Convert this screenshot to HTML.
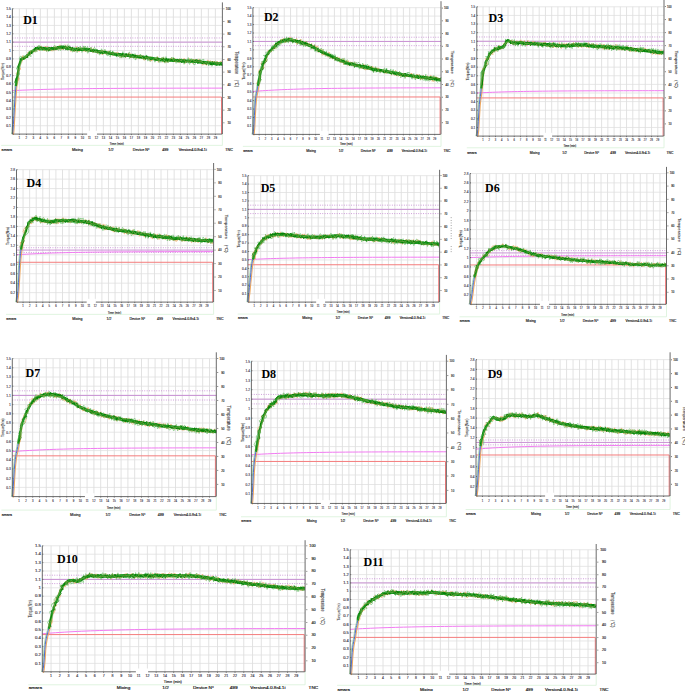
<!DOCTYPE html>
<html><head><meta charset="utf-8"><title>Torque curves</title>
<style>html,body{margin:0;padding:0;background:#fff;width:685px;height:691px;overflow:hidden;font-family:"Liberation Sans",sans-serif}svg{display:block}</style>
</head><body><svg width="685" height="691" viewBox="0 0 685 691" font-family='"Liberation Sans", sans-serif' ><g><path d="M12.4 125.74H222.4M12.4 117.38H222.4M12.4 109.02H222.4M12.4 100.66H222.4M12.4 92.3H222.4M12.4 83.94H222.4M12.4 75.58H222.4M12.4 67.22H222.4M12.4 58.86H222.4M12.4 50.5H222.4M12.4 42.14H222.4M12.4 33.78H222.4M12.4 25.42H222.4M12.4 17.06H222.4M12.4 8.7H222.4" stroke="#e4e4e4" stroke-width="0.9" fill="none"/><path d="M19.4 8.7V134.1M26.4 8.7V134.1M33.4 8.7V134.1M40.4 8.7V134.1M47.4 8.7V134.1M54.4 8.7V134.1M61.4 8.7V134.1M68.4 8.7V134.1M75.4 8.7V134.1M82.4 8.7V134.1M89.4 8.7V134.1M96.4 8.7V134.1M103.4 8.7V134.1M110.4 8.7V134.1M117.4 8.7V134.1M124.4 8.7V134.1M131.4 8.7V134.1M138.4 8.7V134.1M145.4 8.7V134.1M152.4 8.7V134.1M159.4 8.7V134.1M166.4 8.7V134.1M173.4 8.7V134.1M180.4 8.7V134.1M187.4 8.7V134.1M194.4 8.7V134.1M201.4 8.7V134.1M208.4 8.7V134.1M215.4 8.7V134.1" stroke="#dfdfdf" stroke-width="0.9" fill="none"/><path d="M12.4 42.14H222.4" stroke="#c990d4" stroke-width="1"/><path d="M12.4 37.96H222.4M12.4 46.32H222.4" stroke="#c58ad2" stroke-width="0.9" stroke-dasharray="0.9 1.5"/><polyline points="12.4,90.63 15.9,90.45 19.4,90.29 22.9,90.14 26.4,90 29.9,89.86 33.4,89.74 36.9,89.63 40.4,89.52 43.9,89.42 47.4,89.33 50.9,89.24 54.4,89.16 57.9,89.09 61.4,89.02 64.9,88.96 68.4,88.9 71.9,88.84 75.4,88.79 78.9,88.74 82.4,88.69 85.9,88.65 89.4,88.61 92.9,88.58 96.4,88.54 99.9,88.51 103.4,88.48 106.9,88.45 110.4,88.43 113.9,88.41 117.4,88.38 120.9,88.36 124.4,88.34 127.9,88.33 131.4,88.31 134.9,88.29 138.4,88.28 141.9,88.27 145.4,88.25 148.9,88.24 152.4,88.23 155.9,88.22 159.4,88.21 162.9,88.2 166.4,88.19 169.9,88.19 173.4,88.18 176.9,88.17 180.4,88.17 183.9,88.16 187.4,88.16 190.9,88.15 194.4,88.15 197.9,88.14 201.4,88.14 204.9,88.14 208.4,88.13 211.9,88.13 215.4,88.13 218.9,88.12 222.4,88.12" stroke="#f27af2" stroke-width="1" fill="none"/><path d="M12.4 97.07H221.5V134.1" stroke="#f47c7c" stroke-width="1" fill="none"/><polyline points="12.4,134.1 12.9,131.52 13.4,124.49 13.9,115.76 14.4,107.39 14.9,99.75 15.4,92.85 15.9,86.09 16.4,81.86 16.9,79.18 17.4,76.67" stroke="#eea860" stroke-width="1.1" fill="none" transform="translate(0.9,0.9)"/><polyline points="12.4,134.1 12.9,131.52 13.4,124.49 13.9,115.76 14.4,107.39 14.9,99.75 15.4,92.85 15.9,86.09 16.4,81.86 16.9,79.18 17.4,76.67" stroke="#8cc88c" stroke-width="0.8" fill="none" transform="translate(-0.9,0)"/><polyline points="12.4,134.1 12.9,131.52 13.4,124.49 13.9,115.76 14.4,107.39 14.9,99.75 15.4,92.85 15.9,86.09 16.4,81.86 16.9,79.18 17.4,76.67" stroke="#3a5fcd" stroke-width="0.9" fill="none"/><polyline points="16.3,82.9 19.2,78.9 16.1,73.4 20.8,69.1 18.5,64.5 19.9,61.4 22.5,60.5 21.6,58.5 22.7,58.9 22.6,55.7 24.9,59.3 25.2,57.7 25.2,56.1 27.7,57.3 26.7,54.5 28.1,54.5 27.7,52.5 29.5,53 29.6,51.5 30.6,51.1 33.2,52.6 32.2,49.9 33.8,50 36.2,51.7 36.6,51.5 36.6,50 37.1,48.8 37.6,47.1 38.4,46.3 39.7,51 40.3,48.3 41.2,45.9 41.8,49 42.4,50 43.3,49.1 43.9,51 45.4,46 45.8,49 46.7,48.6 47.4,46.3 48.3,49.7 49.1,51 49.9,49.4 50.6,47.4 51.6,50.8 52.3,48.8 53.1,48.7 54,50.1 54.4,46.5 55.8,50.3 56.5,49.3 57.5,49.7 57.4,46.1 59.1,49.3 59.1,45.6 59.9,44.8 61.2,49.3 61.8,49.3 62.4,49.4 63.5,47.2 64.5,46.2 65.7,44.8 65.7,48.6 66.4,49.3 67.1,50.1 68.5,47 69.3,46.8 69.7,49.4 70.3,50.5 71,51.6 72.6,47 73.1,49 73.6,51.6 74.7,48.9 75.5,49.9 76.3,46.5 77.1,50.4 77.9,51.8 78.7,51.3 79.5,51.6 80.3,50.3 81.1,47.8 81.9,50.9 82.7,47.6 83.3,51.3 84.5,46.8 84.8,51.4 86.1,47.6 86.8,49 87.6,48.7 88.1,51 89.3,48.2 89.9,49.5 91.1,47.4 91.7,49 92.3,50 93.4,48.3 93.7,51.5 94.8,50.2 95.2,52.3 96.1,52 97.1,50.9 97.5,53.5 98.5,52.3 99.2,53.4 100.4,50.8 101,52.1 102.1,50.2 102.2,55 103.7,50.8 104.5,51 105.5,50.1 106.1,51.3 106.4,54.3 107.3,54.1 108.6,50.9 109.2,52.5 109.9,52.9 110.5,54.4 111.5,53.3 112.2,54.2 112.7,55.8 113.6,55.3 114.8,53.4 115.5,54 116.4,53.6 117.3,52.2 118,52.8 118.7,53.3 119.5,53.6 120.3,53.6 121,55.2 121.7,57.6 122.5,56.5 123.3,56.6 124.1,56.5 125,55.6 125.6,57.6 126.5,56.4 127.4,55.4 128.6,53 129.1,55.5 130.1,54.1 130.9,53.7 131.4,56 132,57.7 133.2,54.9 133.7,57.8 134.6,56.5 135.7,54.4 135.9,59.2 137.1,56 138,55.5 138.4,58.8 139.7,54.7 140.1,58.3 141.2,55.2 141.9,56.5 142.8,55.6 143.2,59.3 144.3,56.7 144.7,60.3 145.8,58.3 146.5,58.8 147.4,57.9 148.4,56.8 149.1,57.4 149.5,60.7 150.9,56.5 151,61.2 152,60 153.2,57.8 153.7,59.6 154.8,58.2 155.6,58.4 156.2,59.2 157.5,56.5 157.9,59.4 158.3,62.3 159.6,58.4 160.1,61.1 161.1,59.4 162,58.1 162.5,62.2 163.6,57 164.3,58.8 164.9,62.9 165.9,58.6 166.5,62.1 167.4,60.7 168.2,61.9 169,60.9 169.9,59.4 170.6,61.8 171.6,57.5 172.3,60 173.1,59.6 173.9,60.3 174.8,58.2 175.5,58.8 176.2,60.9 177.1,59.9 177.8,62.3 178.6,61.2 179.3,62.8 180.2,62.1 181,61.3 181.9,59.5 182.6,62.5 183.5,59.4 184.4,58.4 184.9,63.7 185.8,61.2 186.6,62.6 187.4,61.2 188.2,61.7 189.1,58.3 189.9,59.2 190.6,62.1 191.4,61.5 192.3,59.1 193,63.8 193.9,59.1 194.6,61.3 195.7,59.2 196.1,62.6 197.3,60.2 198.2,59.5 199.1,59.1 199.8,60 200.5,60.3 201,62.4 201.9,62 202.4,65 203.2,65.1 204.1,64.2 205,63.6 205.7,64.7 206.4,65.3 207.7,60 208.5,60.6 209.1,62.1 210.1,60.7 210.6,63.7 211.6,61.8 212.4,62 213.2,62.2 214.1,61.1 214.5,65 215.4,64.5 216.2,64.3 217.2,61 217.9,63.3 218.6,64.9 219.5,61.8 220.3,63.2 221.1,61 221.9,61.4" stroke="#eaa862" stroke-width="0.7" fill="none"/><polyline points="14.9,82.7 15.9,78.2 19.7,73.8 16.3,68.1 20,64.8 21.6,62 19.4,58.5 20.4,56.2 22.2,57.1 23.8,59.4 24.5,58.4 23.6,55.6 25.5,56.5 27.4,56.9 27.1,55 28.8,55.4 31.1,56.5 30.6,54.4 30.2,52.2 30.1,50.5 31.6,50.7 33.1,50.9 35.5,52.1 35.7,51 34.9,47.9 37,51.7 37,48.4 38.1,49.8 38.3,45.5 39.2,45.4 40.2,46 40.9,50.9 41.7,49.5 42.3,50.8 43.3,49.5 44.4,47.9 45,48.8 45.8,49.5 46.5,51.5 47.4,48.5 48.3,51.7 49.1,49.7 49.9,51.2 50.6,48.8 51.5,50.1 52.2,47.6 53.1,48.8 53.7,46.6 54.3,45.7 54.8,45.2 56.6,49.6 57,47.7 58.6,50.5 59.3,49.9 59.3,46.6 60.7,50.6 61.1,47.8 61.8,49.1 62.7,46.6 63.8,45.2 64.7,45.2 65.5,45.4 65.7,48.5 67.2,45.3 68.1,44.8 67.9,50.6 69.5,45.6 69.9,48.2 70.7,48.7 71.3,49.7 72.2,49.1 72.6,52.2 73.7,51 74.6,49.8 75.5,50.2 76.3,49.4 77.1,52.6 77.9,47.4 78.7,50.7 79.5,49.7 80.3,46.1 81.1,47.9 81.9,52.4 82.6,51.4 83.6,45.9 84.4,48 85.4,46 85.6,51.9 87,47 87.9,46.7 87.8,53.3 89.1,49.7 90,48.9 91.1,47.1 91.6,49.6 92.4,49.6 93,50.8 94.4,47.3 95.1,48.4 95.8,49 96.3,50.7 97.3,49.9 97.7,52.2 98.9,50 99,54.5 99.8,55 101.5,48.8 102.2,50 102.6,52.6 103.1,54.2 104.8,49.3 105.4,50.3 105.9,52.4 106.4,54 107,55.7 107.8,55.6 108.7,55.3 110.4,50.2 110.1,56.8 111.3,54.4 112.8,50.9 113.3,52.2 113.7,54.9 114.8,53.3 115.5,53.9 116,56.5 116.8,56.8 117.8,54.9 118.5,56.7 119.5,54 120,58.1 121,55.5 121.6,58.1 122.9,51.6 123.2,57.6 124.2,55.4 124.9,56.6 126.1,53 126.6,55.6 127.7,53.9 128.6,52.7 129.6,52.1 129.4,58.6 130.5,57 131.7,53.9 132.5,54.3 133.1,55.9 133.6,58.5 135,53.6 135.1,59.7 135.9,59.6 137.3,54.8 137.7,57.7 138.8,55.8 139.3,58.3 140.6,54.1 141.1,56.8 141.8,57.8 142.6,58.1 143.3,58.7 143.9,60.1 145.3,55.7 146.2,55.1 146.8,56.9 147.4,58.3 147.8,61.1 148.8,59.5 149.6,59.8 150.2,61.6 151.7,56.8 152.5,56.8 153.1,58.1 154.1,57.3 154.5,60 154.9,62.2 156.7,56.8 157,59.4 157.7,60.7 158.7,59.5 159.2,62.5 160.1,61.4 160.9,62.4 162,57 162.8,57.7 163.6,56.8 164.1,62.3 164.9,63.2 166,56.6 166.5,62.1 167.4,61.7 168.1,63 169.1,58.5 169.8,61.7 170.7,58.4 171.6,57.3 172.2,62 173.2,57.1 173.8,61.8 174.7,58.9 175.5,60.4 176.1,63.3 177.1,58.7 177.9,60.4 178.7,59.6 179.6,58.5 180.3,60.5 181.2,58.5 181.7,62.9 182.6,61.6 183.5,59.3 184.1,64.3 185.1,59.8 185.8,62.2 186.6,62.7 187.5,59.4 188.3,57.6 189,63.9 189.8,64.3 190.7,58.8 191.5,58.7 192.3,60.7 193,61.8 193.7,64.6 194.5,64.5 195.1,64.7 196.5,59.6 196.9,62.2 197.9,61.2 199,59.9 200,58.9 200.6,59.7 201.2,61.2 202.2,59.4 202.9,59.9 203.8,59.2 204.2,63.4 205.1,62.5 206,60.8 206.6,62.9 207.5,62.2 208.1,64 208.7,66 210,62 210.5,64.2 211.7,61.3 211.9,66.4 213,64.3 214.1,61.1 214.8,61.9 215.6,61.2 216.4,61.4 217.1,62.3 217.7,66 218.7,63.5 219.5,62.2 220.3,63.3 221.1,62.2 221.8,65.5" stroke="#70c070" stroke-width="0.7" fill="none"/><polygon points="15.9,84.5 16.9,77.6 17.9,71.7 18.9,65.9 19.9,61.1 20.9,58.3 21.9,57.3 22.9,57 23.9,56.7 24.9,56.1 25.9,55.2 26.9,54.3 27.9,53.5 28.9,52.6 29.9,51.8 30.9,51 31.9,50.2 32.9,49.4 33.9,48.5 34.9,47.8 35.9,47.3 36.9,47.1 37.9,46.9 38.9,46.7 39.9,46.6 40.9,46.6 41.9,46.7 42.9,46.8 43.9,47 44.9,47.1 45.9,47.3 46.9,47.4 47.9,47.4 48.9,47.3 49.9,47.3 50.9,47.3 51.9,47.2 52.9,47.1 53.9,47.1 54.9,47 55.9,46.8 56.9,46.5 57.9,46.2 58.9,46 59.9,45.8 60.9,45.6 61.9,45.6 62.9,45.7 63.9,45.9 64.9,46.1 65.9,46.3 66.9,46.5 67.9,46.7 68.9,46.9 69.9,47 70.9,47.2 71.9,47.4 72.9,47.6 73.9,47.7 74.9,47.8 75.9,47.8 76.9,47.8 77.9,47.8 78.9,47.8 79.9,47.8 80.9,47.8 81.9,47.8 82.9,47.8 83.9,47.8 84.9,47.9 85.9,48 86.9,48.2 87.9,48.3 88.9,48.5 89.9,48.6 90.9,48.7 91.9,48.9 92.9,49.1 93.9,49.2 94.9,49.4 95.9,49.5 96.9,49.7 97.9,49.9 98.9,50 99.9,50.2 100.9,50.3 101.9,50.5 102.9,50.6 103.9,50.8 104.9,51 105.9,51.1 106.9,51.3 107.9,51.5 108.9,51.6 109.9,51.8 110.9,52 111.9,52.1 112.9,52.3 113.9,52.5 114.9,52.6 115.9,52.8 116.9,52.9 117.9,53 118.9,53.1 119.9,53.2 120.9,53.2 121.9,53.3 122.9,53.3 123.9,53.4 124.9,53.5 125.9,53.6 126.9,53.8 127.9,53.9 128.9,54 129.9,54.2 130.9,54.3 131.9,54.4 132.9,54.6 133.9,54.7 134.9,54.8 135.9,54.9 136.9,55 137.9,55.2 138.9,55.3 139.9,55.4 140.9,55.5 141.9,55.6 142.9,55.7 143.9,55.8 144.9,55.9 145.9,56 146.9,56.2 147.9,56.3 148.9,56.5 149.9,56.6 150.9,56.8 151.9,56.9 152.9,57.1 153.9,57.2 154.9,57.4 155.9,57.6 156.9,57.7 157.9,57.9 158.9,58 159.9,58.1 160.9,58.2 161.9,58.2 162.9,58.3 163.9,58.4 164.9,58.4 165.9,58.5 166.9,58.5 167.9,58.6 168.9,58.6 169.9,58.7 170.9,58.7 171.9,58.7 172.9,58.8 173.9,58.8 174.9,58.9 175.9,58.9 176.9,59 177.9,59 178.9,59.1 179.9,59.1 180.9,59.2 181.9,59.2 182.9,59.3 183.9,59.3 184.9,59.4 185.9,59.4 186.9,59.5 187.9,59.5 188.9,59.5 189.9,59.5 190.9,59.6 191.9,59.6 192.9,59.6 193.9,59.6 194.9,59.7 195.9,59.8 196.9,59.9 197.9,60.1 198.9,60.3 199.9,60.4 200.9,60.6 201.9,60.7 202.9,60.8 203.9,60.9 204.9,61 205.9,61.1 206.9,61.2 207.9,61.3 208.9,61.4 209.9,61.5 210.9,61.6 211.9,61.7 212.9,61.9 213.9,62 214.9,62 215.9,62.1 216.9,62.2 217.9,62.2 218.9,62.2 219.9,62.3 220.9,62.3 221.9,62.3 222.4,65.4 221.4,65.4 220.4,65.4 219.4,65.4 218.4,65.3 217.4,65.3 216.4,65.2 215.4,65.2 214.4,65.1 213.4,65 212.4,64.9 211.4,64.8 210.4,64.7 209.4,64.5 208.4,64.4 207.4,64.3 206.4,64.2 205.4,64.1 204.4,64.1 203.4,64 202.4,63.9 201.4,63.8 200.4,63.6 199.4,63.5 198.4,63.3 197.4,63.1 196.4,62.9 195.4,62.8 194.4,62.8 193.4,62.7 192.4,62.7 191.4,62.7 190.4,62.7 189.4,62.6 188.4,62.6 187.4,62.6 186.4,62.5 185.4,62.5 184.4,62.5 183.4,62.4 182.4,62.4 181.4,62.3 180.4,62.2 179.4,62.2 178.4,62.2 177.4,62.1 176.4,62.1 175.4,62 174.4,62 173.4,61.9 172.4,61.9 171.4,61.8 170.4,61.8 169.4,61.7 168.4,61.7 167.4,61.6 166.4,61.6 165.4,61.5 164.4,61.5 163.4,61.4 162.4,61.4 161.4,61.3 160.4,61.2 159.4,61.2 158.4,61.1 157.4,60.9 156.4,60.8 155.4,60.6 154.4,60.4 153.4,60.2 152.4,60.1 151.4,59.9 150.4,59.8 149.4,59.6 148.4,59.5 147.4,59.3 146.4,59.2 145.4,59.1 144.4,59 143.4,58.8 142.4,58.7 141.4,58.6 140.4,58.5 139.4,58.4 138.4,58.3 137.4,58.2 136.4,58.1 135.4,58 134.4,57.9 133.4,57.7 132.4,57.6 131.4,57.5 130.4,57.4 129.4,57.2 128.4,57.1 127.4,56.9 126.4,56.8 125.4,56.7 124.4,56.6 123.4,56.5 122.4,56.4 121.4,56.3 120.4,56.3 119.4,56.2 118.4,56.2 117.4,56.1 116.4,56 115.4,55.8 114.4,55.7 113.4,55.5 112.4,55.3 111.4,55.1 110.4,55 109.4,54.8 108.4,54.6 107.4,54.5 106.4,54.3 105.4,54.1 104.4,54 103.4,53.8 102.4,53.6 101.4,53.5 100.4,53.3 99.4,53.2 98.4,53 97.4,52.9 96.4,52.7 95.4,52.6 94.4,52.4 93.4,52.2 92.4,52.1 91.4,51.9 90.4,51.8 89.4,51.6 88.4,51.5 87.4,51.4 86.4,51.2 85.4,51.1 84.4,51 83.4,50.9 82.4,50.9 81.4,50.9 80.4,50.9 79.4,50.9 78.4,50.9 77.4,50.9 76.4,50.9 75.4,50.9 74.4,50.8 73.4,50.7 72.4,50.6 71.4,50.4 70.4,50.2 69.4,50 68.4,49.9 67.4,49.7 66.4,49.5 65.4,49.3 64.4,49.1 63.4,48.9 62.4,48.8 61.4,48.7 60.4,48.8 59.4,49 58.4,49.2 57.4,49.5 56.4,49.8 55.4,50 54.4,50.1 53.4,50.2 52.4,50.3 51.4,50.3 50.4,50.4 49.4,50.4 48.4,50.5 47.4,50.5 46.4,50.4 45.4,50.3 44.4,50.2 43.4,50 42.4,49.9 41.4,49.8 40.4,49.7 39.4,49.8 38.4,49.9 37.4,50.1 36.4,50.3 35.4,50.6 34.4,51.2 33.4,52 32.4,52.9 31.4,53.7 30.4,54.5 29.4,55.3 28.4,56.2 27.4,57 26.4,57.9 25.4,58.8 24.4,59.5 23.4,59.9 22.4,60.2 21.4,60.7 20.4,62.6 19.4,66.5 18.4,71.4 17.4,78.2 16.4,83.4" fill="#1e961e"/><polyline points="15.9,86.1 16.9,79.2 17.9,73.2 18.9,67.4 19.9,62.7 20.9,59.8 21.9,58.9 22.9,58.5 23.9,58.2 24.9,57.6 25.9,56.8 26.9,55.9 27.9,55 28.9,54.2 29.9,53.4 30.9,52.6 31.9,51.8 32.9,50.9 33.9,50.1 34.9,49.3 35.9,48.9 36.9,48.6 37.9,48.4 38.9,48.3 39.9,48.2 40.9,48.2 41.9,48.2 42.9,48.4 43.9,48.5 44.9,48.7 45.9,48.8 46.9,48.9 47.9,48.9 48.9,48.9 49.9,48.9 50.9,48.8 51.9,48.8 52.9,48.7 53.9,48.6 54.9,48.5 55.9,48.3 56.9,48.1 57.9,47.8 58.9,47.5 59.9,47.3 60.9,47.2 61.9,47.2 62.9,47.3 63.9,47.4 64.9,47.6 65.9,47.8 66.9,48 67.9,48.2 68.9,48.4 69.9,48.6 70.9,48.8 71.9,49 72.9,49.1 73.9,49.3 74.9,49.3 75.9,49.3 76.9,49.3 77.9,49.3 78.9,49.3 79.9,49.3 80.9,49.3 81.9,49.3 82.9,49.3 83.9,49.4 84.9,49.5 85.9,49.6 86.9,49.7 87.9,49.9 88.9,50 89.9,50.1 90.9,50.3 91.9,50.4 92.9,50.6 93.9,50.8 94.9,50.9 95.9,51.1 96.9,51.2 97.9,51.4 98.9,51.6 99.9,51.7 100.9,51.9 101.9,52 102.9,52.2 103.9,52.3 104.9,52.5 105.9,52.7 106.9,52.8 107.9,53 108.9,53.2 109.9,53.3 110.9,53.5 111.9,53.7 112.9,53.9 113.9,54 114.9,54.2 115.9,54.3 116.9,54.5 117.9,54.6 118.9,54.6 119.9,54.7 120.9,54.8 121.9,54.8 122.9,54.9 123.9,55 124.9,55.1 125.9,55.2 126.9,55.3 127.9,55.4 128.9,55.6 129.9,55.7 130.9,55.9 131.9,56 132.9,56.1 133.9,56.2 134.9,56.4 135.9,56.5 136.9,56.6 137.9,56.7 138.9,56.8 139.9,56.9 140.9,57 141.9,57.1 142.9,57.2 143.9,57.3 144.9,57.5 145.9,57.6 146.9,57.7 147.9,57.9 148.9,58 149.9,58.1 150.9,58.3 151.9,58.5 152.9,58.6 153.9,58.8 154.9,58.9 155.9,59.1 156.9,59.3 157.9,59.4 158.9,59.6 159.9,59.7 160.9,59.7 161.9,59.8 162.9,59.9 163.9,59.9 164.9,60 165.9,60 166.9,60.1 167.9,60.1 168.9,60.2 169.9,60.2 170.9,60.2 171.9,60.3 172.9,60.3 173.9,60.4 174.9,60.4 175.9,60.5 176.9,60.5 177.9,60.6 178.9,60.6 179.9,60.7 180.9,60.7 181.9,60.8 182.9,60.8 183.9,60.9 184.9,60.9 185.9,61 186.9,61 187.9,61 188.9,61.1 189.9,61.1 190.9,61.1 191.9,61.1 192.9,61.2 193.9,61.2 194.9,61.2 195.9,61.3 196.9,61.5 197.9,61.6 198.9,61.8 199.9,62 200.9,62.1 201.9,62.3 202.9,62.4 203.9,62.5 204.9,62.6 205.9,62.6 206.9,62.7 207.9,62.8 208.9,62.9 209.9,63 210.9,63.2 211.9,63.3 212.9,63.4 213.9,63.5 214.9,63.6 215.9,63.7 216.9,63.7 217.9,63.8 218.9,63.8 219.9,63.8 220.9,63.9 221.9,63.9" stroke="#1e961e" stroke-width="2.2" fill="none" stroke-linejoin="round"/><polyline points="14.8,82.7 16,78.7 18.7,75.3 18.6,70.2 17.6,66.4 19.5,63.2 20.4,60.9 20.1,58.6 22.3,59.8 22,57.1 23.1,58 24,58.3 24.5,57.6 25.6,57.5 26.7,57.4 28,57.4 26.9,54.7 28.5,55.3 29.4,54.9 29,53 29,51.5 32.2,54 31.1,51.3 31.9,50.8 34.1,52 34,50.5 34.4,49.5 35.7,50.2 35.3,47 36.8,49.6 37.1,48 37.6,46.7 38.7,49 39.5,50.1 40,46.9 40.7,48.7 41.5,47.3 42,49.3 42.7,49.3 43.7,47.3 44,50 44.9,49.4 45.6,49.6 46.2,50.2 47.1,48.6 47.8,50 48.5,50.5 49.1,47.2 49.9,50.4 50.5,48.4 51.2,48.7 51.9,47.2 52.7,49.6 53.3,47.8 54.2,50.2 54.6,47.6 55.5,48.7 56,47.9 57,48.6 57.2,46.7 57.9,46.4 59.2,48.5 59.9,48.4 60.4,47.5 61.1,49 61.8,45.9 62.3,48.7 63.3,45.9 63.5,49.4 64.4,48.1 65.2,48.1 65.5,49.8 66.4,49.2 67.1,49.4 68.4,46.4 68.8,47.8 69.8,46.8 70.4,47.3 71.1,47.6 71.3,50.4 72.5,47.4 73.1,48.3 73.7,49.2 74.2,50.8 75,51.3 75.8,50.2 76.4,48.1 77.1,49.5 77.8,50.2 78.5,47.4 79.2,50.1 79.9,48.8 80.6,49.7 81.3,50.1 82,50.1 82.7,49.4 83.4,49.6 84.3,48.1 84.9,49.5 85.7,48 86.3,49.6 86.9,49.9 87.5,51 88.4,49.5 89.3,48 89.7,50.2 90.6,49 91,51.3 91.9,50 92.6,50 93,52.4 94,50.3 94.8,50.2 95.5,50.4 96.1,51 97,49.5 97.4,51.5 97.9,53.2 98.8,51.8 99.4,52.7 100,53.7 100.7,53.3 101.5,53 102.1,53.4 102.8,53.6 103.9,51.3 104.5,52.4 105.3,51.9 106,51.7 106.5,53.1 107.4,52.1 107.9,53.5 108.6,53.5 109.6,51.6 110.1,53.1 110.8,53 111.3,54.5 112.5,52 113.1,52.4 113.5,54 114.3,53.7 114.8,54.9 115.8,53.6 116.5,53.1 116.8,56.3 117.8,53.5 118.6,53.1 119.2,53.7 119.9,54 120.6,53.6 121.2,54.9 121.8,56.7 122.8,53.3 123.4,54.6 124,55.7 124.6,56.7 125.2,57.3 126.3,53.7 126.8,55.5 127.3,57 128.5,53.6 128.9,56 129.8,54.3 130.2,56.9 130.8,57.8 131.7,56.1 132.7,54 133.4,54.3 133.9,55.9 134.4,57.8 135.4,55.3 135.9,57.2 136.7,56.2 137.5,55.6 138,57.6 138.8,56 139.5,56.3 140,58.1 140.9,57 141.4,58.3 142.2,57.2 143.1,55.8 143.7,57.1 144.2,59 145,57.8 145.5,59.5 146.7,55.5 147.2,57.1 147.7,59 148.4,58.7 149.2,58.3 149.8,58.9 150.4,59.9 151.2,59.1 152,58.7 152.7,58.8 153.3,59.4 154.3,58.1 154.7,59.7 155.5,59.5 156,60.4 157,59.2 157.9,57.4 158.3,59.7 158.9,61.1 159.7,60.2 160.4,60.3 161.2,59.3 161.9,59.2 162.5,60.8 163.3,58.1 163.9,61.5 164.6,61.6 165.2,62 166.1,58.4 166.8,58.4 167.4,61.8 168.2,59.7 168.9,59.2 169.6,59.7 170.2,60.9 171,58.8 171.7,60.2 172.3,61 173,61.3 173.9,58.3 174.4,61.7 175.2,60.2 175.9,60.2 176.5,60.8 177.3,59.6 177.9,62.2 178.7,59.4 179.3,60.8 180.1,59.3 180.7,61.2 181.4,62.5 182.1,62.4 182.9,59.3 183.5,61.4 184.2,62.6 185,59.6 185.7,60.6 186.3,61.9 187,62 187.8,60.8 188.4,61.7 189.1,61.8 189.9,60.5 190.5,61.8 191.2,61.4 191.9,62 192.6,61.2 193.4,60.5 194.1,60.9 194.6,63 195.6,59.9 196.3,59.9 197.2,59.4 197.3,63.1 197.9,63.8 199.1,60.7 199.8,61 200.5,60.8 201,62.6 201.8,62.2 202.3,63.7 203.3,61.1 203.7,64.1 204.6,62.4 205.1,63.9 205.8,63.9 206.5,64.5 207.4,62.8 208,63.3 208.7,63.2 209.6,61.7 210.1,63.1 210.6,65 211.3,65 212.5,61.3 212.9,64.1 213.7,62.7 214.5,62 215.2,62.1 215.7,64.9 216.3,65.7 217.1,63.8 217.9,63.3 218.5,63.8 219.2,65.2 219.9,64.9 220.7,62 221.4,62.6 222,65.5" stroke="#007c00" stroke-width="0.8" fill="none"/><polyline points="18,83.1 18.5,69.6 22.5,61.1 22.3,56.6 25.4,57.9 26.9,55.1 30.3,54.8 30.7,50.8 35,51.4 36.1,49 38.6,50.3 40.5,48 42.7,48 44.6,50.1 47,51.3 49.2,48.2 51.6,51.1 53.8,50.7 55.5,46.8 58.2,48.3 60.4,48.2 62.3,49.4 64.5,48.3 67.2,46.3 69.1,48.4 71.3,48.8 73.4,49.2 75.7,51.6 77.9,48.6 80.1,48 82.3,49.4 84.4,50.1 86.4,51.8 88.8,50.4 91.2,49.2 92.9,52.7 95.5,51 97.5,52.2 99.9,51.6 102.3,50.7 104.1,53.3 106.2,54.1 108.9,51.6 110.9,53.3 113.2,53.2 115.5,52.6 117.6,53.2 119.5,57 121.7,56.7 124.1,54.4 126.1,56.4 128.8,53.3 130.4,57.8 132.8,56.3 134.9,57.9 137.4,55.5 139.5,56.3 141.7,56.4 143.6,59.6 146.1,57.3 148.3,57.9 150.1,60.4 152.3,60.5 154.9,58.4 157.2,58.4 159.1,61.1 161.6,57.8 163.7,59.4 165.8,61.8 167.9,62.2 170.3,58.9 172.5,58.3 174.6,61.8 176.8,61.1 179.1,59.4 181.2,60.8 183.6,58.8 185.6,61.9 187.8,61.2 190,62.1 192.3,59.1 194.4,61.9 196.7,60.8 198.9,61.8 201.2,61.4 203.2,63.1 205.4,62.9 207.6,63.4 210.1,60.9 212.2,62 214.4,61.5 216.5,63.1 218.7,63.7 220.9,62" stroke="#d9a35a" stroke-width="0.5" stroke-opacity="0.8" fill="none"/><polyline points="17.2,83 19.2,70.9 20.3,61.5 22,58 23.5,56.6 26,56.2 28,54.5 29.2,51.8 31.2,50.3 35.3,51.2 36.4,49.3 38.1,47.4 40.2,47.9 42,50 44,50 46.1,50.1 48.2,48.5 50.2,48.8 52.3,49.4 54.1,47 56.3,48.5 58,46.9 60.5,48.6 62.4,45.6 64.1,48.1 66,49.2 68.4,47.3 70,50.1 72,50.4 74.4,47.5 76.2,50.1 78.2,47.5 80.2,49.3 82.3,49.1 84.3,48.3 86.3,49 88.1,51 90.3,49.5 92.5,49.2 94.1,51.5 96.3,51 98.1,52.5 100.4,50.8 102.4,51.4 104.1,53.5 106.2,52.8 108.2,53.1 110.4,52.4 112.6,52 114,55.7 116.4,52.9 118.1,55.9 120.3,54.2 122.1,56.5 124.3,54.6 126,56.8 128.2,55.7 130.4,54.8 132.1,56.9 134.2,56.9 136.2,57.2 138.3,56.6 140.4,55.9 142.2,57.7 144.4,55.9 146.2,58.3 148.2,58.4 150.3,57.8 152.1,59.6 154.4,57.7 156.3,58.8 158.1,60.6 160.3,59.2 162.2,60.6 164.2,60.3 166.2,61.7 168.2,61.9 170.2,61 172.2,61.5 174.3,59.1 176.2,61.3 178.2,61.9 180.3,60.3 182.2,61 184.3,60.8 186.2,62.7 188.3,60.4 190.3,60.7 192.3,59.3 194.3,60.9 196.2,61.9 198,63.3 200,63.6 202.3,61.7 204.1,64.3 206.4,61.5 208.1,64 210.4,61.8 212.3,63 214.4,62 216.2,65 218.2,65 220.3,62.5 222.2,64" stroke="#5cb85c" stroke-width="0.5" stroke-opacity="0.8" fill="none"/><path d="M12.4 8.7V134.1" stroke="#5a5a5a" stroke-width="0.9"/><path d="M222.4 2.4V134.1" stroke="#5a5a5a" stroke-width="0.9"/><path d="M12.4 134.1H222.4" stroke="#5a5a5a" stroke-width="0.9"/><path d="M12.4 125.74h1M12.4 117.38h1M12.4 109.02h1M12.4 100.66h1M12.4 92.3h1M12.4 83.94h1M12.4 75.58h1M12.4 67.22h1M12.4 58.86h1M12.4 50.5h1M12.4 42.14h1M12.4 33.78h1M12.4 25.42h1M12.4 17.06h1M12.4 8.7h1M19.4 134.1v1M26.4 134.1v1M33.4 134.1v1M40.4 134.1v1M47.4 134.1v1M54.4 134.1v1M61.4 134.1v1M68.4 134.1v1M75.4 134.1v1M82.4 134.1v1M89.4 134.1v1M96.4 134.1v1M103.4 134.1v1M110.4 134.1v1M117.4 134.1v1M124.4 134.1v1M131.4 134.1v1M138.4 134.1v1M145.4 134.1v1M152.4 134.1v1M159.4 134.1v1M166.4 134.1v1M173.4 134.1v1M180.4 134.1v1M187.4 134.1v1M194.4 134.1v1M201.4 134.1v1M208.4 134.1v1M215.4 134.1v1M223.36 122.8h1M223.36 110.13h1M223.36 97.47h1M223.36 84.8h1M223.36 72.13h1M223.36 59.47h1M223.36 46.8h1M223.36 34.13h1M223.36 21.47h1M223.36 8.8h1" stroke="#555" stroke-width="0.8" fill="none"/><rect x="87.16" y="130.8" width="9.8" height="4.6" fill="#fff"/><text transform="translate(10.9 126.94) scale(1.017 1)" font-size="3.34" text-anchor="end" fill="#4a4452" stroke="#4a4452" stroke-width="0.15">0.1</text><text transform="translate(10.9 118.58) scale(1.017 1)" font-size="3.34" text-anchor="end" fill="#4a4452" stroke="#4a4452" stroke-width="0.15">0.2</text><text transform="translate(10.9 110.22) scale(1.017 1)" font-size="3.34" text-anchor="end" fill="#4a4452" stroke="#4a4452" stroke-width="0.15">0.3</text><text transform="translate(10.9 101.86) scale(1.017 1)" font-size="3.34" text-anchor="end" fill="#4a4452" stroke="#4a4452" stroke-width="0.15">0.4</text><text transform="translate(10.9 93.5) scale(1.017 1)" font-size="3.34" text-anchor="end" fill="#4a4452" stroke="#4a4452" stroke-width="0.15">0.5</text><text transform="translate(10.9 85.14) scale(1.017 1)" font-size="3.34" text-anchor="end" fill="#4a4452" stroke="#4a4452" stroke-width="0.15">0.6</text><text transform="translate(10.9 76.78) scale(1.017 1)" font-size="3.34" text-anchor="end" fill="#4a4452" stroke="#4a4452" stroke-width="0.15">0.7</text><text transform="translate(10.9 68.42) scale(1.017 1)" font-size="3.34" text-anchor="end" fill="#4a4452" stroke="#4a4452" stroke-width="0.15">0.8</text><text transform="translate(10.9 60.06) scale(1.017 1)" font-size="3.34" text-anchor="end" fill="#4a4452" stroke="#4a4452" stroke-width="0.15">0.9</text><text transform="translate(10.9 51.7) scale(1.017 1)" font-size="3.34" text-anchor="end" fill="#4a4452" stroke="#4a4452" stroke-width="0.15">1</text><text transform="translate(10.9 43.34) scale(1.017 1)" font-size="3.34" text-anchor="end" fill="#4a4452" stroke="#4a4452" stroke-width="0.15">1.1</text><text transform="translate(10.9 34.98) scale(1.017 1)" font-size="3.34" text-anchor="end" fill="#4a4452" stroke="#4a4452" stroke-width="0.15">1.2</text><text transform="translate(10.9 26.62) scale(1.017 1)" font-size="3.34" text-anchor="end" fill="#4a4452" stroke="#4a4452" stroke-width="0.15">1.3</text><text transform="translate(10.9 18.26) scale(1.017 1)" font-size="3.34" text-anchor="end" fill="#4a4452" stroke="#4a4452" stroke-width="0.15">1.4</text><text transform="translate(10.9 9.9) scale(1.017 1)" font-size="3.34" text-anchor="end" fill="#4a4452" stroke="#4a4452" stroke-width="0.15">1.5</text><text transform="translate(19.4 139.03) scale(0.910 1)" font-size="3.13" text-anchor="middle" fill="#4a4452" stroke="#4a4452" stroke-width="0.15">1</text><text transform="translate(26.4 139.03) scale(0.910 1)" font-size="3.13" text-anchor="middle" fill="#4a4452" stroke="#4a4452" stroke-width="0.15">2</text><text transform="translate(33.4 139.03) scale(0.910 1)" font-size="3.13" text-anchor="middle" fill="#4a4452" stroke="#4a4452" stroke-width="0.15">3</text><text transform="translate(40.4 139.03) scale(0.910 1)" font-size="3.13" text-anchor="middle" fill="#4a4452" stroke="#4a4452" stroke-width="0.15">4</text><text transform="translate(47.4 139.03) scale(0.910 1)" font-size="3.13" text-anchor="middle" fill="#4a4452" stroke="#4a4452" stroke-width="0.15">5</text><text transform="translate(54.4 139.03) scale(0.910 1)" font-size="3.13" text-anchor="middle" fill="#4a4452" stroke="#4a4452" stroke-width="0.15">6</text><text transform="translate(61.4 139.03) scale(0.910 1)" font-size="3.13" text-anchor="middle" fill="#4a4452" stroke="#4a4452" stroke-width="0.15">7</text><text transform="translate(68.4 139.03) scale(0.910 1)" font-size="3.13" text-anchor="middle" fill="#4a4452" stroke="#4a4452" stroke-width="0.15">8</text><text transform="translate(75.4 139.03) scale(0.910 1)" font-size="3.13" text-anchor="middle" fill="#4a4452" stroke="#4a4452" stroke-width="0.15">9</text><text transform="translate(82.4 139.03) scale(0.910 1)" font-size="3.13" text-anchor="middle" fill="#4a4452" stroke="#4a4452" stroke-width="0.15">10</text><text transform="translate(89.4 139.03) scale(0.910 1)" font-size="3.13" text-anchor="middle" fill="#4a4452" stroke="#4a4452" stroke-width="0.15">11</text><text transform="translate(96.4 139.03) scale(0.910 1)" font-size="3.13" text-anchor="middle" fill="#4a4452" stroke="#4a4452" stroke-width="0.15">12</text><text transform="translate(103.4 139.03) scale(0.910 1)" font-size="3.13" text-anchor="middle" fill="#4a4452" stroke="#4a4452" stroke-width="0.15">13</text><text transform="translate(110.4 139.03) scale(0.910 1)" font-size="3.13" text-anchor="middle" fill="#4a4452" stroke="#4a4452" stroke-width="0.15">14</text><text transform="translate(117.4 139.03) scale(0.910 1)" font-size="3.13" text-anchor="middle" fill="#4a4452" stroke="#4a4452" stroke-width="0.15">15</text><text transform="translate(124.4 139.03) scale(0.910 1)" font-size="3.13" text-anchor="middle" fill="#4a4452" stroke="#4a4452" stroke-width="0.15">16</text><text transform="translate(131.4 139.03) scale(0.910 1)" font-size="3.13" text-anchor="middle" fill="#4a4452" stroke="#4a4452" stroke-width="0.15">17</text><text transform="translate(138.4 139.03) scale(0.910 1)" font-size="3.13" text-anchor="middle" fill="#4a4452" stroke="#4a4452" stroke-width="0.15">18</text><text transform="translate(145.4 139.03) scale(0.910 1)" font-size="3.13" text-anchor="middle" fill="#4a4452" stroke="#4a4452" stroke-width="0.15">19</text><text transform="translate(152.4 139.03) scale(0.910 1)" font-size="3.13" text-anchor="middle" fill="#4a4452" stroke="#4a4452" stroke-width="0.15">20</text><text transform="translate(159.4 139.03) scale(0.910 1)" font-size="3.13" text-anchor="middle" fill="#4a4452" stroke="#4a4452" stroke-width="0.15">21</text><text transform="translate(166.4 139.03) scale(0.910 1)" font-size="3.13" text-anchor="middle" fill="#4a4452" stroke="#4a4452" stroke-width="0.15">22</text><text transform="translate(173.4 139.03) scale(0.910 1)" font-size="3.13" text-anchor="middle" fill="#4a4452" stroke="#4a4452" stroke-width="0.15">23</text><text transform="translate(180.4 139.03) scale(0.910 1)" font-size="3.13" text-anchor="middle" fill="#4a4452" stroke="#4a4452" stroke-width="0.15">24</text><text transform="translate(187.4 139.03) scale(0.910 1)" font-size="3.13" text-anchor="middle" fill="#4a4452" stroke="#4a4452" stroke-width="0.15">25</text><text transform="translate(194.4 139.03) scale(0.910 1)" font-size="3.13" text-anchor="middle" fill="#4a4452" stroke="#4a4452" stroke-width="0.15">26</text><text transform="translate(201.4 139.03) scale(0.910 1)" font-size="3.13" text-anchor="middle" fill="#4a4452" stroke="#4a4452" stroke-width="0.15">27</text><text transform="translate(208.4 139.03) scale(0.910 1)" font-size="3.13" text-anchor="middle" fill="#4a4452" stroke="#4a4452" stroke-width="0.15">28</text><text transform="translate(215.4 139.03) scale(0.910 1)" font-size="3.13" text-anchor="middle" fill="#4a4452" stroke="#4a4452" stroke-width="0.15">29</text><text transform="translate(230.8 123.93) scale(0.963 1)" font-size="3.13" text-anchor="end" fill="#333" stroke="#333" stroke-width="0.15">10</text><text transform="translate(230.8 111.26) scale(0.963 1)" font-size="3.13" text-anchor="end" fill="#333" stroke="#333" stroke-width="0.15">20</text><text transform="translate(230.8 98.6) scale(0.963 1)" font-size="3.13" text-anchor="end" fill="#333" stroke="#333" stroke-width="0.15">30</text><text transform="translate(230.8 85.93) scale(0.963 1)" font-size="3.13" text-anchor="end" fill="#333" stroke="#333" stroke-width="0.15">40</text><text transform="translate(230.8 73.26) scale(0.963 1)" font-size="3.13" text-anchor="end" fill="#333" stroke="#333" stroke-width="0.15">50</text><text transform="translate(230.8 60.6) scale(0.963 1)" font-size="3.13" text-anchor="end" fill="#333" stroke="#333" stroke-width="0.15">60</text><text transform="translate(230.8 47.93) scale(0.963 1)" font-size="3.13" text-anchor="end" fill="#333" stroke="#333" stroke-width="0.15">70</text><text transform="translate(230.8 35.26) scale(0.963 1)" font-size="3.13" text-anchor="end" fill="#333" stroke="#333" stroke-width="0.15">80</text><text transform="translate(230.8 22.6) scale(0.963 1)" font-size="3.13" text-anchor="end" fill="#333" stroke="#333" stroke-width="0.15">90</text><text transform="translate(230.8 9.93) scale(0.963 1)" font-size="3.13" text-anchor="end" fill="#333" stroke="#333" stroke-width="0.15">100</text><text transform="translate(4.03 71.4) rotate(-90) scale(0.904 1)" font-size="3.6" text-anchor="middle" fill="#555" stroke="#555" stroke-width="0.15">Torque(Nm)</text><text transform="translate(234.63 69.1) rotate(90) scale(0.881 1)" font-size="4.63" text-anchor="middle" fill="#333" stroke="#333" stroke-width="0.1">Temperature     (°C)</text><text transform="translate(116.7 144.58) scale(0.925 1)" font-size="3.28" text-anchor="middle" fill="#333" stroke="#333" stroke-width="0.15">Time (min)</text><path d="M1.2 145.4H222.4V134.1" stroke="#dcf3dc" stroke-width="0.9" fill="none"/><text transform="translate(1.55 151.09) scale(1.048 1)" font-size="3.58" fill="#1a1a1a" stroke="#1a1a1a" stroke-width="0.15">amara</text><text transform="translate(71.9 151.09) scale(1.048 1)" font-size="3.58" fill="#1a1a1a" stroke="#1a1a1a" stroke-width="0.15">Mixing</text><text transform="translate(108.3 151.09) scale(1.048 1)" font-size="3.58" fill="#1a1a1a" stroke="#1a1a1a" stroke-width="0.15">1/2</text><text transform="translate(132.8 151.09) scale(1.048 1)" font-size="3.58" fill="#1a1a1a" stroke="#1a1a1a" stroke-width="0.15">Device N°</text><text transform="translate(162.2 151.09) scale(1.048 1)" font-size="3.58" fill="#1a1a1a" stroke="#1a1a1a" stroke-width="0.15">499</text><text transform="translate(178.65 151.09) scale(1.048 1)" font-size="3.58" fill="#1a1a1a" stroke="#1a1a1a" stroke-width="0.15">Version4.0.8r4.1i</text><text transform="translate(225.2 151.09) scale(1.048 1)" font-size="3.58" fill="#1a1a1a" stroke="#1a1a1a" stroke-width="0.15">TNC</text><text x="23.2" y="23.9" font-family='"Liberation Serif", serif' font-weight="bold" font-size="12" fill="#000">D1</text></g><g><path d="M252.9 125.95H441M252.9 117.5H441M252.9 109.05H441M252.9 100.6H441M252.9 92.15H441M252.9 83.7H441M252.9 75.25H441M252.9 66.8H441M252.9 58.35H441M252.9 49.9H441M252.9 41.45H441M252.9 33H441M252.9 24.55H441M252.9 16.1H441M252.9 7.65H441" stroke="#e4e4e4" stroke-width="0.9" fill="none"/><path d="M259.17 7.65V134.4M265.44 7.65V134.4M271.71 7.65V134.4M277.98 7.65V134.4M284.25 7.65V134.4M290.52 7.65V134.4M296.79 7.65V134.4M303.06 7.65V134.4M309.33 7.65V134.4M315.6 7.65V134.4M321.87 7.65V134.4M328.14 7.65V134.4M334.41 7.65V134.4M340.68 7.65V134.4M346.95 7.65V134.4M353.22 7.65V134.4M359.49 7.65V134.4M365.76 7.65V134.4M372.03 7.65V134.4M378.3 7.65V134.4M384.57 7.65V134.4M390.84 7.65V134.4M397.11 7.65V134.4M403.38 7.65V134.4M409.65 7.65V134.4M415.92 7.65V134.4M422.19 7.65V134.4M428.46 7.65V134.4M434.73 7.65V134.4" stroke="#dfdfdf" stroke-width="0.9" fill="none"/><path d="M252.9 41.45H441" stroke="#c990d4" stroke-width="1"/><path d="M252.9 37.23H441M252.9 45.67H441" stroke="#c58ad2" stroke-width="0.9" stroke-dasharray="0.9 1.5"/><polyline points="252.9,91.47 256.04,91.22 259.17,90.98 262.31,90.76 265.44,90.56 268.57,90.37 271.71,90.19 274.85,90.02 277.98,89.87 281.12,89.73 284.25,89.59 287.38,89.47 290.52,89.35 293.65,89.25 296.79,89.15 299.93,89.05 303.06,88.96 306.19,88.88 309.33,88.81 312.47,88.74 315.6,88.67 318.74,88.61 321.87,88.56 325,88.5 328.14,88.45 331.27,88.41 334.41,88.36 337.55,88.33 340.68,88.29 343.81,88.25 346.95,88.22 350.08,88.19 353.22,88.16 356.36,88.14 359.49,88.11 362.62,88.09 365.76,88.07 368.89,88.05 372.03,88.03 375.16,88.02 378.3,88 381.44,87.99 384.57,87.97 387.7,87.96 390.84,87.95 393.98,87.94 397.11,87.93 400.25,87.92 403.38,87.91 406.51,87.9 409.65,87.89 412.78,87.89 415.92,87.88 419.06,87.87 422.19,87.87 425.32,87.86 428.46,87.86 431.6,87.85 434.73,87.85 437.87,87.84 441,87.84" stroke="#f27af2" stroke-width="1" fill="none"/><path d="M252.9 96.97H440.1V134.4" stroke="#f47c7c" stroke-width="1" fill="none"/><polyline points="252.9,134.4 253.4,131.78 253.9,126.41 254.4,115.64 254.9,107.2 255.4,100.89 255.9,96.43 256.4,93.66 256.9,91.46 257.4,88.89 257.9,85.84 258.4,82.71 258.9,79.88 259.4,77.54 259.9,75.44" stroke="#eea860" stroke-width="1.1" fill="none" transform="translate(0.9,0.9)"/><polyline points="252.9,134.4 253.4,131.78 253.9,126.41 254.4,115.64 254.9,107.2 255.4,100.89 255.9,96.43 256.4,93.66 256.9,91.46 257.4,88.89 257.9,85.84 258.4,82.71 258.9,79.88 259.4,77.54 259.9,75.44" stroke="#8cc88c" stroke-width="0.8" fill="none" transform="translate(-0.9,0)"/><polyline points="252.9,134.4 253.4,131.78 253.9,126.41 254.4,115.64 254.9,107.2 255.4,100.89 255.9,96.43 256.4,93.66 256.9,91.46 257.4,88.89 257.9,85.84 258.4,82.71 258.9,79.88 259.4,77.54 259.9,75.44" stroke="#3a5fcd" stroke-width="0.9" fill="none"/><polyline points="256.4,83.6 259,79.3 260.3,75.9 258.3,72.1 259.7,69.3 264.3,67.8 260.9,64 262,61.8 266.8,61.2 266,58.8 265.6,56.5 267.1,55.3 268.5,54.4 267.6,52.1 267.9,50.5 271.4,51.9 271.7,50.6 271.9,49.1 273.9,49.2 273.6,47.4 276.1,48.3 273.9,44.4 276,45.3 276.6,44.4 276.9,43.2 278.5,43.6 278.1,41.4 280.7,43.5 281.4,43.6 280.8,39.3 282.2,41 282.7,39.7 283.3,38.4 285.1,42.9 285.3,40 285.8,38.2 287.2,41.1 287.5,38.2 288.9,42.2 289.3,38.1 290.2,37 291.2,38.1 292,39.1 292.7,40 292.7,42.6 293.9,41.7 295.3,40 296.6,38.4 297.1,39.4 296.7,44.3 298.3,41.5 298.8,43 300.4,39.5 301.3,39.6 300.9,44.4 302.1,43.2 303.3,41.9 304.2,42.2 305.4,41.3 306.1,42 307.2,41.6 306.3,46.3 307.9,44.6 309.5,43.1 308.9,46.7 310.9,44.2 312,43.8 311.6,47 311.7,48.9 314.6,44.8 313.4,49.2 315.8,46.4 316.9,46.3 318,46.4 318,48.3 317.5,50.9 319,50.2 318.8,52.5 321.4,49.8 321.9,50.7 322.8,50.8 321.8,54.9 322.7,55.1 325,52.3 325.6,53.2 326.6,52.9 326.4,55.5 328.9,52.1 329.7,52.7 329.6,54.8 330.8,54.3 330.2,57.9 331.2,57.7 332.5,57 333,58 333.7,58.5 334.3,59.3 334.8,60.5 337.5,56.8 337.1,59.7 339.1,57.5 339.1,59.4 339.1,61.6 339.7,62.5 340.8,62.2 343.3,58.6 343.3,60.7 344.5,59.9 343.6,64.8 346.1,60.4 346.7,61.3 347.3,62.1 348.5,60.7 348,65.5 349.2,64.4 350.7,61.9 351,64 352.4,61.9 352.5,65.1 353.8,63.1 354.9,62.2 355.6,62.9 355.7,65.6 356.4,66.2 357.7,64.7 358,66.7 359.2,65.2 360.2,64.1 360.8,65.3 361.5,65.9 361.8,69 363.4,64.5 364.2,64.5 364.5,67.4 364.9,69.8 365.7,69.7 366.7,68.7 368.5,65.3 368.1,69.7 369.1,69.2 370.8,66.4 371.1,68.5 372.4,66.3 372.2,70.8 373.2,70.5 373.9,71.1 374.7,71 376.1,68.3 376.3,71.5 377.7,68.5 378.6,68 379.1,69.6 379.8,70.4 380.8,69.3 381.3,71.3 382.1,71.4 383.3,69.5 383.7,71.8 384.8,70.5 385.2,72.8 386.4,70.4 386.7,73.4 387.9,71.4 388.6,72.3 389.2,73.1 390.2,72.4 391.3,71 391.3,75.3 393,70.4 393.6,71.8 394.2,73.3 395.5,70.4 396.2,71.3 396.3,75.2 397.1,75.3 398,74.6 398.5,76.3 399.5,75.6 400.9,73.2 401.2,75.3 402.4,73.7 402.8,76.2 403.9,74.2 404.9,73 405.2,77.3 406.1,76.3 406.9,76.7 407.8,75.7 408.4,77.1 409.5,75.3 410.2,76 411.4,73.2 411.8,76.2 412.3,77.9 413.2,77.3 413.9,78 415,76.4 415.5,78.7 416.9,74.3 417.1,78.9 418.3,76.1 419.3,74.5 419.7,77.7 420.6,76.8 421.5,76.8 422,79.3 423.3,75.3 423.7,78.2 424.7,77.1 425.4,77.8 426.2,77.8 427.3,75.7 427.8,78 428.3,80.2 429.7,76.2 430.6,75.4 431.4,75.8 431.8,78.2 432.2,81.4 433.8,76 433.8,81.7 435,79.1 436.1,76.8 436.7,78.7 437.7,77.6 438,80.6 439,79.8 440,78.4 440.8,78.3" stroke="#eaa862" stroke-width="0.7" fill="none"/><polyline points="256.8,83.6 261.6,79.9 258,75.3 258.7,72.2 260.5,69.5 260.6,66.6 264,65.1 261.6,61.6 266.9,61.3 267.5,59.4 263.4,55.4 267.2,55.4 265.7,52.5 267.4,51.9 269,51.5 270,50.7 270.9,49.8 274,50.9 271.4,47.1 271.9,45.8 275,47.2 277,48 277.6,47.3 278.1,46.5 275.7,41.5 280.1,45.5 279.6,43.4 281.2,44.2 280.4,41 280.9,39.5 282.7,43.2 283.2,42.1 284.2,42.7 284.1,38.6 284.8,37.9 286.6,42.1 286.4,36.8 288.3,43.1 288.3,37.3 289.5,40.5 290.2,39.2 291.2,38.6 292.3,37.7 292.1,42 292.6,43.2 293.7,42.2 294.8,41.5 295.4,42.5 296.6,41.6 297.3,41.9 297.5,44.5 299.4,40.4 300.3,40.2 299.8,45.3 300.6,45.5 302.3,42.6 302.4,45 303.3,44.8 303.5,46.5 306.5,41.1 305.2,46.7 307,44.4 308,44.5 308.1,46.3 309.1,46.2 310.4,45.4 311.6,44.8 310.6,49.2 311.7,48.9 314.6,44.7 314.5,47 314.2,49.6 314.6,50.7 315.1,51.6 318.3,47.7 316.8,52.1 318.3,51.4 321.3,48.1 321.6,49.4 322.4,49.7 323.5,49.4 322.5,53.6 324.4,51.6 324.1,54.4 326.6,50.8 325.2,56.2 326.5,55.5 327,56.4 328.3,55.6 329.5,55 331.1,53.7 329.7,58.8 332.8,54.2 332.6,56.9 334.5,54.7 335.4,55 334.4,59.1 334.7,60.7 336.7,58.4 336.5,60.9 337.2,61.6 338.9,60 339,61.8 341.2,59.1 342.4,58.5 343.1,59.1 344.3,58.3 344.9,59 344,63.7 344.4,65 347.2,59.7 346.5,64.4 347.3,65.1 348.3,64.6 349.4,63.6 350.2,63.7 350.7,65.4 352.3,62.5 352.2,66.2 354,62.5 355,61.7 354.3,68 356.5,62.5 357.1,63.4 358.1,62.6 359,62.5 359.6,63.4 359.2,69.1 360.4,67.7 361.5,65.8 362.8,63.1 362.6,69 363.8,66.8 364.2,69.5 365.4,67.2 366.9,64.4 367.8,64.6 367.3,69.7 369.2,66.1 370.1,65.8 370.4,67.8 371.4,67 372.2,67.3 372.2,71.1 373.5,69 373.6,72.8 375.5,66.7 376.1,68.2 376.1,72.4 377.5,69.5 377.9,72 379.1,69.8 379.9,69.7 380.1,73.2 381.7,69.4 382.2,71.2 382.9,71.4 384.4,68 385.1,68.5 385.7,69.6 386.8,68.1 386.8,73 387.7,72.4 388.8,70.9 389.5,71.6 390.8,69.1 391.1,71.7 391.4,74.9 393.2,69.5 393.2,73.9 394,74.3 395.4,71.2 396.1,71.9 397,71.2 397.3,74.1 398.4,72.9 399.6,71.4 400.1,72.7 401,72.5 400.7,77.8 402.1,75.4 403,74.6 403.8,74.8 404.5,75.5 405,78.5 406.3,74.4 407.4,72.2 408.1,73.1 409,72 409.7,73.5 410.1,76.4 411.3,74.1 411.5,78.3 412.1,79.2 413.8,73.5 413.9,78.4 414.8,77.5 415.3,80 416.9,74.4 417.2,78.6 418.4,75.6 419.3,74.8 420,75.3 420.3,80.2 421.4,77 422.3,76.8 422.7,80 423.5,80 424.3,80.4 425.8,74.3 425.8,81.2 426.9,79.2 427.5,80.8 428.3,80.2 429,81 429.9,81 430.9,79.4 432.2,75.9 432.4,79.9 433.9,75.4 434.4,77.8 435.2,77.4 436,77.6 436.3,81.3 437,81.9 437.8,82.2 438.9,80.3 439.5,81.5 441,77.1" stroke="#70c070" stroke-width="0.7" fill="none"/><polygon points="257.9,84.3 258.9,78.3 259.9,73.9 260.9,70.1 261.9,66.6 262.9,63.5 263.9,60.7 264.9,58.1 265.9,55.9 266.9,53.9 267.9,52.3 268.9,50.9 269.9,49.7 270.9,48.6 271.9,47.4 272.9,46.2 273.9,45.2 274.9,44.2 275.9,43.4 276.9,42.7 277.9,41.9 278.9,41.1 279.9,40.4 280.9,40 281.9,39.7 282.9,39.4 283.9,39.2 284.9,39 285.9,38.8 286.9,38.6 287.9,38.4 288.9,38.3 289.9,38.2 290.9,38.3 291.9,38.4 292.9,38.7 293.9,39 294.9,39.3 295.9,39.6 296.9,39.8 297.9,40.1 298.9,40.3 299.9,40.6 300.9,40.8 301.9,41.1 302.9,41.4 303.9,41.7 304.9,42.1 305.9,42.4 306.9,42.8 307.9,43.3 308.9,43.7 309.9,44.1 310.9,44.5 311.9,45 312.9,45.4 313.9,45.9 314.9,46.4 315.9,46.9 316.9,47.4 317.9,48 318.9,48.6 319.9,49.2 320.9,49.8 321.9,50.3 322.9,50.8 323.9,51.3 324.9,51.7 325.9,52.2 326.9,52.6 327.9,53.1 328.9,53.5 329.9,54 330.9,54.4 331.9,54.9 332.9,55.3 333.9,55.8 334.9,56.3 335.9,56.7 336.9,57.2 337.9,57.7 338.9,58.1 339.9,58.6 340.9,59 341.9,59.4 342.9,59.8 343.9,60.3 344.9,60.6 345.9,61 346.9,61.3 347.9,61.7 348.9,61.9 349.9,62.2 350.9,62.5 351.9,62.7 352.9,63 353.9,63.2 354.9,63.5 355.9,63.7 356.9,64 357.9,64.2 358.9,64.5 359.9,64.7 360.9,64.8 361.9,65 362.9,65.2 363.9,65.3 364.9,65.5 365.9,65.7 366.9,65.9 367.9,66.2 368.9,66.5 369.9,66.8 370.9,67.1 371.9,67.3 372.9,67.5 373.9,67.7 374.9,67.9 375.9,68.1 376.9,68.3 377.9,68.5 378.9,68.7 379.9,68.8 380.9,69 381.9,69.2 382.9,69.4 383.9,69.6 384.9,69.8 385.9,70 386.9,70.1 387.9,70.3 388.9,70.5 389.9,70.7 390.9,70.8 391.9,71 392.9,71.2 393.9,71.4 394.9,71.6 395.9,71.8 396.9,72 397.9,72.2 398.9,72.4 399.9,72.6 400.9,72.8 401.9,73 402.9,73.2 403.9,73.4 404.9,73.5 405.9,73.6 406.9,73.7 407.9,73.8 408.9,73.9 409.9,74.1 410.9,74.2 411.9,74.4 412.9,74.5 413.9,74.7 414.9,74.8 415.9,75 416.9,75.1 417.9,75.2 418.9,75.3 419.9,75.5 420.9,75.6 421.9,75.7 422.9,75.8 423.9,75.9 424.9,76.1 425.9,76.2 426.9,76.3 427.9,76.4 428.9,76.5 429.9,76.7 430.9,76.8 431.9,76.9 432.9,77.1 433.9,77.2 434.9,77.4 435.9,77.5 436.9,77.6 437.9,77.8 438.9,77.9 439.9,78.1 440.9,78.2 440.9,81.3 439.9,81.2 438.9,81 437.9,80.9 436.9,80.7 435.9,80.6 434.9,80.5 433.9,80.3 432.9,80.2 431.9,80 430.9,79.9 429.9,79.8 428.9,79.6 427.9,79.5 426.9,79.4 425.9,79.3 424.9,79.2 423.9,79 422.9,78.9 421.9,78.8 420.9,78.7 419.9,78.6 418.9,78.4 417.9,78.3 416.9,78.2 415.9,78.1 414.9,77.9 413.9,77.8 412.9,77.6 411.9,77.5 410.9,77.3 409.9,77.2 408.9,77 407.9,76.9 406.9,76.8 405.9,76.7 404.9,76.6 403.9,76.5 402.9,76.3 401.9,76.1 400.9,75.9 399.9,75.7 398.9,75.5 397.9,75.3 396.9,75.1 395.9,74.9 394.9,74.7 393.9,74.5 392.9,74.3 391.9,74.1 390.9,73.9 389.9,73.8 388.9,73.6 387.9,73.4 386.9,73.2 385.9,73.1 384.9,72.9 383.9,72.7 382.9,72.5 381.9,72.3 380.9,72.1 379.9,71.9 378.9,71.8 377.9,71.6 376.9,71.4 375.9,71.2 374.9,71 373.9,70.8 372.9,70.6 371.9,70.4 370.9,70.2 369.9,69.9 368.9,69.6 367.9,69.3 366.9,69 365.9,68.8 364.9,68.6 363.9,68.4 362.9,68.3 361.9,68.1 360.9,67.9 359.9,67.8 358.9,67.6 357.9,67.3 356.9,67.1 355.9,66.8 354.9,66.6 353.9,66.3 352.9,66.1 351.9,65.8 350.9,65.6 349.9,65.3 348.9,65 347.9,64.8 346.9,64.4 345.9,64.1 344.9,63.7 343.9,63.4 342.9,62.9 341.9,62.5 340.9,62.1 339.9,61.7 338.9,61.2 337.9,60.8 336.9,60.3 335.9,59.8 334.9,59.4 333.9,58.9 332.9,58.4 331.9,58 330.9,57.5 329.9,57.1 328.9,56.6 327.9,56.2 326.9,55.7 325.9,55.3 324.9,54.8 323.9,54.4 322.9,53.9 321.9,53.4 320.9,52.9 319.9,52.3 318.9,51.7 317.9,51.1 316.9,50.5 315.9,50 314.9,49.5 313.9,49 312.9,48.5 311.9,48.1 310.9,47.6 309.9,47.2 308.9,46.8 307.9,46.4 306.9,45.9 305.9,45.5 304.9,45.2 303.9,44.8 302.9,44.5 301.9,44.2 300.9,43.9 299.9,43.7 298.9,43.4 297.9,43.2 296.9,42.9 295.9,42.7 294.9,42.4 293.9,42.1 292.9,41.8 291.9,41.5 290.9,41.4 289.9,41.3 288.9,41.4 287.9,41.5 286.9,41.7 285.9,41.9 284.9,42.1 283.9,42.3 282.9,42.5 281.9,42.8 280.9,43.1 279.9,43.5 278.9,44.2 277.9,45 276.9,45.8 275.9,46.5 274.9,47.3 273.9,48.3 272.9,49.3 271.9,50.5 270.9,51.7 269.9,52.8 268.9,54 267.9,55.4 266.9,57 265.9,59 264.9,61.2 263.9,63.8 262.9,66.6 261.9,69.7 260.9,73.2 259.9,77 258.9,81.4 257.9,87.4" fill="#1e961e"/><polyline points="257.9,85.8 258.9,79.9 259.9,75.4 260.9,71.6 261.9,68.1 262.9,65 263.9,62.2 264.9,59.7 265.9,57.4 266.9,55.5 267.9,53.8 268.9,52.5 269.9,51.3 270.9,50.1 271.9,48.9 272.9,47.8 273.9,46.7 274.9,45.8 275.9,45 276.9,44.2 277.9,43.5 278.9,42.7 279.9,42 280.9,41.5 281.9,41.2 282.9,41 283.9,40.8 284.9,40.6 285.9,40.3 286.9,40.1 287.9,40 288.9,39.8 289.9,39.8 290.9,39.8 291.9,40 292.9,40.2 293.9,40.5 294.9,40.8 295.9,41.1 296.9,41.4 297.9,41.6 298.9,41.9 299.9,42.1 300.9,42.4 301.9,42.6 302.9,42.9 303.9,43.2 304.9,43.6 305.9,44 306.9,44.4 307.9,44.8 308.9,45.2 309.9,45.7 310.9,46.1 311.9,46.5 312.9,47 313.9,47.5 314.9,47.9 315.9,48.4 316.9,49 317.9,49.6 318.9,50.2 319.9,50.8 320.9,51.3 321.9,51.9 322.9,52.4 323.9,52.8 324.9,53.3 325.9,53.7 326.9,54.2 327.9,54.6 328.9,55.1 329.9,55.5 330.9,56 331.9,56.4 332.9,56.9 333.9,57.4 334.9,57.8 335.9,58.3 336.9,58.8 337.9,59.2 338.9,59.7 339.9,60.1 340.9,60.6 341.9,61 342.9,61.4 343.9,61.8 344.9,62.2 345.9,62.6 346.9,62.9 347.9,63.2 348.9,63.5 349.9,63.8 350.9,64 351.9,64.3 352.9,64.5 353.9,64.8 354.9,65 355.9,65.3 356.9,65.5 357.9,65.8 358.9,66 359.9,66.2 360.9,66.4 361.9,66.6 362.9,66.7 363.9,66.9 364.9,67.1 365.9,67.3 366.9,67.5 367.9,67.8 368.9,68.1 369.9,68.4 370.9,68.6 371.9,68.9 372.9,69.1 373.9,69.3 374.9,69.5 375.9,69.7 376.9,69.8 377.9,70 378.9,70.2 379.9,70.4 380.9,70.6 381.9,70.8 382.9,71 383.9,71.2 384.9,71.3 385.9,71.5 386.9,71.7 387.9,71.9 388.9,72 389.9,72.2 390.9,72.4 391.9,72.6 392.9,72.8 393.9,72.9 394.9,73.1 395.9,73.3 396.9,73.5 397.9,73.7 398.9,73.9 399.9,74.2 400.9,74.4 401.9,74.6 402.9,74.8 403.9,74.9 404.9,75 405.9,75.2 406.9,75.3 407.9,75.4 408.9,75.5 409.9,75.6 410.9,75.8 411.9,75.9 412.9,76.1 413.9,76.2 414.9,76.4 415.9,76.5 416.9,76.6 417.9,76.8 418.9,76.9 419.9,77 420.9,77.1 421.9,77.2 422.9,77.4 423.9,77.5 424.9,77.6 425.9,77.7 426.9,77.8 427.9,78 428.9,78.1 429.9,78.2 430.9,78.4 431.9,78.5 432.9,78.6 433.9,78.8 434.9,78.9 435.9,79.1 436.9,79.2 437.9,79.3 438.9,79.5 439.9,79.6 440.9,79.8" stroke="#1e961e" stroke-width="2.2" fill="none" stroke-linejoin="round"/><polyline points="259.5,84.1 260.2,80.1 260.7,76.9 259.5,73.6 259.5,70.8 263.3,69.2 262.8,66.6 261.4,63.8 265.3,63 266.2,61.3 264.5,58.6 267,57.9 265.2,55.3 267.1,54.6 269,54.4 268.4,52.5 269.5,51.9 269,50 271.8,51 271.5,49.4 271.4,47.9 273.7,48.5 275,48.3 274.4,46.4 275.6,46.4 277,46.7 275.3,43 277.4,44.4 279,45.1 277.5,41.8 278.5,41.5 280,42.1 280.9,42.5 281.4,41.6 282.1,41.4 282.3,39.2 283.6,41.9 283.9,40 284.4,38.8 285.9,42.3 286.4,40.9 286.9,39.9 287.8,41 288.3,39.8 288.9,38.2 289.7,40.2 290.4,40.8 291,40.9 291.8,40.2 292,41.9 292.7,42.1 293.4,42 294.8,40.2 295.6,40 296,41.3 296.6,42 297.8,40.1 298.1,41.9 298.9,41.6 300,39.9 300.3,41.8 301,41.9 301.1,44.5 302.8,40.9 302.5,44.7 303.2,44.8 304.3,43.8 305.6,42.4 305.4,45.1 307.1,42.9 307.5,43.8 307.6,45.5 308.7,44.8 309.4,45.3 310.3,44.9 311.5,44.2 311.7,45.8 311.5,47.9 312.2,48.2 314.3,45.7 314.1,47.8 315.2,47.4 315.8,47.9 315.3,50.5 316.4,50.2 317.7,49.5 318.4,49.9 318.2,51.8 320.1,50.3 319.9,52.1 320.8,52.3 321.5,52.8 322.7,52 323,53.3 323.4,54.2 325.1,52.4 325,54.5 326.1,53.7 326.8,54.3 327.6,54.3 328.4,54.3 328.5,56 329.8,55 330.9,54.5 330.5,57.1 331.9,56 332.3,57 332.3,58.8 333.6,57.9 334.5,57.7 335.6,57.1 335.5,59.1 335.8,60.4 336.9,59.7 337.5,60.3 339,58.9 339.7,59.2 340.4,59.7 340.8,60.4 340.9,62.3 342.3,61 343.4,60.1 343.6,61.8 344.7,61 344.8,62.8 345.9,61.8 345.8,64.6 347.2,62.7 347.7,63.5 348.4,63.7 349.3,63.2 349.4,65.7 351.1,62.1 351.1,65.1 352.3,63.3 353.2,62.7 353.8,63.3 353.8,65.9 354.4,66.7 355.2,66.3 356.4,64.5 356.9,65.5 358,64.1 358.4,65.5 359.2,65 360.1,64.2 360.6,65.4 360.8,68.2 361.8,66.7 362.7,65.7 363.5,65.1 363.6,68.6 364.9,65.3 365.7,65.2 366.4,65.7 366.4,68.5 366.9,69.4 368.6,66.2 368.6,68.6 369.3,68.9 370.2,68.6 371.5,66.6 371.4,69.6 372.4,68.7 372.6,70.9 373.3,71.4 374.3,70 375.4,67.9 376,68.9 376.4,70.3 376.9,71.5 378,69.7 378.7,69.6 379.2,70.7 379.7,71.9 381,69.3 381.3,71.1 382,71.3 382.8,70.8 383.6,70.5 383.9,73.1 384.7,72.7 385.9,70 386.7,69.5 387.2,70.7 387.8,71.5 388.7,70.5 389.2,71.4 389.7,73 390.3,73.3 391,73.8 391.7,73.9 392.8,72 393.3,73 393.8,74 394.6,73.6 395.3,73.6 395.9,74.7 396.4,75.4 397.2,75.3 398.4,72.8 399.3,72.3 399.8,73.2 400,75.5 401.2,73.6 401.5,75.6 402.3,75.1 402.8,76.9 404,73.3 404.3,76.4 405.4,73.1 405.8,75.8 406.6,75.4 407.4,74.2 408.1,74.4 408.8,75 409.4,75.5 410.3,74.2 410.9,75.5 411.8,74.1 412.2,76 412.9,76.2 413.7,75.7 414.3,76.3 415,76.7 415.7,76.6 416.6,75.2 417.3,75.5 417.9,75.8 418.3,79 419.2,76.9 419.8,77.9 420.8,75.8 421.3,77.3 422,77 422.9,76.1 423.6,76.2 424.2,76.4 424.7,78.6 425.4,78.7 426,79.3 427,77.1 427.6,78 428.2,79 429,78.4 429.5,79.7 430.7,76.3 431,79.2 432,76.9 432.5,78.6 433.3,78.2 433.9,78.6 434.5,80 435.6,77.2 436.3,77.2 436.4,81 437.4,79.2 438.2,79 439,78 439.5,79.6 440.1,80.4 440.7,81.5" stroke="#007c00" stroke-width="0.8" fill="none"/><polyline points="259.5,84.1 259.9,73.3 263.4,66.2 266.2,60.5 267.6,55.6 269.4,52.2 272.3,50.3 274.3,47.7 275.7,44.9 278.2,43.7 280.8,42.8 281.9,39 284.8,41.3 287,41.3 289,39.3 291.2,39.9 293.8,39.1 295.4,41.8 297.3,43.8 300.3,41.2 302.3,42.5 303.8,45.2 306.5,44.5 309,44.9 310.7,46.9 314.2,45.1 316.2,46.7 316.7,50.9 320.6,49.3 323,49.9 323.4,54.8 325.9,55.1 327.7,57 330.3,57.1 332.2,58.8 335.5,57.3 336.9,60.1 340.3,58.5 341.2,62.4 343.6,62.9 346.7,61.3 348.8,61.9 351,62.4 352.4,66 354.8,65.8 357.5,64.6 359.3,66.8 361.5,67.4 363.7,67.8 365.5,69.6 367.7,69.5 370.5,68.2 373.1,66.9 375.1,68.2 377.4,67.8 379,71.6 381.1,72.1 383.9,69.7 385.4,73.7 388.2,71 390.2,72.1 392.3,73.1 394.2,75.5 396.4,75.4 399.4,72.3 400.8,76.3 403.6,73.4 405.4,76.6 407.7,76.2 410.2,73.9 412.5,73.8 414.1,78.4 416.9,74.2 419,75.2 420.7,79.4 423.1,78.4 425.4,78 427.6,77.7 429.8,78.6 432,78.3 434.5,76.7 436.6,77.8 438.7,78.5 440.8,79.8" stroke="#d9a35a" stroke-width="0.5" stroke-opacity="0.8" fill="none"/><polyline points="258.8,84 261.2,74.5 261.7,67 262.8,60.9 266.4,56.9 267.2,52.7 270.8,51.4 271.8,48.2 274.1,46.3 277.2,46.1 278.8,44 280.8,42.9 282.3,41.3 284.6,42.3 285.8,38.5 288.4,41.3 290.2,39.4 292.4,39.1 294.2,40.7 295.8,42.8 298.4,41.1 299.8,43.6 302.2,42.6 303.6,45 305.9,45 307.8,45.9 310.4,45.3 312.1,47 314.6,46.8 315.7,49.6 318.7,49 319.9,51.5 322.9,50.6 324.6,52.1 326.4,53.4 328.7,53.7 330.6,54.9 332.7,55.6 334.9,56 336.5,57.9 338.3,59.3 340.3,60 341.7,62.5 344.8,60.5 346.1,63.1 348.4,62.8 350.7,62.2 352,65.3 354.3,64.6 355.8,67.1 358,66.8 360,67.6 362.2,66.8 364.3,66.3 365.9,68.6 368.3,67.6 369.8,69.8 371.9,70.4 374.3,68.8 376.1,70.5 378,71.2 379.9,72.3 382.2,70.7 384.4,70.1 386.4,70.7 388.3,71.5 390.5,70.7 392.1,73.3 394.5,71.4 396.2,73.3 397.8,75.6 400.3,73.9 402.4,73.6 404.3,74.6 406.3,74.3 408.3,74.3 410.3,74.8 412.3,75.3 414.2,76.1 416.3,75.8 418.2,77.3 420.1,78.4 422.4,75.5 424.2,77.4 426.2,78.2 428.2,77.9 430.1,78.9 432.4,77.5 434,80.4 436,80.9 438,80.6 440.2,80" stroke="#5cb85c" stroke-width="0.5" stroke-opacity="0.8" fill="none"/><path d="M252.9 7.65V134.4" stroke="#5a5a5a" stroke-width="0.9"/><path d="M441 1.2V134.4" stroke="#5a5a5a" stroke-width="0.9"/><path d="M252.9 134.4H441" stroke="#5a5a5a" stroke-width="0.9"/><path d="M252.9 125.95h1M252.9 117.5h1M252.9 109.05h1M252.9 100.6h1M252.9 92.15h1M252.9 83.7h1M252.9 75.25h1M252.9 66.8h1M252.9 58.35h1M252.9 49.9h1M252.9 41.45h1M252.9 33h1M252.9 24.55h1M252.9 16.1h1M252.9 7.65h1M259.17 134.4v1M265.44 134.4v1M271.71 134.4v1M277.98 134.4v1M284.25 134.4v1M290.52 134.4v1M296.79 134.4v1M303.06 134.4v1M309.33 134.4v1M315.6 134.4v1M321.87 134.4v1M328.14 134.4v1M334.41 134.4v1M340.68 134.4v1M346.95 134.4v1M353.22 134.4v1M359.49 134.4v1M365.76 134.4v1M372.03 134.4v1M378.3 134.4v1M384.57 134.4v1M390.84 134.4v1M397.11 134.4v1M403.38 134.4v1M409.65 134.4v1M415.92 134.4v1M422.19 134.4v1M428.46 134.4v1M434.73 134.4v1M441.86 122.7h1M441.86 109.97h1M441.86 97.23h1M441.86 84.5h1M441.86 71.77h1M441.86 59.03h1M441.86 46.3h1M441.86 33.57h1M441.86 20.83h1M441.86 8.1h1" stroke="#555" stroke-width="0.8" fill="none"/><rect x="319.86" y="131.1" width="8.78" height="4.6" fill="#fff"/><text transform="translate(251.4 127.17) scale(0.901 1)" font-size="3.38" text-anchor="end" fill="#4a4452" stroke="#4a4452" stroke-width="0.15">0.1</text><text transform="translate(251.4 118.72) scale(0.901 1)" font-size="3.38" text-anchor="end" fill="#4a4452" stroke="#4a4452" stroke-width="0.15">0.2</text><text transform="translate(251.4 110.27) scale(0.901 1)" font-size="3.38" text-anchor="end" fill="#4a4452" stroke="#4a4452" stroke-width="0.15">0.3</text><text transform="translate(251.4 101.82) scale(0.901 1)" font-size="3.38" text-anchor="end" fill="#4a4452" stroke="#4a4452" stroke-width="0.15">0.4</text><text transform="translate(251.4 93.37) scale(0.901 1)" font-size="3.38" text-anchor="end" fill="#4a4452" stroke="#4a4452" stroke-width="0.15">0.5</text><text transform="translate(251.4 84.92) scale(0.901 1)" font-size="3.38" text-anchor="end" fill="#4a4452" stroke="#4a4452" stroke-width="0.15">0.6</text><text transform="translate(251.4 76.47) scale(0.901 1)" font-size="3.38" text-anchor="end" fill="#4a4452" stroke="#4a4452" stroke-width="0.15">0.7</text><text transform="translate(251.4 68.02) scale(0.901 1)" font-size="3.38" text-anchor="end" fill="#4a4452" stroke="#4a4452" stroke-width="0.15">0.8</text><text transform="translate(251.4 59.57) scale(0.901 1)" font-size="3.38" text-anchor="end" fill="#4a4452" stroke="#4a4452" stroke-width="0.15">0.9</text><text transform="translate(251.4 51.12) scale(0.901 1)" font-size="3.38" text-anchor="end" fill="#4a4452" stroke="#4a4452" stroke-width="0.15">1</text><text transform="translate(251.4 42.67) scale(0.901 1)" font-size="3.38" text-anchor="end" fill="#4a4452" stroke="#4a4452" stroke-width="0.15">1.1</text><text transform="translate(251.4 34.22) scale(0.901 1)" font-size="3.38" text-anchor="end" fill="#4a4452" stroke="#4a4452" stroke-width="0.15">1.2</text><text transform="translate(251.4 25.77) scale(0.901 1)" font-size="3.38" text-anchor="end" fill="#4a4452" stroke="#4a4452" stroke-width="0.15">1.3</text><text transform="translate(251.4 17.32) scale(0.901 1)" font-size="3.38" text-anchor="end" fill="#4a4452" stroke="#4a4452" stroke-width="0.15">1.4</text><text transform="translate(251.4 8.87) scale(0.901 1)" font-size="3.38" text-anchor="end" fill="#4a4452" stroke="#4a4452" stroke-width="0.15">1.5</text><text transform="translate(259.17 139.84) scale(0.806 1)" font-size="3.17" text-anchor="middle" fill="#4a4452" stroke="#4a4452" stroke-width="0.15">1</text><text transform="translate(265.44 139.84) scale(0.806 1)" font-size="3.17" text-anchor="middle" fill="#4a4452" stroke="#4a4452" stroke-width="0.15">2</text><text transform="translate(271.71 139.84) scale(0.806 1)" font-size="3.17" text-anchor="middle" fill="#4a4452" stroke="#4a4452" stroke-width="0.15">3</text><text transform="translate(277.98 139.84) scale(0.806 1)" font-size="3.17" text-anchor="middle" fill="#4a4452" stroke="#4a4452" stroke-width="0.15">4</text><text transform="translate(284.25 139.84) scale(0.806 1)" font-size="3.17" text-anchor="middle" fill="#4a4452" stroke="#4a4452" stroke-width="0.15">5</text><text transform="translate(290.52 139.84) scale(0.806 1)" font-size="3.17" text-anchor="middle" fill="#4a4452" stroke="#4a4452" stroke-width="0.15">6</text><text transform="translate(296.79 139.84) scale(0.806 1)" font-size="3.17" text-anchor="middle" fill="#4a4452" stroke="#4a4452" stroke-width="0.15">7</text><text transform="translate(303.06 139.84) scale(0.806 1)" font-size="3.17" text-anchor="middle" fill="#4a4452" stroke="#4a4452" stroke-width="0.15">8</text><text transform="translate(309.33 139.84) scale(0.806 1)" font-size="3.17" text-anchor="middle" fill="#4a4452" stroke="#4a4452" stroke-width="0.15">9</text><text transform="translate(315.6 139.84) scale(0.806 1)" font-size="3.17" text-anchor="middle" fill="#4a4452" stroke="#4a4452" stroke-width="0.15">10</text><text transform="translate(321.87 139.84) scale(0.806 1)" font-size="3.17" text-anchor="middle" fill="#4a4452" stroke="#4a4452" stroke-width="0.15">11</text><text transform="translate(328.14 139.84) scale(0.806 1)" font-size="3.17" text-anchor="middle" fill="#4a4452" stroke="#4a4452" stroke-width="0.15">12</text><text transform="translate(334.41 139.84) scale(0.806 1)" font-size="3.17" text-anchor="middle" fill="#4a4452" stroke="#4a4452" stroke-width="0.15">13</text><text transform="translate(340.68 139.84) scale(0.806 1)" font-size="3.17" text-anchor="middle" fill="#4a4452" stroke="#4a4452" stroke-width="0.15">14</text><text transform="translate(346.95 139.84) scale(0.806 1)" font-size="3.17" text-anchor="middle" fill="#4a4452" stroke="#4a4452" stroke-width="0.15">15</text><text transform="translate(353.22 139.84) scale(0.806 1)" font-size="3.17" text-anchor="middle" fill="#4a4452" stroke="#4a4452" stroke-width="0.15">16</text><text transform="translate(359.49 139.84) scale(0.806 1)" font-size="3.17" text-anchor="middle" fill="#4a4452" stroke="#4a4452" stroke-width="0.15">17</text><text transform="translate(365.76 139.84) scale(0.806 1)" font-size="3.17" text-anchor="middle" fill="#4a4452" stroke="#4a4452" stroke-width="0.15">18</text><text transform="translate(372.03 139.84) scale(0.806 1)" font-size="3.17" text-anchor="middle" fill="#4a4452" stroke="#4a4452" stroke-width="0.15">19</text><text transform="translate(378.3 139.84) scale(0.806 1)" font-size="3.17" text-anchor="middle" fill="#4a4452" stroke="#4a4452" stroke-width="0.15">20</text><text transform="translate(384.57 139.84) scale(0.806 1)" font-size="3.17" text-anchor="middle" fill="#4a4452" stroke="#4a4452" stroke-width="0.15">21</text><text transform="translate(390.84 139.84) scale(0.806 1)" font-size="3.17" text-anchor="middle" fill="#4a4452" stroke="#4a4452" stroke-width="0.15">22</text><text transform="translate(397.11 139.84) scale(0.806 1)" font-size="3.17" text-anchor="middle" fill="#4a4452" stroke="#4a4452" stroke-width="0.15">23</text><text transform="translate(403.38 139.84) scale(0.806 1)" font-size="3.17" text-anchor="middle" fill="#4a4452" stroke="#4a4452" stroke-width="0.15">24</text><text transform="translate(409.65 139.84) scale(0.806 1)" font-size="3.17" text-anchor="middle" fill="#4a4452" stroke="#4a4452" stroke-width="0.15">25</text><text transform="translate(415.92 139.84) scale(0.806 1)" font-size="3.17" text-anchor="middle" fill="#4a4452" stroke="#4a4452" stroke-width="0.15">26</text><text transform="translate(422.19 139.84) scale(0.806 1)" font-size="3.17" text-anchor="middle" fill="#4a4452" stroke="#4a4452" stroke-width="0.15">27</text><text transform="translate(428.46 139.84) scale(0.806 1)" font-size="3.17" text-anchor="middle" fill="#4a4452" stroke="#4a4452" stroke-width="0.15">28</text><text transform="translate(434.73 139.84) scale(0.806 1)" font-size="3.17" text-anchor="middle" fill="#4a4452" stroke="#4a4452" stroke-width="0.15">29</text><text transform="translate(448.52 123.84) scale(0.854 1)" font-size="3.17" text-anchor="end" fill="#333" stroke="#333" stroke-width="0.15">10</text><text transform="translate(448.52 111.11) scale(0.854 1)" font-size="3.17" text-anchor="end" fill="#333" stroke="#333" stroke-width="0.15">20</text><text transform="translate(448.52 98.37) scale(0.854 1)" font-size="3.17" text-anchor="end" fill="#333" stroke="#333" stroke-width="0.15">30</text><text transform="translate(448.52 85.64) scale(0.854 1)" font-size="3.17" text-anchor="end" fill="#333" stroke="#333" stroke-width="0.15">40</text><text transform="translate(448.52 72.91) scale(0.854 1)" font-size="3.17" text-anchor="end" fill="#333" stroke="#333" stroke-width="0.15">50</text><text transform="translate(448.52 60.17) scale(0.854 1)" font-size="3.17" text-anchor="end" fill="#333" stroke="#333" stroke-width="0.15">60</text><text transform="translate(448.52 47.44) scale(0.854 1)" font-size="3.17" text-anchor="end" fill="#333" stroke="#333" stroke-width="0.15">70</text><text transform="translate(448.52 34.71) scale(0.854 1)" font-size="3.17" text-anchor="end" fill="#333" stroke="#333" stroke-width="0.15">80</text><text transform="translate(448.52 21.97) scale(0.854 1)" font-size="3.17" text-anchor="end" fill="#333" stroke="#333" stroke-width="0.15">90</text><text transform="translate(448.52 9.24) scale(0.854 1)" font-size="3.17" text-anchor="end" fill="#333" stroke="#333" stroke-width="0.15">100</text><text transform="translate(245.41 71.03) rotate(-90) scale(1.020 1)" font-size="3.22" text-anchor="middle" fill="#555" stroke="#555" stroke-width="0.15">Torque(Nm)</text><text transform="translate(451.31 68.73) rotate(90) scale(0.994 1)" font-size="4.15" text-anchor="middle" fill="#333" stroke="#333" stroke-width="0.1">Temperature     (°C)</text><text transform="translate(346.32 145.4) scale(0.819 1)" font-size="3.32" text-anchor="middle" fill="#333" stroke="#333" stroke-width="0.15">Time (min)</text><path d="M242.87 146.4H441V134.4" stroke="#dcf3dc" stroke-width="0.9" fill="none"/><text transform="translate(243.18 151.6) scale(0.929 1)" font-size="3.62" fill="#1a1a1a" stroke="#1a1a1a" stroke-width="0.15">amara</text><text transform="translate(306.19 151.6) scale(0.929 1)" font-size="3.62" fill="#1a1a1a" stroke="#1a1a1a" stroke-width="0.15">Mixing</text><text transform="translate(338.8 151.6) scale(0.929 1)" font-size="3.62" fill="#1a1a1a" stroke="#1a1a1a" stroke-width="0.15">1/2</text><text transform="translate(360.74 151.6) scale(0.929 1)" font-size="3.62" fill="#1a1a1a" stroke="#1a1a1a" stroke-width="0.15">Device N°</text><text transform="translate(387.08 151.6) scale(0.929 1)" font-size="3.62" fill="#1a1a1a" stroke="#1a1a1a" stroke-width="0.15">499</text><text transform="translate(401.81 151.6) scale(0.929 1)" font-size="3.62" fill="#1a1a1a" stroke="#1a1a1a" stroke-width="0.15">Version4.0.8r4.1i</text><text transform="translate(443.51 151.6) scale(0.929 1)" font-size="3.62" fill="#1a1a1a" stroke="#1a1a1a" stroke-width="0.15">TNC</text><text x="263.9" y="21.4" font-family='"Liberation Serif", serif' font-weight="bold" font-size="12" fill="#000">D2</text></g><g><path d="M476.8 127.48H664M476.8 118.86H664M476.8 110.24H664M476.8 101.62H664M476.8 93H664M476.8 84.38H664M476.8 75.76H664M476.8 67.14H664M476.8 58.52H664M476.8 49.9H664M476.8 41.28H664M476.8 32.66H664M476.8 24.04H664M476.8 15.42H664M476.8 6.8H664" stroke="#e4e4e4" stroke-width="0.9" fill="none"/><path d="M483.04 6.8V136.1M489.28 6.8V136.1M495.52 6.8V136.1M501.76 6.8V136.1M508 6.8V136.1M514.24 6.8V136.1M520.48 6.8V136.1M526.72 6.8V136.1M532.96 6.8V136.1M539.2 6.8V136.1M545.44 6.8V136.1M551.68 6.8V136.1M557.92 6.8V136.1M564.16 6.8V136.1M570.4 6.8V136.1M576.64 6.8V136.1M582.88 6.8V136.1M589.12 6.8V136.1M595.36 6.8V136.1M601.6 6.8V136.1M607.84 6.8V136.1M614.08 6.8V136.1M620.32 6.8V136.1M626.56 6.8V136.1M632.8 6.8V136.1M639.04 6.8V136.1M645.28 6.8V136.1M651.52 6.8V136.1M657.76 6.8V136.1" stroke="#dfdfdf" stroke-width="0.9" fill="none"/><path d="M476.8 41.28H664" stroke="#c990d4" stroke-width="1"/><path d="M476.8 36.97H664M476.8 45.59H664" stroke="#c58ad2" stroke-width="0.9" stroke-dasharray="0.9 1.5"/><polyline points="476.8,93 479.92,92.84 483.04,92.69 486.16,92.54 489.28,92.41 492.4,92.29 495.52,92.18 498.64,92.07 501.76,91.97 504.88,91.88 508,91.8 511.12,91.72 514.24,91.64 517.36,91.57 520.48,91.51 523.6,91.45 526.72,91.39 529.84,91.34 532.96,91.29 536.08,91.25 539.2,91.21 542.32,91.17 545.44,91.13 548.56,91.1 551.68,91.07 554.8,91.04 557.92,91.01 561.04,90.98 564.16,90.96 567.28,90.94 570.4,90.92 573.52,90.9 576.64,90.88 579.76,90.86 582.88,90.85 586,90.83 589.12,90.82 592.24,90.81 595.36,90.8 598.48,90.79 601.6,90.78 604.72,90.77 607.84,90.76 610.96,90.75 614.08,90.74 617.2,90.73 620.32,90.73 623.44,90.72 626.56,90.72 629.68,90.71 632.8,90.71 635.92,90.7 639.04,90.7 642.16,90.69 645.28,90.69 648.4,90.69 651.52,90.68 654.64,90.68 657.76,90.68 660.88,90.68 664,90.67" stroke="#f27af2" stroke-width="1" fill="none"/><path d="M476.8 97.91H663.1V136.1" stroke="#f47c7c" stroke-width="1" fill="none"/><polyline points="476.8,136.1 477.3,133.92 477.8,129.6 478.3,121.4 478.8,112.87 479.3,104.78 479.8,99.95 480.3,96.56 480.8,93.11 481.3,88.46 481.8,83.44" stroke="#eea860" stroke-width="1.1" fill="none" transform="translate(0.9,0.9)"/><polyline points="476.8,136.1 477.3,133.92 477.8,129.6 478.3,121.4 478.8,112.87 479.3,104.78 479.8,99.95 480.3,96.56 480.8,93.11 481.3,88.46 481.8,83.44" stroke="#8cc88c" stroke-width="0.8" fill="none" transform="translate(-0.9,0)"/><polyline points="476.8,136.1 477.3,133.92 477.8,129.6 478.3,121.4 478.8,112.87 479.3,104.78 479.8,99.95 480.3,96.56 480.8,93.11 481.3,88.46 481.8,83.44" stroke="#3a5fcd" stroke-width="0.9" fill="none"/><polyline points="483,85.4 482.9,77.8 484.2,72.9 482,68.9 485.4,66.8 487.9,64.4 486,61.2 485.4,58.6 490.2,58.9 489.6,56.6 488.2,53.9 491.2,54 493.2,54.3 490.9,50.5 494.1,52.4 494.2,51.2 493.7,48.4 494.4,47.8 497,51.5 496.5,47.9 497.5,48.2 498.7,49.1 499.1,47.7 499.4,45 500.4,46.3 501.6,47.2 503.3,48.2 503.6,46.7 503.7,45.2 503.5,43.5 506.9,44.1 505,41 508.1,41.6 508,40.4 508.6,41 510,40.9 511.2,40.5 511.9,40.5 511.8,43.4 513.1,41.5 514,40.1 514.4,41.2 515.3,45.5 516.1,44.2 516.8,43.3 517.6,42.2 518.5,44.6 519.1,41.3 520,43.4 520.9,39.8 521.5,43.6 522,45.6 523,44.1 524.4,40.6 524.7,43.7 525.8,42.3 526.2,45.9 527.4,40.6 528.1,40.6 528.9,41.2 529.6,42.6 530.3,45.9 531.2,44 532,44.6 532.9,41 533.7,41.8 534.4,43.1 535.2,44.6 535.9,45.3 536.8,44.3 537.7,42.6 538.5,42.1 539.2,43.6 540.1,42.7 540.7,45.7 541.4,46.6 542.2,46.1 543.5,42.2 543.9,46.2 545,41.7 545.7,42.5 546.4,45.9 547.3,43.7 547.9,46.7 548.8,45.9 549.6,45.6 550.4,45.4 551.1,47.3 551.9,46.9 553,42.2 553.4,47.9 554.4,44.7 555.3,44 555.8,47.4 556.6,47.8 557.5,47 558.3,46.7 559.4,42.6 560.1,44.3 560.7,47.5 561.4,48.6 562.5,44.4 563.2,47.3 564,43.5 564.8,47.2 565.6,44.9 566.3,43.2 567.1,43.7 568,46 568.8,45.4 569.7,46.6 570.4,44.5 571.2,45.9 572,44.6 572.9,46.9 573.5,42.4 574.4,45.8 575.2,45.7 575.9,42.6 576.9,46.7 577.7,45.9 578.6,47.7 579.1,43.2 580,44.5 580.9,47.1 581.7,47.5 582.4,46 583.2,44 583.9,46.4 584.8,44.7 585.6,45.3 586.3,46.2 586.8,47.8 588.4,42.6 588.7,46.7 589.3,48.1 590.5,45 591.5,44.4 591.9,46.4 593.2,43.4 593.4,48.1 594.4,46.3 595.1,47.4 595.9,48.1 596.9,43.7 597.7,44.7 598.4,46.1 599.2,47.3 600,45.9 600.9,45.4 601.7,43.9 602.4,46.3 603.1,49.4 604.1,44 604.8,47.4 605.7,45.1 606.3,49.7 607.1,48.7 608.1,45.3 608.6,49.8 609.7,46 610.3,48.3 611.4,45.9 612.1,46.2 613.1,44.9 613.7,46.3 614.4,47.1 615.4,44.9 616.2,44.8 617,44.8 617.5,50 618.4,47.3 619.1,50.3 620,47.8 620.8,48.3 621.7,47.3 622.3,49.7 623.3,47.2 623.8,50.1 624.9,47.7 625.8,46.2 626.5,48 627.5,45.8 628.1,48 628.9,48.1 629.5,50.1 630,51.9 631.5,47.1 631.9,49.8 632.6,51.3 633.5,50.4 634.6,47.9 635.3,49.1 635.8,52.1 636.8,49.8 637.5,50.8 638.5,48.7 639,51.6 640,50.4 640.6,51.8 641.8,48.9 642.6,48.8 643.5,48.6 643.9,51.1 645.1,48.2 645.7,49.8 646.3,51.8 647.4,49.6 648.2,49.6 649,49.5 649.6,51 650.2,52.7 651.4,49.9 652,51.6 652.4,54.4 653.6,51.7 654.6,50.4 654.9,53.9 655.7,54.4 656.6,53.6 657.7,51.2 658.4,52.3 659.3,51.3 659.8,55 661.1,49.7 661.4,54.8 662.5,51.3 663.4,50.7" stroke="#eaa862" stroke-width="0.7" fill="none"/><polyline points="480.8,85.2 480.7,77.5 480.8,72.2 484.9,69.7 484.6,66.6 488.5,64.5 488.4,62.1 489.1,60.4 485.5,56.6 489.1,56.4 490.2,55 488.1,51.6 491.1,52.4 491.2,50.8 491.6,49.4 494.8,52 494.2,49.3 494.1,46.9 495.7,48.2 497.8,51.5 497.4,47.8 497.7,46.2 498.5,45.1 500,47.9 501.1,48.8 501.4,46.8 503.8,48.9 503.3,46.4 505.5,46.8 505.1,44.9 506.1,43.6 505.9,41.6 505.4,38.9 507.8,41.9 507.4,42.8 508.7,42.6 510.7,41.5 512.2,39.6 512.7,40.5 512.7,43.2 513.5,44.1 514.4,39.6 515.3,46.1 516.1,44.5 516.9,44.4 517.9,46.3 518.5,43.6 519.2,42.6 520,40.7 520.8,44 521.5,44.1 522,46 522.7,46 524,43 524.4,45.7 525.2,46.5 526.5,42.8 527.2,44.2 528,44.2 528.8,43.4 529.6,43.3 530.5,41.6 531.3,41.4 532.1,42.3 532.8,44.3 533.6,44.9 534.3,46 535.3,42.3 536,44 536.8,43.6 537.8,41.6 538.2,47.4 539.3,42.9 539.9,45.5 540.7,45.5 541.4,46.2 542.1,46.7 542.9,47.6 544.1,43.3 544.7,45.8 545.7,43.4 546.5,43.3 547.1,46.8 548,46.5 548.8,46.4 549.7,42.1 550.3,48.2 551.2,45.8 552,44.7 552.6,47.9 553.9,42.3 554.5,43.7 555.4,42.7 556.1,44 556.6,47.4 557.8,42.9 558.3,47.3 559.2,46.2 560.1,44.4 560.6,48.1 561.8,42.4 562.5,43.9 563.2,45.8 564,45.1 564.8,44.9 565.8,49.3 566.4,46 567.3,46.8 568,45.3 568.7,43.4 569.4,42.7 570.5,47.2 571.3,47 572.2,48.8 572.7,43.5 573.6,44.5 574.4,44.4 575.2,45.7 575.9,42 576.9,47.3 577.7,46.8 578.3,42.2 579.3,46.5 580,43.8 580.8,44.5 581.6,42.8 582.4,46.2 583.2,45.5 584.2,41.6 585.1,42.5 585.4,46.7 586.8,42.6 587.2,45.1 587.8,46.6 589.1,43.2 589.6,45.6 590.5,45.2 591.6,43.4 591.7,48 593.3,43.2 593.3,48.6 594.5,45.1 595.3,45.4 596.1,44.5 596.7,49 597.5,50.1 598.5,44.4 599.2,47.5 600.1,43.4 600.8,46 601.7,44.7 602.4,47.7 603.3,44.7 604,47.6 604.7,50.1 605.7,45.1 606.5,44.3 607.1,49.5 608.2,43.8 608.7,48.7 609.3,49.9 610.7,44.6 611.2,47.4 611.6,50.7 613.1,45 613.4,49.9 614.3,48.8 615.4,44.6 616.1,45.4 616.7,50.7 617.8,44.7 618.5,46.8 619.4,44.6 620.1,46.2 621,45.9 621.4,50.1 622.7,45.1 623.5,45.4 624,48.5 625,46.2 625.6,48.6 626.8,45.4 627.5,46.4 628.2,47.6 628.6,50.3 629.3,51.2 630.7,46.8 631.2,49.2 631.7,51.7 632.8,49.5 633.4,51.4 634.2,51.9 635.3,48.3 635.9,50.4 636.8,49.9 637.8,47.7 638.3,51.4 638.9,52.5 640.4,46.8 640.4,53.3 642,47.1 642.5,49.6 643.6,47.4 644.1,49.7 644.8,51.1 645.6,50.7 646.5,49.8 647.2,51 647.9,52.4 648.7,52.2 649.9,48.7 650.4,51.6 651.6,48.3 651.9,52.4 653.3,48.3 653.6,52.1 654.7,49.9 655.7,48.7 656,51.9 657,50.7 658,49.1 658.2,54.3 659.4,50.5 659.9,53.6 660.9,52 661.4,54.7 662.5,51.3 663.4,50.1" stroke="#70c070" stroke-width="0.7" fill="none"/><polygon points="481.3,86.9 482.3,77.1 483.3,70.7 484.3,66.9 485.3,63.3 486.3,60 487.3,57.7 488.3,55.7 489.3,53.7 490.3,52 491.3,50.8 492.3,49.8 493.3,49 494.3,48.3 495.3,47.8 496.3,47.4 497.3,47.1 498.3,46.7 499.3,46.4 500.3,46.2 501.3,45.9 502.3,45.5 503.3,44.6 504.3,43.6 505.3,42.3 506.3,40.5 507.3,39.1 508.3,39 509.3,39.6 510.3,40.4 511.3,40.8 512.3,41.1 513.3,41.4 514.3,41.5 515.3,41.4 516.3,41.4 517.3,41.3 518.3,41.2 519.3,41.1 520.3,41.1 521.3,41.1 522.3,41.2 523.3,41.4 524.3,41.6 525.3,41.7 526.3,41.9 527.3,41.9 528.3,42 529.3,42 530.3,42 531.3,42.1 532.3,42.1 533.3,42.2 534.3,42.2 535.3,42.3 536.3,42.3 537.3,42.4 538.3,42.4 539.3,42.5 540.3,42.6 541.3,42.7 542.3,42.8 543.3,42.9 544.3,43 545.3,43.1 546.3,43.1 547.3,43.2 548.3,43.2 549.3,43.2 550.3,43.3 551.3,43.3 552.3,43.4 553.3,43.5 554.3,43.6 555.3,43.6 556.3,43.7 557.3,43.8 558.3,43.9 559.3,44 560.3,44 561.3,44.1 562.3,44.2 563.3,44.2 564.3,44.2 565.3,44.2 566.3,44.1 567.3,44.1 568.3,44 569.3,43.9 570.3,43.9 571.3,43.8 572.3,43.8 573.3,43.7 574.3,43.7 575.3,43.7 576.3,43.6 577.3,43.6 578.3,43.5 579.3,43.5 580.3,43.4 581.3,43.4 582.3,43.4 583.3,43.4 584.3,43.4 585.3,43.5 586.3,43.6 587.3,43.8 588.3,43.9 589.3,44.1 590.3,44.2 591.3,44.4 592.3,44.5 593.3,44.7 594.3,44.8 595.3,44.9 596.3,45 597.3,45 598.3,45 599.3,45.1 600.3,45.1 601.3,45.1 602.3,45.2 603.3,45.2 604.3,45.3 605.3,45.3 606.3,45.3 607.3,45.4 608.3,45.4 609.3,45.5 610.3,45.6 611.3,45.7 612.3,45.9 613.3,46 614.3,46 615.3,46.1 616.3,46.2 617.3,46.2 618.3,46.2 619.3,46.3 620.3,46.4 621.3,46.4 622.3,46.5 623.3,46.6 624.3,46.7 625.3,46.8 626.3,46.9 627.3,47.1 628.3,47.2 629.3,47.3 630.3,47.4 631.3,47.6 632.3,47.7 633.3,47.8 634.3,47.9 635.3,48 636.3,48.1 637.3,48.2 638.3,48.3 639.3,48.4 640.3,48.5 641.3,48.6 642.3,48.7 643.3,48.9 644.3,49 645.3,49.1 646.3,49.2 647.3,49.3 648.3,49.5 649.3,49.6 650.3,49.7 651.3,49.8 652.3,49.9 653.3,50.1 654.3,50.2 655.3,50.4 656.3,50.5 657.3,50.6 658.3,50.7 659.3,50.8 660.3,51 661.3,51 662.3,51.1 663.3,51.2 663.8,54.4 662.8,54.3 661.8,54.2 660.8,54.1 659.8,54 658.8,53.9 657.8,53.8 656.8,53.7 655.8,53.5 654.8,53.4 653.8,53.2 652.8,53.1 651.8,53 650.8,52.8 649.8,52.7 648.8,52.6 647.8,52.5 646.8,52.4 645.8,52.3 644.8,52.2 643.8,52 642.8,51.9 641.8,51.8 640.8,51.7 639.8,51.5 638.8,51.4 637.8,51.3 636.8,51.2 635.8,51.1 634.8,51 633.8,51 632.8,50.8 631.8,50.7 630.8,50.6 629.8,50.5 628.8,50.3 627.8,50.2 626.8,50.1 625.8,50 624.8,49.9 623.8,49.8 622.8,49.7 621.8,49.6 620.8,49.5 619.8,49.4 618.8,49.4 617.8,49.3 616.8,49.3 615.8,49.2 614.8,49.2 613.8,49.1 612.8,49 611.8,48.9 610.8,48.8 609.8,48.7 608.8,48.6 607.8,48.5 606.8,48.5 605.8,48.4 604.8,48.4 603.8,48.3 602.8,48.3 601.8,48.3 600.8,48.2 599.8,48.2 598.8,48.2 597.8,48.1 596.8,48.1 595.8,48 594.8,48 593.8,47.8 592.8,47.7 591.8,47.5 590.8,47.4 589.8,47.2 588.8,47.1 587.8,47 586.8,46.8 585.8,46.7 584.8,46.6 583.8,46.5 582.8,46.5 581.8,46.5 580.8,46.5 579.8,46.5 578.8,46.6 577.8,46.7 576.8,46.7 575.8,46.7 574.8,46.8 573.8,46.8 572.8,46.9 571.8,46.9 570.8,46.9 569.8,47 568.8,47.1 567.8,47.1 566.8,47.2 565.8,47.3 564.8,47.3 563.8,47.3 562.8,47.3 561.8,47.2 560.8,47.2 559.8,47.1 558.8,47 557.8,47 556.8,46.9 555.8,46.8 554.8,46.7 553.8,46.6 552.8,46.5 551.8,46.5 550.8,46.4 549.8,46.4 548.8,46.3 547.8,46.3 546.8,46.3 545.8,46.2 544.8,46.1 543.8,46.1 542.8,46 541.8,45.8 540.8,45.7 539.8,45.6 538.8,45.6 537.8,45.5 536.8,45.4 535.8,45.4 534.8,45.3 533.8,45.3 532.8,45.2 531.8,45.2 530.8,45.2 529.8,45.1 528.8,45.1 527.8,45 526.8,45 525.8,44.9 524.8,44.8 523.8,44.6 522.8,44.4 521.8,44.3 520.8,44.2 519.8,44.2 518.8,44.3 517.8,44.3 516.8,44.4 515.8,44.5 514.8,44.5 513.8,44.5 512.8,44.4 511.8,44.1 510.8,43.7 509.8,43.1 508.8,42.3 507.8,42 506.8,42.8 505.8,44.5 504.8,46.2 503.8,47.2 502.8,48.2 501.8,48.8 500.8,49.2 499.8,49.4 498.8,49.7 497.8,50 496.8,50.3 495.8,50.7 494.8,51.2 493.8,51.7 492.8,52.5 491.8,53.4 490.8,54.5 489.8,55.9 488.8,57.8 487.8,59.8 486.8,61.9 485.8,64.6 484.8,68.2 483.8,71.8 482.8,76.4 481.8,85" fill="#1e961e"/><polyline points="481.3,88.5 482.3,78.7 483.3,72.3 484.3,68.4 485.3,64.8 486.3,61.6 487.3,59.3 488.3,57.2 489.3,55.2 490.3,53.6 491.3,52.4 492.3,51.4 493.3,50.5 494.3,49.9 495.3,49.4 496.3,49 497.3,48.6 498.3,48.3 499.3,48 500.3,47.8 501.3,47.5 502.3,47 503.3,46.2 504.3,45.2 505.3,43.9 506.3,42.1 507.3,40.7 508.3,40.5 509.3,41.2 510.3,41.9 511.3,42.3 512.3,42.7 513.3,42.9 514.3,43 515.3,43 516.3,42.9 517.3,42.8 518.3,42.8 519.3,42.7 520.3,42.7 521.3,42.7 522.3,42.8 523.3,42.9 524.3,43.1 525.3,43.3 526.3,43.4 527.3,43.5 528.3,43.5 529.3,43.6 530.3,43.6 531.3,43.6 532.3,43.7 533.3,43.7 534.3,43.8 535.3,43.8 536.3,43.9 537.3,43.9 538.3,44 539.3,44 540.3,44.1 541.3,44.2 542.3,44.3 543.3,44.5 544.3,44.6 545.3,44.6 546.3,44.7 547.3,44.7 548.3,44.8 549.3,44.8 550.3,44.8 551.3,44.9 552.3,44.9 553.3,45 554.3,45.1 555.3,45.2 556.3,45.3 557.3,45.4 558.3,45.4 559.3,45.5 560.3,45.6 561.3,45.7 562.3,45.7 563.3,45.8 564.3,45.8 565.3,45.7 566.3,45.7 567.3,45.6 568.3,45.6 569.3,45.5 570.3,45.4 571.3,45.4 572.3,45.3 573.3,45.3 574.3,45.3 575.3,45.2 576.3,45.2 577.3,45.1 578.3,45.1 579.3,45 580.3,45 581.3,44.9 582.3,44.9 583.3,44.9 584.3,45 585.3,45.1 586.3,45.2 587.3,45.3 588.3,45.5 589.3,45.6 590.3,45.8 591.3,45.9 592.3,46.1 593.3,46.2 594.3,46.4 595.3,46.4 596.3,46.5 597.3,46.6 598.3,46.6 599.3,46.6 600.3,46.7 601.3,46.7 602.3,46.7 603.3,46.8 604.3,46.8 605.3,46.8 606.3,46.9 607.3,46.9 608.3,47 609.3,47.1 610.3,47.2 611.3,47.3 612.3,47.4 613.3,47.5 614.3,47.6 615.3,47.6 616.3,47.7 617.3,47.7 618.3,47.8 619.3,47.9 620.3,47.9 621.3,48 622.3,48.1 623.3,48.2 624.3,48.3 625.3,48.4 626.3,48.5 627.3,48.6 628.3,48.7 629.3,48.9 630.3,49 631.3,49.1 632.3,49.2 633.3,49.3 634.3,49.4 635.3,49.5 636.3,49.6 637.3,49.7 638.3,49.8 639.3,49.9 640.3,50 641.3,50.2 642.3,50.3 643.3,50.4 644.3,50.6 645.3,50.7 646.3,50.8 647.3,50.9 648.3,51 649.3,51.1 650.3,51.2 651.3,51.3 652.3,51.5 653.3,51.6 654.3,51.8 655.3,51.9 656.3,52 657.3,52.2 658.3,52.3 659.3,52.4 660.3,52.5 661.3,52.6 662.3,52.7 663.3,52.8" stroke="#1e961e" stroke-width="2.2" fill="none" stroke-linejoin="round"/><polyline points="482.3,85.3 482.8,78.6 481.7,73.4 482.3,70.2 485,68.2 486.4,65.9 484.8,62.7 485.5,60.7 488,59.8 487.8,58 488.3,56.5 488.8,54.9 488.6,53.1 490.6,52.9 490.8,51.7 491.8,51.2 492.9,51 493.9,51 494.5,50.4 495.4,50.5 494.8,47.4 496.5,49.6 497.1,48.9 498.2,49.9 499,50 498.6,46 500.1,49.2 500.3,46.7 501.4,48 502.4,48.2 503.5,47.9 504.6,47.5 504.4,45.8 505.8,45.7 505.4,43.7 505.2,41.9 505.7,40.5 507.5,40.5 507.9,41.5 509,40.7 509.1,42 511.1,40.6 510.3,44.1 511.7,42.4 512,44 512.9,43.8 513.7,44.2 514.5,42.5 515.1,41.3 515.9,42.8 516.6,42.2 517.3,42.4 518.2,44.9 518.7,41.9 519.5,43.9 520.1,41.2 520.8,43.1 521.6,42.1 522.4,41.7 523,42.4 523.3,44.8 524.3,43.5 525,43.3 525.5,44.6 526.4,43.4 527.2,41.8 527.9,41.9 528.5,44.5 529.2,43.4 530,42.3 530.5,45.6 531.3,42.6 532,44.9 532.7,42.9 533.4,44.8 534.1,43.9 534.9,41.8 535.5,44.7 536.3,43 536.9,43.6 537.6,44.9 538.2,46.1 539,43.8 539.7,44.8 540.4,44.1 541,44.9 542,42.8 542.3,46.5 543.4,42.9 543.8,45.2 544.8,42.7 545.4,42.9 545.9,46.3 546.7,45.8 547.5,43 548.1,43.8 548.9,42.9 549.4,46.7 550.2,46.3 550.9,46.1 551.6,45.7 552.3,45.7 553.2,43 553.9,43.2 554.5,44.3 555.1,45.5 555.7,46.7 556.5,45.1 557.3,44.3 557.9,46 558.5,47.4 559.3,45.5 560,45.8 560.8,44.7 561.3,46.8 562.2,44.2 562.8,46.5 563.5,44.5 564.2,46.5 564.9,45.8 565.7,47.1 566.3,46 567.1,47.4 567.7,45.4 568.3,43.5 569.3,47.5 569.9,46.6 570.6,46.8 571.3,46.8 571.8,43.7 572.7,46.9 573.2,43.5 574,44.4 574.7,43.8 575.4,45.1 576.1,43.8 576.8,43.9 577.5,45.5 578.1,43.6 578.9,45 579.7,45.8 580.2,42.9 581.1,46.6 581.7,46 582.4,46 583.1,45.9 583.7,46.9 584.6,43.5 585.4,43.3 585.8,46.2 586.9,43.2 587.2,45.9 587.9,46 588.5,47.3 589.6,43.9 590.2,45.1 590.6,46.9 591.6,45.3 592.4,45.2 593.1,44.8 593.9,44.2 594.3,46.5 595.2,44.6 595.7,46.3 596.4,47.5 597.1,46.2 597.8,47 598.4,48.5 599.3,45.2 599.9,47.3 600.6,47.4 601.3,46.7 602,46 602.8,45.3 603.4,46.3 604.1,47 604.7,48.9 605.6,45.9 606.1,48.4 606.9,48.1 607.6,46.4 608.3,47.3 609.2,45 609.5,49.2 610.4,47.2 611.3,45.8 611.7,48.6 612.3,49 613.1,48.5 613.8,49.6 614.7,46.7 615.3,47.9 616,47.4 616.7,48.3 617.5,46.8 618.1,48.6 618.8,47.7 619.5,47.4 620.2,48.8 621,47 621.7,47.3 622.1,50.2 623.1,47.7 623.8,47.5 624.2,50.3 624.9,50.2 625.6,50.2 626.7,46.8 627.1,49.9 628.1,47.4 628.5,49.4 629.1,50.4 629.9,50 631,47.2 631.4,49.5 632.3,47.8 632.7,50.7 633.6,48.2 634.3,48.2 635,48.9 635.6,49.8 636.2,51.4 637.1,48.3 637.6,51.2 638.4,49.5 638.9,52 639.7,50.6 640.7,48.9 641.2,50.2 641.8,51.3 642.4,51.8 643.3,50.3 644.1,50 644.6,51.6 645.6,49 646,51.6 646.9,50.4 647.4,51.8 648.4,49.2 649,50 649.7,50.2 650.4,50.4 650.8,53.3 651.5,52.9 652.7,49.7 653.1,51.9 653.5,53.6 654.3,53.1 655.5,50 655.8,53 656.5,53.3 657.1,53.9 658,52.6 658.7,52.1 659.6,51.1 660.1,52.9 660.9,51.6 661.6,51.7 662.2,52.8 663.1,50.9 663.6,52.7" stroke="#007c00" stroke-width="0.8" fill="none"/><polyline points="480.9,85.2 483.4,70.1 486.3,62.5 488.2,57.4 490.6,53.6 492.8,51.3 495.6,51.2 496.4,46.8 499.5,49.2 501.9,48.9 504.3,46.6 505.5,42.8 507.6,42.6 511.4,40 512,44.1 514.6,43.5 516.6,40.6 519,41.9 521.3,42.1 523.7,41.4 525.5,44 527.8,43.2 530,44.6 532.2,43 534.5,41.6 536.6,44.9 538.7,45.2 541.2,42.2 543.2,44.3 545.4,44.4 547.5,46.8 549.8,45.3 552.1,44 554,47 556.5,44.4 558.5,46.6 560.9,44.1 563.1,44.3 565.2,44 567.5,47.2 569.5,44 571.8,44.2 574,43.8 576.3,46.7 578.4,45.1 580.5,43.5 582.8,46.9 584.8,46.6 587.3,44.4 589.5,44.8 591.9,44 594.1,44.3 596,47.6 598.2,48.2 600.4,47.6 602.7,45.5 604.7,48.5 607.1,45.7 609.3,45.9 611.3,48.1 613.7,46.3 615.7,49.1 618.1,46.9 620.1,49.6 622.3,49.8 624.6,48.7 626.6,50.4 628.9,49.5 631.3,48.3 633.5,48.3 635.5,50.9 638,48 639.9,51.1 642.2,50.5 644.7,48.3 646.8,49.4 648.8,51 651.2,50 653.1,52.5 655.2,53.1 657.3,54.5 659.6,54.4 662,53.3" stroke="#d9a35a" stroke-width="0.5" stroke-opacity="0.8" fill="none"/><polyline points="480.6,85.2 482.1,70.6 484.8,63.5 487.2,58.4 488.2,53.9 490.8,51.3 494.6,51.8 496,50.2 497.2,47.2 499.4,46.9 502,48.3 504.6,46.9 505.2,43.1 508,41.4 510.4,40.4 511.6,42.6 513.6,43.3 515.7,44 517.5,42 519.6,42.4 521.7,42.3 523.8,41.7 525.5,44 527.6,43.7 529.6,43.6 531.6,44.1 533.6,44.1 535.7,42.2 537.7,43.2 539.6,43.7 541.7,43.1 543.5,45.3 545.6,45.3 547.6,45.7 549.7,43 551.7,43.4 553.7,44.1 555.6,45.4 557.7,43.8 559.5,47.1 561.7,43.9 563.6,46.2 565.7,46.7 567.6,45.9 569.6,45 571.7,46.7 573.6,44.5 575.6,44 577.6,45.3 579.5,43.6 581.6,43.4 583.5,46.5 585.6,45 587.8,44.4 589.5,46.4 591.4,47.4 593.8,44.8 595.6,46.1 597.6,45.9 599.6,48.1 601.7,45.5 603.6,46 605.7,45.3 607.6,47.4 609.7,46 611.5,48 613.7,46.6 615.5,48.9 617.6,48.5 619.5,49.5 621.6,47.8 623.7,47 625.4,50 627.5,49.2 629.4,50.4 631.6,49.1 633.5,50.4 635.6,49.5 637.7,49.2 639.5,50.9 641.7,49.3 643.8,48.9 645.6,50.5 647.8,49.1 649.8,49.4 651.5,52.2 653.6,51.6 655.8,50.7 657.6,52.6 659.6,52.2 661.7,51.8 663.7,52.1" stroke="#5cb85c" stroke-width="0.5" stroke-opacity="0.8" fill="none"/><path d="M476.8 6.8V136.1" stroke="#5a5a5a" stroke-width="0.9"/><path d="M664 0V136.1" stroke="#5a5a5a" stroke-width="0.9"/><path d="M476.8 136.1H664" stroke="#5a5a5a" stroke-width="0.9"/><path d="M476.8 127.48h1M476.8 118.86h1M476.8 110.24h1M476.8 101.62h1M476.8 93h1M476.8 84.38h1M476.8 75.76h1M476.8 67.14h1M476.8 58.52h1M476.8 49.9h1M476.8 41.28h1M476.8 32.66h1M476.8 24.04h1M476.8 15.42h1M476.8 6.8h1M483.04 136.1v1M489.28 136.1v1M495.52 136.1v1M501.76 136.1v1M508 136.1v1M514.24 136.1v1M520.48 136.1v1M526.72 136.1v1M532.96 136.1v1M539.2 136.1v1M545.44 136.1v1M551.68 136.1v1M557.92 136.1v1M564.16 136.1v1M570.4 136.1v1M576.64 136.1v1M582.88 136.1v1M589.12 136.1v1M595.36 136.1v1M601.6 136.1v1M607.84 136.1v1M614.08 136.1v1M620.32 136.1v1M626.56 136.1v1M632.8 136.1v1M639.04 136.1v1M645.28 136.1v1M651.52 136.1v1M657.76 136.1v1M664.85 123.9h1M664.85 110.86h1M664.85 97.81h1M664.85 84.77h1M664.85 71.72h1M664.85 58.68h1M664.85 45.63h1M664.85 32.59h1M664.85 19.54h1M664.85 6.5h1" stroke="#555" stroke-width="0.8" fill="none"/><rect x="543.44" y="132.8" width="8.74" height="4.6" fill="#fff"/><text transform="translate(475.3 128.72) scale(0.879 1)" font-size="3.45" text-anchor="end" fill="#4a4452" stroke="#4a4452" stroke-width="0.15">0.1</text><text transform="translate(475.3 120.1) scale(0.879 1)" font-size="3.45" text-anchor="end" fill="#4a4452" stroke="#4a4452" stroke-width="0.15">0.2</text><text transform="translate(475.3 111.48) scale(0.879 1)" font-size="3.45" text-anchor="end" fill="#4a4452" stroke="#4a4452" stroke-width="0.15">0.3</text><text transform="translate(475.3 102.86) scale(0.879 1)" font-size="3.45" text-anchor="end" fill="#4a4452" stroke="#4a4452" stroke-width="0.15">0.4</text><text transform="translate(475.3 94.24) scale(0.879 1)" font-size="3.45" text-anchor="end" fill="#4a4452" stroke="#4a4452" stroke-width="0.15">0.5</text><text transform="translate(475.3 85.62) scale(0.879 1)" font-size="3.45" text-anchor="end" fill="#4a4452" stroke="#4a4452" stroke-width="0.15">0.6</text><text transform="translate(475.3 77) scale(0.879 1)" font-size="3.45" text-anchor="end" fill="#4a4452" stroke="#4a4452" stroke-width="0.15">0.7</text><text transform="translate(475.3 68.38) scale(0.879 1)" font-size="3.45" text-anchor="end" fill="#4a4452" stroke="#4a4452" stroke-width="0.15">0.8</text><text transform="translate(475.3 59.76) scale(0.879 1)" font-size="3.45" text-anchor="end" fill="#4a4452" stroke="#4a4452" stroke-width="0.15">0.9</text><text transform="translate(475.3 51.14) scale(0.879 1)" font-size="3.45" text-anchor="end" fill="#4a4452" stroke="#4a4452" stroke-width="0.15">1</text><text transform="translate(475.3 42.52) scale(0.879 1)" font-size="3.45" text-anchor="end" fill="#4a4452" stroke="#4a4452" stroke-width="0.15">1.1</text><text transform="translate(475.3 33.9) scale(0.879 1)" font-size="3.45" text-anchor="end" fill="#4a4452" stroke="#4a4452" stroke-width="0.15">1.2</text><text transform="translate(475.3 25.28) scale(0.879 1)" font-size="3.45" text-anchor="end" fill="#4a4452" stroke="#4a4452" stroke-width="0.15">1.3</text><text transform="translate(475.3 16.66) scale(0.879 1)" font-size="3.45" text-anchor="end" fill="#4a4452" stroke="#4a4452" stroke-width="0.15">1.4</text><text transform="translate(475.3 8.04) scale(0.879 1)" font-size="3.45" text-anchor="end" fill="#4a4452" stroke="#4a4452" stroke-width="0.15">1.5</text><text transform="translate(483.04 140.86) scale(0.787 1)" font-size="3.23" text-anchor="middle" fill="#4a4452" stroke="#4a4452" stroke-width="0.15">1</text><text transform="translate(489.28 140.86) scale(0.787 1)" font-size="3.23" text-anchor="middle" fill="#4a4452" stroke="#4a4452" stroke-width="0.15">2</text><text transform="translate(495.52 140.86) scale(0.787 1)" font-size="3.23" text-anchor="middle" fill="#4a4452" stroke="#4a4452" stroke-width="0.15">3</text><text transform="translate(501.76 140.86) scale(0.787 1)" font-size="3.23" text-anchor="middle" fill="#4a4452" stroke="#4a4452" stroke-width="0.15">4</text><text transform="translate(508 140.86) scale(0.787 1)" font-size="3.23" text-anchor="middle" fill="#4a4452" stroke="#4a4452" stroke-width="0.15">5</text><text transform="translate(514.24 140.86) scale(0.787 1)" font-size="3.23" text-anchor="middle" fill="#4a4452" stroke="#4a4452" stroke-width="0.15">6</text><text transform="translate(520.48 140.86) scale(0.787 1)" font-size="3.23" text-anchor="middle" fill="#4a4452" stroke="#4a4452" stroke-width="0.15">7</text><text transform="translate(526.72 140.86) scale(0.787 1)" font-size="3.23" text-anchor="middle" fill="#4a4452" stroke="#4a4452" stroke-width="0.15">8</text><text transform="translate(532.96 140.86) scale(0.787 1)" font-size="3.23" text-anchor="middle" fill="#4a4452" stroke="#4a4452" stroke-width="0.15">9</text><text transform="translate(539.2 140.86) scale(0.787 1)" font-size="3.23" text-anchor="middle" fill="#4a4452" stroke="#4a4452" stroke-width="0.15">10</text><text transform="translate(545.44 140.86) scale(0.787 1)" font-size="3.23" text-anchor="middle" fill="#4a4452" stroke="#4a4452" stroke-width="0.15">11</text><text transform="translate(551.68 140.86) scale(0.787 1)" font-size="3.23" text-anchor="middle" fill="#4a4452" stroke="#4a4452" stroke-width="0.15">12</text><text transform="translate(557.92 140.86) scale(0.787 1)" font-size="3.23" text-anchor="middle" fill="#4a4452" stroke="#4a4452" stroke-width="0.15">13</text><text transform="translate(564.16 140.86) scale(0.787 1)" font-size="3.23" text-anchor="middle" fill="#4a4452" stroke="#4a4452" stroke-width="0.15">14</text><text transform="translate(570.4 140.86) scale(0.787 1)" font-size="3.23" text-anchor="middle" fill="#4a4452" stroke="#4a4452" stroke-width="0.15">15</text><text transform="translate(576.64 140.86) scale(0.787 1)" font-size="3.23" text-anchor="middle" fill="#4a4452" stroke="#4a4452" stroke-width="0.15">16</text><text transform="translate(582.88 140.86) scale(0.787 1)" font-size="3.23" text-anchor="middle" fill="#4a4452" stroke="#4a4452" stroke-width="0.15">17</text><text transform="translate(589.12 140.86) scale(0.787 1)" font-size="3.23" text-anchor="middle" fill="#4a4452" stroke="#4a4452" stroke-width="0.15">18</text><text transform="translate(595.36 140.86) scale(0.787 1)" font-size="3.23" text-anchor="middle" fill="#4a4452" stroke="#4a4452" stroke-width="0.15">19</text><text transform="translate(601.6 140.86) scale(0.787 1)" font-size="3.23" text-anchor="middle" fill="#4a4452" stroke="#4a4452" stroke-width="0.15">20</text><text transform="translate(607.84 140.86) scale(0.787 1)" font-size="3.23" text-anchor="middle" fill="#4a4452" stroke="#4a4452" stroke-width="0.15">21</text><text transform="translate(614.08 140.86) scale(0.787 1)" font-size="3.23" text-anchor="middle" fill="#4a4452" stroke="#4a4452" stroke-width="0.15">22</text><text transform="translate(620.32 140.86) scale(0.787 1)" font-size="3.23" text-anchor="middle" fill="#4a4452" stroke="#4a4452" stroke-width="0.15">23</text><text transform="translate(626.56 140.86) scale(0.787 1)" font-size="3.23" text-anchor="middle" fill="#4a4452" stroke="#4a4452" stroke-width="0.15">24</text><text transform="translate(632.8 140.86) scale(0.787 1)" font-size="3.23" text-anchor="middle" fill="#4a4452" stroke="#4a4452" stroke-width="0.15">25</text><text transform="translate(639.04 140.86) scale(0.787 1)" font-size="3.23" text-anchor="middle" fill="#4a4452" stroke="#4a4452" stroke-width="0.15">26</text><text transform="translate(645.28 140.86) scale(0.787 1)" font-size="3.23" text-anchor="middle" fill="#4a4452" stroke="#4a4452" stroke-width="0.15">27</text><text transform="translate(651.52 140.86) scale(0.787 1)" font-size="3.23" text-anchor="middle" fill="#4a4452" stroke="#4a4452" stroke-width="0.15">28</text><text transform="translate(657.76 140.86) scale(0.787 1)" font-size="3.23" text-anchor="middle" fill="#4a4452" stroke="#4a4452" stroke-width="0.15">29</text><text transform="translate(671.49 125.06) scale(0.833 1)" font-size="3.23" text-anchor="end" fill="#333" stroke="#333" stroke-width="0.15">10</text><text transform="translate(671.49 112.02) scale(0.833 1)" font-size="3.23" text-anchor="end" fill="#333" stroke="#333" stroke-width="0.15">20</text><text transform="translate(671.49 98.97) scale(0.833 1)" font-size="3.23" text-anchor="end" fill="#333" stroke="#333" stroke-width="0.15">30</text><text transform="translate(671.49 85.93) scale(0.833 1)" font-size="3.23" text-anchor="end" fill="#333" stroke="#333" stroke-width="0.15">40</text><text transform="translate(671.49 72.89) scale(0.833 1)" font-size="3.23" text-anchor="end" fill="#333" stroke="#333" stroke-width="0.15">50</text><text transform="translate(671.49 59.84) scale(0.833 1)" font-size="3.23" text-anchor="end" fill="#333" stroke="#333" stroke-width="0.15">60</text><text transform="translate(671.49 46.8) scale(0.833 1)" font-size="3.23" text-anchor="end" fill="#333" stroke="#333" stroke-width="0.15">70</text><text transform="translate(671.49 33.75) scale(0.833 1)" font-size="3.23" text-anchor="end" fill="#333" stroke="#333" stroke-width="0.15">80</text><text transform="translate(671.49 20.71) scale(0.833 1)" font-size="3.23" text-anchor="end" fill="#333" stroke="#333" stroke-width="0.15">90</text><text transform="translate(671.49 7.66) scale(0.833 1)" font-size="3.23" text-anchor="end" fill="#333" stroke="#333" stroke-width="0.15">100</text><text transform="translate(469.34 71.45) rotate(-90) scale(1.046 1)" font-size="3.21" text-anchor="middle" fill="#555" stroke="#555" stroke-width="0.15">Torque(Nm)</text><text transform="translate(674.61 69.15) rotate(90) scale(1.019 1)" font-size="4.13" text-anchor="middle" fill="#333" stroke="#333" stroke-width="0.1">Temperature     (°C)</text><text transform="translate(569.78 146.72) scale(0.799 1)" font-size="3.39" text-anchor="middle" fill="#333" stroke="#333" stroke-width="0.15">Time (min)</text><path d="M466.82 147.8H664V136.1" stroke="#dcf3dc" stroke-width="0.9" fill="none"/><text transform="translate(467.13 153.53) scale(0.906 1)" font-size="3.69" fill="#1a1a1a" stroke="#1a1a1a" stroke-width="0.15">amara</text><text transform="translate(529.84 153.53) scale(0.906 1)" font-size="3.69" fill="#1a1a1a" stroke="#1a1a1a" stroke-width="0.15">Mixing</text><text transform="translate(562.29 153.53) scale(0.906 1)" font-size="3.69" fill="#1a1a1a" stroke="#1a1a1a" stroke-width="0.15">1/2</text><text transform="translate(584.13 153.53) scale(0.906 1)" font-size="3.69" fill="#1a1a1a" stroke="#1a1a1a" stroke-width="0.15">Device N°</text><text transform="translate(610.34 153.53) scale(0.906 1)" font-size="3.69" fill="#1a1a1a" stroke="#1a1a1a" stroke-width="0.15">499</text><text transform="translate(625 153.53) scale(0.906 1)" font-size="3.69" fill="#1a1a1a" stroke="#1a1a1a" stroke-width="0.15">Version4.0.8r4.1i</text><text transform="translate(666.5 153.53) scale(0.906 1)" font-size="3.69" fill="#1a1a1a" stroke="#1a1a1a" stroke-width="0.15">TNC</text><text x="488.6" y="21.6" font-family='"Liberation Serif", serif' font-weight="bold" font-size="12" fill="#000">D3</text></g><g><path d="M16.5 292.64H213.6M16.5 283.18H213.6M16.5 273.72H213.6M16.5 264.26H213.6M16.5 254.8H213.6M16.5 245.34H213.6M16.5 235.88H213.6M16.5 226.42H213.6M16.5 216.96H213.6M16.5 207.5H213.6M16.5 198.04H213.6M16.5 188.58H213.6M16.5 179.12H213.6M16.5 169.66H213.6" stroke="#e4e4e4" stroke-width="0.9" fill="none"/><path d="M23.07 169.66V302.1M29.64 169.66V302.1M36.21 169.66V302.1M42.78 169.66V302.1M49.35 169.66V302.1M55.92 169.66V302.1M62.49 169.66V302.1M69.06 169.66V302.1M75.63 169.66V302.1M82.2 169.66V302.1M88.77 169.66V302.1M95.34 169.66V302.1M101.91 169.66V302.1M108.48 169.66V302.1M115.05 169.66V302.1M121.62 169.66V302.1M128.19 169.66V302.1M134.76 169.66V302.1M141.33 169.66V302.1M147.9 169.66V302.1M154.47 169.66V302.1M161.04 169.66V302.1M167.61 169.66V302.1M174.18 169.66V302.1M180.75 169.66V302.1M187.32 169.66V302.1M193.89 169.66V302.1M200.46 169.66V302.1M207.03 169.66V302.1" stroke="#dfdfdf" stroke-width="0.9" fill="none"/><path d="M16.5 250.07H213.6" stroke="#c990d4" stroke-width="1"/><path d="M16.5 247.71H213.6M16.5 252.44H213.6" stroke="#c58ad2" stroke-width="0.9" stroke-dasharray="0.9 1.5"/><polyline points="16.5,254.8 19.79,254.58 23.07,254.37 26.36,254.17 29.64,253.99 32.92,253.82 36.21,253.66 39.5,253.52 42.78,253.38 46.06,253.25 49.35,253.14 52.64,253.03 55.92,252.92 59.2,252.83 62.49,252.74 65.78,252.66 69.06,252.58 72.34,252.51 75.63,252.44 78.92,252.38 82.2,252.32 85.48,252.27 88.77,252.22 92.06,252.17 95.34,252.13 98.62,252.09 101.91,252.05 105.2,252.01 108.48,251.98 111.77,251.95 115.05,251.92 118.34,251.89 121.62,251.87 124.91,251.85 128.19,251.83 131.48,251.81 134.76,251.79 138.05,251.77 141.33,251.75 144.62,251.74 147.9,251.73 151.19,251.71 154.47,251.7 157.75,251.69 161.04,251.68 164.33,251.67 167.61,251.66 170.9,251.65 174.18,251.64 177.47,251.64 180.75,251.63 184.03,251.62 187.32,251.62 190.61,251.61 193.89,251.61 197.18,251.6 200.46,251.6 203.75,251.59 207.03,251.59 210.31,251.59 213.6,251.58" stroke="#f27af2" stroke-width="1" fill="none"/><path d="M16.5 262.27H212.7V302.1" stroke="#f47c7c" stroke-width="1" fill="none"/><polyline points="16.5,302.1 17,299.55 17.5,295.74 18,290.24 18.5,282.62 19,272.95 19.5,265.24 20,258.78 20.5,253.4 21,249.58 21.5,246.59 22,243.94 22.5,241.52 23,239.42" stroke="#eea860" stroke-width="1.1" fill="none" transform="translate(0.9,0.9)"/><polyline points="16.5,302.1 17,299.55 17.5,295.74 18,290.24 18.5,282.62 19,272.95 19.5,265.24 20,258.78 20.5,253.4 21,249.58 21.5,246.59 22,243.94 22.5,241.52 23,239.42" stroke="#8cc88c" stroke-width="0.8" fill="none" transform="translate(-0.9,0)"/><polyline points="16.5,302.1 17,299.55 17.5,295.74 18,290.24 18.5,282.62 19,272.95 19.5,265.24 20,258.78 20.5,253.4 21,249.58 21.5,246.59 22,243.94 22.5,241.52 23,239.42" stroke="#3a5fcd" stroke-width="0.9" fill="none"/><polyline points="23.3,247.9 20,242.9 23.8,239.9 23.6,236.9 25.4,235 23.1,231.6 24,229.1 25.4,227.1 30,226.7 27.6,223.6 29.7,223 32,223.8 31.6,222.1 30.8,219.2 32.3,219.7 31.9,217.6 33.5,217.6 35,217.4 36.2,215.8 36.1,220.7 36.7,221.2 38.1,219.3 38.7,220.3 39.6,220.3 40.3,220.9 40.7,223 42,220.8 43.4,218.5 43.5,221.8 44.3,222 44.9,223.1 45.9,222.3 47.1,220.4 48.1,218.9 48.6,221.4 49.3,222.4 50.2,223.1 51,222.6 51.8,222.2 52.6,222.1 53.2,219.8 54.1,220.7 54.9,220.7 55.5,218.5 56.9,223.7 57,218.5 58.5,223.6 59.2,222.4 59.5,219 60.4,219.7 61.2,218.9 62.1,221.1 63,217.6 63.7,219.9 64.5,221.9 65.3,220.2 66.1,221.2 67,220.1 67.7,221.3 68.4,222.8 69.3,221.7 70,223 70.8,222.8 71.7,220.8 72.6,220.4 73.2,222.1 74.1,222 75,220 75.7,221.8 76.6,220.5 77.2,224 78.2,219.6 79,220.8 79.6,223.4 80.5,221.2 81.4,220 82.3,219.8 82.8,222.8 83.6,222.6 84.7,220.6 85.5,220.7 86.1,222 86.6,224.2 87.6,223.1 89,219.8 89.2,223.2 89.4,225.2 91.1,222.5 91,225.3 91.7,225.8 93.9,222.4 94.4,223.4 95.5,222.9 95.7,224.7 96.2,226 96.8,226.8 99,223.2 98.1,228.2 100.5,223.7 99.8,228.7 101.4,226.5 102.8,224.4 103.6,224.3 104.2,225.2 105.2,224.7 104.8,230.2 106,228.3 107.3,226.5 108.2,225.8 108.5,228.6 109.5,227.9 110.6,226.8 111.2,227.7 111.4,230.5 113.1,226.6 113,231.2 113.7,232 114.5,231.9 116.1,227.6 116.3,231.7 117.2,231.2 118.5,227.6 119.2,228.2 119.8,229.8 120.6,230.1 121.2,231.6 122,231.5 122.8,231.5 124,229.5 124.1,233.9 125,233.6 126.3,230 126.6,233.9 127.5,233.4 128.7,230.7 129,233.9 130,232.9 130.8,232.7 131.9,231.4 132.9,229.6 133,234.9 133.8,235 134.9,233 135.6,233.6 136.2,234.7 137.9,230.3 138.4,231.7 139.4,231 139.2,236.3 140.6,233.6 141.4,233.2 141.8,235.7 142.9,234.1 143.7,234.5 144.1,237.1 145.2,235.3 146.2,234.1 147,234.3 147.6,235.7 148.6,234.6 149.3,235.4 150,236.3 151,235 151.5,237 152.1,238.7 152.9,238.5 154.5,233.7 154.7,237.6 155.8,235.7 156.5,236.6 157.6,233.9 157.8,239.3 158.7,238.6 159.5,239.2 160.8,234.5 161.4,236 162.1,236.8 162.9,236.8 163.5,239.1 164.5,237.9 165.1,239.5 166.4,234.6 167.1,235.9 168,235.4 168.2,239.9 169.1,239.8 170,238.8 171.2,236.1 171.6,239.4 172.4,238.8 173.2,239.6 174.2,237.9 174.9,239.4 175.6,241.2 176.4,241.3 177.2,240.9 178.3,235.9 178.8,239.9 179.9,236.7 180.6,237.4 181.3,239 181.9,240.9 182.7,241.2 183.8,238.3 184.3,241.4 185.3,239.1 186.5,236.4 186.7,241.2 187.7,239.3 188.7,238.2 189.5,237.5 190.1,239.9 190.8,240.8 191.5,242.7 192.4,242 193.2,241.1 194.1,240.6 195.1,238 195.6,241.5 196.6,238.7 197.3,240.1 198,242.8 198.9,241.3 199.8,239 200.5,241.7 201.4,239.6 202,242.3 203,239.7 203.7,241.6 204.6,240 205.4,238.1 206.2,237.8 207,239.1 207.6,243.2 208.5,240.8 209.3,242.5 210.1,240.7 210.9,242.5 211.7,243.1 212.5,243.7 213.3,241.9" stroke="#eaa862" stroke-width="0.7" fill="none"/><polyline points="19.3,247.2 22.6,243.4 22.2,239.5 22.7,236.6 25.6,235.1 28.1,233.2 28.8,230.8 27.9,228 29.6,226.5 28.3,223.9 28.4,222 30.3,222 31.3,221.7 33.3,222.9 32.1,219.5 33.6,219.6 33.8,218.2 35,216.1 36.3,215.4 36.9,216.9 37.1,219.7 37.1,221.9 40.1,216.3 39.8,219.5 40,222.1 40.6,223.4 42.6,218 43.6,217.5 44.3,218.3 44.8,219.7 45.5,220.2 46,221.9 47.5,218.3 47.3,224.6 48.4,222.8 49.3,221.9 50.2,225.1 50.9,221.1 51.6,220.2 52.7,223.3 53.6,223.6 54.3,222.8 55.2,223.8 55.5,218.5 56.9,224.1 57.1,219.3 58.3,221.7 58.7,219 59.7,220.7 60.9,223.6 61.2,219.3 62.2,223.9 62.9,220.4 63.7,223.4 64.5,220.4 65.4,219.6 66,222.7 67,219 67.6,222.8 68.6,219.1 69.4,219.8 70,222.5 71,219.9 71.6,222.6 72.7,218.5 73.5,218.7 74.3,218.2 74.8,223.5 75.6,223.3 76.4,223.2 77.2,224.1 78.3,217.7 78.8,223.3 79.9,217.9 80.7,219 81.6,218.1 82.3,218.9 83.3,218.2 83.4,224.3 84.8,219.8 85.3,222.1 86,222.9 87.1,221 87.7,222.2 88.3,223.4 88.6,225.4 90.2,222.6 91.4,221.7 90.8,225.7 92.4,224 93.2,224.3 93.2,226.6 94.1,227 95.6,225.2 96.4,225.3 96.3,228.3 97.4,227.8 99.7,223.7 99.1,228.1 100.9,225.2 101.7,225.4 101.6,228.8 102.5,229 102.9,230.6 104.2,228.7 105.8,225.7 106.8,224.8 107.4,225.7 108.4,225.3 108.8,227 109.2,229.2 109.8,230.1 111.3,227.2 111.8,228.7 112.2,230.7 113.6,228.1 114.6,227.1 115.4,227 116.2,226.6 116.8,228 117,232.4 118.1,230.7 119.3,227.2 119.9,229.3 120.5,230.4 121.4,230 122.6,227.4 123.3,228.8 124,229.3 124.7,230 125.4,231.1 126.5,228.9 127,230.8 127.8,231.1 128,235.1 129.7,229.4 129.9,233.7 130.8,232.8 131.2,235.7 132.1,235.3 133.8,229.4 134.6,229.7 134.8,233.7 136,231.2 136.7,231.9 137.4,232.6 138,234.2 139,233.1 140.2,231.1 140.2,235.5 141.1,235.4 142.4,232.7 143.4,231.5 144,232.8 145.1,231.3 145.5,233.5 145.5,238.2 146.8,235.4 148.1,232.8 148,238.4 149.9,232.3 150.7,232.2 150.9,235.7 152.1,233.8 152.5,235.9 153.8,233.1 153.8,238.3 154.7,238.1 155.8,236 156.5,236.3 157.3,236.4 157.8,239.4 159.2,233.7 159.7,236.8 160.5,237.2 161.2,238 162,238.1 162.7,239.3 164,234.6 164.8,234.2 165.4,236.4 166.4,234.8 166.9,237.6 167.3,240.9 168.7,236.3 169.7,235.1 169.7,241 171.2,236 172,235.8 172.9,234.8 173.6,235.4 173.9,240.9 174.9,238.9 175.7,238.2 176.7,236.1 177.4,237.6 178.3,235.2 179,237.9 179.9,236.6 180.4,240.3 181.3,238.7 181.8,241.5 183.3,235.6 183.6,240.3 184.4,240.2 185.5,237.4 186.3,237.5 186.9,239.9 188,237 188.5,239.4 189.5,238.2 190,240.7 191.2,236.6 191.9,237.5 192.6,239.5 193.5,237.7 194,241.2 195.1,238.3 195.6,242.2 196.6,238.5 197.2,241.7 198.3,237.6 198.9,241.5 199.9,237.2 200.4,243.4 201.3,242 202,243 203.1,237.1 203.8,238.3 204.6,239 205.4,238.1 206.2,240 207,240 207.8,239.4 208.6,238.8 209.4,239.2 210.2,238.6 210.8,243.8 211.7,241.3 212.5,241.6 213.4,237.4" stroke="#70c070" stroke-width="0.7" fill="none"/><polygon points="21,248 22,242.4 23,237.9 24,234.6 25,231.8 26,228.7 27,225.9 28,223.5 29,221.7 30,220.4 31,219.5 32,218.9 33,218.1 34,217.3 35,217 36,217.1 37,217.3 38,217.7 39,218 40,218.3 41,218.6 42,218.8 43,219 44,219.2 45,219.5 46,219.7 47,219.9 48,220.1 49,220.1 50,220.1 51,220.1 52,220 53,219.9 54,219.8 55,219.7 56,219.6 57,219.4 58,219.3 59,219.1 60,219 61,218.9 62,218.8 63,218.8 64,218.8 65,218.9 66,218.9 67,219 68,219 69,219.1 70,219.2 71,219.2 72,219.3 73,219.4 74,219.4 75,219.5 76,219.5 77,219.6 78,219.7 79,219.7 80,219.8 81,219.8 82,219.9 83,220 84,220.1 85,220.2 86,220.4 87,220.5 88,220.7 89,220.9 90,221.2 91,221.5 92,221.8 93,222.2 94,222.6 95,223 96,223.3 97,223.6 98,224 99,224.3 100,224.7 101,225 102,225.3 103,225.5 104,225.8 105,226 106,226.2 107,226.4 108,226.7 109,226.9 110,227.1 111,227.3 112,227.6 113,227.8 114,228 115,228.2 116,228.3 117,228.5 118,228.6 119,228.8 120,228.9 121,229 122,229.2 123,229.3 124,229.5 125,229.7 126,229.8 127,230 128,230.1 129,230.3 130,230.4 131,230.6 132,230.7 133,230.9 134,231 135,231.2 136,231.4 137,231.6 138,231.7 139,231.9 140,232.1 141,232.3 142,232.5 143,232.6 144,232.8 145,233 146,233.2 147,233.3 148,233.5 149,233.7 150,233.8 151,234 152,234.2 153,234.4 154,234.5 155,234.6 156,234.8 157,234.9 158,235 159,235.1 160,235.2 161,235.3 162,235.4 163,235.5 164,235.6 165,235.7 166,235.8 167,235.9 168,236 169,236.1 170,236.2 171,236.4 172,236.5 173,236.6 174,236.7 175,236.8 176,236.9 177,236.9 178,237 179,237 180,237.1 181,237.2 182,237.3 183,237.4 184,237.5 185,237.6 186,237.7 187,237.8 188,237.9 189,238 190,238.1 191,238.2 192,238.3 193,238.4 194,238.5 195,238.5 196,238.6 197,238.7 198,238.7 199,238.8 200,238.8 201,238.9 202,238.9 203,239 204,239 205,239.1 206,239.1 207,239.2 208,239.2 209,239.2 210,239.3 211,239.3 212,239.3 213,239.3 213.5,242.4 212.5,242.4 211.5,242.4 210.5,242.4 209.5,242.3 208.5,242.3 207.5,242.3 206.5,242.2 205.5,242.2 204.5,242.2 203.5,242.1 202.5,242.1 201.5,242 200.5,242 199.5,241.9 198.5,241.9 197.5,241.8 196.5,241.7 195.5,241.7 194.5,241.6 193.5,241.5 192.5,241.4 191.5,241.4 190.5,241.3 189.5,241.2 188.5,241.1 187.5,241 186.5,240.9 185.5,240.8 184.5,240.7 183.5,240.5 182.5,240.4 181.5,240.3 180.5,240.2 179.5,240.2 178.5,240.1 177.5,240.1 176.5,240 175.5,239.9 174.5,239.9 173.5,239.8 172.5,239.7 171.5,239.5 170.5,239.4 169.5,239.3 168.5,239.1 167.5,239 166.5,238.9 165.5,238.8 164.5,238.7 163.5,238.6 162.5,238.5 161.5,238.4 160.5,238.3 159.5,238.2 158.5,238.1 157.5,238 156.5,237.9 155.5,237.8 154.5,237.7 153.5,237.5 152.5,237.4 151.5,237.2 150.5,237 149.5,236.9 148.5,236.7 147.5,236.5 146.5,236.3 145.5,236.2 144.5,236 143.5,235.8 142.5,235.6 141.5,235.5 140.5,235.3 139.5,235.1 138.5,234.9 137.5,234.7 136.5,234.6 135.5,234.4 134.5,234.2 133.5,234.1 132.5,233.9 131.5,233.8 130.5,233.6 129.5,233.5 128.5,233.3 127.5,233.2 126.5,233 125.5,232.8 124.5,232.7 123.5,232.5 122.5,232.4 121.5,232.2 120.5,232.1 119.5,231.9 118.5,231.8 117.5,231.7 116.5,231.5 115.5,231.4 114.5,231.2 113.5,231 112.5,230.8 111.5,230.6 110.5,230.3 109.5,230.1 108.5,229.9 107.5,229.6 106.5,229.4 105.5,229.2 104.5,229 103.5,228.8 102.5,228.5 101.5,228.2 100.5,227.9 99.5,227.6 98.5,227.3 97.5,226.9 96.5,226.6 95.5,226.2 94.5,225.9 93.5,225.5 92.5,225.1 91.5,224.7 90.5,224.4 89.5,224.1 88.5,223.9 87.5,223.7 86.5,223.5 85.5,223.4 84.5,223.2 83.5,223.1 82.5,223 81.5,222.9 80.5,222.9 79.5,222.8 78.5,222.8 77.5,222.7 76.5,222.7 75.5,222.6 74.5,222.6 73.5,222.5 72.5,222.4 71.5,222.3 70.5,222.3 69.5,222.2 68.5,222.2 67.5,222.1 66.5,222.1 65.5,222 64.5,222 63.5,221.9 62.5,221.9 61.5,221.9 60.5,222 59.5,222.2 58.5,222.3 57.5,222.5 56.5,222.6 55.5,222.7 54.5,222.8 53.5,222.9 52.5,223.1 51.5,223.1 50.5,223.2 49.5,223.2 48.5,223.2 47.5,223.1 46.5,222.9 45.5,222.7 44.5,222.5 43.5,222.2 42.5,222 41.5,221.8 40.5,221.5 39.5,221.3 38.5,220.9 37.5,220.6 36.5,220.3 35.5,220.1 34.5,220.1 33.5,220.7 32.5,221.6 31.5,222.3 30.5,223 29.5,224 28.5,225.7 27.5,227.7 26.5,230.4 25.5,233.3 24.5,236.3 23.5,239.2 22.5,243.1 21.5,248.1" fill="#1e961e"/><polyline points="21,249.6 22,243.9 23,239.4 24,236.2 25,233.3 26,230.2 27,227.5 28,225.1 29,223.2 30,221.9 31,221.1 32,220.4 33,219.6 34,218.8 35,218.5 36,218.7 37,218.9 38,219.2 39,219.6 40,219.9 41,220.1 42,220.3 43,220.6 44,220.8 45,221 46,221.3 47,221.5 48,221.6 49,221.7 50,221.7 51,221.6 52,221.6 53,221.4 54,221.3 55,221.2 56,221.1 57,221 58,220.8 59,220.7 60,220.6 61,220.4 62,220.4 63,220.4 64,220.4 65,220.4 66,220.5 67,220.5 68,220.6 69,220.6 70,220.7 71,220.8 72,220.8 73,220.9 74,221 75,221 76,221.1 77,221.2 78,221.2 79,221.3 80,221.3 81,221.4 82,221.4 83,221.5 84,221.6 85,221.8 86,221.9 87,222.1 88,222.2 89,222.4 90,222.7 91,223 92,223.4 93,223.8 94,224.1 95,224.5 96,224.8 97,225.2 98,225.5 99,225.9 100,226.2 101,226.5 102,226.8 103,227.1 104,227.3 105,227.6 106,227.8 107,228 108,228.2 109,228.4 110,228.7 111,228.9 112,229.1 113,229.3 114,229.5 115,229.7 116,229.9 117,230 118,230.2 119,230.3 120,230.4 121,230.6 122,230.7 123,230.9 124,231 125,231.2 126,231.4 127,231.5 128,231.7 129,231.8 130,232 131,232.1 132,232.3 133,232.4 134,232.6 135,232.8 136,232.9 137,233.1 138,233.3 139,233.5 140,233.7 141,233.8 142,234 143,234.2 144,234.4 145,234.5 146,234.7 147,234.9 148,235 149,235.2 150,235.4 151,235.6 152,235.7 153,235.9 154,236.1 155,236.2 156,236.3 157,236.4 158,236.5 159,236.6 160,236.7 161,236.8 162,236.9 163,237 164,237.1 165,237.2 166,237.3 167,237.4 168,237.5 169,237.7 170,237.8 171,237.9 172,238.1 173,238.2 174,238.3 175,238.4 176,238.4 177,238.5 178,238.5 179,238.6 180,238.7 181,238.7 182,238.8 183,238.9 184,239.1 185,239.2 186,239.3 187,239.4 188,239.5 189,239.6 190,239.7 191,239.8 192,239.8 193,239.9 194,240 195,240.1 196,240.1 197,240.2 198,240.3 199,240.3 200,240.4 201,240.4 202,240.5 203,240.5 204,240.6 205,240.6 206,240.7 207,240.7 208,240.7 209,240.8 210,240.8 211,240.8 212,240.9 213,240.9" stroke="#1e961e" stroke-width="2.2" fill="none" stroke-linejoin="round"/><polyline points="21.1,247.5 22.3,243.8 24.2,240.9 22.6,237.6 24.4,235.9 24.3,233.7 26.4,232 26.4,229.6 25.9,227.3 27.7,225.9 27.5,224 27.5,222.3 28.6,221.2 30,221 30,219.4 32.5,221.5 33.3,221 31.9,217.9 34,218.9 34.6,218.3 35.4,218.1 36.4,216.9 36.3,220.7 37.7,218.2 37.5,221 39,219.1 39.9,218.5 40.5,218.9 41.2,219 41.3,221.5 42,221.8 42.7,221.9 44,219.7 44.6,220 45.1,221.2 45.6,222.1 46.4,222.2 47,222.9 47.8,222.7 48.6,221.7 49.3,222.5 50.1,222.8 50.7,220.3 51.6,223.6 52.1,221.7 52.9,222 53.6,222.1 54.3,222.2 54.7,219.5 55.4,219.3 56.2,220.2 56.8,219.4 57.9,221.9 58.4,220.7 58.9,219.3 59.8,220.2 60.4,219.2 61.3,221.5 61.9,220 62.6,221.9 63.3,221.3 64,220.2 64.7,220.7 65.3,222.6 66.1,221.4 66.8,220.2 67.6,220.1 68.1,222.1 68.9,221.2 69.6,221.5 70.4,219.3 71,220.5 71.9,218.7 72.4,221 73.3,218.9 73.8,221.6 74.6,219.5 75.3,219.2 76,219.7 76.6,220.8 77.3,221.1 78.1,220.1 78.7,221.8 79.4,221.7 80.2,220.1 80.9,220.8 81.4,223.3 82.2,221.4 82.8,222.9 83.5,222.4 84.2,222.3 84.8,223.4 86,219.9 86.4,222.2 86.8,223.8 87.8,222.4 88.9,220.3 88.8,224.3 89.6,223.7 90.8,222.4 91.8,221.9 92.7,221.5 92.1,225.4 92.9,225.3 94.7,222.7 95.3,223.1 95.2,225.5 96.7,223.5 96.8,225.5 97.8,224.9 98.2,226 98.8,226.5 100,225.3 100.7,225.6 101.5,225.3 101.3,228.7 102.6,226.7 103.7,225.3 103.9,227.3 104.5,228.1 105,229.3 106.2,227 106.5,229.1 107.3,228.8 107.7,230 109,227.7 109.8,227.3 110.7,226.7 110.9,229.1 111.5,229.4 112.4,228.7 112.7,231 113.9,228.4 114.2,230.9 114.8,231.5 115.9,229.6 116.8,228 117.2,230.4 117.8,230.8 118.4,232.2 119.1,231.9 120.1,230.2 120.6,231.3 121.6,229.4 122,231.4 122.6,232.1 123.5,231.1 124.3,230.4 125.2,229.2 125.7,231.1 126.4,230.7 126.8,233.2 127.9,230.4 128.7,229.7 129.3,231 129.9,231.8 130.7,231.1 131.1,233.2 132,231.5 132.8,231.1 133.5,231.2 133.8,233.9 135,231.1 135.3,233.3 136.1,233 137,232.2 137.3,234.6 138.1,234 138.7,234.8 139.8,232.8 140.1,234.7 141,233.9 141.6,234.9 142.2,235.2 143.2,233.6 143.8,234.8 144.3,235.9 145.5,232.9 145.6,236.4 146.8,233.9 147.1,236 148.3,233.7 148.4,237.2 149.4,235.5 150.5,233.5 150.9,235.1 151.4,236.2 152.1,236.6 153,235.2 153.3,237.9 154.4,235.7 155.2,234.8 155.6,237.6 156.2,238.2 157,237.4 157.9,235.4 158.6,235.7 159.1,237.7 160.1,234.7 160.7,235.9 161.3,236.8 162.2,235.5 162.6,238.5 163.3,238.4 164,238.1 164.9,236.5 165.4,238.8 166.1,238.5 166.9,237.4 167.8,236.2 168.6,235.7 169,238 170,235.9 170.4,238.2 171.4,235.9 171.7,239.2 172.3,239.7 173.1,239.7 173.8,239.8 174.6,239.1 175.2,239.8 176.1,237.2 176.7,239.5 177.4,239.4 178.1,238.7 178.8,238.5 179.5,239.5 180.4,236.6 181,237.4 181.7,238.2 182.1,240.6 183,239 183.8,238.4 184.5,238.4 185.2,238.6 185.6,241.1 186.7,237.4 187.3,239 187.8,241 188.5,241.2 189.5,237.6 190.1,238.9 190.9,237.8 191.5,239 192.2,239.2 192.9,238.5 193.4,242 194.4,238 195,238.9 195.6,240.8 196.3,240.2 197,240.6 197.9,238.2 198.5,239.7 199.1,240.4 199.9,238.6 200.6,239.6 201.2,240.6 201.9,240.3 202.6,240.7 203.4,239.1 204,240.9 204.7,242 205.5,239.4 206.1,240.6 206.9,239.9 207.6,239.4 208.2,242.7 208.9,240.4 209.7,238.7 210.4,239.7 211.1,239.3 211.8,239.4 212.4,240.6 213.1,240.4" stroke="#007c00" stroke-width="0.8" fill="none"/><polyline points="19.3,247.2 25,238.1 24.7,230.7 28.5,225.5 30.1,221.8 33.2,221.3 35,220.4 36.3,220.7 38.9,219.6 40.6,222.3 42.9,222.6 45.3,222 47.6,222.8 49.9,220.1 52.3,223.3 54.6,223.7 56.8,223.1 58.4,218.9 60.9,219.9 63.1,222.5 65.4,218.4 67.6,219.6 69.7,221.5 71.9,221.4 74.2,219.9 76.3,222.2 78.6,218.8 80.6,223.1 82.9,221.9 85.5,219.4 87.2,222.9 89.7,222.1 91.6,223.7 94,224 96.5,223.9 98.5,225.2 100.5,226.6 103.1,225.4 104.9,227.5 106.7,230.1 109.9,226.2 111.4,229.5 113.3,231.6 116,229.4 118.2,229.4 120.3,230.8 122.8,229.2 125.1,228.9 126.7,233 129.1,232 131,234.2 133.6,231.7 135.6,233.6 138.2,231.7 140.1,233.9 142.6,232.6 144.7,233.6 146.8,234.2 149.1,234.2 150.7,238 153.4,235.7 155.8,234 157.6,237.3 160,235.8 162.1,237.3 164.4,236 166.7,235.5 168.9,236.3 170.9,238 172.9,240.3 175.2,240.5 177.4,240.2 179.8,237.4 181.7,241.1 184.1,239.4 186.3,240 188.7,237.8 190.8,239.4 193,238.8 195,242.4 197.4,238.8 199.6,239.7 201.7,240.1 203.9,240.4 206.2,239.9 208.3,240.9 210.5,242.9 212.7,242.7" stroke="#d9a35a" stroke-width="0.5" stroke-opacity="0.8" fill="none"/><polyline points="20.8,247.5 23.2,238.2 26.6,232.7 28.7,227.2 28.2,221.9 30.3,219.4 33.2,219.2 35.2,220.1 37,220.1 38.9,221.1 41.1,221.3 43.6,219.4 44.9,222.8 47.4,221 49.3,219.8 51.2,219.9 53.1,219.7 55.4,221.5 57.4,221.2 59.1,219.2 61.4,221.1 63.4,219.1 65.3,220.1 67.4,219.9 69.3,222 71.4,219.9 73.2,222.6 75.2,222.8 77.4,220.1 79.4,219.7 81.3,222.1 83.5,220.3 85.2,222.7 87.4,221.6 89.7,221.1 91.1,223.7 92.9,225 95.4,224.5 97.8,224 99.8,224.5 101.6,225.8 103,228.4 105.6,226.6 107.2,228.4 109.3,228.7 111.6,227.6 113.2,229.9 115.3,229.9 117.1,231.4 119.5,229.2 121.4,230.1 123.5,229.7 125.3,231.4 127.5,230.3 129.2,233 131.4,231.8 133.5,231.3 135,234.5 137.6,231.5 139.1,234.7 141.3,233.9 143.1,235.5 145.4,234 147.1,236.5 149.3,235.4 151.1,236.7 153.5,234.9 155.5,234.8 157.4,235.6 159.3,236.6 161.4,236.1 163.4,236.3 165.2,238.4 167.5,236.2 169.2,238.6 171.6,236.3 173.4,237.4 175.4,238 177.4,237.7 179.4,237.6 181.3,239.5 183.3,239 185.2,239.9 187.3,240 189.2,241.1 191.3,239.5 193.4,239.3 195.3,239.9 197.3,240.5 199.4,239.7 201.4,239.9 203.4,239.6 205.3,240.4 207.3,242.5 209.3,240.1 211.3,242.4 213.3,240" stroke="#5cb85c" stroke-width="0.5" stroke-opacity="0.8" fill="none"/><path d="M16.5 169.66V302.1" stroke="#5a5a5a" stroke-width="0.9"/><path d="M213.6 163V302.1" stroke="#5a5a5a" stroke-width="0.9"/><path d="M16.5 302.1H213.6" stroke="#5a5a5a" stroke-width="0.9"/><path d="M16.5 292.64h1M16.5 283.18h1M16.5 273.72h1M16.5 264.26h1M16.5 254.8h1M16.5 245.34h1M16.5 235.88h1M16.5 226.42h1M16.5 216.96h1M16.5 207.5h1M16.5 198.04h1M16.5 188.58h1M16.5 179.12h1M16.5 169.66h1M23.07 302.1v1M29.64 302.1v1M36.21 302.1v1M42.78 302.1v1M49.35 302.1v1M55.92 302.1v1M62.49 302.1v1M69.06 302.1v1M75.63 302.1v1M82.2 302.1v1M88.77 302.1v1M95.34 302.1v1M101.91 302.1v1M108.48 302.1v1M115.05 302.1v1M121.62 302.1v1M128.19 302.1v1M134.76 302.1v1M141.33 302.1v1M147.9 302.1v1M154.47 302.1v1M161.04 302.1v1M167.61 302.1v1M174.18 302.1v1M180.75 302.1v1M187.32 302.1v1M193.89 302.1v1M200.46 302.1v1M207.03 302.1v1M214.5 290.5h1M214.5 277.04h1M214.5 263.59h1M214.5 250.13h1M214.5 236.68h1M214.5 223.22h1M214.5 209.77h1M214.5 196.31h1M214.5 182.86h1M214.5 169.4h1" stroke="#555" stroke-width="0.8" fill="none"/><rect x="86.67" y="298.8" width="9.2" height="4.6" fill="#fff"/><text transform="translate(15 293.91) scale(0.904 1)" font-size="3.53" text-anchor="end" fill="#4a4452" stroke="#4a4452" stroke-width="0.15">0.2</text><text transform="translate(15 284.45) scale(0.904 1)" font-size="3.53" text-anchor="end" fill="#4a4452" stroke="#4a4452" stroke-width="0.15">0.4</text><text transform="translate(15 274.99) scale(0.904 1)" font-size="3.53" text-anchor="end" fill="#4a4452" stroke="#4a4452" stroke-width="0.15">0.6</text><text transform="translate(15 265.53) scale(0.904 1)" font-size="3.53" text-anchor="end" fill="#4a4452" stroke="#4a4452" stroke-width="0.15">0.8</text><text transform="translate(15 256.07) scale(0.904 1)" font-size="3.53" text-anchor="end" fill="#4a4452" stroke="#4a4452" stroke-width="0.15">1</text><text transform="translate(15 246.61) scale(0.904 1)" font-size="3.53" text-anchor="end" fill="#4a4452" stroke="#4a4452" stroke-width="0.15">1.2</text><text transform="translate(15 237.15) scale(0.904 1)" font-size="3.53" text-anchor="end" fill="#4a4452" stroke="#4a4452" stroke-width="0.15">1.4</text><text transform="translate(15 227.69) scale(0.904 1)" font-size="3.53" text-anchor="end" fill="#4a4452" stroke="#4a4452" stroke-width="0.15">1.6</text><text transform="translate(15 218.23) scale(0.904 1)" font-size="3.53" text-anchor="end" fill="#4a4452" stroke="#4a4452" stroke-width="0.15">1.8</text><text transform="translate(15 208.77) scale(0.904 1)" font-size="3.53" text-anchor="end" fill="#4a4452" stroke="#4a4452" stroke-width="0.15">2</text><text transform="translate(15 199.31) scale(0.904 1)" font-size="3.53" text-anchor="end" fill="#4a4452" stroke="#4a4452" stroke-width="0.15">2.2</text><text transform="translate(15 189.85) scale(0.904 1)" font-size="3.53" text-anchor="end" fill="#4a4452" stroke="#4a4452" stroke-width="0.15">2.4</text><text transform="translate(15 180.39) scale(0.904 1)" font-size="3.53" text-anchor="end" fill="#4a4452" stroke="#4a4452" stroke-width="0.15">2.6</text><text transform="translate(15 170.93) scale(0.904 1)" font-size="3.53" text-anchor="end" fill="#4a4452" stroke="#4a4452" stroke-width="0.15">2.8</text><text transform="translate(23.07 307.29) scale(0.809 1)" font-size="3.31" text-anchor="middle" fill="#4a4452" stroke="#4a4452" stroke-width="0.15">1</text><text transform="translate(29.64 307.29) scale(0.809 1)" font-size="3.31" text-anchor="middle" fill="#4a4452" stroke="#4a4452" stroke-width="0.15">2</text><text transform="translate(36.21 307.29) scale(0.809 1)" font-size="3.31" text-anchor="middle" fill="#4a4452" stroke="#4a4452" stroke-width="0.15">3</text><text transform="translate(42.78 307.29) scale(0.809 1)" font-size="3.31" text-anchor="middle" fill="#4a4452" stroke="#4a4452" stroke-width="0.15">4</text><text transform="translate(49.35 307.29) scale(0.809 1)" font-size="3.31" text-anchor="middle" fill="#4a4452" stroke="#4a4452" stroke-width="0.15">5</text><text transform="translate(55.92 307.29) scale(0.809 1)" font-size="3.31" text-anchor="middle" fill="#4a4452" stroke="#4a4452" stroke-width="0.15">6</text><text transform="translate(62.49 307.29) scale(0.809 1)" font-size="3.31" text-anchor="middle" fill="#4a4452" stroke="#4a4452" stroke-width="0.15">7</text><text transform="translate(69.06 307.29) scale(0.809 1)" font-size="3.31" text-anchor="middle" fill="#4a4452" stroke="#4a4452" stroke-width="0.15">8</text><text transform="translate(75.63 307.29) scale(0.809 1)" font-size="3.31" text-anchor="middle" fill="#4a4452" stroke="#4a4452" stroke-width="0.15">9</text><text transform="translate(82.2 307.29) scale(0.809 1)" font-size="3.31" text-anchor="middle" fill="#4a4452" stroke="#4a4452" stroke-width="0.15">10</text><text transform="translate(88.77 307.29) scale(0.809 1)" font-size="3.31" text-anchor="middle" fill="#4a4452" stroke="#4a4452" stroke-width="0.15">11</text><text transform="translate(95.34 307.29) scale(0.809 1)" font-size="3.31" text-anchor="middle" fill="#4a4452" stroke="#4a4452" stroke-width="0.15">12</text><text transform="translate(101.91 307.29) scale(0.809 1)" font-size="3.31" text-anchor="middle" fill="#4a4452" stroke="#4a4452" stroke-width="0.15">13</text><text transform="translate(108.48 307.29) scale(0.809 1)" font-size="3.31" text-anchor="middle" fill="#4a4452" stroke="#4a4452" stroke-width="0.15">14</text><text transform="translate(115.05 307.29) scale(0.809 1)" font-size="3.31" text-anchor="middle" fill="#4a4452" stroke="#4a4452" stroke-width="0.15">15</text><text transform="translate(121.62 307.29) scale(0.809 1)" font-size="3.31" text-anchor="middle" fill="#4a4452" stroke="#4a4452" stroke-width="0.15">16</text><text transform="translate(128.19 307.29) scale(0.809 1)" font-size="3.31" text-anchor="middle" fill="#4a4452" stroke="#4a4452" stroke-width="0.15">17</text><text transform="translate(134.76 307.29) scale(0.809 1)" font-size="3.31" text-anchor="middle" fill="#4a4452" stroke="#4a4452" stroke-width="0.15">18</text><text transform="translate(141.33 307.29) scale(0.809 1)" font-size="3.31" text-anchor="middle" fill="#4a4452" stroke="#4a4452" stroke-width="0.15">19</text><text transform="translate(147.9 307.29) scale(0.809 1)" font-size="3.31" text-anchor="middle" fill="#4a4452" stroke="#4a4452" stroke-width="0.15">20</text><text transform="translate(154.47 307.29) scale(0.809 1)" font-size="3.31" text-anchor="middle" fill="#4a4452" stroke="#4a4452" stroke-width="0.15">21</text><text transform="translate(161.04 307.29) scale(0.809 1)" font-size="3.31" text-anchor="middle" fill="#4a4452" stroke="#4a4452" stroke-width="0.15">22</text><text transform="translate(167.61 307.29) scale(0.809 1)" font-size="3.31" text-anchor="middle" fill="#4a4452" stroke="#4a4452" stroke-width="0.15">23</text><text transform="translate(174.18 307.29) scale(0.809 1)" font-size="3.31" text-anchor="middle" fill="#4a4452" stroke="#4a4452" stroke-width="0.15">24</text><text transform="translate(180.75 307.29) scale(0.809 1)" font-size="3.31" text-anchor="middle" fill="#4a4452" stroke="#4a4452" stroke-width="0.15">25</text><text transform="translate(187.32 307.29) scale(0.809 1)" font-size="3.31" text-anchor="middle" fill="#4a4452" stroke="#4a4452" stroke-width="0.15">26</text><text transform="translate(193.89 307.29) scale(0.809 1)" font-size="3.31" text-anchor="middle" fill="#4a4452" stroke="#4a4452" stroke-width="0.15">27</text><text transform="translate(200.46 307.29) scale(0.809 1)" font-size="3.31" text-anchor="middle" fill="#4a4452" stroke="#4a4452" stroke-width="0.15">28</text><text transform="translate(207.03 307.29) scale(0.809 1)" font-size="3.31" text-anchor="middle" fill="#4a4452" stroke="#4a4452" stroke-width="0.15">29</text><text transform="translate(221.48 291.69) scale(0.856 1)" font-size="3.31" text-anchor="end" fill="#333" stroke="#333" stroke-width="0.15">10</text><text transform="translate(221.48 278.24) scale(0.856 1)" font-size="3.31" text-anchor="end" fill="#333" stroke="#333" stroke-width="0.15">20</text><text transform="translate(221.48 264.78) scale(0.856 1)" font-size="3.31" text-anchor="end" fill="#333" stroke="#333" stroke-width="0.15">30</text><text transform="translate(221.48 251.33) scale(0.856 1)" font-size="3.31" text-anchor="end" fill="#333" stroke="#333" stroke-width="0.15">40</text><text transform="translate(221.48 237.87) scale(0.856 1)" font-size="3.31" text-anchor="end" fill="#333" stroke="#333" stroke-width="0.15">50</text><text transform="translate(221.48 224.41) scale(0.856 1)" font-size="3.31" text-anchor="end" fill="#333" stroke="#333" stroke-width="0.15">60</text><text transform="translate(221.48 210.96) scale(0.856 1)" font-size="3.31" text-anchor="end" fill="#333" stroke="#333" stroke-width="0.15">70</text><text transform="translate(221.48 197.5) scale(0.856 1)" font-size="3.31" text-anchor="end" fill="#333" stroke="#333" stroke-width="0.15">80</text><text transform="translate(221.48 184.05) scale(0.856 1)" font-size="3.31" text-anchor="end" fill="#333" stroke="#333" stroke-width="0.15">90</text><text transform="translate(221.48 170.59) scale(0.856 1)" font-size="3.31" text-anchor="end" fill="#333" stroke="#333" stroke-width="0.15">100</text><text transform="translate(8.65 235.88) rotate(-90) scale(1.017 1)" font-size="3.38" text-anchor="middle" fill="#555" stroke="#555" stroke-width="0.15">Torque(Nm)</text><text transform="translate(225.03 233.58) rotate(90) scale(0.991 1)" font-size="4.35" text-anchor="middle" fill="#333" stroke="#333" stroke-width="0.1">Temperature     (°C)</text><text transform="translate(114.39 313.75) scale(0.822 1)" font-size="3.47" text-anchor="middle" fill="#333" stroke="#333" stroke-width="0.15">Time (min)</text><path d="M5.99 314.4H213.6V302.1" stroke="#dcf3dc" stroke-width="0.9" fill="none"/><text transform="translate(6.32 319.96) scale(0.932 1)" font-size="3.78" fill="#1a1a1a" stroke="#1a1a1a" stroke-width="0.15">amara</text><text transform="translate(72.34 319.96) scale(0.932 1)" font-size="3.78" fill="#1a1a1a" stroke="#1a1a1a" stroke-width="0.15">Mixing</text><text transform="translate(106.51 319.96) scale(0.932 1)" font-size="3.78" fill="#1a1a1a" stroke="#1a1a1a" stroke-width="0.15">1/2</text><text transform="translate(129.5 319.96) scale(0.932 1)" font-size="3.78" fill="#1a1a1a" stroke="#1a1a1a" stroke-width="0.15">Device N°</text><text transform="translate(157.1 319.96) scale(0.932 1)" font-size="3.78" fill="#1a1a1a" stroke="#1a1a1a" stroke-width="0.15">499</text><text transform="translate(172.54 319.96) scale(0.932 1)" font-size="3.78" fill="#1a1a1a" stroke="#1a1a1a" stroke-width="0.15">Version4.0.8r4.1i</text><text transform="translate(216.23 319.96) scale(0.932 1)" font-size="3.78" fill="#1a1a1a" stroke="#1a1a1a" stroke-width="0.15">TNC</text><text x="26.6" y="187.1" font-family='"Liberation Serif", serif' font-weight="bold" font-size="12" fill="#000">D4</text></g><g><path d="M247.9 293.67H439.6M247.9 285.24H439.6M247.9 276.81H439.6M247.9 268.38H439.6M247.9 259.95H439.6M247.9 251.52H439.6M247.9 243.09H439.6M247.9 234.66H439.6M247.9 226.23H439.6M247.9 217.8H439.6M247.9 209.37H439.6M247.9 200.94H439.6M247.9 192.51H439.6M247.9 184.08H439.6M247.9 175.65H439.6" stroke="#e4e4e4" stroke-width="0.9" fill="none"/><path d="M254.29 175.65V302.1M260.68 175.65V302.1M267.07 175.65V302.1M273.46 175.65V302.1M279.85 175.65V302.1M286.24 175.65V302.1M292.63 175.65V302.1M299.02 175.65V302.1M305.41 175.65V302.1M311.8 175.65V302.1M318.19 175.65V302.1M324.58 175.65V302.1M330.97 175.65V302.1M337.36 175.65V302.1M343.75 175.65V302.1M350.14 175.65V302.1M356.53 175.65V302.1M362.92 175.65V302.1M369.31 175.65V302.1M375.7 175.65V302.1M382.09 175.65V302.1M388.48 175.65V302.1M394.87 175.65V302.1M401.26 175.65V302.1M407.65 175.65V302.1M414.04 175.65V302.1M420.43 175.65V302.1M426.82 175.65V302.1M433.21 175.65V302.1" stroke="#dfdfdf" stroke-width="0.9" fill="none"/><path d="M247.9 209.37H439.6" stroke="#c990d4" stroke-width="1"/><path d="M247.9 205.16H439.6M247.9 213.59H439.6" stroke="#c58ad2" stroke-width="0.9" stroke-dasharray="0.9 1.5"/><polyline points="247.9,259.61 251.09,259.44 254.29,259.28 257.49,259.13 260.68,259 263.88,258.87 267.07,258.75 270.26,258.64 273.46,258.53 276.66,258.44 279.85,258.35 283.05,258.26 286.24,258.19 289.44,258.11 292.63,258.05 295.82,257.98 299.02,257.92 302.22,257.87 305.41,257.82 308.61,257.77 311.8,257.73 315,257.69 318.19,257.65 321.38,257.61 324.58,257.58 327.77,257.55 330.97,257.52 334.17,257.49 337.36,257.47 340.56,257.45 343.75,257.42 346.94,257.4 350.14,257.39 353.33,257.37 356.53,257.35 359.73,257.34 362.92,257.32 366.12,257.31 369.31,257.3 372.5,257.29 375.7,257.28 378.89,257.27 382.09,257.26 385.28,257.25 388.48,257.24 391.68,257.23 394.87,257.23 398.06,257.22 401.26,257.21 404.45,257.21 407.65,257.2 410.85,257.2 414.04,257.19 417.24,257.19 420.43,257.19 423.62,257.18 426.82,257.18 430.01,257.18 433.21,257.17 436.4,257.17 439.6,257.17" stroke="#f27af2" stroke-width="1" fill="none"/><path d="M247.9 264.76H438.7V302.1" stroke="#f47c7c" stroke-width="1" fill="none"/><polyline points="247.9,302.1 248.4,296.14 248.9,292.71 249.4,287.59 249.9,282.3 250.4,277.52 250.9,272.28 251.4,267.15 251.9,263.57 252.4,261.22 252.9,259.47 253.4,257.73 253.9,255.96 254.4,254.3 254.9,252.79 255.4,251.38 255.9,250.1 256.4,248.97" stroke="#eea860" stroke-width="1.1" fill="none" transform="translate(0.9,0.9)"/><polyline points="247.9,302.1 248.4,296.14 248.9,292.71 249.4,287.59 249.9,282.3 250.4,277.52 250.9,272.28 251.4,267.15 251.9,263.57 252.4,261.22 252.9,259.47 253.4,257.73 253.9,255.96 254.4,254.3 254.9,252.79 255.4,251.38 255.9,250.1 256.4,248.97" stroke="#8cc88c" stroke-width="0.8" fill="none" transform="translate(-0.9,0)"/><polyline points="247.9,302.1 248.4,296.14 248.9,292.71 249.4,287.59 249.9,282.3 250.4,277.52 250.9,272.28 251.4,267.15 251.9,263.57 252.4,261.22 252.9,259.47 253.4,257.73 253.9,255.96 254.4,254.3 254.9,252.79 255.4,251.38 255.9,250.1 256.4,248.97" stroke="#3a5fcd" stroke-width="0.9" fill="none"/><polyline points="255.4,259 255.3,255.9 253,252.4 257.2,251.4 258.1,249.7 256.5,246.9 258.1,245.9 259.3,244.9 258.9,243 260.9,243 262.2,242.5 263.5,242.1 262.2,239.3 263.4,238.9 264.7,239 266.8,240.2 267.3,239.5 265.7,234.7 268.2,238.1 267.8,234.4 268.9,234.9 270.1,236.4 271.2,237.3 271.2,233.7 273.1,237.7 273,234.2 274.5,236.8 275.2,237 275.5,233 276.3,232.6 277.4,236.7 277.9,232.4 278.9,236.1 279.6,237.3 280.5,231.9 281.2,234.8 282.1,233.6 282.7,235.8 283.4,236.9 284.5,233.7 285.3,233.8 286.1,233.4 286.7,237 287.5,236.5 288.3,237.2 289.2,235.4 289.9,237.4 290.9,233 291.5,237.4 292.5,234.5 293.3,234.8 293.7,237.4 294.6,236.9 296.2,233.2 296.7,234.5 296.8,238.5 298.4,233.9 298.7,237.6 299.7,235.2 300.5,235.8 301.1,238.4 301.9,238.3 302.9,233.9 303.5,238.9 304.6,233.9 305.2,237.4 306,237 307.1,234.4 307.3,239.7 308.3,237.8 309,239.7 309.9,238.3 310.8,238.1 311.6,235 312.4,236.6 313.2,237.7 314,234.7 314.8,235 315.6,238.1 316.4,237.7 317.2,237 318,239.4 318.8,237.3 319.7,238.4 320.3,235.1 321.4,238.5 322.3,239.7 322.9,237.7 323.6,236.5 324.5,238 325.1,234.1 326.1,238.5 326.8,236.5 327.6,235.7 328.4,236.6 329.1,234.8 329.9,234.8 330.9,238 331.6,235.8 332.6,238.1 333.6,238.9 334.2,237.5 334.6,234.1 335.8,237.9 336.4,235.5 337.2,237.3 338.1,233.6 338.9,234.4 339.5,236.8 340.3,236.8 341.5,233.7 341.8,237.8 342.5,238.9 343.7,236 344.4,236.2 345.2,237 346.1,235.3 346.9,236.1 347.5,238.1 348.6,235 349.3,236 349.7,239.6 350.5,239.9 351.9,235.1 352,239.8 353.6,235.1 354.1,237.2 355.1,236 355.9,235.8 356.4,238.2 357.4,236.8 357.9,239.2 359.1,236.4 359.4,239.6 360.1,240.5 361.2,238.6 361.9,239.4 362.7,240.3 363.5,240.7 364.5,237.5 365.1,240.5 366.1,238.4 366.8,239.5 367.5,241.1 368.3,240.7 369.3,237.7 370.1,238.2 371,236.8 371.7,237.9 372.3,241.5 373.1,241.1 374,240.4 374.7,241.7 375.5,241.4 376.5,238.4 377.4,237.6 377.9,241.6 379,237 379.7,238.7 380.5,238.8 381.3,238.4 382.1,238.1 382.7,241.8 383.6,240.5 384.3,242.1 385.3,239.5 386,240.7 386.9,239.5 387.6,239.8 388.3,241.9 389.2,241.1 390.2,238.8 390.7,241.5 391.4,242.5 392.4,240.6 392.9,243.5 393.8,242.8 395,239.3 395.5,242.5 396.3,241.9 397.1,242.1 398.1,239.6 399,238.8 399.8,239.4 400.2,243.8 401.2,241.7 402,241.8 402.5,244.4 403.6,241.7 404.3,242.4 405.4,240.2 406.3,239 406.8,242.2 407.6,241.7 408.5,240.7 409.3,239.5 410.1,240.4 410.9,240.6 411.6,241.8 412.4,243.6 413.3,239.5 414,243.1 414.9,240.9 415.5,243.3 416.5,242 417.5,239.6 418.2,241.1 418.8,242.8 419.7,241.8 420.5,242.2 421.2,243.2 422.1,242.6 422.9,242.7 423.7,242.2 424.4,244 425.1,244.7 426.1,242.1 426.7,244.9 427.6,243.6 428.3,245 429.2,244.7 430.1,242.1 430.8,243.8 431.7,242 432.5,241.3 433.1,245.1 433.9,246 434.8,245 435.6,244.4 436.3,245.5 437.2,243.9 438,245 438.8,245.2" stroke="#eaa862" stroke-width="0.7" fill="none"/><polyline points="254.8,258.8 253.7,255.4 256.9,253.7 256.8,251.2 254.1,247.9 259.9,248.7 259.5,246.7 260.3,245.7 257.7,242 260.2,242.4 260.6,241.1 264.1,242.7 263.5,240.7 265,240.9 264.2,238.3 264.1,236.5 266.2,237.8 265.4,234.3 268.4,238.8 268.7,237.2 269.7,237.9 269.8,234.9 271.6,239 272.3,238.2 272.9,237.2 272.7,233 274,234.7 274.3,231.5 275.4,232.2 276.5,235.9 277.3,236.2 278.2,237.8 278.8,233.2 279.6,233.5 280.4,234.2 281.3,232.3 282.2,231.9 282.8,234.4 283.8,232.7 284.3,235.9 285.3,234.4 285.8,237.2 286.7,236.4 287.7,233.7 288.3,237.4 289.1,237.2 290.1,234.3 290.9,233.6 291.5,236.5 292.6,232.7 293.5,233.2 294.6,232 294.4,237.6 295.4,236.9 296.1,237.3 296.8,238 298.1,235.9 298.8,236.8 299.8,233.8 300.6,233.7 301.2,237.7 302,236.3 302.8,237 303.5,238.5 304.4,237.6 305.2,237.1 306,237.1 307,235.4 308,233.6 308.5,236.5 309.4,235 310.1,236.5 310.7,239.7 311.6,235.3 312.4,234.1 313.2,235.6 314,235.7 314.8,238.3 315.6,237.6 316.4,239.2 317.2,238.4 318,236.5 318.9,239.4 319.5,234.8 320.1,233.7 320.9,234.1 322.2,238.5 322.8,236.6 323.4,234.4 324.4,236.7 325.1,234.2 326.1,238 326.8,236.2 327.6,235.7 328.4,235.1 329.3,237.4 330,235.4 330.6,233.4 331.4,233.6 332.8,239.5 333.6,239 334.2,237.4 334.6,234.3 335.9,239.2 336.5,237.8 337.2,237.3 338,235.4 338.9,234.2 339.9,233 340.1,238.8 341.3,235.7 342.3,234.1 343,234.9 343.6,236.9 344.6,234.1 345,239 345.9,238.4 346.7,238.2 347.7,236.2 348.3,237.7 349.2,237.4 349.9,238 351.2,234.1 351.7,236.5 352.9,234 353.2,237.3 354.2,236.3 355.2,235.1 356,235 356.3,238.5 357.6,235.7 357.6,241.1 358.7,238.8 359.8,237.2 360.3,239.1 361.6,235.2 361.7,241.9 362.8,238.6 363.5,240.8 364.6,235.9 365.2,238.8 366,238.9 366.6,242.1 367.6,239.5 368.4,238.9 369.3,237.5 370.1,238 370.8,239.4 371.6,238.8 372.6,235.9 373.1,241.7 373.8,242.2 375,236.9 375.6,239.9 376.6,236.8 377.1,240.9 378.1,238.2 378.7,240.9 379.5,241.4 380.3,241.8 381.4,237.1 381.8,242.9 382.9,238.1 383.8,236.8 384.4,240.5 385.3,239.2 385.9,242.5 386.7,242.4 387.7,239 388.2,243.5 389.3,238.9 390,240.5 391,238.8 391.3,243.7 392.7,238.3 393.5,237.5 394.1,240.4 394.5,244.4 395.4,243.7 396.3,242.8 397,243.9 397.8,243.9 398.8,241.3 399.7,240 400.3,243.3 401.1,242.5 402.1,240.6 403.1,238.7 403.4,243.4 404.6,240 404.9,244.9 406.2,240 407,239.3 407.5,244.3 408.5,239.6 409.3,239.8 410,242.8 410.7,244.8 411.7,240 412.5,240.8 413.1,244.2 413.8,245.6 414.8,242.3 415.8,239.8 416.7,239 417.4,240.6 418.3,240 418.7,243.9 419.9,240.1 420.4,242.9 421.1,244.3 422,243.6 423,241 423.4,245.3 424.3,244.8 425.1,245 426.2,240.8 427,240.8 427.4,246.5 428.5,242.8 429.3,242.2 430,243.5 430.8,244.8 431.5,246.9 432.5,242.2 433.1,246.8 434.2,240.4 434.8,244.2 435.6,244.8 436.6,241.1 437.4,241.4 438,243.4 438.6,247.4" stroke="#70c070" stroke-width="0.7" fill="none"/><polygon points="252.9,257.9 253.9,254.4 254.9,251.2 255.9,248.6 256.9,246.4 257.9,244.5 258.9,243 259.9,241.7 260.9,240.5 261.9,239.4 262.9,238.3 263.9,237.5 264.9,236.7 265.9,236 266.9,235.4 267.9,235 268.9,234.7 269.9,234.4 270.9,234.2 271.9,233.9 272.9,233.6 273.9,233.4 274.9,233.2 275.9,233.1 276.9,233 277.9,232.9 278.9,232.9 279.9,232.9 280.9,232.9 281.9,232.9 282.9,233 283.9,233.1 284.9,233.2 285.9,233.3 286.9,233.4 287.9,233.4 288.9,233.5 289.9,233.5 290.9,233.6 291.9,233.6 292.9,233.7 293.9,233.9 294.9,234.1 295.9,234.3 296.9,234.5 297.9,234.7 298.9,234.8 299.9,234.9 300.9,234.9 301.9,235 302.9,235 303.9,235.1 304.9,235.1 305.9,235.2 306.9,235.3 307.9,235.4 308.9,235.5 309.9,235.6 310.9,235.6 311.9,235.6 312.9,235.6 313.9,235.6 314.9,235.6 315.9,235.6 316.9,235.6 317.9,235.6 318.9,235.6 319.9,235.6 320.9,235.5 321.9,235.4 322.9,235.3 323.9,235.2 324.9,235.1 325.9,235.1 326.9,235 327.9,235 328.9,234.9 329.9,234.9 330.9,234.8 331.9,234.7 332.9,234.6 333.9,234.5 334.9,234.4 335.9,234.3 336.9,234.2 337.9,234.2 338.9,234.3 339.9,234.4 340.9,234.5 341.9,234.6 342.9,234.7 343.9,234.8 344.9,234.9 345.9,235 346.9,235.1 347.9,235.2 348.9,235.3 349.9,235.4 350.9,235.5 351.9,235.6 352.9,235.8 353.9,235.9 354.9,236.1 355.9,236.2 356.9,236.4 357.9,236.5 358.9,236.7 359.9,236.8 360.9,236.9 361.9,237.1 362.9,237.2 363.9,237.2 364.9,237.3 365.9,237.4 366.9,237.4 367.9,237.5 368.9,237.6 369.9,237.6 370.9,237.7 371.9,237.7 372.9,237.8 373.9,237.9 374.9,237.9 375.9,238 376.9,238.1 377.9,238.1 378.9,238.2 379.9,238.3 380.9,238.3 381.9,238.4 382.9,238.5 383.9,238.5 384.9,238.6 385.9,238.6 386.9,238.7 387.9,238.7 388.9,238.8 389.9,238.9 390.9,239 391.9,239.1 392.9,239.2 393.9,239.3 394.9,239.4 395.9,239.4 396.9,239.5 397.9,239.6 398.9,239.7 399.9,239.7 400.9,239.8 401.9,239.9 402.9,240 403.9,240.1 404.9,240.2 405.9,240.3 406.9,240.4 407.9,240.5 408.9,240.5 409.9,240.5 410.9,240.6 411.9,240.6 412.9,240.6 413.9,240.7 414.9,240.8 415.9,240.8 416.9,240.9 417.9,241 418.9,241.1 419.9,241.2 420.9,241.3 421.9,241.4 422.9,241.5 423.9,241.6 424.9,241.7 425.9,241.8 426.9,241.9 427.9,241.9 428.9,242 429.9,242.1 430.9,242.1 431.9,242.1 432.9,242.2 433.9,242.3 434.9,242.3 435.9,242.4 436.9,242.4 437.9,242.5 438.9,242.5 439.4,245.6 438.4,245.6 437.4,245.5 436.4,245.5 435.4,245.4 434.4,245.4 433.4,245.3 432.4,245.3 431.4,245.2 430.4,245.2 429.4,245.1 428.4,245.1 427.4,245 426.4,244.9 425.4,244.9 424.4,244.8 423.4,244.7 422.4,244.6 421.4,244.5 420.4,244.4 419.4,244.3 418.4,244.2 417.4,244.1 416.4,244 415.4,243.9 414.4,243.8 413.4,243.8 412.4,243.7 411.4,243.7 410.4,243.7 409.4,243.6 408.4,243.6 407.4,243.5 406.4,243.5 405.4,243.4 404.4,243.3 403.4,243.2 402.4,243.1 401.4,243 400.4,242.9 399.4,242.8 398.4,242.7 397.4,242.7 396.4,242.6 395.4,242.5 394.4,242.4 393.4,242.3 392.4,242.2 391.4,242.1 390.4,242 389.4,241.9 388.4,241.9 387.4,241.8 386.4,241.7 385.4,241.7 384.4,241.6 383.4,241.6 382.4,241.5 381.4,241.5 380.4,241.4 379.4,241.4 378.4,241.3 377.4,241.2 376.4,241.1 375.4,241.1 374.4,241 373.4,240.9 372.4,240.9 371.4,240.8 370.4,240.7 369.4,240.7 368.4,240.6 367.4,240.6 366.4,240.5 365.4,240.4 364.4,240.4 363.4,240.3 362.4,240.2 361.4,240.1 360.4,240 359.4,239.8 358.4,239.7 357.4,239.5 356.4,239.4 355.4,239.2 354.4,239.1 353.4,238.9 352.4,238.8 351.4,238.6 350.4,238.5 349.4,238.4 348.4,238.3 347.4,238.2 346.4,238.1 345.4,238 344.4,238 343.4,237.9 342.4,237.8 341.4,237.6 340.4,237.5 339.4,237.4 338.4,237.3 337.4,237.3 336.4,237.3 335.4,237.4 334.4,237.5 333.4,237.6 332.4,237.8 331.4,237.9 330.4,237.9 329.4,238 328.4,238 327.4,238.1 326.4,238.1 325.4,238.2 324.4,238.2 323.4,238.3 322.4,238.4 321.4,238.5 320.4,238.6 319.4,238.7 318.4,238.7 317.4,238.7 316.4,238.7 315.4,238.7 314.4,238.7 313.4,238.7 312.4,238.7 311.4,238.7 310.4,238.7 309.4,238.6 308.4,238.5 307.4,238.4 306.4,238.3 305.4,238.2 304.4,238.2 303.4,238.1 302.4,238.1 301.4,238 300.4,238 299.4,237.9 298.4,237.8 297.4,237.7 296.4,237.5 295.4,237.3 294.4,237.1 293.4,236.9 292.4,236.8 291.4,236.7 290.4,236.7 289.4,236.6 288.4,236.6 287.4,236.5 286.4,236.5 285.4,236.4 284.4,236.3 283.4,236.2 282.4,236.1 281.4,236 280.4,236 279.4,236 278.4,236 277.4,236 276.4,236.1 275.4,236.2 274.4,236.4 273.4,236.6 272.4,236.9 271.4,237.1 270.4,237.4 269.4,237.6 268.4,237.9 267.4,238.3 266.4,238.8 265.4,239.4 264.4,240.2 263.4,241 262.4,241.9 261.4,243 260.4,244.2 259.4,245.4 258.4,246.8 257.4,248.5 256.4,250.5 255.4,252.9 254.4,255.9 253.4,259.3" fill="#1e961e"/><polyline points="252.9,259.5 253.9,256 254.9,252.8 255.9,250.1 256.9,247.9 257.9,246.1 258.9,244.5 259.9,243.2 260.9,242 261.9,240.9 262.9,239.9 263.9,239 264.9,238.2 265.9,237.5 266.9,236.9 267.9,236.5 268.9,236.2 269.9,235.9 270.9,235.7 271.9,235.5 272.9,235.2 273.9,234.9 274.9,234.7 275.9,234.6 276.9,234.5 277.9,234.5 278.9,234.4 279.9,234.4 280.9,234.4 281.9,234.5 282.9,234.6 283.9,234.7 284.9,234.8 285.9,234.9 286.9,234.9 287.9,235 288.9,235 289.9,235.1 290.9,235.1 291.9,235.2 292.9,235.3 293.9,235.4 294.9,235.6 295.9,235.8 296.9,236 297.9,236.2 298.9,236.3 299.9,236.4 300.9,236.5 301.9,236.5 302.9,236.6 303.9,236.6 304.9,236.7 305.9,236.7 306.9,236.8 307.9,236.9 308.9,237 309.9,237.1 310.9,237.2 311.9,237.2 312.9,237.2 313.9,237.2 314.9,237.2 315.9,237.2 316.9,237.2 317.9,237.2 318.9,237.2 319.9,237.1 320.9,237 321.9,236.9 322.9,236.8 323.9,236.7 324.9,236.7 325.9,236.6 326.9,236.6 327.9,236.5 328.9,236.5 329.9,236.4 330.9,236.4 331.9,236.3 332.9,236.2 333.9,236 334.9,235.9 335.9,235.8 336.9,235.8 337.9,235.8 338.9,235.8 339.9,235.9 340.9,236 341.9,236.1 342.9,236.3 343.9,236.4 344.9,236.4 345.9,236.5 346.9,236.6 347.9,236.7 348.9,236.8 349.9,236.9 350.9,237 351.9,237.2 352.9,237.3 353.9,237.5 354.9,237.6 355.9,237.8 356.9,237.9 357.9,238.1 358.9,238.2 359.9,238.3 360.9,238.5 361.9,238.6 362.9,238.7 363.9,238.8 364.9,238.9 365.9,238.9 366.9,239 367.9,239 368.9,239.1 369.9,239.2 370.9,239.2 371.9,239.3 372.9,239.4 373.9,239.4 374.9,239.5 375.9,239.6 376.9,239.6 377.9,239.7 378.9,239.8 379.9,239.8 380.9,239.9 381.9,240 382.9,240 383.9,240.1 384.9,240.1 385.9,240.2 386.9,240.2 387.9,240.3 388.9,240.3 389.9,240.4 390.9,240.5 391.9,240.6 392.9,240.7 393.9,240.8 394.9,240.9 395.9,241 396.9,241.1 397.9,241.1 398.9,241.2 399.9,241.3 400.9,241.4 401.9,241.5 402.9,241.6 403.9,241.7 404.9,241.8 405.9,241.9 406.9,241.9 407.9,242 408.9,242.1 409.9,242.1 410.9,242.1 411.9,242.2 412.9,242.2 413.9,242.2 414.9,242.3 415.9,242.4 416.9,242.5 417.9,242.6 418.9,242.7 419.9,242.8 420.9,242.9 421.9,243 422.9,243.1 423.9,243.2 424.9,243.3 425.9,243.4 426.9,243.4 427.9,243.5 428.9,243.6 429.9,243.6 430.9,243.7 431.9,243.7 432.9,243.7 433.9,243.8 434.9,243.9 435.9,243.9 436.9,244 437.9,244 438.9,244.1" stroke="#1e961e" stroke-width="2.2" fill="none" stroke-linejoin="round"/><polyline points="253.8,258.5 252.3,255.4 252.9,253.1 256.5,252 256.3,250 255.8,247.8 258.3,247.4 257.3,245.2 258.6,244.4 259.4,243.6 261.6,244 262.1,243 261,240.6 261.7,239.8 262.8,239.5 262.4,237.6 263.9,238 266.2,239.6 266.6,238.7 266.6,237.3 267.2,236.7 268.5,238.3 268.7,236.7 269.8,237.9 270.5,238 270.3,233.8 271,234 272.4,236.5 272.4,233.7 273.3,234.4 274,234 275,234.9 275.4,232.7 276.3,234.4 277,234.8 277.6,232.8 278.4,233.8 279.1,234.4 279.8,233.6 280.5,234.1 281.2,234.1 282.1,232.8 282.6,234.9 283.5,232.8 284,235 284.9,233 285.4,235 286,236.4 286.9,234 287.6,233.2 288.3,234.2 288.9,234.7 289.6,235.6 290.4,233.6 291.1,233 291.6,236.7 292.4,235 293.1,235.6 293.6,236.7 294.3,236.6 294.9,237.2 296.1,235.1 296.9,234.7 297.7,234.1 298.1,235.8 298.7,236.8 299.4,236.7 300,238 300.7,237.9 301.5,236.5 302.3,234.9 302.9,236.6 303.5,238.4 304.2,238.3 305,237.4 305.7,237.4 306.3,238.2 307,237.6 307.8,237.4 308.6,236.6 309.3,236.6 309.9,237 310.5,238.8 311.3,237.8 312,238.6 312.7,237.2 313.4,237.3 314.1,238 314.8,238 315.5,236 316.2,239 316.9,236 317.6,237.9 318.3,236.6 319,236.2 319.9,239.2 320.5,237.8 321,236.1 321.9,237.9 322.6,237.9 323.2,236.2 324.1,238.6 324.7,238.7 325.3,235.6 326.1,237.6 326.7,235.3 327.4,235.3 328.2,237.7 328.9,238.4 329.5,236.4 330.2,235.6 330.9,235.4 331.6,236.1 332.4,236.8 333.2,237.9 333.9,237.1 334.6,237.6 335.2,237 335.8,235.5 336.6,237.7 337.2,236.2 337.9,235.6 338.6,236.6 339.2,236.9 340,236.2 340.7,235.9 341.2,237.8 342.1,236.2 342.8,236.4 343.3,238.2 344,238.4 344.9,237.1 345.6,236.2 346.5,235 347.2,234.9 347.8,235.9 348.6,234.7 349,238.3 349.9,235.7 350.7,235.5 351.2,237 351.8,237.8 352.9,235.3 353.6,235.8 353.7,239.4 354.6,238.1 355.1,239.5 356.3,236.6 356.6,239.2 357.7,236.5 358.1,238.6 358.7,239.5 359.8,236.9 360.6,236.7 360.9,239.1 361.7,238.5 362.4,238.8 363,239.6 363.7,240.3 364.5,239.4 365.1,240.3 365.8,241 366.5,241.1 367.3,238.5 368.1,237.9 368.6,240.6 369.5,238.4 370,240.5 370.9,237.9 371.6,237.9 372.2,239 373,238.9 373.7,237.6 374.2,241.4 375.1,238.8 375.8,237.9 376.5,238.5 377.2,237.8 377.8,240 378.4,241 379.2,240.5 379.9,239.4 380.5,241.1 381.3,239.6 382.1,237.9 382.7,239.6 383.5,238.4 384.2,238.6 384.9,238.6 385.6,239.3 386.3,239.4 386.9,240.6 387.5,242.1 388.3,240.7 388.9,241.8 389.5,242.5 390.4,240.6 391.3,238.8 392,238.7 392.4,242.1 393.2,241.3 393.9,240.8 394.5,241.9 395.5,238.8 395.9,242.5 396.6,242 397.4,241.3 398.1,241.9 398.8,241.6 399.5,241 400.2,241.3 401.1,239.3 401.6,242.1 402.1,243.6 403,241.3 403.9,240.1 404.4,242.3 405.1,241.5 405.9,240.4 406.5,241.8 407.3,240.4 407.8,243.4 408.6,242 409.3,243.2 410.1,240.5 410.8,240.3 411.4,243.6 412.1,241.9 412.8,243.4 413.6,240.5 414.3,241.1 414.8,244.1 415.8,240.7 416.3,242.6 417.1,241.5 417.8,241.7 418.6,240.7 419,243.5 420,240.8 420.6,242.1 421.2,243.1 421.7,245 422.5,244.6 423.3,243.1 423.9,244.5 424.8,242.6 425.6,241.3 426.2,242.1 426.9,241.5 427.6,242.7 428.2,243.7 429,242.9 429.6,243.7 430.3,243.7 431.1,242.6 431.6,245.2 432.4,243.3 433.2,242.5 433.8,244 434.5,244.2 435.2,244.3 435.9,244.9 436.6,243.6 437.4,242.6 437.9,245.9 438.7,244.7 439.5,242.5" stroke="#007c00" stroke-width="0.8" fill="none"/><polyline points="251.7,258 254.5,251 257.3,246.4 261.5,244.6 260.9,239.7 265.3,240.1 265.6,235.8 268.4,235.5 271,236.6 273.2,235.7 275.5,236.9 277.4,234.1 279.6,236.6 281.7,236.6 283.9,235.8 286.4,232.6 288.4,236.5 290.5,237.1 292.8,235.4 295.3,234.2 297.5,234.6 299.3,238.1 301.7,234.5 303.8,236.8 306.1,235.3 308.3,236 310.3,239.5 312.6,236.1 314.8,238.1 317,238.5 319.2,236.1 321.2,235.3 323.7,238.1 325.8,236.4 328,235.5 330.1,235 332.7,238.6 334.7,236.7 336.8,235.9 339.2,233.9 341,238.1 343.5,235.5 345.5,237.9 347.6,238.7 350.2,235.5 351.9,239.5 354.1,239.5 356.6,238.2 358.7,239.3 361.2,237.4 363.1,239.8 365.4,238.6 367.7,238.2 369.8,240.1 372.1,238.7 374.2,240.5 376.3,241.3 378.7,238.6 380.9,238.5 383.1,239.1 385.2,239.8 387.4,241.4 389.6,240.1 391.7,241.5 393.8,243.2 396.3,239.7 398.3,242.4 400.6,241.2 402.9,241.2 405,242.3 407.3,240.1 409.5,241.2 411.7,241 413.8,242.8 416.1,241.1 418.5,240.4 420.6,240.6 422.5,244.4 424.7,244.2 426.9,245.1 429.2,244.4 431.5,241.5 433.6,244.8 435.8,244.1 437.9,246.3" stroke="#d9a35a" stroke-width="0.5" stroke-opacity="0.8" fill="none"/><polyline points="253.4,258.4 255.3,251.9 258,247.7 260.1,244.7 261.2,241.7 263.9,240.3 265.8,238.8 267.4,237.1 269.1,235.8 271.4,236.2 273.3,235.6 275.4,235.9 277.3,235.3 279.2,234.5 281.1,236.2 283.2,234.5 285.1,236 287.1,236.3 289.2,235.5 291.3,233.5 293.4,233.7 295.5,234.3 297.1,236.8 299.3,234.7 301.2,237.2 303.2,236.3 305.2,236.2 307.4,235.6 309.4,235.6 311.3,235.8 313.2,238.2 315.2,236 317.2,238 319.3,237.9 321.2,237.1 323.4,238.5 325.2,236.2 327.1,234.8 329.2,236.4 331.1,235.2 333,234.7 335.4,237.7 337.2,235.2 339.2,236.5 341.3,235 343.4,234.5 345.1,238.2 347.1,237.5 349.1,237.6 351.1,238.2 353.3,236.7 355.3,237.4 357.3,237.5 359,239.6 361.3,237.8 363.3,238.1 365.2,239.8 367.2,239.4 369.2,239.2 371.3,237.9 373.2,239 375.1,241 377.3,238.2 379.1,240.9 381.2,240.6 383.3,238.6 385.2,241.3 387.2,240.2 389.2,240 391.2,241 393.3,240 395.3,239.4 397.3,240.1 399.3,240.1 401.2,241.1 403.2,241.6 405.3,240.9 407.1,243 409.2,241.6 411.2,242.5 413.2,242.9 415.1,243.3 417.3,241.3 419.3,242 421.1,244.1 423.1,243.9 425.2,243.4 427.1,245 429.3,242.6 431.2,243.5 433.2,243.7 435.3,242.7 437.3,242.9 439.2,244.6" stroke="#5cb85c" stroke-width="0.5" stroke-opacity="0.8" fill="none"/><path d="M247.9 175.65V302.1" stroke="#5a5a5a" stroke-width="0.9"/><path d="M439.6 169.8V302.1" stroke="#5a5a5a" stroke-width="0.9"/><path d="M247.9 302.1H439.6" stroke="#5a5a5a" stroke-width="0.9"/><path d="M247.9 293.67h1M247.9 285.24h1M247.9 276.81h1M247.9 268.38h1M247.9 259.95h1M247.9 251.52h1M247.9 243.09h1M247.9 234.66h1M247.9 226.23h1M247.9 217.8h1M247.9 209.37h1M247.9 200.94h1M247.9 192.51h1M247.9 184.08h1M247.9 175.65h1M254.29 302.1v1M260.68 302.1v1M267.07 302.1v1M273.46 302.1v1M279.85 302.1v1M286.24 302.1v1M292.63 302.1v1M299.02 302.1v1M305.41 302.1v1M311.8 302.1v1M318.19 302.1v1M324.58 302.1v1M330.97 302.1v1M337.36 302.1v1M343.75 302.1v1M350.14 302.1v1M356.53 302.1v1M362.92 302.1v1M369.31 302.1v1M375.7 302.1v1M382.09 302.1v1M388.48 302.1v1M394.87 302.1v1M401.26 302.1v1M407.65 302.1v1M414.04 302.1v1M420.43 302.1v1M426.82 302.1v1M433.21 302.1v1M440.48 290.5h1M440.48 277.72h1M440.48 264.94h1M440.48 252.17h1M440.48 239.39h1M440.48 226.61h1M440.48 213.83h1M440.48 201.06h1M440.48 188.28h1M440.48 175.5h1" stroke="#555" stroke-width="0.8" fill="none"/><rect x="316.15" y="298.8" width="8.95" height="4.6" fill="#fff"/><text transform="translate(246.4 294.88) scale(0.920 1)" font-size="3.37" text-anchor="end" fill="#4a4452" stroke="#4a4452" stroke-width="0.15">0.1</text><text transform="translate(246.4 286.45) scale(0.920 1)" font-size="3.37" text-anchor="end" fill="#4a4452" stroke="#4a4452" stroke-width="0.15">0.2</text><text transform="translate(246.4 278.02) scale(0.920 1)" font-size="3.37" text-anchor="end" fill="#4a4452" stroke="#4a4452" stroke-width="0.15">0.3</text><text transform="translate(246.4 269.59) scale(0.920 1)" font-size="3.37" text-anchor="end" fill="#4a4452" stroke="#4a4452" stroke-width="0.15">0.4</text><text transform="translate(246.4 261.16) scale(0.920 1)" font-size="3.37" text-anchor="end" fill="#4a4452" stroke="#4a4452" stroke-width="0.15">0.5</text><text transform="translate(246.4 252.73) scale(0.920 1)" font-size="3.37" text-anchor="end" fill="#4a4452" stroke="#4a4452" stroke-width="0.15">0.6</text><text transform="translate(246.4 244.3) scale(0.920 1)" font-size="3.37" text-anchor="end" fill="#4a4452" stroke="#4a4452" stroke-width="0.15">0.7</text><text transform="translate(246.4 235.87) scale(0.920 1)" font-size="3.37" text-anchor="end" fill="#4a4452" stroke="#4a4452" stroke-width="0.15">0.8</text><text transform="translate(246.4 227.44) scale(0.920 1)" font-size="3.37" text-anchor="end" fill="#4a4452" stroke="#4a4452" stroke-width="0.15">0.9</text><text transform="translate(246.4 219.01) scale(0.920 1)" font-size="3.37" text-anchor="end" fill="#4a4452" stroke="#4a4452" stroke-width="0.15">1</text><text transform="translate(246.4 210.58) scale(0.920 1)" font-size="3.37" text-anchor="end" fill="#4a4452" stroke="#4a4452" stroke-width="0.15">1.1</text><text transform="translate(246.4 202.15) scale(0.920 1)" font-size="3.37" text-anchor="end" fill="#4a4452" stroke="#4a4452" stroke-width="0.15">1.2</text><text transform="translate(246.4 193.72) scale(0.920 1)" font-size="3.37" text-anchor="end" fill="#4a4452" stroke="#4a4452" stroke-width="0.15">1.3</text><text transform="translate(246.4 185.29) scale(0.920 1)" font-size="3.37" text-anchor="end" fill="#4a4452" stroke="#4a4452" stroke-width="0.15">1.4</text><text transform="translate(246.4 176.86) scale(0.920 1)" font-size="3.37" text-anchor="end" fill="#4a4452" stroke="#4a4452" stroke-width="0.15">1.5</text><text transform="translate(254.29 307.24) scale(0.824 1)" font-size="3.16" text-anchor="middle" fill="#4a4452" stroke="#4a4452" stroke-width="0.15">1</text><text transform="translate(260.68 307.24) scale(0.824 1)" font-size="3.16" text-anchor="middle" fill="#4a4452" stroke="#4a4452" stroke-width="0.15">2</text><text transform="translate(267.07 307.24) scale(0.824 1)" font-size="3.16" text-anchor="middle" fill="#4a4452" stroke="#4a4452" stroke-width="0.15">3</text><text transform="translate(273.46 307.24) scale(0.824 1)" font-size="3.16" text-anchor="middle" fill="#4a4452" stroke="#4a4452" stroke-width="0.15">4</text><text transform="translate(279.85 307.24) scale(0.824 1)" font-size="3.16" text-anchor="middle" fill="#4a4452" stroke="#4a4452" stroke-width="0.15">5</text><text transform="translate(286.24 307.24) scale(0.824 1)" font-size="3.16" text-anchor="middle" fill="#4a4452" stroke="#4a4452" stroke-width="0.15">6</text><text transform="translate(292.63 307.24) scale(0.824 1)" font-size="3.16" text-anchor="middle" fill="#4a4452" stroke="#4a4452" stroke-width="0.15">7</text><text transform="translate(299.02 307.24) scale(0.824 1)" font-size="3.16" text-anchor="middle" fill="#4a4452" stroke="#4a4452" stroke-width="0.15">8</text><text transform="translate(305.41 307.24) scale(0.824 1)" font-size="3.16" text-anchor="middle" fill="#4a4452" stroke="#4a4452" stroke-width="0.15">9</text><text transform="translate(311.8 307.24) scale(0.824 1)" font-size="3.16" text-anchor="middle" fill="#4a4452" stroke="#4a4452" stroke-width="0.15">10</text><text transform="translate(318.19 307.24) scale(0.824 1)" font-size="3.16" text-anchor="middle" fill="#4a4452" stroke="#4a4452" stroke-width="0.15">11</text><text transform="translate(324.58 307.24) scale(0.824 1)" font-size="3.16" text-anchor="middle" fill="#4a4452" stroke="#4a4452" stroke-width="0.15">12</text><text transform="translate(330.97 307.24) scale(0.824 1)" font-size="3.16" text-anchor="middle" fill="#4a4452" stroke="#4a4452" stroke-width="0.15">13</text><text transform="translate(337.36 307.24) scale(0.824 1)" font-size="3.16" text-anchor="middle" fill="#4a4452" stroke="#4a4452" stroke-width="0.15">14</text><text transform="translate(343.75 307.24) scale(0.824 1)" font-size="3.16" text-anchor="middle" fill="#4a4452" stroke="#4a4452" stroke-width="0.15">15</text><text transform="translate(350.14 307.24) scale(0.824 1)" font-size="3.16" text-anchor="middle" fill="#4a4452" stroke="#4a4452" stroke-width="0.15">16</text><text transform="translate(356.53 307.24) scale(0.824 1)" font-size="3.16" text-anchor="middle" fill="#4a4452" stroke="#4a4452" stroke-width="0.15">17</text><text transform="translate(362.92 307.24) scale(0.824 1)" font-size="3.16" text-anchor="middle" fill="#4a4452" stroke="#4a4452" stroke-width="0.15">18</text><text transform="translate(369.31 307.24) scale(0.824 1)" font-size="3.16" text-anchor="middle" fill="#4a4452" stroke="#4a4452" stroke-width="0.15">19</text><text transform="translate(375.7 307.24) scale(0.824 1)" font-size="3.16" text-anchor="middle" fill="#4a4452" stroke="#4a4452" stroke-width="0.15">20</text><text transform="translate(382.09 307.24) scale(0.824 1)" font-size="3.16" text-anchor="middle" fill="#4a4452" stroke="#4a4452" stroke-width="0.15">21</text><text transform="translate(388.48 307.24) scale(0.824 1)" font-size="3.16" text-anchor="middle" fill="#4a4452" stroke="#4a4452" stroke-width="0.15">22</text><text transform="translate(394.87 307.24) scale(0.824 1)" font-size="3.16" text-anchor="middle" fill="#4a4452" stroke="#4a4452" stroke-width="0.15">23</text><text transform="translate(401.26 307.24) scale(0.824 1)" font-size="3.16" text-anchor="middle" fill="#4a4452" stroke="#4a4452" stroke-width="0.15">24</text><text transform="translate(407.65 307.24) scale(0.824 1)" font-size="3.16" text-anchor="middle" fill="#4a4452" stroke="#4a4452" stroke-width="0.15">25</text><text transform="translate(414.04 307.24) scale(0.824 1)" font-size="3.16" text-anchor="middle" fill="#4a4452" stroke="#4a4452" stroke-width="0.15">26</text><text transform="translate(420.43 307.24) scale(0.824 1)" font-size="3.16" text-anchor="middle" fill="#4a4452" stroke="#4a4452" stroke-width="0.15">27</text><text transform="translate(426.82 307.24) scale(0.824 1)" font-size="3.16" text-anchor="middle" fill="#4a4452" stroke="#4a4452" stroke-width="0.15">28</text><text transform="translate(433.21 307.24) scale(0.824 1)" font-size="3.16" text-anchor="middle" fill="#4a4452" stroke="#4a4452" stroke-width="0.15">29</text><text transform="translate(447.27 291.64) scale(0.872 1)" font-size="3.16" text-anchor="end" fill="#333" stroke="#333" stroke-width="0.15">10</text><text transform="translate(447.27 278.86) scale(0.872 1)" font-size="3.16" text-anchor="end" fill="#333" stroke="#333" stroke-width="0.15">20</text><text transform="translate(447.27 266.08) scale(0.872 1)" font-size="3.16" text-anchor="end" fill="#333" stroke="#333" stroke-width="0.15">30</text><text transform="translate(447.27 253.3) scale(0.872 1)" font-size="3.16" text-anchor="end" fill="#333" stroke="#333" stroke-width="0.15">40</text><text transform="translate(447.27 240.53) scale(0.872 1)" font-size="3.16" text-anchor="end" fill="#333" stroke="#333" stroke-width="0.15">50</text><text transform="translate(447.27 227.75) scale(0.872 1)" font-size="3.16" text-anchor="end" fill="#333" stroke="#333" stroke-width="0.15">60</text><text transform="translate(447.27 214.97) scale(0.872 1)" font-size="3.16" text-anchor="end" fill="#333" stroke="#333" stroke-width="0.15">70</text><text transform="translate(447.27 202.19) scale(0.872 1)" font-size="3.16" text-anchor="end" fill="#333" stroke="#333" stroke-width="0.15">80</text><text transform="translate(447.27 189.42) scale(0.872 1)" font-size="3.16" text-anchor="end" fill="#333" stroke="#333" stroke-width="0.15">90</text><text transform="translate(447.27 176.64) scale(0.872 1)" font-size="3.16" text-anchor="end" fill="#333" stroke="#333" stroke-width="0.15">100</text><text transform="translate(240.26 238.88) rotate(-90) scale(0.998 1)" font-size="3.28" text-anchor="middle" fill="#555" stroke="#555" stroke-width="0.15">Torque(Nm)</text><path d="M451.2 217.4V240.6M451.2 246.2V253.8" stroke="#444" stroke-width="0.7" stroke-dasharray="0.7 1.9" fill="none"/><text transform="translate(343.11 312.89) scale(0.837 1)" font-size="3.31" text-anchor="middle" fill="#333" stroke="#333" stroke-width="0.15">Time (min)</text><path d="M237.68 314.1H439.6V302.1" stroke="#dcf3dc" stroke-width="0.9" fill="none"/><text transform="translate(238 318.9) scale(0.949 1)" font-size="3.61" fill="#1a1a1a" stroke="#1a1a1a" stroke-width="0.15">amara</text><text transform="translate(302.22 318.9) scale(0.949 1)" font-size="3.61" fill="#1a1a1a" stroke="#1a1a1a" stroke-width="0.15">Mixing</text><text transform="translate(335.44 318.9) scale(0.949 1)" font-size="3.61" fill="#1a1a1a" stroke="#1a1a1a" stroke-width="0.15">1/2</text><text transform="translate(357.81 318.9) scale(0.949 1)" font-size="3.61" fill="#1a1a1a" stroke="#1a1a1a" stroke-width="0.15">Device N°</text><text transform="translate(384.65 318.9) scale(0.949 1)" font-size="3.61" fill="#1a1a1a" stroke="#1a1a1a" stroke-width="0.15">499</text><text transform="translate(399.66 318.9) scale(0.949 1)" font-size="3.61" fill="#1a1a1a" stroke="#1a1a1a" stroke-width="0.15">Version4.0.8r4.1i</text><text transform="translate(442.16 318.9) scale(0.949 1)" font-size="3.61" fill="#1a1a1a" stroke="#1a1a1a" stroke-width="0.15">TNC</text><text x="260.7" y="191.6" font-family='"Liberation Serif", serif' font-weight="bold" font-size="12" fill="#000">D5</text></g><g><path d="M470 294.96H666.5M470 285.62H666.5M470 276.28H666.5M470 266.94H666.5M470 257.6H666.5M470 248.26H666.5M470 238.92H666.5M470 229.58H666.5M470 220.24H666.5M470 210.9H666.5M470 201.56H666.5M470 192.22H666.5M470 182.88H666.5M470 173.54H666.5" stroke="#e4e4e4" stroke-width="0.9" fill="none"/><path d="M476.55 173.54V304.3M483.1 173.54V304.3M489.65 173.54V304.3M496.2 173.54V304.3M502.75 173.54V304.3M509.3 173.54V304.3M515.85 173.54V304.3M522.4 173.54V304.3M528.95 173.54V304.3M535.5 173.54V304.3M542.05 173.54V304.3M548.6 173.54V304.3M555.15 173.54V304.3M561.7 173.54V304.3M568.25 173.54V304.3M574.8 173.54V304.3M581.35 173.54V304.3M587.9 173.54V304.3M594.45 173.54V304.3M601 173.54V304.3M607.55 173.54V304.3M614.1 173.54V304.3M620.65 173.54V304.3M627.2 173.54V304.3M633.75 173.54V304.3M640.3 173.54V304.3M646.85 173.54V304.3M653.4 173.54V304.3M659.95 173.54V304.3" stroke="#dfdfdf" stroke-width="0.9" fill="none"/><path d="M470 252.93H666.5" stroke="#c990d4" stroke-width="1"/><path d="M470 250.6H666.5M470 255.27H666.5" stroke="#c58ad2" stroke-width="0.9" stroke-dasharray="0.9 1.5"/><polyline points="470,257.6 473.27,257.47 476.55,257.35 479.82,257.23 483.1,257.13 486.38,257.03 489.65,256.94 492.93,256.85 496.2,256.78 499.48,256.7 502.75,256.63 506.02,256.57 509.3,256.51 512.58,256.45 515.85,256.4 519.12,256.35 522.4,256.31 525.67,256.27 528.95,256.23 532.23,256.19 535.5,256.16 538.77,256.13 542.05,256.1 545.33,256.07 548.6,256.05 551.88,256.02 555.15,256 558.42,255.98 561.7,255.96 564.98,255.94 568.25,255.93 571.52,255.91 574.8,255.9 578.08,255.89 581.35,255.87 584.62,255.86 587.9,255.85 591.17,255.84 594.45,255.83 597.73,255.82 601,255.81 604.27,255.81 607.55,255.8 610.83,255.79 614.1,255.79 617.38,255.78 620.65,255.78 623.92,255.77 627.2,255.77 630.48,255.76 633.75,255.76 637.02,255.76 640.3,255.75 643.58,255.75 646.85,255.75 650.12,255.74 653.4,255.74 656.67,255.74 659.95,255.74 663.23,255.73 666.5,255.73" stroke="#f27af2" stroke-width="1" fill="none"/><path d="M470 264.98H665.6V304.3" stroke="#f47c7c" stroke-width="1" fill="none"/><polyline points="470,304.3 470.5,302.34 471,299.95 471.5,297.08 472,293.78 472.5,289.67 473,285.71 473.5,282.53 474,279.69 474.5,277.17 475,275 475.5,273.04 476,271.01 476.5,269.08 477,267.52 477.5,266.16 478,264.96" stroke="#eea860" stroke-width="1.1" fill="none" transform="translate(0.9,0.9)"/><polyline points="470,304.3 470.5,302.34 471,299.95 471.5,297.08 472,293.78 472.5,289.67 473,285.71 473.5,282.53 474,279.69 474.5,277.17 475,275 475.5,273.04 476,271.01 476.5,269.08 477,267.52 477.5,266.16 478,264.96" stroke="#8cc88c" stroke-width="0.8" fill="none" transform="translate(-0.9,0)"/><polyline points="470,304.3 470.5,302.34 471,299.95 471.5,297.08 472,293.78 472.5,289.67 473,285.71 473.5,282.53 474,279.69 474.5,277.17 475,275 475.5,273.04 476,271.01 476.5,269.08 477,267.52 477.5,266.16 478,264.96" stroke="#3a5fcd" stroke-width="0.9" fill="none"/><polyline points="476.8,276.2 474.8,272.3 475.4,269 476,266.4 479.2,265.4 477.6,262.6 480.9,262.6 481.4,261.2 480.9,259.3 482,258.7 484.2,259.5 484.7,258.2 483.2,255.2 486.1,256.5 485.7,254.4 488.7,255.4 486.5,252 488.1,251.6 490.7,252.7 490.3,250.7 491.5,250.7 491.9,249.7 491.7,247.5 492.1,246.3 493,246 494.5,246.8 494.9,245.1 496.1,245.2 497.2,246.7 498,246 498.8,247 499.5,245.8 500.5,246.8 501.4,247 502.4,248 502.7,243.6 503.5,247.4 504.6,245.5 505.5,245 506.5,244.5 506.8,246.9 507.5,247.9 508,249.5 509.4,246.1 509.5,249.7 510.8,247.5 511.2,249.6 512.9,245.7 513.8,245.7 514.1,247.8 515.5,245.9 515.9,247.6 517.1,246.4 516.8,250.6 518.6,247.1 518.8,249.7 518.9,252 520.5,249.8 521.5,249.2 521.5,252.2 522.4,251.8 524.2,249.1 524.5,250.8 525.5,250.8 525.5,253.3 526.8,252 527.8,251.9 528.6,252.2 528.9,254 529.2,255.5 530.6,254.1 531.7,253.3 532.2,254.5 532.5,256.7 533.5,256.4 535.4,252.6 535.9,253.5 536.4,255.2 537.3,255.1 538.1,255 539,254.6 539.3,257.3 540.4,255.9 541.6,253.5 542,256.4 542.4,258.7 543.7,255.6 544.5,255.7 545,258.3 546,257 546.8,256.9 547.8,255.1 548.4,257.2 549.4,255.2 550,257.4 550.7,258.6 551.9,255.1 552.3,258.8 553,259.1 554.3,255.3 554.6,259.4 556,255.4 556.1,260.2 557.4,257.1 558.2,257.3 558.9,257.6 559.8,257.3 560.7,256.4 561.2,259 562.2,256.5 562.9,258.2 563.8,256.9 564.4,259.5 565.3,257.6 566.2,256.8 567,256.5 567.5,260.8 568.5,258.3 569,261 569.7,261.5 571.2,257.2 571.9,257.9 572.7,257.7 573.5,258.2 574.2,258.7 575,258.5 575.8,258.4 576.3,262 577.1,262.4 577.9,262 578.7,262.4 579.6,260.6 580.6,258.6 581.4,258.7 582.1,259.9 583.1,258.4 583.7,260.2 584.5,260.1 585.3,259.9 586.1,260.4 586.6,263.4 587.8,258.8 588.4,261.7 589.1,263 589.9,263.2 590.9,260 591.7,260.8 592.3,263 593.1,263.3 594.1,260.3 594.8,261.7 595.8,259.5 596.3,263.9 597.1,263 597.9,263.6 598.9,260.6 599.8,259.4 600.5,260.7 601.2,262.5 602.1,261.5 602.9,260.3 603.7,261.8 604.4,262.3 605.4,260 605.9,264.4 606.7,264.2 607.5,263.9 608.5,260.9 609.1,265.1 610.2,260.7 610.9,262.4 611.6,262.9 612.5,261.3 613.3,262.1 613.9,265.2 614.8,264.1 615.8,260.9 616.3,265.2 617.3,262 618.1,262.7 618.8,263.8 619.8,260.9 620.6,261 621.3,261.7 622,264.1 622.9,263.2 623.6,264.3 624.5,262.4 625.2,263.5 626.2,261.5 626.7,265.9 627.7,263.5 628.5,263.3 629.1,265.9 630.1,261.8 630.8,264 631.6,265.5 632.5,263.3 633.1,266.7 633.9,266.7 634.8,264.2 635.5,266 636.4,265 637.3,263.7 638,264.8 639,262 639.6,264.2 640.5,264 641.3,262.2 642,264.4 642.8,266.9 643.6,265.7 644.5,262.5 645.2,264.3 646,265.5 646.8,264.8 647.7,262.2 648.3,266.9 649.2,264.7 650.1,264.2 650.7,267.5 651.6,265.9 652.4,267.1 653.2,263.2 654,264.1 654.8,263.1 655.6,265.5 656.4,263.1 657.2,266.3 658,265 658.8,263.1 659.6,262.8 660.4,266.5 661.2,265.6 662,264.2 662.8,264 663.6,265.4 664.5,263.2 665.2,265.9 666,264.7" stroke="#eaa862" stroke-width="0.7" fill="none"/><polyline points="475.4,275.9 476,272.6 476.5,269.4 474.6,265.9 478.3,265 481.2,264.5 479.1,261.5 478.1,258.9 480.1,258.5 483.9,260.7 484.5,259.8 483.5,257.1 482.8,254.8 483.4,253.8 488.2,256.8 484.8,252.2 487.6,252.8 488,251.5 490.3,252.3 488.3,248.3 490.8,249.8 492.9,251.1 492.1,248.2 494.1,249.8 494.2,248.1 494,245.6 496.2,248.8 496.2,245.3 497.3,247.5 497.9,245.3 499,249.9 499.5,245.4 500.2,245.3 501.2,246.2 501.9,245.3 502.9,247.2 503.6,246.5 504.5,245.6 505.7,244.3 506.5,244.3 507.1,245.2 507.1,249.8 508.4,246.8 509.3,246.8 509.8,248.1 511,246.6 511.4,248.5 511.7,250.8 513.2,248.2 514.3,247.3 514.8,248.5 515.6,248.6 516.8,247.5 517.7,247.1 517.7,250.5 518.8,249.4 520.1,248.2 519.9,251.5 520.4,252.7 521.9,250.9 523.7,247.9 523.5,251.2 524.1,252.1 524.5,253.4 526.8,249.6 526,254.3 527.5,252.7 528.6,252.2 530.2,249.9 530.7,251.2 531.3,252.1 530.8,256.3 532.7,253.2 533.2,254.4 533.8,255.3 534.4,256.3 536.1,252.7 536.9,252.6 537,256.3 538.4,253.2 538.3,258.3 539.8,254.9 540.2,257.3 541.5,254.1 542.2,254.7 542.4,258.8 543.9,254.2 544.5,255.9 544.9,259.2 546.3,254.8 546.7,257.5 547.9,254.6 548.7,255 549.4,255.3 549.7,259.8 551.1,254.6 551.6,257.3 552.7,255.3 553.5,255.6 554.4,254.7 555,256 556.1,254.8 556.8,255.5 557.4,257 557.8,259.2 559.1,256.4 559.9,256.5 560.1,260.6 561,260.4 561.9,259.5 562.9,257.9 563.7,257.3 564.3,260.9 565.2,259.8 566.2,256.5 567.1,256.1 567.9,256.2 568.6,257.9 569.1,260.3 570.2,258.2 570.4,262.5 571.7,259 572,262.8 572.9,262 574.2,258.4 574.8,260.8 575.8,258 576.3,261.5 577.4,257.6 577.9,261.8 578.7,262.5 579.5,261.6 580.6,257.7 581.4,258.7 582.3,257.8 582.6,262.8 584,257.6 584.5,260.4 585.3,260 586.2,259 586.7,262.4 587.4,264 588.6,258.6 589.3,260.4 590,261.9 590.7,264.5 591.8,258.5 592.4,262.6 593.3,260.9 594,262.5 594.7,263.5 595.4,264.7 596.4,261.7 597.2,262.7 597.9,262.9 598.6,264.3 599.9,258.7 600.2,265.1 601.4,259.1 601.8,264.8 602.7,264 603.8,260 604.3,264.9 605.3,261.2 606.2,259.9 607,260.3 607.8,259.5 608.4,262.6 609.4,260.3 610.1,262.1 610.9,262.1 611.8,260.6 612.6,260.6 613.2,263.4 614.2,260 614.8,263.5 615.5,264.7 616.4,264.3 617.3,262.4 618.2,260.2 619,260.8 619.8,261.3 620.5,262.1 621.4,260.7 622.2,261.6 622.9,262.9 623.6,263.9 624.2,266.6 625.3,262.3 626.2,261.3 626.8,264 627.6,265 628.4,263.7 629.2,264.1 629.9,266.7 630.9,263.3 631.5,266.3 632.5,262.5 633.1,265.9 634.1,263.2 634.8,264.7 635.5,265.5 636.4,264.1 637.4,261.4 637.9,266.6 639,261.5 639.6,265.1 640.5,263.5 641.2,264.3 642,265.4 642.9,263.2 643.7,262.5 644.5,263.1 645.2,265.2 646.1,261.8 646.8,265 647.7,262.7 648.6,262.3 649.4,262.7 649.9,267.9 650.8,266.4 651.7,262.4 652.4,265.8 653.2,268.3 654,266.8 654.8,266.4 655.6,264.8 656.4,266.9 657.2,262.3 658,262.4 658.8,265.9 659.6,265.2 660.4,263.7 661.2,264.5 662,267.4 662.8,265.1 663.6,266.6 664.5,262.6 665.3,263.5 666,267.3" stroke="#70c070" stroke-width="0.7" fill="none"/><polygon points="474.5,275.9 475.5,271.8 476.5,267.8 477.5,264.9 478.5,262.7 479.5,260.8 480.5,259.2 481.5,258 482.5,257 483.5,256.1 484.5,255.1 485.5,254.1 486.5,253 487.5,251.8 488.5,250.6 489.5,249.6 490.5,248.8 491.5,248 492.5,247.4 493.5,246.9 494.5,246.3 495.5,245.9 496.5,245.6 497.5,245.5 498.5,245.5 499.5,245.4 500.5,245.2 501.5,245 502.5,244.8 503.5,244.8 504.5,244.9 505.5,245.1 506.5,245.4 507.5,245.5 508.5,245.7 509.5,245.9 510.5,246.1 511.5,246.3 512.5,246.5 513.5,246.8 514.5,247 515.5,247.3 516.5,247.6 517.5,247.8 518.5,248.1 519.5,248.4 520.5,248.7 521.5,249 522.5,249.3 523.5,249.6 524.5,250 525.5,250.3 526.5,250.7 527.5,251 528.5,251.4 529.5,251.7 530.5,252.1 531.5,252.4 532.5,252.7 533.5,253 534.5,253.3 535.5,253.5 536.5,253.8 537.5,254 538.5,254.2 539.5,254.3 540.5,254.5 541.5,254.7 542.5,254.8 543.5,255 544.5,255.1 545.5,255.3 546.5,255.4 547.5,255.5 548.5,255.6 549.5,255.8 550.5,255.9 551.5,256 552.5,256.1 553.5,256.2 554.5,256.4 555.5,256.5 556.5,256.6 557.5,256.8 558.5,257 559.5,257.1 560.5,257.3 561.5,257.4 562.5,257.5 563.5,257.6 564.5,257.7 565.5,257.7 566.5,257.8 567.5,257.9 568.5,258 569.5,258.1 570.5,258.2 571.5,258.4 572.5,258.5 573.5,258.7 574.5,258.8 575.5,258.9 576.5,259 577.5,259.1 578.5,259.1 579.5,259.2 580.5,259.3 581.5,259.4 582.5,259.4 583.5,259.5 584.5,259.6 585.5,259.7 586.5,259.8 587.5,259.9 588.5,260 589.5,260 590.5,260.1 591.5,260.2 592.5,260.2 593.5,260.3 594.5,260.3 595.5,260.4 596.5,260.5 597.5,260.6 598.5,260.6 599.5,260.7 600.5,260.8 601.5,260.9 602.5,260.9 603.5,261 604.5,261.1 605.5,261.1 606.5,261.2 607.5,261.3 608.5,261.3 609.5,261.4 610.5,261.5 611.5,261.5 612.5,261.6 613.5,261.7 614.5,261.7 615.5,261.8 616.5,261.9 617.5,261.9 618.5,262 619.5,262.1 620.5,262.1 621.5,262.2 622.5,262.3 623.5,262.3 624.5,262.4 625.5,262.5 626.5,262.6 627.5,262.6 628.5,262.7 629.5,262.7 630.5,262.8 631.5,262.8 632.5,262.9 633.5,262.9 634.5,263 635.5,263 636.5,263.1 637.5,263.2 638.5,263.3 639.5,263.3 640.5,263.4 641.5,263.4 642.5,263.4 643.5,263.5 644.5,263.5 645.5,263.5 646.5,263.5 647.5,263.6 648.5,263.6 649.5,263.7 650.5,263.7 651.5,263.8 652.5,263.8 653.5,263.8 654.5,263.8 655.5,263.8 656.5,263.8 657.5,263.8 658.5,263.8 659.5,263.8 660.5,263.8 661.5,263.8 662.5,263.8 663.5,263.9 664.5,263.9 665.5,263.9 666.5,263.9 666.5,266.4 665.5,266.4 664.5,266.4 663.5,266.4 662.5,266.3 661.5,266.3 660.5,266.3 659.5,266.3 658.5,266.3 657.5,266.3 656.5,266.3 655.5,266.3 654.5,266.3 653.5,266.3 652.5,266.3 651.5,266.3 650.5,266.2 649.5,266.2 648.5,266.1 647.5,266.1 646.5,266 645.5,266 644.5,266 643.5,266 642.5,265.9 641.5,265.9 640.5,265.9 639.5,265.8 638.5,265.8 637.5,265.7 636.5,265.6 635.5,265.5 634.5,265.5 633.5,265.4 632.5,265.4 631.5,265.3 630.5,265.3 629.5,265.2 628.5,265.2 627.5,265.1 626.5,265.1 625.5,265 624.5,264.9 623.5,264.8 622.5,264.8 621.5,264.7 620.5,264.6 619.5,264.6 618.5,264.5 617.5,264.4 616.5,264.4 615.5,264.3 614.5,264.2 613.5,264.2 612.5,264.1 611.5,264 610.5,264 609.5,263.9 608.5,263.8 607.5,263.8 606.5,263.7 605.5,263.6 604.5,263.6 603.5,263.5 602.5,263.4 601.5,263.4 600.5,263.3 599.5,263.2 598.5,263.1 597.5,263.1 596.5,263 595.5,262.9 594.5,262.8 593.5,262.8 592.5,262.7 591.5,262.7 590.5,262.6 589.5,262.5 588.5,262.5 587.5,262.4 586.5,262.3 585.5,262.2 584.5,262.1 583.5,262 582.5,261.9 581.5,261.9 580.5,261.8 579.5,261.7 578.5,261.6 577.5,261.6 576.5,261.5 575.5,261.4 574.5,261.3 573.5,261.2 572.5,261 571.5,260.9 570.5,260.7 569.5,260.6 568.5,260.5 567.5,260.4 566.5,260.3 565.5,260.2 564.5,260.2 563.5,260.1 562.5,260 561.5,259.9 560.5,259.8 559.5,259.6 558.5,259.5 557.5,259.3 556.5,259.1 555.5,259 554.5,258.9 553.5,258.7 552.5,258.6 551.5,258.5 550.5,258.4 549.5,258.3 548.5,258.1 547.5,258 546.5,257.9 545.5,257.8 544.5,257.6 543.5,257.5 542.5,257.3 541.5,257.2 540.5,257 539.5,256.8 538.5,256.7 537.5,256.5 536.5,256.3 535.5,256 534.5,255.8 533.5,255.5 532.5,255.2 531.5,254.9 530.5,254.6 529.5,254.2 528.5,253.9 527.5,253.5 526.5,253.2 525.5,252.8 524.5,252.5 523.5,252.1 522.5,251.8 521.5,251.5 520.5,251.2 519.5,250.9 518.5,250.6 517.5,250.3 516.5,250.1 515.5,249.8 514.5,249.5 513.5,249.3 512.5,249 511.5,248.8 510.5,248.6 509.5,248.4 508.5,248.2 507.5,248 506.5,247.9 505.5,247.6 504.5,247.4 503.5,247.3 502.5,247.3 501.5,247.5 500.5,247.7 499.5,247.9 498.5,248 497.5,248 496.5,248.1 495.5,248.4 494.5,248.8 493.5,249.4 492.5,249.9 491.5,250.5 490.5,251.3 489.5,252.1 488.5,253.1 487.5,254.3 486.5,255.5 485.5,256.6 484.5,257.6 483.5,258.6 482.5,259.5 481.5,260.5 480.5,261.7 479.5,263.3 478.5,265.2 477.5,267.4 476.5,270.3 475.5,274.3 474.5,278.4" fill="#1e961e"/><polyline points="474.5,277.2 475.5,273 476.5,269.1 477.5,266.2 478.5,263.9 479.5,262 480.5,260.5 481.5,259.2 482.5,258.3 483.5,257.3 484.5,256.4 485.5,255.3 486.5,254.2 487.5,253 488.5,251.8 489.5,250.8 490.5,250 491.5,249.3 492.5,248.7 493.5,248.1 494.5,247.6 495.5,247.1 496.5,246.9 497.5,246.8 498.5,246.7 499.5,246.6 500.5,246.5 501.5,246.2 502.5,246.1 503.5,246 504.5,246.2 505.5,246.4 506.5,246.6 507.5,246.8 508.5,246.9 509.5,247.1 510.5,247.3 511.5,247.5 512.5,247.8 513.5,248 514.5,248.3 515.5,248.5 516.5,248.8 517.5,249.1 518.5,249.3 519.5,249.6 520.5,249.9 521.5,250.2 522.5,250.5 523.5,250.9 524.5,251.2 525.5,251.6 526.5,251.9 527.5,252.3 528.5,252.6 529.5,253 530.5,253.3 531.5,253.6 532.5,254 533.5,254.3 534.5,254.5 535.5,254.8 536.5,255 537.5,255.2 538.5,255.4 539.5,255.6 540.5,255.8 541.5,255.9 542.5,256.1 543.5,256.2 544.5,256.4 545.5,256.5 546.5,256.6 547.5,256.8 548.5,256.9 549.5,257 550.5,257.1 551.5,257.2 552.5,257.4 553.5,257.5 554.5,257.6 555.5,257.7 556.5,257.9 557.5,258.1 558.5,258.2 559.5,258.4 560.5,258.5 561.5,258.7 562.5,258.8 563.5,258.8 564.5,258.9 565.5,259 566.5,259 567.5,259.1 568.5,259.2 569.5,259.3 570.5,259.5 571.5,259.6 572.5,259.8 573.5,259.9 574.5,260 575.5,260.1 576.5,260.2 577.5,260.3 578.5,260.4 579.5,260.4 580.5,260.5 581.5,260.6 582.5,260.7 583.5,260.8 584.5,260.9 585.5,261 586.5,261.1 587.5,261.2 588.5,261.2 589.5,261.3 590.5,261.4 591.5,261.4 592.5,261.5 593.5,261.5 594.5,261.6 595.5,261.6 596.5,261.7 597.5,261.8 598.5,261.9 599.5,262 600.5,262 601.5,262.1 602.5,262.2 603.5,262.2 604.5,262.3 605.5,262.4 606.5,262.4 607.5,262.5 608.5,262.6 609.5,262.6 610.5,262.7 611.5,262.8 612.5,262.9 613.5,262.9 614.5,263 615.5,263.1 616.5,263.1 617.5,263.2 618.5,263.3 619.5,263.3 620.5,263.4 621.5,263.5 622.5,263.5 623.5,263.6 624.5,263.7 625.5,263.7 626.5,263.8 627.5,263.9 628.5,263.9 629.5,264 630.5,264 631.5,264.1 632.5,264.1 633.5,264.2 634.5,264.2 635.5,264.3 636.5,264.4 637.5,264.4 638.5,264.5 639.5,264.6 640.5,264.6 641.5,264.6 642.5,264.7 643.5,264.7 644.5,264.7 645.5,264.8 646.5,264.8 647.5,264.8 648.5,264.9 649.5,264.9 650.5,265 651.5,265 652.5,265.1 653.5,265.1 654.5,265.1 655.5,265.1 656.5,265.1 657.5,265.1 658.5,265.1 659.5,265.1 660.5,265.1 661.5,265.1 662.5,265.1 663.5,265.1 664.5,265.1 665.5,265.1 666.5,265.2" stroke="#1e961e" stroke-width="2.2" fill="none" stroke-linejoin="round"/><polyline points="473.3,275.4 476.2,273.1 475.7,270 478.2,268.2 476.4,265.4 478.8,264.5 480,263.4 480.3,262 481.8,261.5 481.8,260.2 481.3,258.4 482.1,257.7 483.5,257.9 484.2,257.2 483.8,255.4 486,256.2 487,255.7 487.3,254.4 486.3,252.2 488.9,252.9 488.5,251.2 488.6,249.7 489.2,248.9 491.3,250.2 492.4,250.4 492.9,249.7 493,248.4 494.4,249.2 495.2,249.2 494.9,246.8 495.4,245.7 496.7,248.4 497.2,246.7 498,248.5 498.7,247.6 499.2,245 500.2,247.8 500.8,246.9 501.4,246.2 502.2,246.7 502.9,246.4 503.5,246.1 504.2,246 505.3,244.8 506,244.9 506,248 507,246.8 507.5,247.9 508.3,248 509,247.6 509.7,247.6 510.4,248.1 511.3,247.1 511.5,249.4 512.6,247.9 513.1,248.8 513.6,249.9 514.9,247.6 515.5,248.2 516.2,248.5 517.1,247.7 517.4,249.5 518.3,249 518.6,250.8 519.7,249.4 520.7,248.5 521.2,249.6 521.9,249.6 522.8,249.2 522.9,251.3 524,250.4 524.3,251.9 525.7,250.3 525.5,252.9 526.3,252.8 527.7,251.1 528.4,251.3 528.3,254.1 529.8,251.9 530.6,251.8 531,252.9 531,255.3 531.8,255.3 533.4,252.5 534.1,252.6 534.5,253.8 535.5,252.9 535.9,254.1 536.1,256.5 537.3,254.5 537.6,256.5 538.3,256.5 539.2,255.8 540.2,254 540.8,255 541.3,255.9 542.3,254.4 542.6,256.9 543.6,255 544.1,256.5 544.8,256.5 545.3,258 546,258.4 547.1,255 547.7,256.2 548.3,256.8 549.2,255.7 549.9,255.9 550.4,257.3 551.1,257.4 551.8,257.5 552.4,258.4 553.4,256 553.8,258.6 554.8,256.2 555.3,257.9 556,258.1 556.8,257.5 557.2,259.4 557.9,259.3 559.1,256.5 559.3,260 560.4,257.3 561.1,257 561.6,259.2 562.5,257.2 563,259.7 563.8,258.1 564.5,258.5 565,260.4 565.9,257.7 566.6,258.5 567.2,258.9 568,258.8 568.8,257.4 569.4,258.7 570.1,258.7 570.7,259.5 571.3,260.5 571.9,261.4 572.8,260.3 573.5,260.2 574.4,258.6 575,259.4 575.6,261 576.4,259.2 577.1,258.9 577.8,259.6 578.4,260.5 579.1,261.4 579.8,260.9 580.6,259.4 581.2,261.2 581.8,261.9 582.6,260.5 583.5,259 583.9,261.9 584.8,260 585.5,260.6 586.1,261.4 586.8,261.4 587.5,261.9 588.1,262.5 589,260.1 589.6,261.3 590.3,262.1 591.1,259.7 591.7,262 592.5,260.9 593,263 593.9,261.1 594.5,262.1 595.2,261.6 595.9,261.5 596.7,260.3 597.5,260.3 598.1,260.7 598.8,260.9 599.5,260.6 600.3,260.4 600.8,261.8 601.5,261.9 602.3,260.3 602.9,262 603.7,261.7 604.4,261.8 605,262.5 605.6,264.2 606.4,263.3 607.2,260.8 607.8,262.5 608.6,261 609.2,263 609.9,263.7 610.7,261.5 611.4,262.1 612.1,261.9 612.7,262.7 613.4,263.7 614.3,261.1 614.9,261.4 615.6,261.5 616.2,264.1 617,262.6 617.6,263.3 618.3,264.4 619,263.8 619.6,265 620.4,264.2 621.1,263.7 621.7,264.7 622.4,265.2 623.3,262.2 624,262.1 624.5,265.1 625.4,262.1 626.1,262.5 626.8,263.1 627.4,264.4 628.2,262.4 628.8,265.3 629.5,263.9 630.2,265.1 630.9,265.7 631.6,264.7 632.3,264.9 633,264.3 633.6,265.9 634.5,263.6 635,265.4 635.9,263.1 636.6,264 637.3,263.5 637.9,264.6 638.6,265.2 639.3,265.8 640,265.1 640.7,264.6 641.4,266.3 642.1,265.7 642.8,264.8 643.5,264.9 644.2,266.2 645,263.1 645.6,265 646.3,264.3 647.1,263.9 647.8,264.1 648.3,266.6 649.1,265.1 649.7,266.4 650.5,266.3 651.2,265.6 651.9,266.5 652.6,264.5 653.3,265.6 654,264.5 654.7,265.1 655.4,265.6 656.1,263.8 656.8,264.4 657.5,263.7 658.2,264.5 658.9,266.6 659.6,266.2 660.3,266.5 661,266.7 661.7,263.9 662.4,263.6 663.1,265.5 663.8,263.9 664.5,264.9 665.3,263.4 665.9,265.1" stroke="#007c00" stroke-width="0.8" fill="none"/><polyline points="473.8,275.5 477.1,267.5 477.8,261.7 481.7,259.5 482.4,256 485.7,254.9 488.5,252.8 489.3,249 493.3,250.3 495.4,249.1 496.8,246.7 499.1,247.6 500.9,244.8 503.5,244.6 505.4,247.5 507.9,246.3 509.8,248.6 511.8,249.6 514.7,247.1 516.4,249.5 518.6,250.2 520.6,251.4 523.8,249.2 526.1,249.6 527.9,251.5 529.7,253.6 531.4,255.6 533.7,256.3 536.6,254.1 539,253.5 541.2,253.8 543.1,255.9 545.2,257 547.6,255.3 549.9,255.1 552,255.6 554.2,255.8 556.2,258 558.1,260.3 560.8,257.4 562.9,258.1 564.9,260.4 567.2,259.9 569.5,258.6 571.5,260.7 573.7,261 576.1,258.8 578.3,258.8 580.5,260.1 582.6,260.6 584.9,259.9 586.9,262.7 589.1,263.3 591.5,259.3 593.7,259.5 595.8,261.4 597.9,263.2 600.3,261.1 602.4,263.1 604.6,263.4 606.8,263.4 609.2,260.9 611.3,261.5 613.3,265 615.6,264.3 617.8,264.2 620.1,261.8 622.2,263.6 624.5,262.8 626.5,265.4 628.9,262.1 631,265.2 633.3,262.9 635.5,263.8 637.7,263.5 639.9,263.7 642,266.4 644.2,265.4 646.5,263.5 648.5,266.7 650.8,264.6 653,264.2 655.2,265.2 657.4,264.7 659.6,266.6 661.8,266.6 664,265.5 666.3,263" stroke="#d9a35a" stroke-width="0.5" stroke-opacity="0.8" fill="none"/><polyline points="475.7,275.9 477.8,268.3 478.1,262.9 480.2,259.5 482.8,258 485.4,256.5 487.3,254.2 489.8,252.4 490.1,248.7 492.8,248.5 494.6,247 496.9,247.1 498.7,245.3 500.7,245.9 502.7,244.7 504.5,247.7 506.8,246.9 508.8,247 510.5,248.8 512.9,247.5 514.9,248.2 516.8,249 519.2,248.1 521.2,248.6 523,250.1 524.7,251.6 526.7,252.3 529.1,251.8 531,252.9 532.6,254.9 535,254.1 536.9,255 538.9,254.9 540.7,256.9 542.9,255.6 544.8,256.7 546.9,256 548.7,257.8 550.8,257.5 553,256.1 554.7,258.4 556.6,259 558.7,259 561,257.6 562.8,258.8 564.7,260.4 566.7,260.1 568.7,260.2 571,258.1 573,258.7 574.8,260.6 576.9,259.6 578.9,259.4 580.8,260.9 582.7,262.1 584.9,260.3 586.7,262.3 588.8,262 590.8,261.9 592.9,260.3 594.8,262.3 596.8,261.7 598.9,261.5 600.8,262.3 602.7,263.7 604.8,262.4 606.8,262.5 608.9,261.6 610.9,261.4 612.8,263.2 614.9,262.6 616.9,262.8 618.8,263.6 620.8,263.6 622.9,262 624.7,264.9 626.8,264.5 628.9,262.4 630.8,263.6 632.9,263.6 634.8,265 636.8,265.1 638.8,264.9 640.8,264.4 642.8,265.9 644.8,265.1 646.9,263.8 648.8,265.5 650.8,266 652.8,265.2 654.8,264.7 656.8,265.4 658.8,265 660.8,264.5 662.8,265.7 664.8,265.9" stroke="#5cb85c" stroke-width="0.5" stroke-opacity="0.8" fill="none"/><path d="M470 173.54V304.3" stroke="#5a5a5a" stroke-width="0.9"/><path d="M666.5 166.9V304.3" stroke="#5a5a5a" stroke-width="0.9"/><path d="M470 304.3H666.5" stroke="#5a5a5a" stroke-width="0.9"/><path d="M470 294.96h1M470 285.62h1M470 276.28h1M470 266.94h1M470 257.6h1M470 248.26h1M470 238.92h1M470 229.58h1M470 220.24h1M470 210.9h1M470 201.56h1M470 192.22h1M470 182.88h1M470 173.54h1M476.55 304.3v1M483.1 304.3v1M489.65 304.3v1M496.2 304.3v1M502.75 304.3v1M509.3 304.3v1M515.85 304.3v1M522.4 304.3v1M528.95 304.3v1M535.5 304.3v1M542.05 304.3v1M548.6 304.3v1M555.15 304.3v1M561.7 304.3v1M568.25 304.3v1M574.8 304.3v1M581.35 304.3v1M587.9 304.3v1M594.45 304.3v1M601 304.3v1M607.55 304.3v1M614.1 304.3v1M620.65 304.3v1M627.2 304.3v1M633.75 304.3v1M640.3 304.3v1M646.85 304.3v1M653.4 304.3v1M659.95 304.3v1M667.4 292.3h1M667.4 279.02h1M667.4 265.74h1M667.4 252.47h1M667.4 239.19h1M667.4 225.91h1M667.4 212.63h1M667.4 199.36h1M667.4 186.08h1M667.4 172.8h1" stroke="#555" stroke-width="0.8" fill="none"/><rect x="539.95" y="301" width="9.17" height="4.6" fill="#fff"/><text transform="translate(468.5 296.22) scale(0.912 1)" font-size="3.49" text-anchor="end" fill="#4a4452" stroke="#4a4452" stroke-width="0.15">0.2</text><text transform="translate(468.5 286.88) scale(0.912 1)" font-size="3.49" text-anchor="end" fill="#4a4452" stroke="#4a4452" stroke-width="0.15">0.4</text><text transform="translate(468.5 277.54) scale(0.912 1)" font-size="3.49" text-anchor="end" fill="#4a4452" stroke="#4a4452" stroke-width="0.15">0.6</text><text transform="translate(468.5 268.2) scale(0.912 1)" font-size="3.49" text-anchor="end" fill="#4a4452" stroke="#4a4452" stroke-width="0.15">0.8</text><text transform="translate(468.5 258.86) scale(0.912 1)" font-size="3.49" text-anchor="end" fill="#4a4452" stroke="#4a4452" stroke-width="0.15">1</text><text transform="translate(468.5 249.52) scale(0.912 1)" font-size="3.49" text-anchor="end" fill="#4a4452" stroke="#4a4452" stroke-width="0.15">1.2</text><text transform="translate(468.5 240.18) scale(0.912 1)" font-size="3.49" text-anchor="end" fill="#4a4452" stroke="#4a4452" stroke-width="0.15">1.4</text><text transform="translate(468.5 230.84) scale(0.912 1)" font-size="3.49" text-anchor="end" fill="#4a4452" stroke="#4a4452" stroke-width="0.15">1.6</text><text transform="translate(468.5 221.5) scale(0.912 1)" font-size="3.49" text-anchor="end" fill="#4a4452" stroke="#4a4452" stroke-width="0.15">1.8</text><text transform="translate(468.5 212.16) scale(0.912 1)" font-size="3.49" text-anchor="end" fill="#4a4452" stroke="#4a4452" stroke-width="0.15">2</text><text transform="translate(468.5 202.82) scale(0.912 1)" font-size="3.49" text-anchor="end" fill="#4a4452" stroke="#4a4452" stroke-width="0.15">2.2</text><text transform="translate(468.5 193.48) scale(0.912 1)" font-size="3.49" text-anchor="end" fill="#4a4452" stroke="#4a4452" stroke-width="0.15">2.4</text><text transform="translate(468.5 184.14) scale(0.912 1)" font-size="3.49" text-anchor="end" fill="#4a4452" stroke="#4a4452" stroke-width="0.15">2.6</text><text transform="translate(468.5 174.8) scale(0.912 1)" font-size="3.49" text-anchor="end" fill="#4a4452" stroke="#4a4452" stroke-width="0.15">2.8</text><text transform="translate(476.55 309.48) scale(0.817 1)" font-size="3.27" text-anchor="middle" fill="#4a4452" stroke="#4a4452" stroke-width="0.15">1</text><text transform="translate(483.1 309.48) scale(0.817 1)" font-size="3.27" text-anchor="middle" fill="#4a4452" stroke="#4a4452" stroke-width="0.15">2</text><text transform="translate(489.65 309.48) scale(0.817 1)" font-size="3.27" text-anchor="middle" fill="#4a4452" stroke="#4a4452" stroke-width="0.15">3</text><text transform="translate(496.2 309.48) scale(0.817 1)" font-size="3.27" text-anchor="middle" fill="#4a4452" stroke="#4a4452" stroke-width="0.15">4</text><text transform="translate(502.75 309.48) scale(0.817 1)" font-size="3.27" text-anchor="middle" fill="#4a4452" stroke="#4a4452" stroke-width="0.15">5</text><text transform="translate(509.3 309.48) scale(0.817 1)" font-size="3.27" text-anchor="middle" fill="#4a4452" stroke="#4a4452" stroke-width="0.15">6</text><text transform="translate(515.85 309.48) scale(0.817 1)" font-size="3.27" text-anchor="middle" fill="#4a4452" stroke="#4a4452" stroke-width="0.15">7</text><text transform="translate(522.4 309.48) scale(0.817 1)" font-size="3.27" text-anchor="middle" fill="#4a4452" stroke="#4a4452" stroke-width="0.15">8</text><text transform="translate(528.95 309.48) scale(0.817 1)" font-size="3.27" text-anchor="middle" fill="#4a4452" stroke="#4a4452" stroke-width="0.15">9</text><text transform="translate(535.5 309.48) scale(0.817 1)" font-size="3.27" text-anchor="middle" fill="#4a4452" stroke="#4a4452" stroke-width="0.15">10</text><text transform="translate(542.05 309.48) scale(0.817 1)" font-size="3.27" text-anchor="middle" fill="#4a4452" stroke="#4a4452" stroke-width="0.15">11</text><text transform="translate(548.6 309.48) scale(0.817 1)" font-size="3.27" text-anchor="middle" fill="#4a4452" stroke="#4a4452" stroke-width="0.15">12</text><text transform="translate(555.15 309.48) scale(0.817 1)" font-size="3.27" text-anchor="middle" fill="#4a4452" stroke="#4a4452" stroke-width="0.15">13</text><text transform="translate(561.7 309.48) scale(0.817 1)" font-size="3.27" text-anchor="middle" fill="#4a4452" stroke="#4a4452" stroke-width="0.15">14</text><text transform="translate(568.25 309.48) scale(0.817 1)" font-size="3.27" text-anchor="middle" fill="#4a4452" stroke="#4a4452" stroke-width="0.15">15</text><text transform="translate(574.8 309.48) scale(0.817 1)" font-size="3.27" text-anchor="middle" fill="#4a4452" stroke="#4a4452" stroke-width="0.15">16</text><text transform="translate(581.35 309.48) scale(0.817 1)" font-size="3.27" text-anchor="middle" fill="#4a4452" stroke="#4a4452" stroke-width="0.15">17</text><text transform="translate(587.9 309.48) scale(0.817 1)" font-size="3.27" text-anchor="middle" fill="#4a4452" stroke="#4a4452" stroke-width="0.15">18</text><text transform="translate(594.45 309.48) scale(0.817 1)" font-size="3.27" text-anchor="middle" fill="#4a4452" stroke="#4a4452" stroke-width="0.15">19</text><text transform="translate(601 309.48) scale(0.817 1)" font-size="3.27" text-anchor="middle" fill="#4a4452" stroke="#4a4452" stroke-width="0.15">20</text><text transform="translate(607.55 309.48) scale(0.817 1)" font-size="3.27" text-anchor="middle" fill="#4a4452" stroke="#4a4452" stroke-width="0.15">21</text><text transform="translate(614.1 309.48) scale(0.817 1)" font-size="3.27" text-anchor="middle" fill="#4a4452" stroke="#4a4452" stroke-width="0.15">22</text><text transform="translate(620.65 309.48) scale(0.817 1)" font-size="3.27" text-anchor="middle" fill="#4a4452" stroke="#4a4452" stroke-width="0.15">23</text><text transform="translate(627.2 309.48) scale(0.817 1)" font-size="3.27" text-anchor="middle" fill="#4a4452" stroke="#4a4452" stroke-width="0.15">24</text><text transform="translate(633.75 309.48) scale(0.817 1)" font-size="3.27" text-anchor="middle" fill="#4a4452" stroke="#4a4452" stroke-width="0.15">25</text><text transform="translate(640.3 309.48) scale(0.817 1)" font-size="3.27" text-anchor="middle" fill="#4a4452" stroke="#4a4452" stroke-width="0.15">26</text><text transform="translate(646.85 309.48) scale(0.817 1)" font-size="3.27" text-anchor="middle" fill="#4a4452" stroke="#4a4452" stroke-width="0.15">27</text><text transform="translate(653.4 309.48) scale(0.817 1)" font-size="3.27" text-anchor="middle" fill="#4a4452" stroke="#4a4452" stroke-width="0.15">28</text><text transform="translate(659.95 309.48) scale(0.817 1)" font-size="3.27" text-anchor="middle" fill="#4a4452" stroke="#4a4452" stroke-width="0.15">29</text><text transform="translate(674.36 293.48) scale(0.865 1)" font-size="3.27" text-anchor="end" fill="#333" stroke="#333" stroke-width="0.15">10</text><text transform="translate(674.36 280.2) scale(0.865 1)" font-size="3.27" text-anchor="end" fill="#333" stroke="#333" stroke-width="0.15">20</text><text transform="translate(674.36 266.92) scale(0.865 1)" font-size="3.27" text-anchor="end" fill="#333" stroke="#333" stroke-width="0.15">30</text><text transform="translate(674.36 253.64) scale(0.865 1)" font-size="3.27" text-anchor="end" fill="#333" stroke="#333" stroke-width="0.15">40</text><text transform="translate(674.36 240.37) scale(0.865 1)" font-size="3.27" text-anchor="end" fill="#333" stroke="#333" stroke-width="0.15">50</text><text transform="translate(674.36 227.09) scale(0.865 1)" font-size="3.27" text-anchor="end" fill="#333" stroke="#333" stroke-width="0.15">60</text><text transform="translate(674.36 213.81) scale(0.865 1)" font-size="3.27" text-anchor="end" fill="#333" stroke="#333" stroke-width="0.15">70</text><text transform="translate(674.36 200.53) scale(0.865 1)" font-size="3.27" text-anchor="end" fill="#333" stroke="#333" stroke-width="0.15">80</text><text transform="translate(674.36 187.25) scale(0.865 1)" font-size="3.27" text-anchor="end" fill="#333" stroke="#333" stroke-width="0.15">90</text><text transform="translate(674.36 173.98) scale(0.865 1)" font-size="3.27" text-anchor="end" fill="#333" stroke="#333" stroke-width="0.15">100</text><text transform="translate(462.17 238.92) rotate(-90) scale(1.007 1)" font-size="3.36" text-anchor="middle" fill="#555" stroke="#555" stroke-width="0.15">Torque(Nm)</text><text transform="translate(677.94 236.62) rotate(90) scale(0.981 1)" font-size="4.34" text-anchor="middle" fill="#333" stroke="#333" stroke-width="0.1">Temperature     (°C)</text><text transform="translate(567.6 315.63) scale(0.830 1)" font-size="3.42" text-anchor="middle" fill="#333" stroke="#333" stroke-width="0.15">Time (min)</text><path d="M459.52 316.8H666.5V304.3" stroke="#dcf3dc" stroke-width="0.9" fill="none"/><text transform="translate(459.85 321.64) scale(0.941 1)" font-size="3.74" fill="#1a1a1a" stroke="#1a1a1a" stroke-width="0.15">amara</text><text transform="translate(525.67 321.64) scale(0.941 1)" font-size="3.74" fill="#1a1a1a" stroke="#1a1a1a" stroke-width="0.15">Mixing</text><text transform="translate(559.74 321.64) scale(0.941 1)" font-size="3.74" fill="#1a1a1a" stroke="#1a1a1a" stroke-width="0.15">1/2</text><text transform="translate(582.66 321.64) scale(0.941 1)" font-size="3.74" fill="#1a1a1a" stroke="#1a1a1a" stroke-width="0.15">Device N°</text><text transform="translate(610.17 321.64) scale(0.941 1)" font-size="3.74" fill="#1a1a1a" stroke="#1a1a1a" stroke-width="0.15">499</text><text transform="translate(625.56 321.64) scale(0.941 1)" font-size="3.74" fill="#1a1a1a" stroke="#1a1a1a" stroke-width="0.15">Version4.0.8r4.1i</text><text transform="translate(669.12 321.64) scale(0.941 1)" font-size="3.74" fill="#1a1a1a" stroke="#1a1a1a" stroke-width="0.15">TNC</text><text x="485" y="192.1" font-family='"Liberation Serif", serif' font-weight="bold" font-size="12" fill="#000">D6</text></g><g><path d="M12.3 487.4H216.3M12.3 478.2H216.3M12.3 469H216.3M12.3 459.8H216.3M12.3 450.6H216.3M12.3 441.4H216.3M12.3 432.2H216.3M12.3 423H216.3M12.3 413.8H216.3M12.3 404.6H216.3M12.3 395.4H216.3M12.3 386.2H216.3M12.3 377H216.3M12.3 367.8H216.3M12.3 358.6H216.3" stroke="#e4e4e4" stroke-width="0.9" fill="none"/><path d="M19.1 358.6V496.6M25.9 358.6V496.6M32.7 358.6V496.6M39.5 358.6V496.6M46.3 358.6V496.6M53.1 358.6V496.6M59.9 358.6V496.6M66.7 358.6V496.6M73.5 358.6V496.6M80.3 358.6V496.6M87.1 358.6V496.6M93.9 358.6V496.6M100.7 358.6V496.6M107.5 358.6V496.6M114.3 358.6V496.6M121.1 358.6V496.6M127.9 358.6V496.6M134.7 358.6V496.6M141.5 358.6V496.6M148.3 358.6V496.6M155.1 358.6V496.6M161.9 358.6V496.6M168.7 358.6V496.6M175.5 358.6V496.6M182.3 358.6V496.6M189.1 358.6V496.6M195.9 358.6V496.6M202.7 358.6V496.6M209.5 358.6V496.6" stroke="#dfdfdf" stroke-width="0.9" fill="none"/><path d="M12.3 395.4H216.3" stroke="#c990d4" stroke-width="1"/><path d="M12.3 390.8H216.3M12.3 400H216.3" stroke="#c58ad2" stroke-width="0.9" stroke-dasharray="0.9 1.5"/><polyline points="12.3,451.61 15.7,451.35 19.1,451.1 22.5,450.87 25.9,450.66 29.3,450.46 32.7,450.28 36.1,450.11 39.5,449.95 42.9,449.8 46.3,449.66 49.7,449.53 53.1,449.41 56.5,449.3 59.9,449.19 63.3,449.1 66.7,449.01 70.1,448.92 73.5,448.84 76.9,448.77 80.3,448.7 83.7,448.64 87.1,448.58 90.5,448.53 93.9,448.48 97.3,448.43 100.7,448.38 104.1,448.34 107.5,448.3 110.9,448.27 114.3,448.24 117.7,448.21 121.1,448.18 124.5,448.15 127.9,448.12 131.3,448.1 134.7,448.08 138.1,448.06 141.5,448.04 144.9,448.02 148.3,448.01 151.7,447.99 155.1,447.98 158.5,447.96 161.9,447.95 165.3,447.94 168.7,447.93 172.1,447.92 175.5,447.91 178.9,447.9 182.3,447.89 185.7,447.89 189.1,447.88 192.5,447.87 195.9,447.87 199.3,447.86 202.7,447.86 206.1,447.85 209.5,447.85 212.9,447.84 216.3,447.84" stroke="#f27af2" stroke-width="1" fill="none"/><path d="M12.3 455.84H215.4V496.6" stroke="#f47c7c" stroke-width="1" fill="none"/><polyline points="12.3,496.6 12.8,494.32 13.3,486.25 13.8,477.51 14.3,469.36 14.8,463.88 15.3,459.62 15.8,456.16 16.3,453.41 16.8,451.37 17.3,449.11 17.8,446.46 18.3,443.63 18.8,440.78 19.3,437.79 19.8,434.79" stroke="#eea860" stroke-width="1.1" fill="none" transform="translate(0.9,0.9)"/><polyline points="12.3,496.6 12.8,494.32 13.3,486.25 13.8,477.51 14.3,469.36 14.8,463.88 15.3,459.62 15.8,456.16 16.3,453.41 16.8,451.37 17.3,449.11 17.8,446.46 18.3,443.63 18.8,440.78 19.3,437.79 19.8,434.79" stroke="#8cc88c" stroke-width="0.8" fill="none" transform="translate(-0.9,0)"/><polyline points="12.3,496.6 12.8,494.32 13.3,486.25 13.8,477.51 14.3,469.36 14.8,463.88 15.3,459.62 15.8,456.16 16.3,453.41 16.8,451.37 17.3,449.11 17.8,446.46 18.3,443.63 18.8,440.78 19.3,437.79 19.8,434.79" stroke="#3a5fcd" stroke-width="0.9" fill="none"/><polyline points="18,441.6 20.8,437.2 21.1,432.6 22.1,428.7 21.5,424.9 25.1,422.7 25.8,420.4 26.4,418.5 23.6,415.1 26.7,414.4 27.4,412.7 27.9,410.9 28.6,409.3 29.8,408 28.6,405.4 30.5,404.5 29.5,402.1 33.7,403.2 31,399.4 31.9,398.4 36.3,401.2 37,400.9 37.4,399.9 37.6,398.6 36.9,395.5 39.7,399 39.5,396.5 40.7,397.2 40.1,393.2 41.1,393.4 43,396.4 44.3,397.5 43.7,393.3 44.5,392.8 45.7,393 46.6,394.7 47.4,392.4 48.2,391.8 49,394.5 49.8,395 50.6,394.4 51.1,396.8 52.5,393.2 53.1,394.6 53.7,395.6 54.4,397 55,397.9 56.1,395.9 56.8,396.9 57.7,396.3 59.1,393.4 59,397.6 60.9,394 60.8,396.9 62.2,396 61.6,399.1 62,400 64.9,396.9 63.8,400.6 64.7,401.1 67.4,398 67.5,399.7 67.5,401.7 67.8,403 70.4,400 69.4,403.9 70.9,403 72.6,401.7 74.3,400.4 74.6,402 76.1,401.3 76.6,402.3 76.5,404.3 76.2,406.6 76.8,407.4 77.9,407.4 80.6,404.5 79.7,408.1 80.4,408.9 81.6,408.3 83.2,407 82.4,410.9 83.6,410.5 85.5,408 85.1,411.4 87.1,408.7 88.4,407.5 88.4,409.9 89.4,409.8 90.3,409.8 90.8,410.7 91,412.8 91.9,412.9 93.9,409.3 93.3,414 95,411.4 94.7,415.3 95.9,414.2 97.8,410.9 97.4,414.9 98.2,415.2 99.4,414.1 100.9,411.8 100.9,414.9 101.1,417.2 102.1,416.7 103,416.6 104.7,413.5 104.4,418.1 105.4,417.5 107.1,414 107.5,416.1 108.1,417 108.7,418 109.2,419.4 111,415.6 111.5,417 112.1,418.1 113.3,416.6 114.3,415.8 115.1,416.1 115.8,416.6 116,419.2 116.4,421.2 118,417.9 118.8,417.9 119.4,419.1 120.4,418.1 121.2,418.6 122.1,418 122.7,419.5 123.4,420.2 123.9,422.2 125.4,418.1 125.4,422.8 126.5,420.9 127.6,419.7 128.7,417.9 129,420.8 130.2,418.9 130.7,420.5 131.8,418.9 131.8,423.6 132.5,424.3 133.4,423.9 134.4,423.1 135.7,420.6 136.6,420.1 137,422.3 137.6,423.5 139.2,419.6 139.4,422.9 140.4,421.8 141.2,421.7 141.5,425.6 142.5,424 143.8,420.4 144.2,423.6 144.8,425.6 145.5,426.1 146.9,421.5 147.3,425.2 148.5,422 148.9,424.8 149.5,427 150.8,423.2 151.8,422 152.5,422.5 153.3,422.6 154.1,422.9 154.9,422.9 155.6,423.6 156.2,425.5 157.4,423.2 158.2,423.2 158.8,424.4 159.9,422.7 159.8,428.5 161.1,425.5 162,424.7 162.7,425.2 163.6,423.7 164.2,427 165.2,423.6 165.9,425.8 166.4,428.9 167.4,427 168.5,423.8 168.8,428.4 169.6,428.2 171,424 171.6,425.8 171.9,429.1 172.9,427.6 174.1,425.6 174.3,429.5 175.6,425.6 176.4,426 176.8,429.3 177.9,427 178.4,430.3 179.3,429.4 180.5,425.3 181.1,427.2 182,426.8 182.9,426.2 183.7,426.2 184.2,428.9 185,428.8 185.8,429.1 186.4,430.2 187.8,426.1 188.4,427.6 189,429.3 189.6,430.7 190.5,430.3 191.2,431.1 192,431.5 193.1,429.2 194,428.1 194.6,429.9 195.6,428 196.1,431.2 196.8,432.4 197.9,429 198.4,432.9 199.7,427.7 200.3,429.1 201.3,427.7 201.9,430 202.5,432.2 203.7,427.6 204.2,430.7 205,431.3 205.8,430.7 206.8,429 207.7,428.5 208.2,431.1 208.9,432.9 209.8,431.4 210.8,429.8 211.4,431.6 212.4,430.1 213.1,431.2 214.1,429.1 214.9,429.2 215.3,432.7 216.4,430.3" stroke="#eaa862" stroke-width="0.7" fill="none"/><polyline points="19.3,441.8 20.9,437.2 21.9,432.7 19.8,428.2 23,425.3 25.1,422.7 23.5,419.6 26.4,418.5 26.9,416.6 24.3,413.3 28.5,413.2 24.7,409.3 26.6,408.3 28,407 27.7,404.9 30.3,404.4 32.2,403.7 31.9,401.8 34.7,402.5 34.5,400.8 36.2,401.1 34.7,397.8 36.7,398.8 35.4,394.8 36.6,394.8 38.8,397.2 39.8,397.3 40.1,395.7 40.3,393.8 42.3,396.9 43.3,397.4 44.1,397 45,396.8 44.9,393.9 45.6,391.9 46.6,397.2 47.4,395.7 48.2,395.1 49,391.4 49.9,391.9 50.3,397.6 51.7,392.9 51.9,396.3 53,395 53.4,397.8 55.1,392 55.5,394.7 56.4,394 56.5,398.3 58,394.6 58.2,397.6 59.5,395.6 60.6,394.9 60.7,397.1 62.9,394.6 62.5,397.4 64.7,395.3 62.8,400.4 65.7,397.5 67.2,396.6 66.1,400.4 66.4,401.8 67.2,402.3 69.1,400.5 69.9,401 69.6,403.4 71.9,401.1 72.9,401.1 71.9,404.9 74.4,402.2 73.8,405 76.8,402 75.3,406.1 77.8,404 76.7,407.5 78.5,406.4 79.4,406.7 80.1,407.3 80.4,408.8 82.2,407 83.9,405.3 83.9,407.4 84.9,407.3 85.9,407.1 85.4,410.7 86.1,411.2 86.8,411.8 88.4,409.9 89.7,408.9 90.7,408.4 90.5,411.6 90.6,414 92.7,410.5 92.5,413.8 93.9,412.1 93.8,415.1 96.2,410.4 96.1,413.6 97.3,412.4 97.1,415.9 97.8,416.6 98.7,416.7 99.7,416.2 101.2,413.9 102.1,413.9 103.3,412.6 103.2,416 103.5,417.9 104.8,416.5 105.5,417.1 106.8,415.3 107,417.7 108.6,414.9 109.9,413.3 109.5,418.1 110.5,417.6 111.8,415.8 111.6,420.2 113.1,417.1 113.8,417.9 114,420.9 115.3,418.6 116.5,417.2 117,418.6 117.3,421.3 119,417.2 120,416.5 120.7,416.7 120.8,420.7 122.2,417.6 122.2,421.8 123.2,421.3 123.8,422.6 125,420.3 126.1,418.8 126.7,419.9 127,423 127.9,422.2 129.1,420.5 129.3,423.7 131.1,418.6 131.4,421.2 132.1,422.2 133.4,419.6 134.5,418.1 135.2,418.8 134.9,424.9 135.7,424.5 137.5,419.9 137.2,425.3 138.1,425.2 138.9,425.3 139.9,424.9 141,422.9 141.8,423.6 142.3,425.7 143.8,420.7 144.1,424.5 145,423.8 145.8,424.2 147,421.2 147.3,425.1 147.9,426.3 149.1,423.6 150.2,421.5 150.9,422.2 151.3,425.1 152.7,421.4 153.5,421.5 153.5,426.9 154.2,427.6 155.1,427.1 156.3,424.9 157.3,423.8 157.3,428.5 158.2,428.3 159.5,425.2 160.4,424.3 161.1,425.4 161.7,427.1 162.8,424.2 163.6,423.9 164.1,427.8 165,426.1 165.9,425.8 166.5,428.7 167.7,423.3 168.4,424.5 168.7,429.4 169.4,429.8 170.2,429.8 171.3,427.8 172.2,427.4 172.8,428.6 173.4,430.5 174.2,430.5 175.3,428.8 176.6,424.4 177,427.5 177.5,430.8 178.8,425.8 179.5,427.5 180.5,425 181,428.4 182.2,425.1 182.4,429.7 183.7,426 184.7,425.2 184.9,429.7 185.8,428.9 186.7,428.5 187.7,427.1 188.4,427.7 188.8,431.2 189.4,432.3 190.3,431.5 191.6,428.4 191.9,432.3 193,430.2 193.7,430.7 194.3,432.3 195.5,429 195.9,433.3 196.7,432.9 198,428.7 198.8,428.1 199.1,433.6 200.4,428.8 201.1,430.1 201.7,431.4 202.6,430.6 203.4,430.6 204.5,428 204.9,432 206.1,428.2 206.6,431.4 207.1,434 208.4,429.2 209.3,428.4 210.1,428.6 210.5,432.8 211.3,432.9 212.3,430.5 212.9,433.3 213.7,433.2 214.9,429.4 215.4,431.9 216.2,431.7" stroke="#70c070" stroke-width="0.7" fill="none"/><polygon points="18.3,442.1 19.3,436.2 20.3,430.5 21.3,425.7 22.3,421.7 23.3,418.4 24.3,415.9 25.3,413.6 26.3,411.5 27.3,409.4 28.3,407.4 29.3,405.5 30.3,403.7 31.3,401.9 32.3,400.5 33.3,399.2 34.3,398.1 35.3,397.3 36.3,396.6 37.3,396 38.3,395.5 39.3,395 40.3,394.6 41.3,394.2 42.3,393.9 43.3,393.5 44.3,393.2 45.3,392.9 46.3,392.7 47.3,392.7 48.3,392.7 49.3,392.7 50.3,392.8 51.3,392.9 52.3,393.1 53.3,393.2 54.3,393.4 55.3,393.5 56.3,393.7 57.3,393.8 58.3,394 59.3,394.3 60.3,394.5 61.3,394.9 62.3,395.4 63.3,395.9 64.3,396.5 65.3,397.1 66.3,397.7 67.3,398.2 68.3,398.7 69.3,399.2 70.3,399.8 71.3,400.3 72.3,400.8 73.3,401.4 74.3,401.9 75.3,402.6 76.3,403.2 77.3,403.8 78.3,404.4 79.3,405 80.3,405.5 81.3,406 82.3,406.5 83.3,406.9 84.3,407.4 85.3,407.8 86.3,408.2 87.3,408.6 88.3,408.9 89.3,409.3 90.3,409.6 91.3,409.9 92.3,410.3 93.3,410.6 94.3,410.9 95.3,411.2 96.3,411.5 97.3,411.8 98.3,412.1 99.3,412.4 100.3,412.7 101.3,413 102.3,413.3 103.3,413.5 104.3,413.8 105.3,414.1 106.3,414.3 107.3,414.6 108.3,414.8 109.3,415.1 110.3,415.3 111.3,415.6 112.3,415.8 113.3,416.1 114.3,416.3 115.3,416.5 116.3,416.8 117.3,417 118.3,417.2 119.3,417.4 120.3,417.6 121.3,417.8 122.3,418 123.3,418.2 124.3,418.3 125.3,418.5 126.3,418.7 127.3,418.9 128.3,419 129.3,419.2 130.3,419.4 131.3,419.6 132.3,419.7 133.3,419.9 134.3,420.1 135.3,420.3 136.3,420.5 137.3,420.7 138.3,420.9 139.3,421.1 140.3,421.2 141.3,421.4 142.3,421.6 143.3,421.7 144.3,421.9 145.3,422 146.3,422.1 147.3,422.2 148.3,422.4 149.3,422.5 150.3,422.6 151.3,422.8 152.3,422.9 153.3,423 154.3,423.2 155.3,423.3 156.3,423.5 157.3,423.6 158.3,423.8 159.3,424 160.3,424.1 161.3,424.2 162.3,424.3 163.3,424.4 164.3,424.5 165.3,424.6 166.3,424.7 167.3,424.7 168.3,424.8 169.3,424.9 170.3,425 171.3,425.2 172.3,425.3 173.3,425.5 174.3,425.6 175.3,425.7 176.3,425.9 177.3,426 178.3,426.1 179.3,426.2 180.3,426.3 181.3,426.4 182.3,426.5 183.3,426.6 184.3,426.8 185.3,426.9 186.3,427 187.3,427.2 188.3,427.3 189.3,427.5 190.3,427.6 191.3,427.7 192.3,427.8 193.3,428 194.3,428.1 195.3,428.2 196.3,428.3 197.3,428.4 198.3,428.5 199.3,428.6 200.3,428.7 201.3,428.8 202.3,428.9 203.3,429 204.3,429.1 205.3,429.1 206.3,429.2 207.3,429.3 208.3,429.4 209.3,429.5 210.3,429.6 211.3,429.7 212.3,429.8 213.3,429.9 214.3,430 215.3,430.1 216.3,430.2 216.3,433.3 215.3,433.2 214.3,433.1 213.3,433 212.3,432.9 211.3,432.8 210.3,432.7 209.3,432.6 208.3,432.5 207.3,432.4 206.3,432.3 205.3,432.2 204.3,432.2 203.3,432.1 202.3,432 201.3,431.9 200.3,431.8 199.3,431.7 198.3,431.6 197.3,431.5 196.3,431.4 195.3,431.3 194.3,431.2 193.3,431.1 192.3,430.9 191.3,430.8 190.3,430.7 189.3,430.6 188.3,430.4 187.3,430.3 186.3,430.1 185.3,430 184.3,429.9 183.3,429.7 182.3,429.6 181.3,429.5 180.3,429.4 179.3,429.3 178.3,429.2 177.3,429.1 176.3,429 175.3,428.8 174.3,428.7 173.3,428.6 172.3,428.4 171.3,428.3 170.3,428.1 169.3,428 168.3,427.9 167.3,427.8 166.3,427.8 165.3,427.7 164.3,427.6 163.3,427.5 162.3,427.4 161.3,427.3 160.3,427.2 159.3,427.1 158.3,426.9 157.3,426.7 156.3,426.6 155.3,426.4 154.3,426.3 153.3,426.1 152.3,426 151.3,425.9 150.3,425.7 149.3,425.6 148.3,425.5 147.3,425.3 146.3,425.2 145.3,425.1 144.3,425 143.3,424.8 142.3,424.7 141.3,424.5 140.3,424.3 139.3,424.2 138.3,424 137.3,423.8 136.3,423.6 135.3,423.4 134.3,423.2 133.3,423 132.3,422.8 131.3,422.7 130.3,422.5 129.3,422.3 128.3,422.1 127.3,422 126.3,421.8 125.3,421.6 124.3,421.4 123.3,421.3 122.3,421.1 121.3,420.9 120.3,420.7 119.3,420.5 118.3,420.3 117.3,420.1 116.3,419.9 115.3,419.6 114.3,419.4 113.3,419.2 112.3,418.9 111.3,418.7 110.3,418.4 109.3,418.2 108.3,417.9 107.3,417.7 106.3,417.4 105.3,417.2 104.3,416.9 103.3,416.6 102.3,416.4 101.3,416.1 100.3,415.8 99.3,415.5 98.3,415.2 97.3,414.9 96.3,414.6 95.3,414.3 94.3,414 93.3,413.7 92.3,413.4 91.3,413 90.3,412.7 89.3,412.4 88.3,412 87.3,411.7 86.3,411.3 85.3,410.9 84.3,410.5 83.3,410 82.3,409.6 81.3,409.1 80.3,408.6 79.3,408.1 78.3,407.5 77.3,406.9 76.3,406.3 75.3,405.7 74.3,405 73.3,404.5 72.3,403.9 71.3,403.4 70.3,402.9 69.3,402.3 68.3,401.8 67.3,401.3 66.3,400.8 65.3,400.2 64.3,399.6 63.3,399 62.3,398.5 61.3,398 60.3,397.6 59.3,397.4 58.3,397.1 57.3,396.9 56.3,396.8 55.3,396.6 54.3,396.5 53.3,396.3 52.3,396.2 51.3,396 50.3,395.9 49.3,395.8 48.3,395.8 47.3,395.8 46.3,395.8 45.3,396 44.3,396.3 43.3,396.6 42.3,397 41.3,397.3 40.3,397.7 39.3,398.1 38.3,398.6 37.3,399.1 36.3,399.7 35.3,400.4 34.3,401.2 33.3,402.3 32.3,403.6 31.3,405 30.3,406.8 29.3,408.6 28.3,410.5 27.3,412.5 26.3,414.6 25.3,416.7 24.3,419 23.3,421.5 22.3,424.8 21.3,428.8 20.3,433.6 19.3,439.3 18.3,445.2" fill="#1e961e"/><polyline points="18.3,443.6 19.3,437.8 20.3,432.1 21.3,427.3 22.3,423.2 23.3,419.9 24.3,417.4 25.3,415.2 26.3,413 27.3,411 28.3,409 29.3,407.1 30.3,405.3 31.3,403.5 32.3,402 33.3,400.8 34.3,399.7 35.3,398.8 36.3,398.1 37.3,397.5 38.3,397 39.3,396.5 40.3,396.1 41.3,395.7 42.3,395.4 43.3,395.1 44.3,394.7 45.3,394.4 46.3,394.3 47.3,394.3 48.3,394.3 49.3,394.3 50.3,394.3 51.3,394.5 52.3,394.6 53.3,394.8 54.3,394.9 55.3,395.1 56.3,395.2 57.3,395.4 58.3,395.6 59.3,395.8 60.3,396.1 61.3,396.4 62.3,396.9 63.3,397.5 64.3,398.1 65.3,398.7 66.3,399.2 67.3,399.8 68.3,400.3 69.3,400.8 70.3,401.3 71.3,401.8 72.3,402.4 73.3,402.9 74.3,403.5 75.3,404.1 76.3,404.7 77.3,405.4 78.3,406 79.3,406.6 80.3,407.1 81.3,407.6 82.3,408 83.3,408.5 84.3,408.9 85.3,409.3 86.3,409.7 87.3,410.1 88.3,410.5 89.3,410.8 90.3,411.2 91.3,411.5 92.3,411.8 93.3,412.1 94.3,412.5 95.3,412.8 96.3,413.1 97.3,413.4 98.3,413.7 99.3,414 100.3,414.2 101.3,414.5 102.3,414.8 103.3,415.1 104.3,415.3 105.3,415.6 106.3,415.9 107.3,416.1 108.3,416.4 109.3,416.6 110.3,416.9 111.3,417.1 112.3,417.4 113.3,417.6 114.3,417.8 115.3,418.1 116.3,418.3 117.3,418.5 118.3,418.7 119.3,419 120.3,419.2 121.3,419.4 122.3,419.5 123.3,419.7 124.3,419.9 125.3,420.1 126.3,420.2 127.3,420.4 128.3,420.6 129.3,420.8 130.3,420.9 131.3,421.1 132.3,421.3 133.3,421.5 134.3,421.6 135.3,421.8 136.3,422 137.3,422.2 138.3,422.4 139.3,422.6 140.3,422.8 141.3,423 142.3,423.1 143.3,423.3 144.3,423.4 145.3,423.5 146.3,423.7 147.3,423.8 148.3,423.9 149.3,424.1 150.3,424.2 151.3,424.3 152.3,424.5 153.3,424.6 154.3,424.7 155.3,424.9 156.3,425 157.3,425.2 158.3,425.3 159.3,425.5 160.3,425.7 161.3,425.8 162.3,425.9 163.3,426 164.3,426.1 165.3,426.1 166.3,426.2 167.3,426.3 168.3,426.4 169.3,426.5 170.3,426.6 171.3,426.7 172.3,426.9 173.3,427 174.3,427.2 175.3,427.3 176.3,427.4 177.3,427.5 178.3,427.6 179.3,427.7 180.3,427.8 181.3,427.9 182.3,428.1 183.3,428.2 184.3,428.3 185.3,428.5 186.3,428.6 187.3,428.7 188.3,428.9 189.3,429 190.3,429.1 191.3,429.3 192.3,429.4 193.3,429.5 194.3,429.6 195.3,429.7 196.3,429.9 197.3,430 198.3,430 199.3,430.1 200.3,430.2 201.3,430.3 202.3,430.4 203.3,430.5 204.3,430.6 205.3,430.7 206.3,430.8 207.3,430.9 208.3,431 209.3,431.1 210.3,431.2 211.3,431.3 212.3,431.4 213.3,431.5 214.3,431.6 215.3,431.6 216.3,431.7" stroke="#1e961e" stroke-width="2.2" fill="none" stroke-linejoin="round"/><polyline points="18.9,441.7 21.1,437.8 19,433.2 20.8,429.9 20.4,426.4 21,423.5 22.4,421.2 22.8,419 23.9,417.4 26.6,416.8 25.6,414.4 26.3,412.9 25.9,411 27.3,409.9 27.9,408.4 28.5,407.1 29.9,406.1 29.1,404 32.2,404.1 31.6,402.2 32.3,401.3 34.5,401.7 33,399 34.8,399.3 34.9,398 35,396.6 37.9,399.5 37.4,397.1 38.2,397 39.5,397.8 40.2,397.7 40.3,396 41.2,396.4 41.8,395.9 42.7,396 43.1,394.9 43.4,393.7 45.1,396.3 45.3,394.5 46,395.3 46.6,394.2 47.3,393.9 48,393.8 48.7,396.4 49.4,396.2 50.3,392.4 51.1,392.6 51.6,394.2 52.4,393.9 53.2,392.9 53.9,393.1 54.2,395.7 54.9,396.2 56,393.2 56.5,394.6 57.4,393.9 57.6,396.7 58.9,393.8 59.1,396.6 60.4,394.4 60.5,396.5 62.2,394.6 62,397 61.8,398.9 63.6,397.3 64.1,398.1 65.3,397.6 65.4,399 65.7,400.1 67.6,398.4 66.8,401.6 68.8,399.4 68.4,401.9 70.6,399.5 69.9,402.3 71.2,401.6 71.7,402.3 72,403.4 73.1,403.2 73.9,403.4 75.3,402.7 74.7,405.2 77,403 77.8,403.3 77.2,405.8 78.3,405.6 77.8,408 79.4,406.9 79.7,408 80.3,408.7 81.6,407.8 81.7,409.4 83.6,407 84.1,407.8 83.8,410.4 85,409.7 85.2,411 86,411.3 86.7,411.6 87.3,412.1 88.5,411.1 89,411.7 90.4,410 90.3,412.5 92,409.9 91.5,413.7 92.2,414 93.2,413.2 94.5,411.5 95.2,411.9 95.2,414.4 96.7,411.8 97.5,411.9 97.1,415.5 98.7,413 98.7,415.4 100.2,412.8 101.1,412.4 101.6,413.4 101.6,416.1 102.6,415.2 103.4,414.9 103.9,416 105.1,414 105.5,415.4 105.8,417.1 107.1,415.2 107.2,417.6 108.5,415.5 109.1,416 109.8,416.3 110.5,416.2 111.1,417 111.9,416.5 112.7,416.3 113.6,415.6 114.3,415.7 114.6,417.5 115.7,416.2 116.3,416.8 116.2,420.4 117.5,417.7 118.5,416.7 118.9,418 119.7,417.9 120.4,417.7 121,418.6 121.7,418.5 122.3,419.3 122.7,421.2 123.6,420.2 124.1,421.4 125.1,419.5 125.4,421.9 126.8,418.2 127,421.2 127.6,422.1 128.5,420.9 129.6,418.8 130.1,420 130.9,419.4 131.7,419.3 132.4,419.2 133,419.9 133.2,422.9 134,422.1 134.7,422.3 135.8,420.6 136,423.2 136.6,423.8 137.8,421.6 138,424 139.1,422.3 140,421.1 140.1,424.7 141.5,421 141.8,423.4 142.8,421.6 143.3,422.8 144.1,422.3 144.7,422.6 145.5,422.6 146.3,421.6 146.6,424.8 147.2,425.9 148.1,424.1 148.7,425.3 149.8,422 150.4,423.1 150.9,424.9 151.7,424.3 152.3,424.6 152.8,426.6 153.8,424.5 154.4,425.1 155.2,424.5 156.1,423.1 156.7,424.2 157.2,425.5 157.8,426.2 158.8,424.6 159.1,427.2 160.1,425.1 160.9,424.3 161.5,425.2 162,427.4 162.9,425.7 163.6,425.4 164.1,427.6 164.8,427.6 165.6,426.8 166.3,427.3 167,426.6 167.6,428.4 168.5,425.7 169,427.4 170,425.1 170.7,425.7 171,428.2 171.8,427.7 172.6,427.2 173.1,428.5 174.2,426.2 174.8,426.6 175.6,425.7 176.1,427.6 176.7,429 177.6,427.2 178.2,427.8 178.8,428.6 179.5,429.5 180.3,428 181.3,425.8 181.7,428.1 182.3,429.6 183.2,428 183.7,429.3 184.4,429.3 185.5,426.4 186.1,427.2 186.7,428 187.4,428 187.9,429.7 188.8,428.5 189.3,430.2 190.1,429.8 190.7,430.6 191.6,429.1 192.4,428.1 193,428.9 193.5,430.5 194.6,427.7 194.9,430.5 195.9,428.5 196.6,428.1 197,431.8 198,428.5 198.4,431.3 199.1,431.9 199.9,430.4 200.6,430.3 201.4,429.7 201.9,432.2 202.9,428.5 203.4,431.4 204.1,431.1 204.8,430.8 205.4,432.3 206.4,429.4 207.1,429 207.5,431.9 208.3,431.1 208.9,432.1 209.6,432.3 210.5,430 211.3,429.4 211.9,431.2 212.6,431 213.2,431.8 214,431.3 214.8,429.7 215.3,431.6 215.9,432.7" stroke="#007c00" stroke-width="0.8" fill="none"/><polyline points="20.4,442 20.9,429.4 21.3,420.1 24.5,415 28.8,411.4 28,405.6 33.6,403.9 34.5,400.4 35.3,396.8 37.5,394.9 40.5,395.6 42.9,395.5 45.3,395.4 47.2,392.1 49.4,396.5 51.6,394.8 53.8,394.9 55.8,396.6 58.1,396.5 60.3,396.4 62.5,397.4 64.1,399.6 66.3,401 70.3,398.8 70.6,403.6 74.7,401.2 75.9,404.4 79.1,404 79.5,408.5 83,407 83.9,410.9 87.6,407.9 88.9,411.1 91.3,411.4 92.8,414.1 95.7,412.5 98.2,412.2 100.1,414 101.9,416 104,417 106.8,415.5 108.3,418.8 111.5,415.1 112.9,419 115.8,416.4 118.1,416.3 119.4,421.1 122.2,418.7 124.4,418.7 126.6,419.2 128.6,421 130.6,422.3 132.9,422.4 135.2,422 137.4,422.4 139.3,424.5 142,421.7 143.9,424.1 146,425.5 148.6,423 150.5,425.4 152.6,426 155,424.9 157.2,425.1 159.2,426.8 161.9,423.5 163.8,426.8 165.9,428 168.1,428.1 170.6,425.5 172.6,426.9 174.7,428.4 177.1,427.3 179.3,426.7 181.2,429.8 183.3,430.6 185.7,429.3 188,429.2 190.1,430.4 192.3,430.9 194.4,431.6 196.9,429.4 199,430.8 201.1,431.6 203.2,432.8 205.6,430.8 207.7,432.3 210.2,429.7 212.1,433.3 214.4,432" stroke="#d9a35a" stroke-width="0.5" stroke-opacity="0.8" fill="none"/><polyline points="17.3,441.5 20.7,430.4 22.3,421.9 23.8,416.3 27.9,412.9 28.9,408.5 30,404.3 31.4,400.6 33.8,398.5 35.7,396.4 38.4,396.2 40,394.4 43.1,396.8 44.6,394.6 46.6,393.8 48.6,395.6 50.6,394.8 52.7,394.6 54.4,396.5 56.7,394.8 58.6,395.8 60,397.9 63.2,396 64.6,398.4 66.7,399.3 68.7,400.3 70.2,402.4 73.5,401.1 75.2,402.7 75.9,406 79.3,405.1 79.9,408.7 83.1,407.1 84.3,409.9 86,411.5 88.5,411 91.1,409.9 93.2,410.3 94.3,413.8 96.6,413.3 98.7,413.6 100.3,415.6 102.8,414.2 104.5,416.1 107,414.4 108.8,415.7 111,415.6 112.6,417.7 114.5,418.6 116.9,417.2 118.9,417.7 120.4,420.7 122.9,418.3 124.6,420.1 126.9,418.5 129,418.8 130.4,422.4 133,419.6 134.7,421.5 136.3,423.6 138.5,423.3 140.8,422 142.5,424.3 144.4,424.9 146.8,422.7 148.5,424.8 150.8,423.2 152.6,424.5 154.5,425.6 156.5,426.2 158.4,427.1 160.6,425.8 162.7,425.4 164.6,427.3 166.6,427.2 168.5,427.7 170.7,426.3 172.7,426.3 174.6,427.2 176.7,426.9 178.7,427 180.7,427.1 182.6,428.2 184.6,428.7 186.6,428.9 188.7,428.6 190.7,428.7 192.7,429.1 194.6,430.2 196.6,430.1 198.6,430.4 200.7,429.1 202.8,429 204.7,429.7 206.6,431 208.5,432.1 210.5,433 212.7,430.4 214.6,431.6" stroke="#5cb85c" stroke-width="0.5" stroke-opacity="0.8" fill="none"/><path d="M12.3 358.6V496.6" stroke="#5a5a5a" stroke-width="0.9"/><path d="M216.3 352.3V496.6" stroke="#5a5a5a" stroke-width="0.9"/><path d="M12.3 496.6H216.3" stroke="#5a5a5a" stroke-width="0.9"/><path d="M12.3 487.4h1M12.3 478.2h1M12.3 469h1M12.3 459.8h1M12.3 450.6h1M12.3 441.4h1M12.3 432.2h1M12.3 423h1M12.3 413.8h1M12.3 404.6h1M12.3 395.4h1M12.3 386.2h1M12.3 377h1M12.3 367.8h1M12.3 358.6h1M19.1 496.6v1M25.9 496.6v1M32.7 496.6v1M39.5 496.6v1M46.3 496.6v1M53.1 496.6v1M59.9 496.6v1M66.7 496.6v1M73.5 496.6v1M80.3 496.6v1M87.1 496.6v1M93.9 496.6v1M100.7 496.6v1M107.5 496.6v1M114.3 496.6v1M121.1 496.6v1M127.9 496.6v1M134.7 496.6v1M141.5 496.6v1M148.3 496.6v1M155.1 496.6v1M161.9 496.6v1M168.7 496.6v1M175.5 496.6v1M182.3 496.6v1M189.1 496.6v1M195.9 496.6v1M202.7 496.6v1M209.5 496.6v1M217.23 484.4h1M217.23 470.41h1M217.23 456.42h1M217.23 442.43h1M217.23 428.44h1M217.23 414.46h1M217.23 400.47h1M217.23 386.48h1M217.23 372.49h1M217.23 358.5h1" stroke="#555" stroke-width="0.8" fill="none"/><rect x="84.92" y="493.3" width="9.52" height="4.6" fill="#fff"/><text transform="translate(10.8 488.72) scale(0.898 1)" font-size="3.68" text-anchor="end" fill="#4a4452" stroke="#4a4452" stroke-width="0.15">0.1</text><text transform="translate(10.8 479.52) scale(0.898 1)" font-size="3.68" text-anchor="end" fill="#4a4452" stroke="#4a4452" stroke-width="0.15">0.2</text><text transform="translate(10.8 470.32) scale(0.898 1)" font-size="3.68" text-anchor="end" fill="#4a4452" stroke="#4a4452" stroke-width="0.15">0.3</text><text transform="translate(10.8 461.12) scale(0.898 1)" font-size="3.68" text-anchor="end" fill="#4a4452" stroke="#4a4452" stroke-width="0.15">0.4</text><text transform="translate(10.8 451.92) scale(0.898 1)" font-size="3.68" text-anchor="end" fill="#4a4452" stroke="#4a4452" stroke-width="0.15">0.5</text><text transform="translate(10.8 442.72) scale(0.898 1)" font-size="3.68" text-anchor="end" fill="#4a4452" stroke="#4a4452" stroke-width="0.15">0.6</text><text transform="translate(10.8 433.52) scale(0.898 1)" font-size="3.68" text-anchor="end" fill="#4a4452" stroke="#4a4452" stroke-width="0.15">0.7</text><text transform="translate(10.8 424.32) scale(0.898 1)" font-size="3.68" text-anchor="end" fill="#4a4452" stroke="#4a4452" stroke-width="0.15">0.8</text><text transform="translate(10.8 415.12) scale(0.898 1)" font-size="3.68" text-anchor="end" fill="#4a4452" stroke="#4a4452" stroke-width="0.15">0.9</text><text transform="translate(10.8 405.92) scale(0.898 1)" font-size="3.68" text-anchor="end" fill="#4a4452" stroke="#4a4452" stroke-width="0.15">1</text><text transform="translate(10.8 396.72) scale(0.898 1)" font-size="3.68" text-anchor="end" fill="#4a4452" stroke="#4a4452" stroke-width="0.15">1.1</text><text transform="translate(10.8 387.52) scale(0.898 1)" font-size="3.68" text-anchor="end" fill="#4a4452" stroke="#4a4452" stroke-width="0.15">1.2</text><text transform="translate(10.8 378.32) scale(0.898 1)" font-size="3.68" text-anchor="end" fill="#4a4452" stroke="#4a4452" stroke-width="0.15">1.3</text><text transform="translate(10.8 369.12) scale(0.898 1)" font-size="3.68" text-anchor="end" fill="#4a4452" stroke="#4a4452" stroke-width="0.15">1.4</text><text transform="translate(10.8 359.92) scale(0.898 1)" font-size="3.68" text-anchor="end" fill="#4a4452" stroke="#4a4452" stroke-width="0.15">1.5</text><text transform="translate(19.1 502.04) scale(0.803 1)" font-size="3.45" text-anchor="middle" fill="#4a4452" stroke="#4a4452" stroke-width="0.15">1</text><text transform="translate(25.9 502.04) scale(0.803 1)" font-size="3.45" text-anchor="middle" fill="#4a4452" stroke="#4a4452" stroke-width="0.15">2</text><text transform="translate(32.7 502.04) scale(0.803 1)" font-size="3.45" text-anchor="middle" fill="#4a4452" stroke="#4a4452" stroke-width="0.15">3</text><text transform="translate(39.5 502.04) scale(0.803 1)" font-size="3.45" text-anchor="middle" fill="#4a4452" stroke="#4a4452" stroke-width="0.15">4</text><text transform="translate(46.3 502.04) scale(0.803 1)" font-size="3.45" text-anchor="middle" fill="#4a4452" stroke="#4a4452" stroke-width="0.15">5</text><text transform="translate(53.1 502.04) scale(0.803 1)" font-size="3.45" text-anchor="middle" fill="#4a4452" stroke="#4a4452" stroke-width="0.15">6</text><text transform="translate(59.9 502.04) scale(0.803 1)" font-size="3.45" text-anchor="middle" fill="#4a4452" stroke="#4a4452" stroke-width="0.15">7</text><text transform="translate(66.7 502.04) scale(0.803 1)" font-size="3.45" text-anchor="middle" fill="#4a4452" stroke="#4a4452" stroke-width="0.15">8</text><text transform="translate(73.5 502.04) scale(0.803 1)" font-size="3.45" text-anchor="middle" fill="#4a4452" stroke="#4a4452" stroke-width="0.15">9</text><text transform="translate(80.3 502.04) scale(0.803 1)" font-size="3.45" text-anchor="middle" fill="#4a4452" stroke="#4a4452" stroke-width="0.15">10</text><text transform="translate(87.1 502.04) scale(0.803 1)" font-size="3.45" text-anchor="middle" fill="#4a4452" stroke="#4a4452" stroke-width="0.15">11</text><text transform="translate(93.9 502.04) scale(0.803 1)" font-size="3.45" text-anchor="middle" fill="#4a4452" stroke="#4a4452" stroke-width="0.15">12</text><text transform="translate(100.7 502.04) scale(0.803 1)" font-size="3.45" text-anchor="middle" fill="#4a4452" stroke="#4a4452" stroke-width="0.15">13</text><text transform="translate(107.5 502.04) scale(0.803 1)" font-size="3.45" text-anchor="middle" fill="#4a4452" stroke="#4a4452" stroke-width="0.15">14</text><text transform="translate(114.3 502.04) scale(0.803 1)" font-size="3.45" text-anchor="middle" fill="#4a4452" stroke="#4a4452" stroke-width="0.15">15</text><text transform="translate(121.1 502.04) scale(0.803 1)" font-size="3.45" text-anchor="middle" fill="#4a4452" stroke="#4a4452" stroke-width="0.15">16</text><text transform="translate(127.9 502.04) scale(0.803 1)" font-size="3.45" text-anchor="middle" fill="#4a4452" stroke="#4a4452" stroke-width="0.15">17</text><text transform="translate(134.7 502.04) scale(0.803 1)" font-size="3.45" text-anchor="middle" fill="#4a4452" stroke="#4a4452" stroke-width="0.15">18</text><text transform="translate(141.5 502.04) scale(0.803 1)" font-size="3.45" text-anchor="middle" fill="#4a4452" stroke="#4a4452" stroke-width="0.15">19</text><text transform="translate(148.3 502.04) scale(0.803 1)" font-size="3.45" text-anchor="middle" fill="#4a4452" stroke="#4a4452" stroke-width="0.15">20</text><text transform="translate(155.1 502.04) scale(0.803 1)" font-size="3.45" text-anchor="middle" fill="#4a4452" stroke="#4a4452" stroke-width="0.15">21</text><text transform="translate(161.9 502.04) scale(0.803 1)" font-size="3.45" text-anchor="middle" fill="#4a4452" stroke="#4a4452" stroke-width="0.15">22</text><text transform="translate(168.7 502.04) scale(0.803 1)" font-size="3.45" text-anchor="middle" fill="#4a4452" stroke="#4a4452" stroke-width="0.15">23</text><text transform="translate(175.5 502.04) scale(0.803 1)" font-size="3.45" text-anchor="middle" fill="#4a4452" stroke="#4a4452" stroke-width="0.15">24</text><text transform="translate(182.3 502.04) scale(0.803 1)" font-size="3.45" text-anchor="middle" fill="#4a4452" stroke="#4a4452" stroke-width="0.15">25</text><text transform="translate(189.1 502.04) scale(0.803 1)" font-size="3.45" text-anchor="middle" fill="#4a4452" stroke="#4a4452" stroke-width="0.15">26</text><text transform="translate(195.9 502.04) scale(0.803 1)" font-size="3.45" text-anchor="middle" fill="#4a4452" stroke="#4a4452" stroke-width="0.15">27</text><text transform="translate(202.7 502.04) scale(0.803 1)" font-size="3.45" text-anchor="middle" fill="#4a4452" stroke="#4a4452" stroke-width="0.15">28</text><text transform="translate(209.5 502.04) scale(0.803 1)" font-size="3.45" text-anchor="middle" fill="#4a4452" stroke="#4a4452" stroke-width="0.15">29</text><text transform="translate(224.46 485.64) scale(0.851 1)" font-size="3.45" text-anchor="end" fill="#333" stroke="#333" stroke-width="0.15">10</text><text transform="translate(224.46 471.65) scale(0.851 1)" font-size="3.45" text-anchor="end" fill="#333" stroke="#333" stroke-width="0.15">20</text><text transform="translate(224.46 457.66) scale(0.851 1)" font-size="3.45" text-anchor="end" fill="#333" stroke="#333" stroke-width="0.15">30</text><text transform="translate(224.46 443.68) scale(0.851 1)" font-size="3.45" text-anchor="end" fill="#333" stroke="#333" stroke-width="0.15">40</text><text transform="translate(224.46 429.69) scale(0.851 1)" font-size="3.45" text-anchor="end" fill="#333" stroke="#333" stroke-width="0.15">50</text><text transform="translate(224.46 415.7) scale(0.851 1)" font-size="3.45" text-anchor="end" fill="#333" stroke="#333" stroke-width="0.15">60</text><text transform="translate(224.46 401.71) scale(0.851 1)" font-size="3.45" text-anchor="end" fill="#333" stroke="#333" stroke-width="0.15">70</text><text transform="translate(224.46 387.72) scale(0.851 1)" font-size="3.45" text-anchor="end" fill="#333" stroke="#333" stroke-width="0.15">80</text><text transform="translate(224.46 373.73) scale(0.851 1)" font-size="3.45" text-anchor="end" fill="#333" stroke="#333" stroke-width="0.15">90</text><text transform="translate(224.46 359.74) scale(0.851 1)" font-size="3.45" text-anchor="end" fill="#333" stroke="#333" stroke-width="0.15">100</text><text transform="translate(4.17 427.6) rotate(-90) scale(1.024 1)" font-size="3.49" text-anchor="middle" fill="#555" stroke="#555" stroke-width="0.15">Torque(Nm)</text><text transform="translate(227.18 425.3) rotate(90) scale(0.998 1)" font-size="4.5" text-anchor="middle" fill="#333" stroke="#333" stroke-width="0.1">Temperature     (°C)</text><text transform="translate(113.62 508.8) scale(0.816 1)" font-size="3.61" text-anchor="middle" fill="#333" stroke="#333" stroke-width="0.15">Time (min)</text><path d="M1.42 510.1H216.3V496.6" stroke="#dcf3dc" stroke-width="0.9" fill="none"/><text transform="translate(1.76 515.72) scale(0.925 1)" font-size="3.94" fill="#1a1a1a" stroke="#1a1a1a" stroke-width="0.15">amara</text><text transform="translate(70.1 515.72) scale(0.925 1)" font-size="3.94" fill="#1a1a1a" stroke="#1a1a1a" stroke-width="0.15">Mixing</text><text transform="translate(105.46 515.72) scale(0.925 1)" font-size="3.94" fill="#1a1a1a" stroke="#1a1a1a" stroke-width="0.15">1/2</text><text transform="translate(129.26 515.72) scale(0.925 1)" font-size="3.94" fill="#1a1a1a" stroke="#1a1a1a" stroke-width="0.15">Device N°</text><text transform="translate(157.82 515.72) scale(0.925 1)" font-size="3.94" fill="#1a1a1a" stroke="#1a1a1a" stroke-width="0.15">499</text><text transform="translate(173.8 515.72) scale(0.925 1)" font-size="3.94" fill="#1a1a1a" stroke="#1a1a1a" stroke-width="0.15">Version4.0.8r4.1i</text><text transform="translate(219.02 515.72) scale(0.925 1)" font-size="3.94" fill="#1a1a1a" stroke="#1a1a1a" stroke-width="0.15">TNC</text><text x="25.5" y="376.9" font-family='"Liberation Serif", serif' font-weight="bold" font-size="12" fill="#000">D7</text></g><g><path d="M251.4 493.97H446.4M251.4 484.49H446.4M251.4 475.01H446.4M251.4 465.53H446.4M251.4 456.05H446.4M251.4 446.57H446.4M251.4 437.09H446.4M251.4 427.61H446.4M251.4 418.13H446.4M251.4 408.65H446.4M251.4 399.17H446.4M251.4 389.69H446.4M251.4 380.21H446.4M251.4 370.73H446.4M251.4 361.25H446.4" stroke="#e4e4e4" stroke-width="0.9" fill="none"/><path d="M257.9 361.25V503.45M264.4 361.25V503.45M270.9 361.25V503.45M277.4 361.25V503.45M283.9 361.25V503.45M290.4 361.25V503.45M296.9 361.25V503.45M303.4 361.25V503.45M309.9 361.25V503.45M316.4 361.25V503.45M322.9 361.25V503.45M329.4 361.25V503.45M335.9 361.25V503.45M342.4 361.25V503.45M348.9 361.25V503.45M355.4 361.25V503.45M361.9 361.25V503.45M368.4 361.25V503.45M374.9 361.25V503.45M381.4 361.25V503.45M387.9 361.25V503.45M394.4 361.25V503.45M400.9 361.25V503.45M407.4 361.25V503.45M413.9 361.25V503.45M420.4 361.25V503.45M426.9 361.25V503.45M433.4 361.25V503.45M439.9 361.25V503.45" stroke="#dfdfdf" stroke-width="0.9" fill="none"/><path d="M251.4 399.17H446.4" stroke="#c990d4" stroke-width="1"/><path d="M251.4 394.43H446.4M251.4 403.91H446.4" stroke="#c58ad2" stroke-width="0.9" stroke-dasharray="0.9 1.5"/><polyline points="251.4,454.72 254.65,454.52 257.9,454.33 261.15,454.15 264.4,453.98 267.65,453.83 270.9,453.68 274.15,453.55 277.4,453.43 280.65,453.31 283.9,453.2 287.15,453.1 290.4,453.01 293.65,452.92 296.9,452.84 300.15,452.76 303.4,452.69 306.65,452.63 309.9,452.57 313.15,452.51 316.4,452.46 319.65,452.41 322.9,452.36 326.15,452.32 329.4,452.28 332.65,452.24 335.9,452.21 339.15,452.18 342.4,452.15 345.65,452.12 348.9,452.09 352.15,452.07 355.4,452.05 358.65,452.03 361.9,452.01 365.15,451.99 368.4,451.97 371.65,451.96 374.9,451.94 378.15,451.93 381.4,451.91 384.65,451.9 387.9,451.89 391.15,451.88 394.4,451.87 397.65,451.86 400.9,451.85 404.15,451.85 407.4,451.84 410.65,451.83 413.9,451.83 417.15,451.82 420.4,451.82 423.65,451.81 426.9,451.81 430.15,451.8 433.4,451.8 436.65,451.79 439.9,451.79 443.15,451.79 446.4,451.78" stroke="#f27af2" stroke-width="1" fill="none"/><path d="M251.4 461.45H445.5V503.45" stroke="#f47c7c" stroke-width="1" fill="none"/><polyline points="251.4,503.45 251.9,500.08 252.4,492.44 252.9,482.72 253.4,472.39 253.9,465.9 254.4,461.12 254.9,457.71 255.4,454.61 255.9,451.7 256.4,448.86 256.9,445.94 257.4,442.96 257.9,440.06" stroke="#eea860" stroke-width="1.1" fill="none" transform="translate(0.9,0.9)"/><polyline points="251.4,503.45 251.9,500.08 252.4,492.44 252.9,482.72 253.4,472.39 253.9,465.9 254.4,461.12 254.9,457.71 255.4,454.61 255.9,451.7 256.4,448.86 256.9,445.94 257.4,442.96 257.9,440.06" stroke="#8cc88c" stroke-width="0.8" fill="none" transform="translate(-0.9,0)"/><polyline points="251.4,503.45 251.9,500.08 252.4,492.44 252.9,482.72 253.4,472.39 253.9,465.9 254.4,461.12 254.9,457.71 255.4,454.61 255.9,451.7 256.4,448.86 256.9,445.94 257.4,442.96 257.9,440.06" stroke="#3a5fcd" stroke-width="0.9" fill="none"/><polyline points="255,449.6 257.2,445.2 259.1,440.7 259.3,436.3 258,431.9 258,427.8 261.1,424.6 260.4,421.2 263.1,419.3 261.2,416.1 265.7,415.4 264.4,412.6 265,410.9 267.4,410.5 269.2,410.2 267,406.8 269.2,407.2 271.4,407.9 269.8,404.5 270.2,403.3 271.7,403.5 272.1,402.3 274.5,403.9 274.3,402 277.2,403.6 276.4,400.7 276.2,397.8 278.5,398.9 279.3,399.7 279.4,397 280.2,396.5 281.2,397.4 281.8,396.7 282.7,397 283.2,394.3 284.3,397.9 285.1,396.9 286,398.8 286.7,398.4 287.3,394.3 288.4,398.7 288.9,394.1 289.9,396.7 290.8,397.6 291.4,395.5 292.5,397.9 293.1,396 293.6,393.9 294.2,392.7 295.7,397.2 296.2,395.3 297.3,397.8 297.8,394.2 298.7,396.1 299.5,395.9 300,392.2 301,394.6 301.9,396.7 302.6,393.1 303.4,395.3 304.2,395.9 305.2,391.9 305.8,395.3 306.9,391.9 307.5,394.2 308.4,392.9 308.9,396.2 310,392.2 310.5,398 311.5,394 312.1,397.8 313.1,393.2 313.9,393.5 314.7,392.9 315.5,393.5 316.4,392.6 317,395.1 317.9,394.3 318.4,398.2 319.3,397.3 320.3,394.7 321.1,394.4 321.8,395.5 322.6,398.2 323.4,393.4 324.2,396.8 325,394.4 325.8,398.1 326.6,395.1 327.4,393.4 328.2,393.2 329,393.8 329.9,398.5 330.7,397.6 331.2,393 332.4,397.3 332.8,392.8 333.7,394.1 334.6,394.9 335.4,392.9 336.2,395.2 337.1,394.5 337.9,393.1 338.6,395.8 339.4,395.8 340.4,394 341.3,392.8 341.6,398 342.8,393.1 343.4,396.1 344.4,394.2 345.1,395 345.6,398.3 346.6,396.2 347.4,396.4 347.8,399 349.4,394.1 349.6,397.8 350.9,396 350.7,399.5 352.1,397.8 353.6,395.7 353.4,399.5 354.7,397.7 354.8,400.9 356,399.7 356.8,399.8 358.2,396.7 358.6,398.9 359.3,399.5 359.9,401 361.5,396.8 361.6,400.6 362.4,400.6 363.6,399.3 363.6,402.1 365.2,399.7 365.6,401.3 365.8,403.6 367.3,401.6 367.7,403.5 368.8,402.5 369.6,402.5 370.8,400.6 371.8,399.5 371.9,404.1 373.2,401.2 373.9,401.9 374.4,403.4 374.9,404.7 376,403.6 376.8,403.8 378.4,400.6 379.1,401.5 379.9,401.5 379.7,405.9 381.2,403.2 382.1,402.7 382.5,404.8 383.8,402.2 384.3,403.7 385.4,402.5 386.1,402.8 386.6,404.9 387.9,402.1 387.7,407.7 388.7,406.9 389.9,405.2 390.8,404.7 391.7,404.6 392.6,404.1 393.4,403.9 393.4,409 394.7,405.8 395.2,407.9 396.5,404.5 397,407 397.7,407.7 398.6,406.7 399.7,404.7 400.3,406 401.3,404.8 401.7,408.5 402.3,410 403.6,405.2 404.3,406.6 405,408.2 405.7,409.1 406.7,407 407.6,406.2 408.3,406.4 409,408.1 409.6,410.4 410.7,407.5 411.2,410.2 412.2,408.9 413.1,407.8 413.9,407.3 414.5,409.4 415.3,409.2 416.3,408.2 417.2,407.2 417.5,411.6 418.6,409.2 419.6,407.6 420.2,409.2 421.3,407 422.1,407.2 422.4,410.9 423.2,410.7 424.1,410.5 424.8,411.6 425.8,410.1 427,407.1 427.3,411.1 428.5,407.4 429.2,407.8 429.7,412.4 430.8,407.5 431.6,407.6 432.1,412.2 433.3,407.9 433.8,410.8 434.5,411.9 435.3,411.9 436.2,410.7 437.1,410 438,409.2 438.5,412.5 439.8,408.4 440.2,411.4 441.3,409.5 442.1,410 442.4,413 443,414.2 444.1,412.7 445,412.3 446.1,410.8" stroke="#eaa862" stroke-width="0.7" fill="none"/><polyline points="258.2,450.2 254.1,444.7 256.3,440.2 256.4,435.8 260.7,432.5 259.1,428 261.5,424.7 259.2,420.9 261.4,418.7 266.1,417.9 266.6,415.7 264.2,412.5 266.8,412 266.4,409.9 267.5,408.9 268.5,408.1 270.3,408.3 269.9,406.3 271.9,406.9 270,403 274,406.8 271.5,401.5 274.9,404.5 274.9,402.8 273.4,399.7 276.1,400.6 277,398.1 279.1,400.4 278.4,396.4 279,394.8 280.1,396.3 280.8,395.4 281.8,396.2 282.9,399.1 283.1,393.3 284,393 285.1,397.2 286,399.4 286.5,393.5 287.5,397.5 288.1,392.8 289,396 289.8,395.6 290.7,396.3 291.3,394.8 292,394.1 293.4,397.9 294.2,397.6 294.2,392.8 295.3,394.1 296.2,395.4 297.1,395.8 298,396.7 298.3,392 299.7,397.3 300.4,397.4 301.3,398.2 302,397.3 302.7,396.9 303.4,391.9 304.1,397 305.2,392.4 305.9,394 306.5,396.6 307.4,395.3 307.9,398.1 309.3,391.6 309.7,397 310.7,393.2 311.3,398 312.1,397.9 313,396.2 313.9,392.5 314.6,395.3 315.5,392.6 316.3,393.1 317.1,394.1 317.9,394.8 318.6,395.7 319.5,395 320.1,396.8 321.1,394.2 321.9,392.6 322.6,398.2 323.4,398.6 324.2,397.5 325,395 325.8,392.8 326.6,399.1 327.4,396 328.2,398.2 329,395.3 329.8,394.2 330.5,393.4 331.5,396.5 332.3,396.2 332.8,393.3 334,398.3 334.7,397 335.5,396.5 336.2,394.5 337,395.3 337.7,397.3 338.6,396.3 339.6,393.4 340.3,394.5 340.9,396.7 341.7,397.5 342.7,395.1 343.7,393.1 344.4,393.6 345.3,393.6 345.8,396.5 346.4,398 347.6,394.7 348.4,395.5 349,396.9 350.3,394.7 350.7,396.7 351.4,397.1 352.2,397.4 353.3,396.8 354.6,395.2 355.4,395.1 355.3,398.9 356.5,396.8 357.6,395.7 357.3,401.5 358.6,398.7 359.6,398.1 359.8,401.4 361,399.3 362,398.9 361.9,402.6 362.7,402.6 363.4,402.7 364.7,401.4 365.2,402.7 366.5,401.2 367.9,399.2 368.5,400 368.8,402.5 370,400.4 370.4,403 371.9,398.8 372.6,399.7 373,402.3 374.1,400.8 374.6,402.3 376.1,399.3 376,403.5 377.3,401.8 377,406.3 378.8,402.6 379.6,402.8 379.9,404.9 381,404.2 382.4,401.1 382.4,405.4 383.7,402.8 383.9,406.4 384.9,405.1 386,403.5 387.1,402.2 387.6,404.2 387.9,407.1 389.7,401.9 390.1,404.1 390.2,407.4 391.7,404.1 392.8,403.1 393,406.2 393.6,407.6 394.3,408.6 395.8,403.6 395.9,409.1 396.6,409.9 397.5,409.4 398.9,404.2 399.3,408.4 400.2,407.5 400.8,408.9 402,405.2 402.4,409.4 403.4,407.6 404.3,406.9 404.7,410.4 406.1,404.7 406.4,409.5 407.4,408.2 408,410.5 409.2,406.2 409.6,410.1 410.6,408 411.6,405.6 412.4,405.7 413.3,405 413.7,409.2 414.6,408.3 415.5,407.7 416.5,406 417.1,408 418,407.3 419,406.1 419.7,406.8 419.8,412.1 420.9,410.3 421.5,411.7 422.3,411.4 423.4,409.8 424.4,408.6 424.8,411.5 426.3,406.6 426.8,408.7 427.4,410.1 427.9,413.5 429.3,406.7 430.1,407.2 430.7,409 431.2,413.7 432.5,407.6 433,410.6 433.6,412.4 434.5,412.2 435.3,412 436.1,412.2 437,411.1 438.1,408.9 438.4,412.7 439.4,411.5 440,412.6 441.5,408.1 442.3,408.6 443,409.2 444,408.6 444.1,412.6 444.8,413.6 446.4,408.9" stroke="#70c070" stroke-width="0.7" fill="none"/><polygon points="255.9,450.2 256.9,444.4 257.9,438.5 258.9,433.3 259.9,428.3 260.9,423.6 261.9,419.8 262.9,416.8 263.9,414.1 264.9,411.6 265.9,409.7 266.9,408.1 267.9,406.7 268.9,405.6 269.9,404.6 270.9,403.7 271.9,402.9 272.9,402.2 273.9,401.5 274.9,400.7 275.9,399.7 276.9,396.9 277.9,395.8 278.9,395.5 279.9,395.3 280.9,395.1 281.9,395 282.9,394.9 283.9,394.8 284.9,394.7 285.9,394.6 286.9,394.6 287.9,394.5 288.9,394.5 289.9,394.4 290.9,394.3 291.9,394.2 292.9,394.1 293.9,393.9 294.9,393.8 295.9,393.6 296.9,393.5 297.9,393.4 298.9,393.3 299.9,393.2 300.9,393.2 301.9,393.1 302.9,393.1 303.9,393.1 304.9,393.1 305.9,393.2 306.9,393.3 307.9,393.4 308.9,393.5 309.9,393.5 310.9,393.6 311.9,393.6 312.9,393.7 313.9,393.7 314.9,393.8 315.9,393.8 316.9,393.9 317.9,393.9 318.9,394 319.9,394.1 320.9,394.1 321.9,394.2 322.9,394.2 323.9,394.2 324.9,394.2 325.9,394.2 326.9,394.2 327.9,394.2 328.9,394.2 329.9,394.2 330.9,394.2 331.9,394.1 332.9,394 333.9,393.9 334.9,393.9 335.9,393.8 336.9,393.8 337.9,393.9 338.9,393.9 339.9,394 340.9,394.1 341.9,394.2 342.9,394.2 343.9,394.3 344.9,394.4 345.9,394.5 346.9,394.7 347.9,394.8 348.9,395 349.9,395.2 350.9,395.4 351.9,395.7 352.9,396 353.9,396.3 354.9,396.6 355.9,396.8 356.9,397 357.9,397.2 358.9,397.3 359.9,397.5 360.9,397.7 361.9,397.9 362.9,398.2 363.9,398.4 364.9,398.7 365.9,399 366.9,399.3 367.9,399.6 368.9,399.8 369.9,400 370.9,400.2 371.9,400.3 372.9,400.5 373.9,400.7 374.9,400.8 375.9,401.1 376.9,401.3 377.9,401.5 378.9,401.8 379.9,402 380.9,402.3 381.9,402.5 382.9,402.6 383.9,402.8 384.9,403 385.9,403.2 386.9,403.3 387.9,403.5 388.9,403.7 389.9,403.9 390.9,404.1 391.9,404.3 392.9,404.5 393.9,404.7 394.9,404.8 395.9,404.9 396.9,405.1 397.9,405.2 398.9,405.3 399.9,405.4 400.9,405.5 401.9,405.6 402.9,405.7 403.9,405.8 404.9,405.9 405.9,406 406.9,406.1 407.9,406.2 408.9,406.3 409.9,406.4 410.9,406.5 411.9,406.5 412.9,406.6 413.9,406.7 414.9,406.8 415.9,406.9 416.9,407 417.9,407.2 418.9,407.3 419.9,407.4 420.9,407.5 421.9,407.7 422.9,407.9 423.9,408 424.9,408.2 425.9,408.3 426.9,408.4 427.9,408.5 428.9,408.6 429.9,408.7 430.9,408.8 431.9,408.9 432.9,408.9 433.9,409 434.9,409.2 435.9,409.3 436.9,409.4 437.9,409.5 438.9,409.6 439.9,409.8 440.9,409.9 441.9,410 442.9,410.2 443.9,410.4 444.9,410.5 445.9,410.7 446.4,413.9 445.4,413.7 444.4,413.5 443.4,413.4 442.4,413.2 441.4,413.1 440.4,412.9 439.4,412.8 438.4,412.7 437.4,412.5 436.4,412.4 435.4,412.3 434.4,412.2 433.4,412.1 432.4,412 431.4,411.9 430.4,411.8 429.4,411.8 428.4,411.7 427.4,411.6 426.4,411.5 425.4,411.3 424.4,411.2 423.4,411 422.4,410.9 421.4,410.7 420.4,410.6 419.4,410.5 418.4,410.3 417.4,410.2 416.4,410.1 415.4,410 414.4,409.9 413.4,409.8 412.4,409.7 411.4,409.6 410.4,409.5 409.4,409.4 408.4,409.3 407.4,409.3 406.4,409.2 405.4,409.1 404.4,409 403.4,408.9 402.4,408.7 401.4,408.6 400.4,408.5 399.4,408.4 398.4,408.3 397.4,408.2 396.4,408.1 395.4,408 394.4,407.8 393.4,407.7 392.4,407.5 391.4,407.3 390.4,407.1 389.4,406.9 388.4,406.7 387.4,406.5 386.4,406.3 385.4,406.2 384.4,406 383.4,405.8 382.4,405.7 381.4,405.5 380.4,405.2 379.4,405 378.4,404.8 377.4,404.5 376.4,404.3 375.4,404 374.4,403.8 373.4,403.7 372.4,403.5 371.4,403.3 370.4,403.2 369.4,403 368.4,402.8 367.4,402.6 366.4,402.3 365.4,402 364.4,401.7 363.4,401.4 362.4,401.1 361.4,400.9 360.4,400.7 359.4,400.5 358.4,400.3 357.4,400.2 356.4,400 355.4,399.8 354.4,399.5 353.4,399.2 352.4,398.9 351.4,398.7 350.4,398.4 349.4,398.2 348.4,398 347.4,397.8 346.4,397.7 345.4,397.6 344.4,397.5 343.4,397.4 342.4,397.3 341.4,397.2 340.4,397.1 339.4,397.1 338.4,397 337.4,397 336.4,396.9 335.4,396.9 334.4,397 333.4,397.1 332.4,397.1 331.4,397.2 330.4,397.3 329.4,397.3 328.4,397.3 327.4,397.3 326.4,397.3 325.4,397.3 324.4,397.3 323.4,397.3 322.4,397.3 321.4,397.3 320.4,397.2 319.4,397.1 318.4,397.1 317.4,397 316.4,396.9 315.4,396.9 314.4,396.8 313.4,396.8 312.4,396.8 311.4,396.7 310.4,396.7 309.4,396.6 308.4,396.5 307.4,396.4 306.4,396.3 305.4,396.3 304.4,396.2 303.4,396.2 302.4,396.2 301.4,396.2 300.4,396.3 299.4,396.4 298.4,396.5 297.4,396.6 296.4,396.7 295.4,396.8 294.4,396.9 293.4,397.1 292.4,397.3 291.4,397.4 290.4,397.5 289.4,397.6 288.4,397.6 287.4,397.7 286.4,397.7 285.4,397.8 284.4,397.8 283.4,397.9 282.4,398 281.4,398.2 280.4,398.3 279.4,398.5 278.4,398.7 277.4,399.2 276.4,401.7 275.4,403.4 274.4,404.2 273.4,405 272.4,405.7 271.4,406.4 270.4,407.2 269.4,408.2 268.4,409.2 267.4,410.4 266.4,411.9 265.4,413.7 264.4,415.9 263.4,418.5 262.4,421.4 261.4,424.7 260.4,428.9 259.4,433.9 258.4,438.9 257.4,444.5 256.4,450.4" fill="#1e961e"/><polyline points="255.9,451.7 256.9,445.9 257.9,440.1 258.9,434.8 259.9,429.9 260.9,425.1 261.9,421.4 262.9,418.4 263.9,415.6 264.9,413.2 265.9,411.3 266.9,409.6 267.9,408.3 268.9,407.1 269.9,406.1 270.9,405.2 271.9,404.5 272.9,403.8 273.9,403 274.9,402.2 275.9,401.3 276.9,398.5 277.9,397.4 278.9,397.1 279.9,396.9 280.9,396.7 281.9,396.5 282.9,396.4 283.9,396.3 284.9,396.2 285.9,396.2 286.9,396.1 287.9,396.1 288.9,396 289.9,396 290.9,395.9 291.9,395.8 292.9,395.6 293.9,395.5 294.9,395.3 295.9,395.2 296.9,395.1 297.9,395 298.9,394.9 299.9,394.8 300.9,394.7 301.9,394.7 302.9,394.6 303.9,394.6 304.9,394.7 305.9,394.7 306.9,394.8 307.9,394.9 308.9,395 309.9,395.1 310.9,395.1 311.9,395.2 312.9,395.2 313.9,395.3 314.9,395.3 315.9,395.4 316.9,395.4 317.9,395.5 318.9,395.6 319.9,395.6 320.9,395.7 321.9,395.7 322.9,395.8 323.9,395.8 324.9,395.8 325.9,395.8 326.9,395.8 327.9,395.8 328.9,395.8 329.9,395.8 330.9,395.7 331.9,395.6 332.9,395.5 333.9,395.5 334.9,395.4 335.9,395.4 336.9,395.4 337.9,395.4 338.9,395.5 339.9,395.6 340.9,395.6 341.9,395.7 342.9,395.8 343.9,395.9 344.9,396 345.9,396.1 346.9,396.2 347.9,396.4 348.9,396.5 349.9,396.7 350.9,397 351.9,397.2 352.9,397.5 353.9,397.8 354.9,398.1 355.9,398.3 356.9,398.5 357.9,398.7 358.9,398.9 359.9,399.1 360.9,399.2 361.9,399.5 362.9,399.7 363.9,400 364.9,400.3 365.9,400.6 366.9,400.9 367.9,401.1 368.9,401.4 369.9,401.5 370.9,401.7 371.9,401.9 372.9,402 373.9,402.2 374.9,402.4 375.9,402.6 376.9,402.8 377.9,403.1 378.9,403.3 379.9,403.6 380.9,403.8 381.9,404 382.9,404.2 383.9,404.4 384.9,404.5 385.9,404.7 386.9,404.9 387.9,405 388.9,405.2 389.9,405.4 390.9,405.6 391.9,405.8 392.9,406 393.9,406.2 394.9,406.4 395.9,406.5 396.9,406.6 397.9,406.7 398.9,406.8 399.9,406.9 400.9,407 401.9,407.1 402.9,407.3 403.9,407.4 404.9,407.5 405.9,407.6 406.9,407.7 407.9,407.7 408.9,407.8 409.9,407.9 410.9,408 411.9,408.1 412.9,408.2 413.9,408.3 414.9,408.4 415.9,408.5 416.9,408.6 417.9,408.7 418.9,408.8 419.9,409 420.9,409.1 421.9,409.2 422.9,409.4 423.9,409.6 424.9,409.7 425.9,409.9 426.9,410 427.9,410.1 428.9,410.2 429.9,410.2 430.9,410.3 431.9,410.4 432.9,410.5 433.9,410.6 434.9,410.7 435.9,410.8 436.9,410.9 437.9,411 438.9,411.2 439.9,411.3 440.9,411.4 441.9,411.6 442.9,411.7 443.9,411.9 444.9,412.1 445.9,412.3" stroke="#1e961e" stroke-width="2.2" fill="none" stroke-linejoin="round"/><polyline points="256.2,449.9 256.2,445.7 256.8,441.5 260,438.1 258,434 258.1,430.4 261.7,427.5 260,423.9 263,422 263.3,419.7 261.7,416.9 262.5,415 264.5,413.7 266.2,412.8 264.7,410.3 265.7,409.2 268.3,409.5 267.6,407.5 269.7,408 268.4,405.4 271.4,407.2 269.6,403.7 270.8,403.5 271.3,402.7 273.4,404.3 274.7,404.4 273.4,401.2 274.9,401.7 277,402.3 275,399.2 276.7,397.4 277.8,397 278.5,396.7 279.7,398.8 280.3,398.2 281.1,398.8 281.1,394.7 282.1,396.2 282.9,397.4 283.6,397.2 284.4,398.2 284.9,396.4 285.5,394.7 286.3,395.6 287,394.7 287.6,394.3 288.5,398 289.1,396 289.8,395.1 290.6,396.6 291.2,395.5 292.2,397.8 292.4,394.3 293.2,394.9 293.9,394.4 294.8,396 295.2,393.6 296.3,396.5 296.9,395.5 297.5,394.8 298.2,394.7 298.7,392.9 299.6,394.9 300.3,394.3 301.1,396.4 301.7,394.5 302.4,393.4 303.1,396.5 303.9,393.3 304.5,395.8 305.2,395.1 305.8,396.2 306.6,395.4 307.2,396.5 308.1,394.5 308.8,394.6 309.4,395.4 310,397 310.9,393.1 311.5,395.5 312.1,397.3 312.9,395.7 313.6,396.7 314.4,394.1 315,396.1 315.6,397.3 316.4,395.4 317,396.9 317.8,395.9 318.6,394 319.3,394.4 320,394.9 320.7,394.8 321.4,394.6 322,395.8 322.7,393.7 323.4,397.8 324.1,397.6 324.8,397.7 325.5,397 326.2,395 326.9,394.7 327.6,394.7 328.3,394.7 329,393.6 329.7,397.2 330.5,397 331.1,395 331.7,394 332.4,394.6 333.4,397.1 333.9,395.5 334.5,393.9 335.4,396.7 336,397.1 336.8,394.2 337.5,394 338.2,393.9 338.9,394.8 339.6,395 340.3,394.5 341,394.7 341.7,394.6 342.4,395.2 343.2,394 343.8,394.7 344.3,397.1 345.3,394.5 345.7,396.8 346.7,394.5 347,398.2 348,396.1 348.6,396.6 349,398.5 350.1,396.3 351.2,395 351.7,396.3 351.9,398 352.5,398.5 353.1,399.1 354.4,397.4 354.5,399.9 355.2,400.4 356.1,399.7 356.9,399.4 357.7,398.9 358.1,400.9 359,399.9 360,397.9 360.8,397.6 361.3,398.8 362.1,398.5 362.4,400.4 362.9,401.5 363.6,401.6 364.6,400.5 365.2,401.2 365.8,401.7 366.4,402.2 367.1,402.9 368.1,401.8 368.6,402.9 369.8,400.7 370.3,401.6 370.7,403.5 371.8,401.3 372.7,400.3 373.3,400.8 373.7,402.6 374.2,404.1 375.5,401.2 375.5,404.6 376.2,404.4 377.1,403.7 378.3,402 378.9,402.6 379.7,402.3 380.1,403.7 380.5,405.1 381.4,404.4 382.1,404.5 383.1,403.1 383.6,404.2 384.1,405.9 385.2,403.3 385.7,404.6 386.6,403.5 387.3,403.7 387.6,406.2 388.4,406.1 389.3,405 390.2,404.2 390.7,405.2 391.5,404.8 391.9,406.5 392.9,405 393.2,407.4 394.1,406.4 394.8,406.7 395.7,405.1 396.3,406.2 396.7,408.6 397.7,406 398.2,407.9 399.2,405 399.6,408 400.3,408.6 401,408.2 402,405.8 402.4,408.7 403.4,405.9 404,406.4 404.6,407.9 405.5,405.7 406.1,406.9 406.6,408.7 407.6,406.4 408.2,407.2 408.9,406.6 409.7,405.8 410.3,406.8 410.9,407.7 411.6,408.4 412.5,406.6 412.9,409.7 413.9,406.2 414.4,408.3 415.3,406.7 415.7,409.5 416.7,407.4 417.2,408.6 417.7,410.4 418.4,410.6 419.2,409.7 419.8,410.4 420.7,409.6 421.5,408.8 422.2,408.8 423,408.4 423.4,410.1 424.5,407.8 424.7,410.9 425.6,410.2 426.2,411.1 426.9,411.1 427.6,410.9 428.5,409.4 429.1,409.9 429.9,409.6 430.6,409.8 431.2,411.2 432,409.9 432.6,410.8 433.3,410.4 434.1,409.6 434.8,409.6 435.5,410 436,412 436.6,412.5 437.8,409 438.4,409.6 438.7,412.8 439.4,413.2 440.4,410.5 441,411.6 441.5,412.9 442.7,409.8 443,412.7 444.1,410.1 444.4,412.8 445,413.1 446,412" stroke="#007c00" stroke-width="0.8" fill="none"/><polyline points="257.8,450.1 258.5,437.3 261.3,426.5 263.5,418.8 265.3,413.1 267.3,409.2 267.8,405 272.3,405.6 275.2,404.8 277.1,401.7 278.2,397.3 280.8,399 282.7,397 285,398.6 287.1,397.5 289.1,393.7 291.2,394.1 293.9,397.5 295.6,393.3 297.9,393.5 300.1,393.6 302.4,393.9 304.7,394.1 306.9,394.6 309,395.2 311.2,395.2 313.5,393.9 315.6,396.9 317.8,396 320.1,394.7 322.3,393.9 324.4,398 326.6,397.8 328.8,396 331,396 333.4,397.9 335.5,397.4 337.5,397.5 339.8,396.2 341.9,397.5 344.2,396.6 346.2,397.9 348.8,395.3 351.1,395.9 352.6,399.1 355.5,396.9 357.8,396.4 359.9,397.3 361.7,399.9 364,400 366.4,400.1 368.4,401.4 370.3,403.6 372.9,401.7 374.6,404.7 376.9,404.4 379.2,404.6 381.6,403.9 384.2,402.4 386,404.8 387.8,407.3 390.9,403.2 392.9,404.6 394.9,406.1 397.2,404.9 399.2,406.7 401.4,407.8 403.7,406.6 405.9,407.2 408,408.2 410.1,409.6 412.3,409.8 414.5,409.5 417.1,406.3 419.2,407.5 421.5,406.9 423.3,410.3 425.3,412 427.8,410.5 430.1,409.5 432.3,409.9 434.4,411.3 436.4,413.2 438.7,412.1 441.2,409.9 443.3,411.2 445.3,412.8" stroke="#d9a35a" stroke-width="0.5" stroke-opacity="0.8" fill="none"/><polyline points="255.4,449.7 257.2,438.1 260.7,428.3 262.8,420.5 265.5,415.3 266.9,411.1 269.3,408.8 271.3,407 273,405.3 273.1,401.4 276,400.5 278.6,398.4 279.9,395.1 282,395.2 284.4,398.1 286.3,398 288.3,397.3 290.3,397.2 292.2,395.4 294.3,396 296.4,396.4 298.4,396.7 300.1,393.7 302.2,394.1 304.2,394.4 306.3,393.6 308.1,396.8 310.1,396.6 312.3,394.3 314.3,393.8 316.2,396.6 318.3,394.3 320.3,394.4 322.2,396.8 324.2,396.8 326.2,395.5 328.2,397.5 330.3,396.9 332.3,396 334.1,393.6 336.2,395.5 338.2,395.2 340.2,395.4 342.2,395.6 344.3,395 346.4,394.8 348.2,396.3 350,397.9 352,398.3 354.4,397.4 356.1,399.1 358.1,399.7 360.1,399.9 361.9,400.7 363.7,401.7 366.2,400.7 368.1,401.7 370.1,402.3 372.4,400.9 374.5,400.6 376.4,402.1 378,403.9 380.1,404.4 381.9,405.6 384.4,403.4 386,406.3 388.1,405.7 390,406.5 392.6,404.1 394.5,404.7 396.1,407.3 398.3,406.2 400.2,407.3 402.1,408 404.2,407.2 406.2,407.8 408.2,408.6 410.3,407.3 412.3,407.3 414.2,408.3 416.1,409.8 418.2,408.8 420.3,408.6 422,410.6 424.1,410.3 426.1,410.8 428.3,409 430.2,411.1 432.2,410.3 434.4,409.4 436.2,411 438.4,410 440.4,410.3 442.5,410.1 444.5,410.3 446.5,410.7" stroke="#5cb85c" stroke-width="0.5" stroke-opacity="0.8" fill="none"/><path d="M251.4 361.25V503.45" stroke="#5a5a5a" stroke-width="0.9"/><path d="M446.4 354.9V503.45" stroke="#5a5a5a" stroke-width="0.9"/><path d="M251.4 503.45H446.4" stroke="#5a5a5a" stroke-width="0.9"/><path d="M251.4 493.97h1M251.4 484.49h1M251.4 475.01h1M251.4 465.53h1M251.4 456.05h1M251.4 446.57h1M251.4 437.09h1M251.4 427.61h1M251.4 418.13h1M251.4 408.65h1M251.4 399.17h1M251.4 389.69h1M251.4 380.21h1M251.4 370.73h1M251.4 361.25h1M257.9 503.45v1M264.4 503.45v1M270.9 503.45v1M277.4 503.45v1M283.9 503.45v1M290.4 503.45v1M296.9 503.45v1M303.4 503.45v1M309.9 503.45v1M316.4 503.45v1M322.9 503.45v1M329.4 503.45v1M335.9 503.45v1M342.4 503.45v1M348.9 503.45v1M355.4 503.45v1M361.9 503.45v1M368.4 503.45v1M374.9 503.45v1M381.4 503.45v1M387.9 503.45v1M394.4 503.45v1M400.9 503.45v1M407.4 503.45v1M413.9 503.45v1M420.4 503.45v1M426.9 503.45v1M433.4 503.45v1M439.9 503.45v1M447.29 490.4h1M447.29 476.04h1M447.29 461.69h1M447.29 447.33h1M447.29 432.98h1M447.29 418.62h1M447.29 404.27h1M447.29 389.91h1M447.29 375.56h1M447.29 361.2h1" stroke="#555" stroke-width="0.8" fill="none"/><rect x="320.82" y="500.15" width="9.1" height="4.6" fill="#fff"/><text transform="translate(249.9 495.34) scale(0.833 1)" font-size="3.79" text-anchor="end" fill="#4a4452" stroke="#4a4452" stroke-width="0.15">0.1</text><text transform="translate(249.9 485.86) scale(0.833 1)" font-size="3.79" text-anchor="end" fill="#4a4452" stroke="#4a4452" stroke-width="0.15">0.2</text><text transform="translate(249.9 476.38) scale(0.833 1)" font-size="3.79" text-anchor="end" fill="#4a4452" stroke="#4a4452" stroke-width="0.15">0.3</text><text transform="translate(249.9 466.9) scale(0.833 1)" font-size="3.79" text-anchor="end" fill="#4a4452" stroke="#4a4452" stroke-width="0.15">0.4</text><text transform="translate(249.9 457.42) scale(0.833 1)" font-size="3.79" text-anchor="end" fill="#4a4452" stroke="#4a4452" stroke-width="0.15">0.5</text><text transform="translate(249.9 447.94) scale(0.833 1)" font-size="3.79" text-anchor="end" fill="#4a4452" stroke="#4a4452" stroke-width="0.15">0.6</text><text transform="translate(249.9 438.46) scale(0.833 1)" font-size="3.79" text-anchor="end" fill="#4a4452" stroke="#4a4452" stroke-width="0.15">0.7</text><text transform="translate(249.9 428.98) scale(0.833 1)" font-size="3.79" text-anchor="end" fill="#4a4452" stroke="#4a4452" stroke-width="0.15">0.8</text><text transform="translate(249.9 419.5) scale(0.833 1)" font-size="3.79" text-anchor="end" fill="#4a4452" stroke="#4a4452" stroke-width="0.15">0.9</text><text transform="translate(249.9 410.02) scale(0.833 1)" font-size="3.79" text-anchor="end" fill="#4a4452" stroke="#4a4452" stroke-width="0.15">1</text><text transform="translate(249.9 400.54) scale(0.833 1)" font-size="3.79" text-anchor="end" fill="#4a4452" stroke="#4a4452" stroke-width="0.15">1.1</text><text transform="translate(249.9 391.06) scale(0.833 1)" font-size="3.79" text-anchor="end" fill="#4a4452" stroke="#4a4452" stroke-width="0.15">1.2</text><text transform="translate(249.9 381.58) scale(0.833 1)" font-size="3.79" text-anchor="end" fill="#4a4452" stroke="#4a4452" stroke-width="0.15">1.3</text><text transform="translate(249.9 372.1) scale(0.833 1)" font-size="3.79" text-anchor="end" fill="#4a4452" stroke="#4a4452" stroke-width="0.15">1.4</text><text transform="translate(249.9 362.62) scale(0.833 1)" font-size="3.79" text-anchor="end" fill="#4a4452" stroke="#4a4452" stroke-width="0.15">1.5</text><text transform="translate(257.9 508.93) scale(0.745 1)" font-size="3.56" text-anchor="middle" fill="#4a4452" stroke="#4a4452" stroke-width="0.15">1</text><text transform="translate(264.4 508.93) scale(0.745 1)" font-size="3.56" text-anchor="middle" fill="#4a4452" stroke="#4a4452" stroke-width="0.15">2</text><text transform="translate(270.9 508.93) scale(0.745 1)" font-size="3.56" text-anchor="middle" fill="#4a4452" stroke="#4a4452" stroke-width="0.15">3</text><text transform="translate(277.4 508.93) scale(0.745 1)" font-size="3.56" text-anchor="middle" fill="#4a4452" stroke="#4a4452" stroke-width="0.15">4</text><text transform="translate(283.9 508.93) scale(0.745 1)" font-size="3.56" text-anchor="middle" fill="#4a4452" stroke="#4a4452" stroke-width="0.15">5</text><text transform="translate(290.4 508.93) scale(0.745 1)" font-size="3.56" text-anchor="middle" fill="#4a4452" stroke="#4a4452" stroke-width="0.15">6</text><text transform="translate(296.9 508.93) scale(0.745 1)" font-size="3.56" text-anchor="middle" fill="#4a4452" stroke="#4a4452" stroke-width="0.15">7</text><text transform="translate(303.4 508.93) scale(0.745 1)" font-size="3.56" text-anchor="middle" fill="#4a4452" stroke="#4a4452" stroke-width="0.15">8</text><text transform="translate(309.9 508.93) scale(0.745 1)" font-size="3.56" text-anchor="middle" fill="#4a4452" stroke="#4a4452" stroke-width="0.15">9</text><text transform="translate(316.4 508.93) scale(0.745 1)" font-size="3.56" text-anchor="middle" fill="#4a4452" stroke="#4a4452" stroke-width="0.15">10</text><text transform="translate(322.9 508.93) scale(0.745 1)" font-size="3.56" text-anchor="middle" fill="#4a4452" stroke="#4a4452" stroke-width="0.15">11</text><text transform="translate(329.4 508.93) scale(0.745 1)" font-size="3.56" text-anchor="middle" fill="#4a4452" stroke="#4a4452" stroke-width="0.15">12</text><text transform="translate(335.9 508.93) scale(0.745 1)" font-size="3.56" text-anchor="middle" fill="#4a4452" stroke="#4a4452" stroke-width="0.15">13</text><text transform="translate(342.4 508.93) scale(0.745 1)" font-size="3.56" text-anchor="middle" fill="#4a4452" stroke="#4a4452" stroke-width="0.15">14</text><text transform="translate(348.9 508.93) scale(0.745 1)" font-size="3.56" text-anchor="middle" fill="#4a4452" stroke="#4a4452" stroke-width="0.15">15</text><text transform="translate(355.4 508.93) scale(0.745 1)" font-size="3.56" text-anchor="middle" fill="#4a4452" stroke="#4a4452" stroke-width="0.15">16</text><text transform="translate(361.9 508.93) scale(0.745 1)" font-size="3.56" text-anchor="middle" fill="#4a4452" stroke="#4a4452" stroke-width="0.15">17</text><text transform="translate(368.4 508.93) scale(0.745 1)" font-size="3.56" text-anchor="middle" fill="#4a4452" stroke="#4a4452" stroke-width="0.15">18</text><text transform="translate(374.9 508.93) scale(0.745 1)" font-size="3.56" text-anchor="middle" fill="#4a4452" stroke="#4a4452" stroke-width="0.15">19</text><text transform="translate(381.4 508.93) scale(0.745 1)" font-size="3.56" text-anchor="middle" fill="#4a4452" stroke="#4a4452" stroke-width="0.15">20</text><text transform="translate(387.9 508.93) scale(0.745 1)" font-size="3.56" text-anchor="middle" fill="#4a4452" stroke="#4a4452" stroke-width="0.15">21</text><text transform="translate(394.4 508.93) scale(0.745 1)" font-size="3.56" text-anchor="middle" fill="#4a4452" stroke="#4a4452" stroke-width="0.15">22</text><text transform="translate(400.9 508.93) scale(0.745 1)" font-size="3.56" text-anchor="middle" fill="#4a4452" stroke="#4a4452" stroke-width="0.15">23</text><text transform="translate(407.4 508.93) scale(0.745 1)" font-size="3.56" text-anchor="middle" fill="#4a4452" stroke="#4a4452" stroke-width="0.15">24</text><text transform="translate(413.9 508.93) scale(0.745 1)" font-size="3.56" text-anchor="middle" fill="#4a4452" stroke="#4a4452" stroke-width="0.15">25</text><text transform="translate(420.4 508.93) scale(0.745 1)" font-size="3.56" text-anchor="middle" fill="#4a4452" stroke="#4a4452" stroke-width="0.15">26</text><text transform="translate(426.9 508.93) scale(0.745 1)" font-size="3.56" text-anchor="middle" fill="#4a4452" stroke="#4a4452" stroke-width="0.15">27</text><text transform="translate(433.4 508.93) scale(0.745 1)" font-size="3.56" text-anchor="middle" fill="#4a4452" stroke="#4a4452" stroke-width="0.15">28</text><text transform="translate(439.9 508.93) scale(0.745 1)" font-size="3.56" text-anchor="middle" fill="#4a4452" stroke="#4a4452" stroke-width="0.15">29</text><text transform="translate(454.2 491.68) scale(0.789 1)" font-size="3.56" text-anchor="end" fill="#333" stroke="#333" stroke-width="0.15">10</text><text transform="translate(454.2 477.32) scale(0.789 1)" font-size="3.56" text-anchor="end" fill="#333" stroke="#333" stroke-width="0.15">20</text><text transform="translate(454.2 462.97) scale(0.789 1)" font-size="3.56" text-anchor="end" fill="#333" stroke="#333" stroke-width="0.15">30</text><text transform="translate(454.2 448.61) scale(0.789 1)" font-size="3.56" text-anchor="end" fill="#333" stroke="#333" stroke-width="0.15">40</text><text transform="translate(454.2 434.26) scale(0.789 1)" font-size="3.56" text-anchor="end" fill="#333" stroke="#333" stroke-width="0.15">50</text><text transform="translate(454.2 419.9) scale(0.789 1)" font-size="3.56" text-anchor="end" fill="#333" stroke="#333" stroke-width="0.15">60</text><text transform="translate(454.2 405.55) scale(0.789 1)" font-size="3.56" text-anchor="end" fill="#333" stroke="#333" stroke-width="0.15">70</text><text transform="translate(454.2 391.19) scale(0.789 1)" font-size="3.56" text-anchor="end" fill="#333" stroke="#333" stroke-width="0.15">80</text><text transform="translate(454.2 376.84) scale(0.789 1)" font-size="3.56" text-anchor="end" fill="#333" stroke="#333" stroke-width="0.15">90</text><text transform="translate(454.2 362.48) scale(0.789 1)" font-size="3.56" text-anchor="end" fill="#333" stroke="#333" stroke-width="0.15">100</text><text transform="translate(243.63 432.35) rotate(-90) scale(1.104 1)" font-size="3.34" text-anchor="middle" fill="#555" stroke="#555" stroke-width="0.15">Torque(Nm)</text><text transform="translate(457.85 430.05) rotate(90) scale(1.075 1)" font-size="4.3" text-anchor="middle" fill="#333" stroke="#333" stroke-width="0.1">Temperature     (°C)</text><text transform="translate(348.25 515.49) scale(0.757 1)" font-size="3.72" text-anchor="middle" fill="#333" stroke="#333" stroke-width="0.15">Time (min)</text><path d="M241 516.75H446.4V503.45" stroke="#dcf3dc" stroke-width="0.9" fill="none"/><text transform="translate(241.33 521.81) scale(0.858 1)" font-size="4.06" fill="#1a1a1a" stroke="#1a1a1a" stroke-width="0.15">amara</text><text transform="translate(306.65 521.81) scale(0.858 1)" font-size="4.06" fill="#1a1a1a" stroke="#1a1a1a" stroke-width="0.15">Mixing</text><text transform="translate(340.45 521.81) scale(0.858 1)" font-size="4.06" fill="#1a1a1a" stroke="#1a1a1a" stroke-width="0.15">1/2</text><text transform="translate(363.2 521.81) scale(0.858 1)" font-size="4.06" fill="#1a1a1a" stroke="#1a1a1a" stroke-width="0.15">Device N°</text><text transform="translate(390.5 521.81) scale(0.858 1)" font-size="4.06" fill="#1a1a1a" stroke="#1a1a1a" stroke-width="0.15">499</text><text transform="translate(405.77 521.81) scale(0.858 1)" font-size="4.06" fill="#1a1a1a" stroke="#1a1a1a" stroke-width="0.15">Version4.0.8r4.1i</text><text transform="translate(449 521.81) scale(0.858 1)" font-size="4.06" fill="#1a1a1a" stroke="#1a1a1a" stroke-width="0.15">TNC</text><text x="261.4" y="377.6" font-family='"Liberation Serif", serif' font-weight="bold" font-size="12" fill="#000">D8</text></g><g><path d="M476 486.26H670.1M476 476.52H670.1M476 466.78H670.1M476 457.04H670.1M476 447.3H670.1M476 437.56H670.1M476 427.82H670.1M476 418.08H670.1M476 408.34H670.1M476 398.6H670.1M476 388.86H670.1M476 379.12H670.1M476 369.38H670.1M476 359.64H670.1" stroke="#e4e4e4" stroke-width="0.9" fill="none"/><path d="M482.47 359.64V496M488.94 359.64V496M495.41 359.64V496M501.88 359.64V496M508.35 359.64V496M514.82 359.64V496M521.29 359.64V496M527.76 359.64V496M534.23 359.64V496M540.7 359.64V496M547.17 359.64V496M553.64 359.64V496M560.11 359.64V496M566.58 359.64V496M573.05 359.64V496M579.52 359.64V496M585.99 359.64V496M592.46 359.64V496M598.93 359.64V496M605.4 359.64V496M611.87 359.64V496M618.34 359.64V496M624.81 359.64V496M631.28 359.64V496M637.75 359.64V496M644.22 359.64V496M650.69 359.64V496M657.16 359.64V496M663.63 359.64V496" stroke="#dfdfdf" stroke-width="0.9" fill="none"/><path d="M476 442.43H670.1" stroke="#c990d4" stroke-width="1"/><path d="M476 440H670.1M476 444.87H670.1" stroke="#c58ad2" stroke-width="0.9" stroke-dasharray="0.9 1.5"/><polyline points="476,449.1 479.24,448.84 482.47,448.6 485.7,448.37 488.94,448.16 492.18,447.96 495.41,447.78 498.64,447.61 501.88,447.45 505.12,447.3 508.35,447.16 511.58,447.03 514.82,446.91 518.05,446.8 521.29,446.7 524.52,446.6 527.76,446.51 531,446.43 534.23,446.35 537.47,446.28 540.7,446.21 543.93,446.15 547.17,446.09 550.4,446.04 553.64,445.98 556.88,445.94 560.11,445.89 563.35,445.85 566.58,445.81 569.82,445.78 573.05,445.75 576.28,445.71 579.52,445.69 582.75,445.66 585.99,445.63 589.23,445.61 592.46,445.59 595.69,445.57 598.93,445.55 602.16,445.53 605.4,445.52 608.63,445.5 611.87,445.49 615.11,445.48 618.34,445.46 621.58,445.45 624.81,445.44 628.04,445.43 631.28,445.42 634.51,445.41 637.75,445.41 640.99,445.4 644.22,445.39 647.45,445.39 650.69,445.38 653.92,445.37 657.16,445.37 660.39,445.36 663.63,445.36 666.87,445.36 670.1,445.35" stroke="#f27af2" stroke-width="1" fill="none"/><path d="M476 454.99H669.2V496" stroke="#f47c7c" stroke-width="1" fill="none"/><polyline points="476,496 476.5,492.76 477,488.38 477.5,482.96 478,476.77 478.5,469.6 479,461.97 479.5,455.5 480,449.99 480.5,446.11 481,443.09 481.5,440.5 482,438.23 482.5,436.23" stroke="#eea860" stroke-width="1.1" fill="none" transform="translate(0.9,0.9)"/><polyline points="476,496 476.5,492.76 477,488.38 477.5,482.96 478,476.77 478.5,469.6 479,461.97 479.5,455.5 480,449.99 480.5,446.11 481,443.09 481.5,440.5 482,438.23 482.5,436.23" stroke="#8cc88c" stroke-width="0.8" fill="none" transform="translate(-0.9,0)"/><polyline points="476,496 476.5,492.76 477,488.38 477.5,482.96 478,476.77 478.5,469.6 479,461.97 479.5,455.5 480,449.99 480.5,446.11 481,443.09 481.5,440.5 482,438.23 482.5,436.23" stroke="#3a5fcd" stroke-width="0.9" fill="none"/><polyline points="480.5,444 480.2,439.6 484.4,437 483.8,433.6 483.8,430.8 484.8,429 485.5,427.4 484.6,425 486.2,424.3 486,422.4 490.7,424 490.6,422.2 490,420.1 493.3,420.9 491.4,417.7 493.6,418.4 493.9,418.6 495.7,416.7 495.4,418.3 496.6,417.2 497,418.5 497.7,418.9 498.5,417.5 499.4,421.6 500.3,421.7 500.4,416.5 502.1,421.8 501.8,416.2 504,421 503.4,416.8 505.4,419.3 504.3,415.8 508.1,418.6 506.4,415.2 507.5,414.4 508.6,414.4 510,417.9 510.2,413.2 511.1,412.8 512.1,413.9 513.2,413 513.4,416.8 514.1,418 515.2,417 515.9,418.1 516.9,413.4 517.6,414.3 518.5,414.1 519.2,417.1 520.1,414.4 520.9,413.5 521.8,412.8 522.8,413.4 523,417.3 523.8,417.3 525.2,414.2 525.2,419.2 526.1,418.7 527.1,417.9 528,415.7 528.8,416.8 529.6,415.1 530.6,419 531.1,415.2 532.1,417 532.7,415.3 533.5,414.7 533.9,413.5 534.5,414.2 535.7,414.6 537.1,415.9 538,412.1 537.5,416.8 539.4,415.5 538.4,418.6 540.8,416.8 542,415.9 541.9,418.8 544.1,414.9 544.7,415.5 545.5,415.8 546.4,415.6 545.8,420.5 547.7,417.4 547.6,420.2 549.8,416.7 550.2,418 550.3,420.1 550.9,421.1 552.8,418.3 553.5,418.9 553.9,420.3 554.2,421.9 555.4,420.9 556.9,419.2 556.5,423 557.2,423.6 558.7,421.5 558.8,424.4 560.3,421.9 560.9,422.8 561.9,422.3 563,421.1 563.3,423.6 563.7,425.5 565.3,421.9 565.5,424.8 565.8,427.2 567.6,423 568.3,423.8 569.1,423.8 569.3,426.5 570.1,427.1 571.3,425.2 572.3,424.1 572.9,425.3 574,424 574.4,426.5 575.5,424.6 576.1,426.1 577,425.4 577.6,427.1 578.2,428 579.1,427.5 580.4,424.4 580.8,427.4 581.9,425.1 582.7,425.3 583.2,428 583.9,428.3 584.8,427.4 585.7,426.9 586.6,425.9 586.9,430.5 588.1,426.8 588.9,427.6 589.5,429.7 590.4,428.6 591.4,425.8 592.1,427.5 593,426.6 593.8,426.2 594.6,426.2 595.1,430.9 596.1,426.6 596.7,431 597.6,429.5 598.4,429.5 599.1,429.7 600.3,426 601,427.8 601.3,431.5 602.4,429.7 603,430.9 604,429.4 605.1,427.5 605.4,431.3 606.3,431 607.6,427.2 607.7,432 608.7,430.8 609.8,429 610.3,430.8 611.1,431.5 612.2,429.3 612.6,432.6 613.5,431.7 614.7,427.8 615,432.9 615.8,432.8 616.7,431.7 617.7,429.8 618.1,433.9 619.4,429.3 619.9,432.5 621.1,428.3 621.9,428.4 622.6,429.5 623.1,432.3 623.8,434 624.8,432.2 625.4,433.4 626.7,429.7 626.9,434.4 627.9,433.2 629,430.5 629.8,429.7 630.3,434.4 631.3,429.7 632,431.8 632.9,429.6 633.7,430.7 634.4,434.2 635.3,429.9 636,433.5 636.9,430.6 637.7,430.1 638.5,430.4 639.1,434.5 640,433.1 640.8,432.4 641.5,434.6 642.3,434.6 643.3,432.3 643.9,434.2 644.8,432.9 645.5,435.7 646.5,432.3 647.3,432.5 647.9,435.5 648.7,435.3 649.5,435.8 650.5,432 651,435.6 652,433.4 653,431.9 653.6,434.2 654.4,433.4 655.1,434.5 655.8,436 656.8,434.6 657.7,432 658.6,431.4 659.3,432.4 660,434 660.7,436.1 661.6,434.9 662.3,435.6 663.1,435.5 663.9,435.3 665,432.1 665.7,433.6 666.3,435.7 667.5,432.2 668.3,431.8 668.7,435.4 669.7,434" stroke="#eaa862" stroke-width="0.7" fill="none"/><polyline points="483.7,444.6 483.7,440.3 480.8,436.1 486,434.3 483.5,430.7 487.3,430.2 484.1,426.6 485.4,425.5 489.6,426.6 486.2,422.5 488.9,422.8 488.9,421.1 492.4,421.7 489,417.6 490.2,416.4 492.8,417.6 493.9,418.9 496.3,416.2 494.9,419.2 496.2,418.2 496.4,420.7 497.7,419 498.5,417.7 499.2,419.4 500.3,421.4 500.6,417.9 501.9,420.5 502.7,420.1 503,418.1 504.3,419.1 503.8,415.8 506.8,419.2 504.3,414.6 506.2,414.9 508.2,416 508.4,413 509.3,412.9 510.6,417 511.2,415.1 512.2,412.3 512.8,415.4 513.4,416.9 514.7,413.3 515.1,417.9 516.1,412.1 516.8,415.2 517.6,416.1 518.4,418.4 519.3,412.9 520,415.3 520.8,417.4 521.8,412.9 522.8,412.9 523.1,416.4 524.1,415.8 524.9,416 525.3,418.2 526.3,417.6 527.2,416.6 528,417.3 528.8,413.9 529.5,413.7 530.6,419.5 531.2,416.3 532.1,417.1 532.6,414.3 533.5,415.4 534.1,414.6 534.4,414.1 534.5,412.5 537.6,417.2 537.3,417.6 538.8,414.5 537.7,417.8 541.5,414.1 541,416.3 541.9,416.2 542.6,416.8 542.4,420.3 544.2,417.2 545.6,415.3 545.4,419.1 546.2,419.2 547.5,418 547.3,421.2 548.9,419.2 549.8,419 549.5,422.5 551.5,419.5 551.4,422.3 552.6,421.6 553.6,421.2 553.4,424.5 554.3,424.5 557.1,418.6 556.6,422.9 558.4,419.9 557.5,425.6 559.5,421.8 559.5,425.1 561,422.5 561.9,422.3 561.9,425.8 563.5,422.5 564,424.2 564.2,427 564.9,427.7 566.3,425.3 566.6,427.4 567.5,427.3 569.4,422.6 570.3,422.3 570.4,425.5 571,426.7 571.5,428.3 573.4,423 573.9,424.2 574.3,427.1 575,427.8 576,426.3 577.2,423.9 578.1,423.6 578,429.8 579.1,427.7 580.4,424.4 580.7,428.4 581.9,424.8 582.7,425.2 583.2,427.8 584.2,426.2 584.9,426.5 585.5,429.2 586.5,427.3 587.1,429.5 587.9,429.1 589,425.9 589.6,427.8 590.3,429.4 591.2,428.9 592,428 592.6,431.8 593.5,431 594.4,428.4 595.1,431.4 595.8,431.7 596.7,431.2 597.4,431.5 598.7,425.8 599.2,428.5 599.8,431.4 600.8,429.6 601.9,426.8 602.4,429.7 602.9,431.9 603.6,432.6 605.2,426.6 605.6,429.6 606.6,428.4 607.5,428 607.9,430.5 609.1,427.6 609.3,432.9 610.2,432.2 611.3,429.3 612.3,428 613,428.8 613.6,431.2 614.2,432.6 615,432.6 615.9,432.5 616.8,431.5 617.3,433.9 618.6,429.5 619.4,429 619.8,433.4 621,428.9 621.5,432.6 622.4,431.9 623.3,430.7 624.1,430.8 624.8,432.1 625.3,434.5 626.7,429.7 627.2,432 628.2,430.1 629.1,429.3 629.9,428.8 630.6,429.5 631.3,431 632,433.8 632.9,429.5 633.6,434.7 634.5,429.6 635.3,430.6 636,431.6 636.8,434.6 637.5,435.2 638.3,434.3 639.4,429.1 640.1,430.6 640.6,435.7 641.8,429.8 642.6,430 643.3,431.9 644.2,430.3 645,429.8 645.7,431.8 646.6,430.3 647.3,431.9 648.1,432.4 648.9,431.9 649.5,434.8 650.6,431 651.3,432.1 651.8,435.7 652.9,433.1 653.8,432 654.1,436.4 655.4,432.1 656.1,433 656.7,434.9 657.5,435.5 658.4,434.2 659.1,436.5 660.1,432.3 661,431.2 661.5,436.9 662.3,435.4 663.3,433.1 663.8,436.9 664.7,435.3 665.4,436.9 666.2,436.3 667.3,434 667.7,437.8 668.8,434.9 669.8,433.1" stroke="#70c070" stroke-width="0.7" fill="none"/><polygon points="480.5,444.6 481.5,438.9 482.5,434.7 483.5,431 484.5,428.2 485.5,426.1 486.5,424.5 487.5,423 488.5,421.6 489.5,420.2 490.5,418.7 491.5,417.4 492.5,416.3 493.5,415.6 494.5,416.2 495.5,417.1 496.5,417.5 497.5,417.7 498.5,417.8 499.5,417.8 500.5,417.6 501.5,417.5 502.5,417.3 503.5,417 504.5,416.6 505.5,416.1 506.5,415.2 507.5,414.3 508.5,413.9 509.5,413.7 510.5,413.6 511.5,413.5 512.5,413.6 513.5,413.7 514.5,413.9 515.5,413.9 516.5,414 517.5,414 518.5,414 519.5,414 520.5,414.1 521.5,414.1 522.5,414.2 523.5,414.4 524.5,414.6 525.5,414.8 526.5,414.9 527.5,415 528.5,415 529.5,414.9 530.5,414.9 531.5,414.8 532.5,414.7 533.5,414.6 534.5,414.5 535.5,414.1 536.5,413.6 537.5,413.3 538.5,413.7 539.5,414.4 540.5,415 541.5,415.4 542.5,415.8 543.5,416.1 544.5,416.4 545.5,416.7 546.5,417 547.5,417.3 548.5,417.7 549.5,418 550.5,418.4 551.5,418.8 552.5,419.1 553.5,419.5 554.5,419.8 555.5,420.1 556.5,420.4 557.5,420.7 558.5,421 559.5,421.3 560.5,421.6 561.5,421.9 562.5,422.1 563.5,422.3 564.5,422.5 565.5,422.8 566.5,423 567.5,423.2 568.5,423.4 569.5,423.7 570.5,423.9 571.5,424.1 572.5,424.3 573.5,424.5 574.5,424.6 575.5,424.8 576.5,425 577.5,425.1 578.5,425.3 579.5,425.4 580.5,425.5 581.5,425.7 582.5,425.8 583.5,425.9 584.5,426 585.5,426.1 586.5,426.2 587.5,426.3 588.5,426.4 589.5,426.5 590.5,426.6 591.5,426.7 592.5,426.8 593.5,426.9 594.5,426.9 595.5,427 596.5,427.1 597.5,427.1 598.5,427.2 599.5,427.3 600.5,427.4 601.5,427.5 602.5,427.6 603.5,427.7 604.5,427.9 605.5,428 606.5,428.1 607.5,428.2 608.5,428.4 609.5,428.5 610.5,428.6 611.5,428.8 612.5,428.9 613.5,429 614.5,429.1 615.5,429.2 616.5,429.3 617.5,429.4 618.5,429.5 619.5,429.6 620.5,429.7 621.5,429.8 622.5,429.9 623.5,429.9 624.5,430 625.5,430.1 626.5,430.2 627.5,430.4 628.5,430.5 629.5,430.6 630.5,430.7 631.5,430.7 632.5,430.7 633.5,430.8 634.5,430.8 635.5,430.8 636.5,430.9 637.5,430.9 638.5,430.9 639.5,431 640.5,431 641.5,431.1 642.5,431.2 643.5,431.2 644.5,431.3 645.5,431.4 646.5,431.4 647.5,431.5 648.5,431.5 649.5,431.6 650.5,431.7 651.5,431.7 652.5,431.8 653.5,431.9 654.5,432 655.5,432.1 656.5,432.2 657.5,432.3 658.5,432.3 659.5,432.4 660.5,432.5 661.5,432.5 662.5,432.6 663.5,432.6 664.5,432.7 665.5,432.8 666.5,432.9 667.5,433 668.5,433.1 669.5,433.2 670,436.4 669,436.3 668,436.1 667,436 666,435.9 665,435.9 664,435.8 663,435.7 662,435.6 661,435.6 660,435.5 659,435.5 658,435.4 657,435.3 656,435.3 655,435.2 654,435.1 653,435 652,434.9 651,434.8 650,434.7 649,434.7 648,434.6 647,434.5 646,434.5 645,434.4 644,434.4 643,434.3 642,434.2 641,434.2 640,434.1 639,434.1 638,434 637,434 636,433.9 635,433.9 634,433.9 633,433.9 632,433.8 631,433.8 630,433.7 629,433.6 628,433.5 627,433.4 626,433.3 625,433.2 624,433.1 623,433 622,432.9 621,432.8 620,432.7 619,432.6 618,432.6 617,432.5 616,432.4 615,432.2 614,432.1 613,432 612,431.9 611,431.8 610,431.7 609,431.5 608,431.4 607,431.3 606,431.1 605,431 604,430.9 603,430.8 602,430.7 601,430.5 600,430.4 599,430.3 598,430.3 597,430.2 596,430.1 595,430.1 594,430 593,429.9 592,429.9 591,429.8 590,429.7 589,429.6 588,429.5 587,429.4 586,429.3 585,429.2 584,429.1 583,428.9 582,428.8 581,428.7 580,428.6 579,428.4 578,428.3 577,428.1 576,428 575,427.8 574,427.6 573,427.5 572,427.3 571,427.1 570,426.9 569,426.6 568,426.4 567,426.2 566,426 565,425.8 564,425.5 563,425.3 562,425.1 561,424.8 560,424.6 559,424.3 558,424 557,423.7 556,423.4 555,423 554,422.7 553,422.4 552,422 551,421.7 550,421.3 549,421 548,420.6 547,420.3 546,419.9 545,419.6 544,419.4 543,419 542,418.7 541,418.3 540,417.8 539,417.1 538,416.5 537,416.5 536,416.9 535,417.4 534,417.7 533,417.8 532,417.9 531,418 530,418 529,418.1 528,418.1 527,418 526,417.9 525,417.8 524,417.6 523,417.4 522,417.3 521,417.2 520,417.1 519,417.1 518,417.1 517,417.1 516,417 515,417 514,416.9 513,416.7 512,416.6 511,416.6 510,416.7 509,416.9 508,417.1 507,417.9 506,418.8 505,419.5 504,419.9 503,420.3 502,420.5 501,420.7 500,420.8 499,420.9 498,420.9 497,420.7 496,420.4 495,419.9 494,418.8 493,419 492,419.9 491,421.1 490,422.5 489,424 488,425.4 487,426.8 486,428.4 485,430.2 484,432.5 483,435.9 482,439.8 481,444.6" fill="#1e961e"/><polyline points="480.5,446.1 481.5,440.5 482.5,436.2 483.5,432.5 484.5,429.7 485.5,427.7 486.5,426 487.5,424.6 488.5,423.2 489.5,421.7 490.5,420.3 491.5,418.9 492.5,417.9 493.5,417.1 494.5,417.8 495.5,418.7 496.5,419 497.5,419.3 498.5,419.3 499.5,419.3 500.5,419.2 501.5,419 502.5,418.9 503.5,418.6 504.5,418.2 505.5,417.6 506.5,416.8 507.5,415.9 508.5,415.4 509.5,415.2 510.5,415.1 511.5,415.1 512.5,415.1 513.5,415.3 514.5,415.4 515.5,415.5 516.5,415.5 517.5,415.5 518.5,415.6 519.5,415.6 520.5,415.6 521.5,415.7 522.5,415.8 523.5,415.9 524.5,416.1 525.5,416.3 526.5,416.4 527.5,416.5 528.5,416.5 529.5,416.5 530.5,416.4 531.5,416.4 532.5,416.3 533.5,416.2 534.5,416 535.5,415.6 536.5,415.1 537.5,414.9 538.5,415.2 539.5,415.9 540.5,416.6 541.5,417 542.5,417.3 543.5,417.7 544.5,417.9 545.5,418.2 546.5,418.5 547.5,418.9 548.5,419.2 549.5,419.6 550.5,419.9 551.5,420.3 552.5,420.7 553.5,421 554.5,421.3 555.5,421.7 556.5,422 557.5,422.3 558.5,422.6 559.5,422.9 560.5,423.1 561.5,423.4 562.5,423.6 563.5,423.9 564.5,424.1 565.5,424.3 566.5,424.5 567.5,424.8 568.5,425 569.5,425.2 570.5,425.4 571.5,425.6 572.5,425.8 573.5,426 574.5,426.2 575.5,426.3 576.5,426.5 577.5,426.7 578.5,426.8 579.5,426.9 580.5,427.1 581.5,427.2 582.5,427.3 583.5,427.4 584.5,427.6 585.5,427.7 586.5,427.8 587.5,427.9 588.5,428 589.5,428.1 590.5,428.2 591.5,428.3 592.5,428.4 593.5,428.4 594.5,428.5 595.5,428.6 596.5,428.6 597.5,428.7 598.5,428.8 599.5,428.8 600.5,428.9 601.5,429.1 602.5,429.2 603.5,429.3 604.5,429.4 605.5,429.5 606.5,429.7 607.5,429.8 608.5,429.9 609.5,430.1 610.5,430.2 611.5,430.3 612.5,430.4 613.5,430.5 614.5,430.6 615.5,430.7 616.5,430.9 617.5,431 618.5,431 619.5,431.1 620.5,431.2 621.5,431.3 622.5,431.4 623.5,431.5 624.5,431.6 625.5,431.7 626.5,431.8 627.5,431.9 628.5,432 629.5,432.1 630.5,432.2 631.5,432.3 632.5,432.3 633.5,432.3 634.5,432.4 635.5,432.4 636.5,432.4 637.5,432.4 638.5,432.5 639.5,432.5 640.5,432.6 641.5,432.7 642.5,432.7 643.5,432.8 644.5,432.9 645.5,432.9 646.5,433 647.5,433 648.5,433.1 649.5,433.1 650.5,433.2 651.5,433.3 652.5,433.4 653.5,433.5 654.5,433.6 655.5,433.7 656.5,433.8 657.5,433.8 658.5,433.9 659.5,434 660.5,434 661.5,434.1 662.5,434.1 663.5,434.2 664.5,434.3 665.5,434.4 666.5,434.4 667.5,434.5 668.5,434.7 669.5,434.8" stroke="#1e961e" stroke-width="2.2" fill="none" stroke-linejoin="round"/><polyline points="480.2,444 479.9,440.1 482.7,437.4 482.2,434.4 483.1,431.9 483.4,429.8 486.3,429.3 485.4,427.1 486,425.9 487.4,425.3 487.8,424.1 488.7,423.3 489.9,422.6 489.6,420.9 490.7,420.1 491.1,418.9 492.3,418.7 493.8,418.8 493.5,417.4 492.8,418.7 494,418.9 496.1,417.3 496.3,418.6 497.4,417.2 497.8,418.3 498.3,419.2 499,418.6 499.8,420.2 500.4,419.4 500.9,418 501.8,419.1 502.8,419.9 503.6,419.7 503.4,417 505.2,419.4 504.4,416.1 504.8,415.9 507.2,417.1 506.2,414.4 507.6,414.3 509.1,416.7 509.8,417.1 510.3,416.1 511,415.9 511.6,415.3 512.4,414.2 513.2,414.1 513.9,414.1 514.2,417 515.2,413.8 515.8,414.9 516.5,415.6 517.2,415.8 517.9,416.4 518.6,415.4 519.3,415.9 520,417 520.7,415 521.3,417.6 522,416.8 523.1,414.4 523.4,416.6 524.4,414.9 524.9,416.5 525.9,414.4 526.4,415.9 526.9,418.4 527.7,418.4 528.4,415.1 529.2,417.5 529.8,415.8 530.4,414.9 531.1,415.3 532,417.2 532.5,415 533.2,415.2 533.8,414 534.2,414.4 535.1,415.1 536.4,415.9 537.5,416.9 537.5,414.5 538,415.6 538,416.8 539.6,416.1 540.9,415.4 540.5,418.1 542.4,415.1 542.3,417.8 543.6,415.9 543.6,418.7 544.3,418.7 544.8,419.5 545.4,420.2 546,420.5 547.4,418.5 548.2,418.7 549.4,417.4 549.4,419.7 550.2,419.5 550.2,421.8 551.9,419.2 552.3,420.5 553.3,419.7 553.1,422.6 554.3,421.4 555.4,420.4 555.6,422.2 556.9,420.4 557.5,421.1 557.8,422.6 558.9,421.3 558.8,424.3 559.7,423.7 560.3,424.5 561.1,424.3 562,423.5 562.8,423.4 563.6,423.2 564.1,424 564.9,423.7 565.7,423.7 566.1,425.2 567.1,423.7 567.8,423.9 568.8,422.9 568.8,426.3 569.4,426.9 570.8,423.4 571.3,424.8 571.5,427.2 572.5,426.1 573.2,425.9 574,425.5 574.5,427.2 575.6,424.6 576.3,424.5 576.6,427.4 577.5,426 578,427.4 578.7,427.9 579.5,426.8 580.2,427.3 580.8,427.8 581.7,426.6 582.1,429 583.1,427 583.8,426.7 584.6,426.3 585.3,426.4 585.9,427.4 586.7,426.5 587.1,429.1 588,426.9 588.5,428.7 589.3,428.1 590.1,427.6 590.6,430 591.4,428 592.3,426.6 592.7,430.2 593.7,426.4 594.1,430.2 595,428.1 595.6,429.1 596.3,429.7 597.1,428 597.8,427.2 598.4,428.9 598.9,430.9 599.9,428.5 600.4,430 601.4,427.5 602,428.3 602.5,430.4 603.5,427.9 604,429.6 604.6,430 605.7,427.4 606.2,429.2 606.6,431.8 607.8,428 608.3,429.2 608.7,431.4 609.7,429.2 610.5,428.9 611,430.3 611.5,432.2 612.6,429.1 613.1,430.3 613.6,432.3 614.5,430.7 615.4,429.5 616,430.3 616.7,429.9 617.3,430.7 618,431.2 618.7,431.1 619.5,430.2 620,432.6 621,429.3 621.6,430.7 622.1,432.3 623.1,429.4 623.8,430.1 624.5,430.1 625.1,431.3 625.9,430.3 626.5,431 627.3,430.5 627.7,433.4 628.5,432.1 629.3,431 630,431.4 630.7,431.6 631.3,431.9 632,432.1 632.7,432.8 633.4,432.3 634.1,434.3 634.8,433.8 635.5,433 636.2,433 636.9,433.1 637.6,433.6 638.4,430.7 638.9,434.4 639.8,430.5 640.4,433.7 641,434.3 641.8,432.8 642.5,433.7 643.2,433 644,430.9 644.5,434.5 645.4,431.5 645.9,434.5 646.7,433.5 647.5,431.6 648.2,432.5 648.8,433.6 649.6,432.4 650.3,432.3 650.9,433.9 651.7,432.2 652.2,434.2 653,433.2 653.9,432.2 654.3,434.7 655.3,431.8 655.7,434.8 656.5,434 657.4,431.8 657.9,434.5 658.6,433.7 659.4,432.5 660,434.6 660.7,434.1 661.3,436.1 662.1,435.1 662.8,434.4 663.7,432.5 664.1,436 664.9,434.4 665.5,435.6 666.4,433.4 667.1,433.6 667.8,433.9 668.5,433.8 668.9,436.6 669.8,435" stroke="#007c00" stroke-width="0.8" fill="none"/><polyline points="481.8,444.2 484.6,434.7 486.2,428.7 488.8,425.7 488.6,420.9 492.6,419.3 493.6,417.8 496.6,417.9 498.4,418.3 500.9,420.8 502.4,417.4 504.8,417.4 507,415.8 509.3,414.3 511.6,414.3 513.6,416.5 516.1,414.7 518.2,415.8 520.5,413.8 522.7,415.4 524.6,417.5 526.9,418.1 529.2,415.8 531.3,415.2 533.8,417.3 535.4,414.6 538.5,413.7 540.6,415.9 542.7,416.6 545,416.7 546.1,420.9 548.9,419.8 550.6,422 553.6,420.5 555,423.5 557.5,423.6 560.1,422.9 562.4,422.7 564.3,424.6 566.1,426.9 568.6,426 570.6,427.6 573.4,425 575.3,427.1 577.4,428.1 579.6,428.4 581.8,428.9 584.2,427.7 586.4,428.3 588.4,429.7 591,426.4 593,429.3 595.3,427.8 597.5,427.3 599.6,429.4 601.7,430.5 603.7,431.7 606.3,429.1 608.7,427.6 610.7,429.9 613,429 614.9,431.8 617.1,432.2 619.3,432.6 621.8,429.8 623.9,430.7 625.8,434.1 628.1,432.7 630.3,434.3 632.7,431.4 634.8,432.3 637.1,430.8 639.3,430.9 641.5,430.9 643.7,431.4 645.9,431.7 648,433 650.3,431.6 652.2,435.3 654.5,435.1 656.8,434.7 658.9,435.5 661.3,432.3 663.5,432.7 665.7,433.9 667.9,433.9 669.9,436.2" stroke="#d9a35a" stroke-width="0.5" stroke-opacity="0.8" fill="none"/><polyline points="479.4,443.9 482.7,435 484.7,428.9 486.8,425.5 489.9,423.5 491.6,420.4 492.2,416.9 494.4,418.5 497.1,418 498.8,419.4 500.6,417.8 502.8,418.8 504.2,416.6 508,417.7 509.1,417 510.7,414 512.9,414.5 514.9,413.8 516.8,414.6 518.8,414.8 520.8,416.7 523,414.9 524.9,415.8 526.8,417 528.9,417.9 530.9,417 533,417.5 535.3,417.1 536.3,413.4 538.3,416.2 540.2,418.2 542.9,417.1 544.5,419.3 547,418 549.1,418.5 550.9,420 552.8,420.8 554.8,421.4 556.7,422.5 559.3,421.2 561.1,422.2 562.6,424.8 565.1,423 566.9,424.5 568.7,425.5 571,424.5 572.8,426 575,425.4 576.9,426.1 578.7,427.8 580.7,428.4 582.8,427.7 584.6,429.4 586.7,429.4 588.8,428.5 590.9,427.5 592.7,429.6 594.9,428.1 596.9,428.2 598.9,427.9 600.7,430.5 602.7,430.6 604.9,429 607,428.5 608.7,431 610.8,430.4 612.6,432.3 614.7,431.4 616.7,432.3 618.8,431.8 621,429.7 622.7,432.8 624.9,430.6 626.9,431.6 628.9,431.5 630.9,430.7 632.8,432.3 634.8,433.1 636.8,433.9 638.8,433.3 640.9,431.2 642.9,431.5 644.9,431.5 646.8,433.5 648.8,432.8 650.7,435.1 652.7,434.6 654.8,433.8 656.7,435.1 658.9,432.3 660.8,434 662.8,435.2 664.9,433.9 666.7,435.7 668.7,435.7" stroke="#5cb85c" stroke-width="0.5" stroke-opacity="0.8" fill="none"/><path d="M476 359.64V496" stroke="#5a5a5a" stroke-width="0.9"/><path d="M670.1 352.3V496" stroke="#5a5a5a" stroke-width="0.9"/><path d="M476 496H670.1" stroke="#5a5a5a" stroke-width="0.9"/><path d="M476 486.26h1M476 476.52h1M476 466.78h1M476 457.04h1M476 447.3h1M476 437.56h1M476 427.82h1M476 418.08h1M476 408.34h1M476 398.6h1M476 388.86h1M476 379.12h1M476 369.38h1M476 359.64h1M482.47 496v1M488.94 496v1M495.41 496v1M501.88 496v1M508.35 496v1M514.82 496v1M521.29 496v1M527.76 496v1M534.23 496v1M540.7 496v1M547.17 496v1M553.64 496v1M560.11 496v1M566.58 496v1M573.05 496v1M579.52 496v1M585.99 496v1M592.46 496v1M598.93 496v1M605.4 496v1M611.87 496v1M618.34 496v1M624.81 496v1M631.28 496v1M637.75 496v1M644.22 496v1M650.69 496v1M657.16 496v1M663.63 496v1M670.99 484.3h1M670.99 470.47h1M670.99 456.63h1M670.99 442.8h1M670.99 428.97h1M670.99 415.13h1M670.99 401.3h1M670.99 387.47h1M670.99 373.63h1M670.99 359.8h1" stroke="#555" stroke-width="0.8" fill="none"/><rect x="545.1" y="492.7" width="9.06" height="4.6" fill="#fff"/><text transform="translate(474.5 487.57) scale(0.864 1)" font-size="3.64" text-anchor="end" fill="#4a4452" stroke="#4a4452" stroke-width="0.15">0.2</text><text transform="translate(474.5 477.83) scale(0.864 1)" font-size="3.64" text-anchor="end" fill="#4a4452" stroke="#4a4452" stroke-width="0.15">0.4</text><text transform="translate(474.5 468.09) scale(0.864 1)" font-size="3.64" text-anchor="end" fill="#4a4452" stroke="#4a4452" stroke-width="0.15">0.6</text><text transform="translate(474.5 458.35) scale(0.864 1)" font-size="3.64" text-anchor="end" fill="#4a4452" stroke="#4a4452" stroke-width="0.15">0.8</text><text transform="translate(474.5 448.61) scale(0.864 1)" font-size="3.64" text-anchor="end" fill="#4a4452" stroke="#4a4452" stroke-width="0.15">1</text><text transform="translate(474.5 438.87) scale(0.864 1)" font-size="3.64" text-anchor="end" fill="#4a4452" stroke="#4a4452" stroke-width="0.15">1.2</text><text transform="translate(474.5 429.13) scale(0.864 1)" font-size="3.64" text-anchor="end" fill="#4a4452" stroke="#4a4452" stroke-width="0.15">1.4</text><text transform="translate(474.5 419.39) scale(0.864 1)" font-size="3.64" text-anchor="end" fill="#4a4452" stroke="#4a4452" stroke-width="0.15">1.6</text><text transform="translate(474.5 409.65) scale(0.864 1)" font-size="3.64" text-anchor="end" fill="#4a4452" stroke="#4a4452" stroke-width="0.15">1.8</text><text transform="translate(474.5 399.91) scale(0.864 1)" font-size="3.64" text-anchor="end" fill="#4a4452" stroke="#4a4452" stroke-width="0.15">2</text><text transform="translate(474.5 390.17) scale(0.864 1)" font-size="3.64" text-anchor="end" fill="#4a4452" stroke="#4a4452" stroke-width="0.15">2.2</text><text transform="translate(474.5 380.43) scale(0.864 1)" font-size="3.64" text-anchor="end" fill="#4a4452" stroke="#4a4452" stroke-width="0.15">2.4</text><text transform="translate(474.5 370.69) scale(0.864 1)" font-size="3.64" text-anchor="end" fill="#4a4452" stroke="#4a4452" stroke-width="0.15">2.6</text><text transform="translate(474.5 360.95) scale(0.864 1)" font-size="3.64" text-anchor="end" fill="#4a4452" stroke="#4a4452" stroke-width="0.15">2.8</text><text transform="translate(482.47 501.83) scale(0.773 1)" font-size="3.41" text-anchor="middle" fill="#4a4452" stroke="#4a4452" stroke-width="0.15">1</text><text transform="translate(488.94 501.83) scale(0.773 1)" font-size="3.41" text-anchor="middle" fill="#4a4452" stroke="#4a4452" stroke-width="0.15">2</text><text transform="translate(495.41 501.83) scale(0.773 1)" font-size="3.41" text-anchor="middle" fill="#4a4452" stroke="#4a4452" stroke-width="0.15">3</text><text transform="translate(501.88 501.83) scale(0.773 1)" font-size="3.41" text-anchor="middle" fill="#4a4452" stroke="#4a4452" stroke-width="0.15">4</text><text transform="translate(508.35 501.83) scale(0.773 1)" font-size="3.41" text-anchor="middle" fill="#4a4452" stroke="#4a4452" stroke-width="0.15">5</text><text transform="translate(514.82 501.83) scale(0.773 1)" font-size="3.41" text-anchor="middle" fill="#4a4452" stroke="#4a4452" stroke-width="0.15">6</text><text transform="translate(521.29 501.83) scale(0.773 1)" font-size="3.41" text-anchor="middle" fill="#4a4452" stroke="#4a4452" stroke-width="0.15">7</text><text transform="translate(527.76 501.83) scale(0.773 1)" font-size="3.41" text-anchor="middle" fill="#4a4452" stroke="#4a4452" stroke-width="0.15">8</text><text transform="translate(534.23 501.83) scale(0.773 1)" font-size="3.41" text-anchor="middle" fill="#4a4452" stroke="#4a4452" stroke-width="0.15">9</text><text transform="translate(540.7 501.83) scale(0.773 1)" font-size="3.41" text-anchor="middle" fill="#4a4452" stroke="#4a4452" stroke-width="0.15">10</text><text transform="translate(547.17 501.83) scale(0.773 1)" font-size="3.41" text-anchor="middle" fill="#4a4452" stroke="#4a4452" stroke-width="0.15">11</text><text transform="translate(553.64 501.83) scale(0.773 1)" font-size="3.41" text-anchor="middle" fill="#4a4452" stroke="#4a4452" stroke-width="0.15">12</text><text transform="translate(560.11 501.83) scale(0.773 1)" font-size="3.41" text-anchor="middle" fill="#4a4452" stroke="#4a4452" stroke-width="0.15">13</text><text transform="translate(566.58 501.83) scale(0.773 1)" font-size="3.41" text-anchor="middle" fill="#4a4452" stroke="#4a4452" stroke-width="0.15">14</text><text transform="translate(573.05 501.83) scale(0.773 1)" font-size="3.41" text-anchor="middle" fill="#4a4452" stroke="#4a4452" stroke-width="0.15">15</text><text transform="translate(579.52 501.83) scale(0.773 1)" font-size="3.41" text-anchor="middle" fill="#4a4452" stroke="#4a4452" stroke-width="0.15">16</text><text transform="translate(585.99 501.83) scale(0.773 1)" font-size="3.41" text-anchor="middle" fill="#4a4452" stroke="#4a4452" stroke-width="0.15">17</text><text transform="translate(592.46 501.83) scale(0.773 1)" font-size="3.41" text-anchor="middle" fill="#4a4452" stroke="#4a4452" stroke-width="0.15">18</text><text transform="translate(598.93 501.83) scale(0.773 1)" font-size="3.41" text-anchor="middle" fill="#4a4452" stroke="#4a4452" stroke-width="0.15">19</text><text transform="translate(605.4 501.83) scale(0.773 1)" font-size="3.41" text-anchor="middle" fill="#4a4452" stroke="#4a4452" stroke-width="0.15">20</text><text transform="translate(611.87 501.83) scale(0.773 1)" font-size="3.41" text-anchor="middle" fill="#4a4452" stroke="#4a4452" stroke-width="0.15">21</text><text transform="translate(618.34 501.83) scale(0.773 1)" font-size="3.41" text-anchor="middle" fill="#4a4452" stroke="#4a4452" stroke-width="0.15">22</text><text transform="translate(624.81 501.83) scale(0.773 1)" font-size="3.41" text-anchor="middle" fill="#4a4452" stroke="#4a4452" stroke-width="0.15">23</text><text transform="translate(631.28 501.83) scale(0.773 1)" font-size="3.41" text-anchor="middle" fill="#4a4452" stroke="#4a4452" stroke-width="0.15">24</text><text transform="translate(637.75 501.83) scale(0.773 1)" font-size="3.41" text-anchor="middle" fill="#4a4452" stroke="#4a4452" stroke-width="0.15">25</text><text transform="translate(644.22 501.83) scale(0.773 1)" font-size="3.41" text-anchor="middle" fill="#4a4452" stroke="#4a4452" stroke-width="0.15">26</text><text transform="translate(650.69 501.83) scale(0.773 1)" font-size="3.41" text-anchor="middle" fill="#4a4452" stroke="#4a4452" stroke-width="0.15">27</text><text transform="translate(657.16 501.83) scale(0.773 1)" font-size="3.41" text-anchor="middle" fill="#4a4452" stroke="#4a4452" stroke-width="0.15">28</text><text transform="translate(663.63 501.83) scale(0.773 1)" font-size="3.41" text-anchor="middle" fill="#4a4452" stroke="#4a4452" stroke-width="0.15">29</text><text transform="translate(677.86 485.53) scale(0.819 1)" font-size="3.41" text-anchor="end" fill="#333" stroke="#333" stroke-width="0.15">10</text><text transform="translate(677.86 471.69) scale(0.819 1)" font-size="3.41" text-anchor="end" fill="#333" stroke="#333" stroke-width="0.15">20</text><text transform="translate(677.86 457.86) scale(0.819 1)" font-size="3.41" text-anchor="end" fill="#333" stroke="#333" stroke-width="0.15">30</text><text transform="translate(677.86 444.03) scale(0.819 1)" font-size="3.41" text-anchor="end" fill="#333" stroke="#333" stroke-width="0.15">40</text><text transform="translate(677.86 430.19) scale(0.819 1)" font-size="3.41" text-anchor="end" fill="#333" stroke="#333" stroke-width="0.15">50</text><text transform="translate(677.86 416.36) scale(0.819 1)" font-size="3.41" text-anchor="end" fill="#333" stroke="#333" stroke-width="0.15">60</text><text transform="translate(677.86 402.53) scale(0.819 1)" font-size="3.41" text-anchor="end" fill="#333" stroke="#333" stroke-width="0.15">70</text><text transform="translate(677.86 388.69) scale(0.819 1)" font-size="3.41" text-anchor="end" fill="#333" stroke="#333" stroke-width="0.15">80</text><text transform="translate(677.86 374.86) scale(0.819 1)" font-size="3.41" text-anchor="end" fill="#333" stroke="#333" stroke-width="0.15">90</text><text transform="translate(677.86 361.03) scale(0.819 1)" font-size="3.41" text-anchor="end" fill="#333" stroke="#333" stroke-width="0.15">100</text><text transform="translate(468.27 427.82) rotate(-90) scale(1.063 1)" font-size="3.32" text-anchor="middle" fill="#555" stroke="#555" stroke-width="0.15">Torque(Nm)</text><text transform="translate(682.86 425.52) rotate(90) scale(1.036 1)" font-size="4.28" text-anchor="middle" fill="#333" stroke="#333" stroke-width="0.1">Temperature     (°C)</text><text transform="translate(572.4 507.69) scale(0.786 1)" font-size="3.57" text-anchor="middle" fill="#333" stroke="#333" stroke-width="0.15">Time (min)</text><path d="M465.65 509.5H670.1V496" stroke="#dcf3dc" stroke-width="0.9" fill="none"/><text transform="translate(465.97 514.8) scale(0.891 1)" font-size="3.9" fill="#1a1a1a" stroke="#1a1a1a" stroke-width="0.15">amara</text><text transform="translate(531 514.8) scale(0.891 1)" font-size="3.9" fill="#1a1a1a" stroke="#1a1a1a" stroke-width="0.15">Mixing</text><text transform="translate(564.64 514.8) scale(0.891 1)" font-size="3.9" fill="#1a1a1a" stroke="#1a1a1a" stroke-width="0.15">1/2</text><text transform="translate(587.28 514.8) scale(0.891 1)" font-size="3.9" fill="#1a1a1a" stroke="#1a1a1a" stroke-width="0.15">Device N°</text><text transform="translate(614.46 514.8) scale(0.891 1)" font-size="3.9" fill="#1a1a1a" stroke="#1a1a1a" stroke-width="0.15">499</text><text transform="translate(629.66 514.8) scale(0.891 1)" font-size="3.9" fill="#1a1a1a" stroke="#1a1a1a" stroke-width="0.15">Version4.0.8r4.1i</text><text transform="translate(672.69 514.8) scale(0.891 1)" font-size="3.9" fill="#1a1a1a" stroke="#1a1a1a" stroke-width="0.15">TNC</text><text x="487.7" y="377.6" font-family='"Liberation Serif", serif' font-weight="bold" font-size="12" fill="#000">D9</text></g><g><path d="M42.3 663.4H305.1M42.3 655H305.1M42.3 646.6H305.1M42.3 638.2H305.1M42.3 629.8H305.1M42.3 621.4H305.1M42.3 613H305.1M42.3 604.6H305.1M42.3 596.2H305.1M42.3 587.8H305.1M42.3 579.4H305.1M42.3 571H305.1M42.3 562.6H305.1M42.3 554.2H305.1M42.3 545.8H305.1" stroke="#e4e4e4" stroke-width="0.9" fill="none"/><path d="M51.06 545.8V671.8M59.82 545.8V671.8M68.58 545.8V671.8M77.34 545.8V671.8M86.1 545.8V671.8M94.86 545.8V671.8M103.62 545.8V671.8M112.38 545.8V671.8M121.14 545.8V671.8M129.9 545.8V671.8M138.66 545.8V671.8M147.42 545.8V671.8M156.18 545.8V671.8M164.94 545.8V671.8M173.7 545.8V671.8M182.46 545.8V671.8M191.22 545.8V671.8M199.98 545.8V671.8M208.74 545.8V671.8M217.5 545.8V671.8M226.26 545.8V671.8M235.02 545.8V671.8M243.78 545.8V671.8M252.54 545.8V671.8M261.3 545.8V671.8M270.06 545.8V671.8M278.82 545.8V671.8M287.58 545.8V671.8M296.34 545.8V671.8" stroke="#dfdfdf" stroke-width="0.9" fill="none"/><path d="M42.3 579.4H305.1" stroke="#c990d4" stroke-width="1"/><path d="M42.3 575.2H305.1M42.3 583.6H305.1" stroke="#c58ad2" stroke-width="0.9" stroke-dasharray="0.9 1.5"/><polyline points="42.3,633.75 46.68,633.38 51.06,633.05 55.44,632.73 59.82,632.44 64.2,632.16 68.58,631.91 72.96,631.67 77.34,631.45 81.72,631.24 86.1,631.05 90.48,630.87 94.86,630.71 99.24,630.55 103.62,630.41 108,630.28 112.38,630.15 116.76,630.04 121.14,629.93 125.52,629.83 129.9,629.73 134.28,629.65 138.66,629.56 143.04,629.49 147.42,629.42 151.8,629.35 156.18,629.29 160.56,629.23 164.94,629.18 169.32,629.13 173.7,629.09 178.08,629.04 182.46,629 186.84,628.97 191.22,628.93 195.6,628.9 199.98,628.87 204.36,628.84 208.74,628.82 213.12,628.79 217.5,628.77 221.88,628.75 226.26,628.73 230.64,628.71 235.02,628.7 239.4,628.68 243.78,628.66 248.16,628.65 252.54,628.64 256.92,628.63 261.3,628.62 265.68,628.61 270.06,628.6 274.44,628.59 278.82,628.58 283.2,628.57 287.58,628.56 291.96,628.56 296.34,628.55 300.72,628.55 305.1,628.54" stroke="#f27af2" stroke-width="1" fill="none"/><path d="M42.3 634.59H304.2V671.8" stroke="#f47c7c" stroke-width="1" fill="none"/><polyline points="42.3,671.8 42.8,670.82 43.3,668.47 43.8,663.84 44.3,657.86 44.8,649.3 45.3,644.23 45.8,640.91 46.3,638.3 46.8,635.98 47.3,633.97 47.8,632.23 48.3,630.53 48.8,628.66 49.3,626.46 49.8,624.05 50.3,621.61 50.8,619.32" stroke="#eea860" stroke-width="1.1" fill="none" transform="translate(0.9,0.9)"/><polyline points="42.3,671.8 42.8,670.82 43.3,668.47 43.8,663.84 44.3,657.86 44.8,649.3 45.3,644.23 45.8,640.91 46.3,638.3 46.8,635.98 47.3,633.97 47.8,632.23 48.3,630.53 48.8,628.66 49.3,626.46 49.8,624.05 50.3,621.61 50.8,619.32" stroke="#8cc88c" stroke-width="0.8" fill="none" transform="translate(-0.9,0)"/><polyline points="42.3,671.8 42.8,670.82 43.3,668.47 43.8,663.84 44.3,657.86 44.8,649.3 45.3,644.23 45.8,640.91 46.3,638.3 46.8,635.98 47.3,633.97 47.8,632.23 48.3,630.53 48.8,628.66 49.3,626.46 49.8,624.05 50.3,621.61 50.8,619.32" stroke="#3a5fcd" stroke-width="0.9" fill="none"/><polyline points="48.2,626.5 52,623.3 52.4,619.5 50.6,615.4 54.1,612.8 55.2,610.1 53,606.6 56.7,605.7 55.2,602.8 56.8,601.1 55.8,598.4 59.7,597.5 60.7,595.5 59.5,592.9 60.7,591.4 59.9,589.1 63.4,588.8 60.8,585.4 65.5,586.5 64,583.7 64.9,583 65.2,581.6 68.3,584.5 67.8,581.9 67.9,580.2 69,580.2 70.2,582.3 70.8,581.8 71.6,581 72.4,580.1 73.2,578.3 74,581 74.8,580.9 74.9,583.8 76.5,580.7 77.1,583 78.2,581.7 79.5,582.5 80.1,581.2 79.5,578.5 81,579.1 82,579 83.1,579.2 82.9,577.1 85.7,579.9 86.4,579.7 86.2,577.3 87.8,579.2 87.6,576.1 88.8,577.3 89.6,577.3 89.7,572.9 90.8,576.3 91.9,573.3 92.4,576.4 93.4,574.7 93.8,578.2 94.9,575.5 95.7,574.1 96.5,574.1 97.2,578 98.1,574.3 98.8,578.4 99.6,577.4 100.4,577.4 101.3,575 102,577.6 102.8,574.8 103.6,574.1 104.4,574.2 105.2,575 106,573.5 106.8,576.7 107.6,578.7 108.4,577.1 109.2,576.7 110,578.3 110.8,579 111.6,578.8 112.4,573.4 113.3,578 114.1,576.6 114.9,577.1 115.6,574.7 116.5,576.9 117.1,573.9 118.1,576.7 118.8,574.7 119.7,577.4 120.4,574.1 121.3,577.3 122.1,576.9 122.8,575.2 123.6,576 124.4,574.1 125.2,574.5 126,573.2 126.8,573.9 127.6,577 128.4,577.4 129.2,576.4 130,577.3 130.8,576.2 131.6,573.6 132.4,574.7 133.2,573.4 134,578.7 134.8,578.4 135.6,574.4 136.4,576.2 137.2,574.2 138,577.5 138.8,573 139.6,577.9 140.4,577 141.2,573.8 142,577.1 142.8,576.9 143.6,574.6 144.4,577.2 145.2,577.5 146,578.3 146.8,575 147.6,575.3 148.4,576.7 149.2,577.7 150,573.7 150.8,578.6 151.6,576.3 152.4,573.2 153.2,573.5 154,576.7 154.8,578.1 155.6,574.7 156.4,573.5 157.2,575 158,573.4 158.8,575.4 159.7,578.3 160.4,575.3 161.3,578.3 162,573.1 162.8,574.5 163.6,575.7 164.4,575.5 165.2,578.5 166,578.4 166.8,575.1 167.6,577.6 168.5,573.6 169.3,572.8 170.1,573.1 170.8,577.4 171.7,573.3 172.5,574.9 173.2,573.7 174,578.4 174.8,573.1 175.6,577 176.4,574.2 177.2,577.8 178,574.6 178.8,576.2 179.6,577.1 180.4,574.2 181.2,575.9 182,578.5 182.8,577.2 183.6,575.6 184.4,574.6 185.2,578.4 186.1,573.3 186.8,577.4 187.7,574.1 188.5,574.1 189.3,572.9 190,577 190.9,575 191.7,574.6 192.5,574.6 193.2,576.5 194.1,575.1 194.8,576.5 195.9,573.8 196.5,575.8 197.5,574.1 197.8,578.8 199.1,574.1 199.8,575.2 200.4,577.4 201.3,576.6 202.4,574.2 203,576.2 203.5,578.1 204.6,576.2 205,578.8 205.6,580.3 206.6,579 208,575.3 208.4,578.2 209.1,579.1 209.8,579.5 210.3,581 212.2,575.7 212.3,579.3 213.3,578.4 213.8,580.4 214.6,580.5 215.6,579.6 216.2,581 217.1,580.3 218.5,577.1 218.7,580.8 219.7,579.8 220.2,581.9 221.4,579.4 222.1,580.2 222.6,582 223.5,581.8 224.3,581.6 225.3,579.9 226.2,579.4 226.6,583.2 227.5,582.6 228.7,578.3 229.3,580.4 230.2,579.3 230.8,581.2 231.7,580.1 232.4,581.6 233.2,582.3 233.8,584.4 234.9,581.1 235.4,583.8 236.8,579.5 237,583.2 237.9,583 239.3,579.8 239.9,580.8 240.7,581.2 241.3,582.1 241.8,584.2 242.7,583.7 243.8,582.2 244.7,581.5 245.2,583.3 246.2,582 246.6,585.2 247.4,585.6 248.2,585.7 249.5,581.9 250.1,583.1 250.7,585.4 251.6,584.9 252.1,586.8 253.1,585.9 254.3,581.8 254.8,584.7 255.8,582.7 256.3,585.7 257.5,582 257.9,586.2 258.9,584.1 259.4,587.7 260.3,586.7 261.5,583.2 262.4,582.4 263.2,582.9 264.1,582.7 264.5,585.3 265.1,586.3 266.4,583.9 266.9,585.5 267.5,587 268.2,588.1 269.5,584.7 270,586.7 271,584.4 271.7,586.1 272.5,586.2 273.4,584 274.1,585.7 274.8,586.7 275.5,588.4 276.5,585.9 277.1,588.7 278,588.1 278.6,589.7 279.8,585.9 280.5,587.1 281.4,585.6 281.8,590.1 282.6,589.9 283.5,589.2 284.4,587.6 285.3,587 285.9,589.1 287,586.4 287.8,585.2 288.6,585.2 289.4,585.2 290,588.4 290.9,585.7 291.7,586 292.5,586.2 293.2,589.3 294.1,586.8 294.8,589.4 295.7,586.5 296.5,587.7 297.1,590.1 298.1,587.1 298.9,586.8 299.6,590 300.4,588.8 301.1,590.7 302.1,588 302.7,591 303.8,586.3 304.4,588.9" stroke="#eaa862" stroke-width="0.7" fill="none"/><polyline points="49.8,626.9 47.6,622.4 50,619 50.7,615.4 49.7,611.7 55.3,610.1 51.3,606 52,603.7 56.4,603.3 53.8,600 55.2,598.2 56.3,596.2 58.8,594.8 59.2,592.7 60.2,591.2 62.3,590.3 61,587.7 60.2,585.1 63.7,585.1 64,583.7 66.6,584.8 68.1,585.3 67.9,583.8 67.8,582 67.7,579.8 68.6,579.2 70.3,583.4 70.8,584.2 71.6,583.4 72.4,583.4 73.2,583.8 74,581.2 74.6,581.8 76.4,577.9 77.1,577.7 77.4,578.5 78.1,581.7 80.1,583.7 80.9,582.7 79.2,578 82.9,582.6 83.7,582.2 81.9,577.1 84.4,579.4 83.1,575.4 84,574.8 86.2,577.4 85.7,573.7 87.8,576.7 87.9,574.4 88.9,574.4 89.7,572.5 90.8,577.2 91.7,575.1 92.1,577.9 93.3,575.2 93.9,577.1 94.9,575.2 95.6,576.5 96.4,577.7 97.2,577.9 98,577.4 98.8,575.9 99.6,576.5 100.4,577.7 101.2,579.7 102.1,573.2 102.9,572.8 103.6,575.2 104.4,574.4 105.2,573.1 106,575.9 106.8,575.9 107.6,579 108.4,577.7 109.2,578.1 110,577 110.8,579.2 111.6,576.3 112.4,573.2 113.2,575 114.1,576.8 114.9,577.1 115.7,576.6 116.6,579.5 117.3,577.5 117.9,572.8 119,579.1 119.7,578.3 120.5,579.4 121.2,575.7 122,574 122.8,575 123.6,576 124.5,577.2 125.3,578.1 126,575.8 126.9,578.2 127.6,573.2 128.4,574.7 129.2,579 130,574.9 130.8,577.2 131.6,578.8 132.4,578.5 133.2,573.2 134,578.8 134.8,577.6 135.6,572.6 136.4,574.4 137.2,576.8 138,578.7 138.8,572.3 139.6,577.1 140.4,578.8 141.2,574.5 142,578.3 142.8,576 143.6,578.1 144.4,575 145.2,573.1 146,572.9 146.8,573.6 147.6,579.3 148.4,572.8 149.2,574.9 150,579 150.8,572.5 151.6,578.9 152.4,577.1 153.2,578.7 154,577.1 154.8,572.8 155.6,578 156.4,577.7 157.3,578.4 158,573.7 158.9,579 159.7,576.8 160.4,574.9 161.3,577.6 162,575 162.9,578.2 163.7,578.4 164.4,576.7 165.2,578.6 166,576.6 166.9,574.1 167.6,577.2 168.4,575.5 169.2,576.3 170,575.6 170.9,574.5 171.7,573.3 172.4,577.5 173.2,574.8 174,576.5 174.8,576.1 175.6,577.3 176.4,578.9 177.2,575.4 178,578.2 178.8,576 179.6,575.3 180.4,573.2 181.2,577.1 182,578.7 182.8,578 183.6,576.5 184.4,575.8 185.2,574.1 186.1,572.9 186.8,576 187.6,575.1 188.4,578 189.2,579.1 190.1,572.4 190.8,576.7 191.7,573.8 192.3,578.1 193.1,577.5 194.1,575.2 195,574.1 195.7,575.8 196.8,573 197,578.3 198.3,574.5 198.7,577.3 199.8,575.6 200.4,576.7 200.9,579.6 201.8,579.1 202.6,578.9 203.8,575.9 204.1,579.9 205,579 205.7,580 206.4,580.7 207.6,578.3 208.1,580.1 208.9,579.8 209.4,581.7 210.8,578.4 211.5,579.3 212.4,578.7 213.8,576 213.5,581.8 215.3,576.8 216.2,576.2 216.9,577.1 217.5,578.1 218.1,579.2 218.7,580.7 219.2,582.7 220.4,580.1 221.4,579.3 221.9,581.1 222.5,582.7 224,578.1 224.3,582 225,582.4 226,581 226.7,582.8 227.9,578 228.3,582.3 229.3,580.6 230.1,580.7 230.6,584 231.4,584.1 232.7,578.4 233.3,580.7 234.1,581.2 235.2,578.3 235.4,583.8 236.6,580.7 237.5,580.2 238.6,579.1 238.5,584 239.5,583 240.8,580.5 241,584 241.5,585.7 243,582.1 244,580.3 244.5,582.9 245.3,582.8 245.9,584.4 247.3,580.5 247.8,582.8 248,587.2 248.9,586.6 249.9,585.1 250.9,583.2 251.8,582.6 252.3,585.7 253,586.3 254.1,583.3 255,582.9 255.7,583.6 256.6,582.2 257.4,583 258.1,584.3 258.6,587.7 260,581.5 260.5,584.9 261,587.2 262.2,583.7 263.1,583.8 263.6,585.9 264.5,585.1 265.8,582.7 266.2,585.2 266.7,586.5 267.1,589.4 268.7,584.5 269.6,583.7 270.2,585.4 271,585.1 271.8,585 272.3,588.8 273.1,588.6 273.9,589.2 275,583.8 275.7,586.4 276.3,588.3 277.3,585.7 278.1,586 278.6,590.3 279.8,585.5 280.1,590.7 281,589.7 282.3,585 282.8,587.7 283.7,586.6 284.6,586.3 285.5,585.3 286.2,586.5 286.7,590.1 287.7,587.3 288.5,586.9 289.2,589.1 290,589.9 290.8,589.9 291.6,588.3 292.5,586.7 293.3,587.8 294.2,585.2 294.7,590.6 295.5,590.2 296.5,586.6 297.1,591.6 298.1,587.1 298.7,591.5 299.6,588.4 300.6,586.4 301.2,590.1 302.2,585.9 302.7,590.5 303.6,589.3 304.5,587.3" stroke="#70c070" stroke-width="0.7" fill="none"/><polygon points="48.8,627.1 49.8,622.5 50.8,617.8 51.8,613.4 52.8,609.5 53.8,606.1 54.8,603.4 55.8,601.1 56.8,598.5 57.8,596 58.8,593.3 59.8,591 60.8,589.1 61.8,587.1 62.8,585 63.8,583.3 64.8,582.2 65.8,581.3 66.8,580.6 67.8,580 68.8,579.5 69.8,579.2 70.8,579.1 71.8,579.1 72.8,579.1 73.8,579.1 74.8,579.2 75.8,579.4 76.8,579.7 77.8,579.7 78.8,579.4 79.8,578.8 80.8,578.3 81.8,577.7 82.8,577.2 83.8,576.6 84.8,576 85.8,575.5 86.8,575.1 87.8,574.7 88.8,574.4 89.8,574.1 90.8,574.1 91.8,574.1 92.8,574.3 93.8,574.4 94.8,574.5 95.8,574.5 96.8,574.6 97.8,574.6 98.8,574.6 99.8,574.6 100.8,574.6 101.8,574.6 102.8,574.7 103.8,574.7 104.8,574.7 105.8,574.7 106.8,574.7 107.8,574.7 108.8,574.7 109.8,574.7 110.8,574.7 111.8,574.7 112.8,574.7 113.8,574.6 114.8,574.6 115.8,574.6 116.8,574.5 117.8,574.5 118.8,574.4 119.8,574.4 120.8,574.3 121.8,574.3 122.8,574.3 123.8,574.3 124.8,574.3 125.8,574.3 126.8,574.3 127.8,574.2 128.8,574.2 129.8,574.2 130.8,574.2 131.8,574.2 132.8,574.2 133.8,574.2 134.8,574.2 135.8,574.2 136.8,574.2 137.8,574.2 138.8,574.2 139.8,574.2 140.8,574.2 141.8,574.2 142.8,574.2 143.8,574.2 144.8,574.2 145.8,574.2 146.8,574.2 147.8,574.2 148.8,574.2 149.8,574.2 150.8,574.2 151.8,574.2 152.8,574.2 153.8,574.2 154.8,574.2 155.8,574.2 156.8,574.2 157.8,574.2 158.8,574.2 159.8,574.2 160.8,574.1 161.8,574.1 162.8,574.1 163.8,574.1 164.8,574.1 165.8,574.1 166.8,574.1 167.8,574.1 168.8,574.1 169.8,574.2 170.8,574.2 171.8,574.2 172.8,574.2 173.8,574.2 174.8,574.2 175.8,574.2 176.8,574.2 177.8,574.2 178.8,574.2 179.8,574.2 180.8,574.2 181.8,574.2 182.8,574.2 183.8,574.2 184.8,574.2 185.8,574.3 186.8,574.3 187.8,574.3 188.8,574.3 189.8,574.3 190.8,574.3 191.8,574.3 192.8,574.4 193.8,574.5 194.8,574.6 195.8,574.7 196.8,574.8 197.8,574.9 198.8,575 199.8,575.1 200.8,575.3 201.8,575.4 202.8,575.5 203.8,575.7 204.8,575.8 205.8,576 206.8,576.1 207.8,576.3 208.8,576.4 209.8,576.6 210.8,576.8 211.8,577 212.8,577.2 213.8,577.4 214.8,577.6 215.8,577.8 216.8,578 217.8,578.2 218.8,578.3 219.8,578.5 220.8,578.6 221.8,578.8 222.8,578.9 223.8,579.1 224.8,579.2 225.8,579.3 226.8,579.4 227.8,579.5 228.8,579.6 229.8,579.7 230.8,579.7 231.8,579.8 232.8,579.9 233.8,580 234.8,580.1 235.8,580.2 236.8,580.4 237.8,580.5 238.8,580.7 239.8,580.9 240.8,581 241.8,581.2 242.8,581.4 243.8,581.5 244.8,581.7 245.8,581.8 246.8,582 247.8,582.1 248.8,582.3 249.8,582.4 250.8,582.5 251.8,582.6 252.8,582.8 253.8,582.9 254.8,582.9 255.8,583 256.8,583.1 257.8,583.2 258.8,583.3 259.8,583.4 260.8,583.5 261.8,583.6 262.8,583.8 263.8,583.9 264.8,584.1 265.8,584.3 266.8,584.4 267.8,584.6 268.8,584.8 269.8,584.9 270.8,585 271.8,585.1 272.8,585.1 273.8,585.2 274.8,585.3 275.8,585.4 276.8,585.4 277.8,585.5 278.8,585.6 279.8,585.7 280.8,585.8 281.8,585.9 282.8,586 283.8,586.1 284.8,586.2 285.8,586.3 286.8,586.4 287.8,586.4 288.8,586.5 289.8,586.5 290.8,586.6 291.8,586.6 292.8,586.7 293.8,586.7 294.8,586.8 295.8,586.8 296.8,586.9 297.8,586.9 298.8,587 299.8,587 300.8,587.1 301.8,587.1 302.8,587.2 303.8,587.3 304.8,587.3 304.8,590.4 303.8,590.4 302.8,590.3 301.8,590.2 300.8,590.2 299.8,590.1 298.8,590.1 297.8,590 296.8,590 295.8,589.9 294.8,589.9 293.8,589.8 292.8,589.8 291.8,589.7 290.8,589.7 289.8,589.6 288.8,589.6 287.8,589.5 286.8,589.5 285.8,589.4 284.8,589.3 283.8,589.2 282.8,589.1 281.8,589 280.8,588.9 279.8,588.8 278.8,588.7 277.8,588.6 276.8,588.5 275.8,588.5 274.8,588.4 273.8,588.3 272.8,588.2 271.8,588.2 270.8,588.1 269.8,588 268.8,587.9 267.8,587.7 266.8,587.5 265.8,587.4 264.8,587.2 263.8,587 262.8,586.9 261.8,586.7 260.8,586.6 259.8,586.5 258.8,586.4 257.8,586.3 256.8,586.2 255.8,586.1 254.8,586 253.8,586 252.8,585.9 251.8,585.7 250.8,585.6 249.8,585.5 248.8,585.4 247.8,585.2 246.8,585.1 245.8,584.9 244.8,584.8 243.8,584.6 242.8,584.5 241.8,584.3 240.8,584.1 239.8,584 238.8,583.8 237.8,583.6 236.8,583.5 235.8,583.3 234.8,583.2 233.8,583.1 232.8,583 231.8,582.9 230.8,582.8 229.8,582.8 228.8,582.7 227.8,582.6 226.8,582.5 225.8,582.4 224.8,582.3 223.8,582.2 222.8,582 221.8,581.9 220.8,581.7 219.8,581.6 218.8,581.4 217.8,581.3 216.8,581.1 215.8,580.9 214.8,580.7 213.8,580.5 212.8,580.3 211.8,580.1 210.8,579.9 209.8,579.7 208.8,579.5 207.8,579.4 206.8,579.2 205.8,579.1 204.8,578.9 203.8,578.8 202.8,578.6 201.8,578.5 200.8,578.4 199.8,578.2 198.8,578.1 197.8,578 196.8,577.9 195.8,577.8 194.8,577.7 193.8,577.6 192.8,577.5 191.8,577.4 190.8,577.4 189.8,577.4 188.8,577.4 187.8,577.4 186.8,577.4 185.8,577.4 184.8,577.3 183.8,577.3 182.8,577.3 181.8,577.3 180.8,577.3 179.8,577.3 178.8,577.3 177.8,577.3 176.8,577.3 175.8,577.3 174.8,577.3 173.8,577.3 172.8,577.3 171.8,577.3 170.8,577.3 169.8,577.3 168.8,577.2 167.8,577.2 166.8,577.2 165.8,577.2 164.8,577.2 163.8,577.2 162.8,577.2 161.8,577.2 160.8,577.2 159.8,577.3 158.8,577.3 157.8,577.3 156.8,577.3 155.8,577.3 154.8,577.3 153.8,577.3 152.8,577.3 151.8,577.3 150.8,577.3 149.8,577.3 148.8,577.3 147.8,577.3 146.8,577.3 145.8,577.3 144.8,577.3 143.8,577.3 142.8,577.3 141.8,577.3 140.8,577.3 139.8,577.3 138.8,577.3 137.8,577.3 136.8,577.3 135.8,577.3 134.8,577.3 133.8,577.3 132.8,577.3 131.8,577.3 130.8,577.3 129.8,577.3 128.8,577.3 127.8,577.3 126.8,577.4 125.8,577.4 124.8,577.4 123.8,577.4 122.8,577.4 121.8,577.4 120.8,577.4 119.8,577.5 118.8,577.5 117.8,577.6 116.8,577.6 115.8,577.7 114.8,577.7 113.8,577.7 112.8,577.8 111.8,577.8 110.8,577.8 109.8,577.8 108.8,577.8 107.8,577.8 106.8,577.8 105.8,577.8 104.8,577.8 103.8,577.8 102.8,577.8 101.8,577.7 100.8,577.7 99.8,577.7 98.8,577.7 97.8,577.7 96.8,577.7 95.8,577.6 94.8,577.6 93.8,577.5 92.8,577.4 91.8,577.2 90.8,577.2 89.8,577.2 88.8,577.5 87.8,577.8 86.8,578.2 85.8,578.6 84.8,579.1 83.8,579.7 82.8,580.3 81.8,580.8 80.8,581.4 79.8,581.9 78.8,582.5 77.8,582.8 76.8,582.8 75.8,582.5 74.8,582.3 73.8,582.2 72.8,582.2 71.8,582.2 70.8,582.2 69.8,582.3 68.8,582.6 67.8,583.1 66.8,583.7 65.8,584.4 64.8,585.3 63.8,586.4 62.8,588.1 61.8,590.2 60.8,592.2 59.8,594.1 58.8,596.4 57.8,599.1 56.8,601.6 55.8,604.2 54.8,606.5 53.8,609.2 52.8,612.6 51.8,616.5 50.8,620.9 49.8,625.6 48.8,630.2" fill="#1e961e"/><polyline points="48.8,628.7 49.8,624.1 50.8,619.3 51.8,615 52.8,611 53.8,607.7 54.8,605 55.8,602.6 56.8,600.1 57.8,597.5 58.8,594.9 59.8,592.6 60.8,590.6 61.8,588.7 62.8,586.5 63.8,584.9 64.8,583.8 65.8,582.8 66.8,582.1 67.8,581.6 68.8,581.1 69.8,580.7 70.8,580.7 71.8,580.7 72.8,580.7 73.8,580.7 74.8,580.8 75.8,581 76.8,581.2 77.8,581.2 78.8,580.9 79.8,580.4 80.8,579.8 81.8,579.3 82.8,578.7 83.8,578.1 84.8,577.5 85.8,577 86.8,576.6 87.8,576.3 88.8,575.9 89.8,575.7 90.8,575.6 91.8,575.7 92.8,575.8 93.8,576 94.8,576 95.8,576.1 96.8,576.1 97.8,576.1 98.8,576.2 99.8,576.2 100.8,576.2 101.8,576.2 102.8,576.2 103.8,576.2 104.8,576.2 105.8,576.2 106.8,576.2 107.8,576.2 108.8,576.2 109.8,576.2 110.8,576.2 111.8,576.2 112.8,576.2 113.8,576.2 114.8,576.2 115.8,576.1 116.8,576.1 117.8,576 118.8,576 119.8,575.9 120.8,575.9 121.8,575.9 122.8,575.8 123.8,575.8 124.8,575.8 125.8,575.8 126.8,575.8 127.8,575.8 128.8,575.8 129.8,575.8 130.8,575.8 131.8,575.8 132.8,575.8 133.8,575.8 134.8,575.8 135.8,575.8 136.8,575.8 137.8,575.8 138.8,575.8 139.8,575.8 140.8,575.8 141.8,575.8 142.8,575.8 143.8,575.8 144.8,575.8 145.8,575.8 146.8,575.8 147.8,575.8 148.8,575.8 149.8,575.8 150.8,575.8 151.8,575.8 152.8,575.8 153.8,575.8 154.8,575.8 155.8,575.8 156.8,575.8 157.8,575.8 158.8,575.8 159.8,575.7 160.8,575.7 161.8,575.7 162.8,575.6 163.8,575.6 164.8,575.6 165.8,575.6 166.8,575.6 167.8,575.7 168.8,575.7 169.8,575.7 170.8,575.7 171.8,575.8 172.8,575.8 173.8,575.8 174.8,575.8 175.8,575.8 176.8,575.8 177.8,575.8 178.8,575.8 179.8,575.8 180.8,575.8 181.8,575.8 182.8,575.8 183.8,575.8 184.8,575.8 185.8,575.8 186.8,575.8 187.8,575.8 188.8,575.8 189.8,575.8 190.8,575.9 191.8,575.9 192.8,575.9 193.8,576 194.8,576.1 195.8,576.2 196.8,576.3 197.8,576.4 198.8,576.6 199.8,576.7 200.8,576.8 201.8,576.9 202.8,577.1 203.8,577.2 204.8,577.4 205.8,577.5 206.8,577.7 207.8,577.8 208.8,578 209.8,578.2 210.8,578.3 211.8,578.5 212.8,578.7 213.8,579 214.8,579.2 215.8,579.3 216.8,579.5 217.8,579.7 218.8,579.9 219.8,580 220.8,580.2 221.8,580.3 222.8,580.5 223.8,580.6 224.8,580.7 225.8,580.9 226.8,581 227.8,581.1 228.8,581.1 229.8,581.2 230.8,581.3 231.8,581.4 232.8,581.5 233.8,581.5 234.8,581.6 235.8,581.8 236.8,581.9 237.8,582.1 238.8,582.2 239.8,582.4 240.8,582.6 241.8,582.8 242.8,582.9 243.8,583.1 244.8,583.2 245.8,583.4 246.8,583.5 247.8,583.7 248.8,583.8 249.8,583.9 250.8,584.1 251.8,584.2 252.8,584.3 253.8,584.4 254.8,584.5 255.8,584.6 256.8,584.7 257.8,584.8 258.8,584.9 259.8,584.9 260.8,585.1 261.8,585.2 262.8,585.3 263.8,585.5 264.8,585.6 265.8,585.8 266.8,586 267.8,586.2 268.8,586.3 269.8,586.4 270.8,586.5 271.8,586.6 272.8,586.7 273.8,586.8 274.8,586.8 275.8,586.9 276.8,587 277.8,587 278.8,587.1 279.8,587.2 280.8,587.3 281.8,587.4 282.8,587.5 283.8,587.6 284.8,587.7 285.8,587.8 286.8,587.9 287.8,588 288.8,588 289.8,588.1 290.8,588.1 291.8,588.2 292.8,588.2 293.8,588.3 294.8,588.3 295.8,588.4 296.8,588.4 297.8,588.5 298.8,588.5 299.8,588.6 300.8,588.6 301.8,588.7 302.8,588.8 303.8,588.8 304.8,588.9" stroke="#1e961e" stroke-width="2.2" fill="none" stroke-linejoin="round"/><polyline points="51,627.1 50.1,623.4 50.5,620 51.1,616.9 52.6,614.1 51.2,610.8 55.1,609.3 53.9,606.6 55.8,605.3 53.9,602.5 57.9,602.2 58.7,600.4 56.4,597.5 59,596.3 60.3,594.8 61.2,593.4 59.5,590.9 60.1,589.4 63.3,589.3 61,586.3 62.2,585.1 64.9,585.5 64,583.3 66.6,584.7 67.3,584.3 66.9,582.5 67.1,581.1 67.4,580.1 68.7,580.7 69.2,579.4 70.3,581.5 70.9,581.9 71.6,581.1 72.3,580.2 73,581.9 73.7,579.7 74.3,581.8 75.1,580.9 75.6,582.1 76.4,582 77.2,582.4 77.5,579.1 77.9,579.2 79.2,580.5 79.2,578.8 81.4,580.9 82,580.6 82.3,579.5 82,577.2 83,577.4 83.2,576.1 85.3,578.2 85.2,576.2 86.6,577.6 87.6,577.9 87.3,575.2 89,577.6 88.8,574.5 89.5,573.6 90.5,575.3 91.2,576.5 91.9,576.3 92.8,574.5 93.2,577 93.9,577.5 94.8,574.4 95.4,575.7 96.1,576.3 96.8,575.7 97.6,574.4 98.3,574.7 99,575.1 99.7,575.3 100.4,574.4 101.1,574.3 101.7,575.9 102.4,578.1 103.1,577.1 103.8,576.6 104.5,575.9 105.2,574.8 105.9,575.8 106.6,577.9 107.3,574.7 108,575.6 108.7,576.3 109.4,574.4 110.1,577.4 110.8,576.6 111.5,576.2 112.2,574.4 112.9,576.6 113.6,575.8 114.4,577.8 114.9,574 115.7,575.8 116.5,577.7 117.2,577.3 117.8,574.6 118.5,576.2 119.3,576.9 120,577.4 120.6,575.7 121.4,577.3 122,576.5 122.7,576 123.5,577.6 124.1,574.3 124.9,577.1 125.5,576.3 126.2,574.4 126.9,576.1 127.6,574.4 128.3,577 129,576.7 129.7,577.1 130.4,577.4 131.1,574.3 131.8,575.2 132.5,573.8 133.2,577.8 133.9,577 134.6,577.7 135.3,574.1 136,575.8 136.7,575 137.4,573.9 138.1,576.5 138.8,576.2 139.5,575 140.2,574.6 140.9,576.7 141.6,575.6 142.3,576 143,577.2 143.7,576.9 144.4,577 145.1,573.7 145.8,574.2 146.5,576.5 147.2,573.7 147.9,575 148.6,577.5 149.3,576.7 150,574 150.7,577.2 151.4,574.9 152.1,577.1 152.8,575.2 153.5,577.6 154.2,576.5 154.9,574.2 155.6,573.9 156.3,574.4 157,573.7 157.8,576.7 158.5,576.8 159.1,575.9 159.8,573.8 160.6,577.1 161.2,575.5 162,577.2 162.7,577.6 163.3,573.7 164,574.9 164.7,576.2 165.4,577.5 166.1,576.9 166.9,574.5 167.5,575.3 168.3,574.1 169,574.9 169.7,575.1 170.4,574.7 171,576.3 171.7,575.7 172.4,575.8 173.1,575.2 173.8,575.3 174.5,574 175.2,574.9 175.9,575.7 176.6,576.4 177.3,576.9 178,577.9 178.7,574.6 179.4,573.9 180.1,574.1 180.8,577.8 181.5,576.3 182.2,575.2 182.9,574.9 183.6,575.9 184.3,577.9 185,576.7 185.7,574.8 186.4,575.8 187.1,575.5 187.8,576 188.6,574.9 189.2,576.5 189.9,576.6 190.7,574.6 191.3,577.7 192,576.3 192.8,575.2 193.5,575 194,577.6 194.8,576.2 195.4,577.8 196,578.1 197,575.6 197.6,577.1 198.5,574.9 199.1,575.9 199.6,577.8 200.3,577.5 201.2,576.1 201.6,578.7 202.4,578.3 203.2,577.7 203.8,578.2 204.9,575.8 205.2,578.5 206,578.1 206.9,576.5 207.4,577.7 208.3,577 208.9,577.8 209.3,579.4 210,579.5 211,577.9 211.7,578.3 212.8,576.6 213.5,576.8 214.1,577 214.5,578.5 215,580 215.6,580.7 216.3,580.7 217.5,578.2 217.7,581.1 218.3,581.9 219.6,578.3 220.1,580 220.7,580.3 221.4,580.8 222.2,580.2 223.1,578.6 223.4,581.4 224.1,582 225.1,579 225.5,581.8 226.3,581.4 227.2,579.6 227.9,579.3 228.4,582 229.1,581.9 229.8,581.1 230.4,583.1 231.4,579.8 232,580.4 232.7,580.6 233.2,582.5 233.9,582.5 234.9,579.7 235.3,583 236.3,580.3 236.8,582.4 237.3,583.6 238.1,582.9 239.1,581.2 239.3,584.1 240.5,581.4 241.3,581.4 241.5,583.9 242.7,581.1 242.8,585.1 243.6,584.6 244.8,581.5 245.3,582.8 246,582.9 246.9,581.8 247.2,585 247.8,585.1 248.7,584.2 249.6,582.9 249.9,585.5 251,582.4 251.4,585.3 252.1,585.8 252.9,584.9 253.8,583 254.2,585.5 255.2,583.1 255.8,584.4 256.4,585.6 257,586.8 257.8,585.3 258.7,583.6 259.1,585.9 260,584.8 260.4,587.1 261.1,587 262.1,584.6 262.6,586.3 263.2,587.1 264.2,584.9 264.5,587.5 265.5,586.3 266.2,586.3 266.7,587.3 267.8,585.4 268.4,585.7 269,586.8 269.6,587.7 270.6,585 271.1,586.9 271.8,587.2 272.4,587.9 273.2,586.7 274,585.4 274.6,587.8 275.4,586.2 276.1,585.4 276.7,588.2 277.6,585.4 278,588.5 278.8,587.2 279.4,589.2 280.1,588.3 281,586.5 281.8,585.9 282.3,587.7 282.8,589.6 283.9,586.4 284.3,589.2 285.2,586.8 286,586.2 286.7,585.9 287.3,587.6 287.9,588.7 288.6,589.6 289.3,589.7 290.1,587.2 290.8,586.2 291.5,586.9 292.2,587.6 292.8,589 293.5,589.4 294.3,586.7 295,586.3 295.6,589.2 296.3,588.3 297.1,587.6 297.8,588 298.4,588.5 299.1,589 299.8,589.2 300.5,588.8 301.3,587.3 301.9,589.1 302.7,588.3 303.4,587.1 304.1,587.2 304.8,587.3" stroke="#007c00" stroke-width="0.8" fill="none"/><polyline points="48.2,626.5 52.6,616.8 54.5,608.4 54,601.8 57.4,596.6 59.3,591.2 62.7,587.4 65.9,585.2 66.4,581.3 69.9,583.1 71.2,580.7 73.4,582.2 75.2,582.7 77.6,579.5 80,580.2 81.9,578.4 84.5,577.8 86,575.2 88.4,574.4 91.1,574.8 93.2,576.4 95.5,574.3 97.6,578.2 99.8,576.2 102,576.3 104.2,576.2 106.4,577.2 108.6,575.8 110.8,576.5 113,574.5 115.3,578.1 117.5,577.5 119.7,577.4 121.9,577.5 124,575.2 126.2,575.5 128.4,575.9 130.6,574.6 132.8,575.4 135,577.3 137.2,577.4 139.4,574.1 141.6,574.3 143.8,576 146,578.1 148.2,574.8 150.4,574.5 152.6,577.3 154.8,575.1 157.1,578.1 159.3,577.4 161.5,577.4 163.6,573.7 165.9,573.9 168,577.2 170.2,577.7 172.4,576 174.6,575.3 176.8,575.7 179,577.2 181.2,574.8 183.4,575.6 185.6,577.3 187.9,573.5 190,576.4 192.2,576.5 194.3,577.3 196.9,574.1 198.9,576.2 200.8,578.9 203.3,576.4 205.3,578.4 207.7,577.1 209.5,579.9 211.7,580 214.3,578.7 216.8,577.3 218.5,580.4 220.5,582.1 222.8,582.4 225.1,582.1 227.4,581.8 229.5,583.2 231.7,582.6 233.8,583.8 236.5,579.9 238.6,581.2 240.9,581.2 242.9,582.4 245.3,581.5 247.4,582.1 249.3,585 251.8,583.1 254,582.9 256.1,583.9 258,587 260.5,584.1 262.8,584.5 264.5,587.4 267.4,584.1 269.5,584.4 271.6,585.1 273.8,584.6 276,585.1 277.8,589.5 280.2,587.1 282.7,585.1 284.8,586.1 286.9,586.8 289,589.6 291.3,586.8 293.5,587.9 295.7,587.1 297.8,588.5 300,590.1 302.2,589.4 304.4,589.2" stroke="#d9a35a" stroke-width="0.5" stroke-opacity="0.8" fill="none"/><polyline points="49.4,626.8 52.5,617.7 52.4,609.2 54.9,603.8 57,598.9 59.2,593.8 60.2,589.3 64,586.1 65.9,584.1 67.1,581.6 68.9,580 71.2,580.7 73.2,579.9 75,581.8 77.3,580.7 79.8,581.7 81.3,579.7 82.8,577.7 85.6,578.1 87.5,577 89.1,575.4 91.3,573.9 93.4,574.4 95.2,577.7 97.2,577.2 99.2,577.2 101.2,575.6 103.2,576.1 105.2,576.4 107.2,576.3 109.2,575.4 111.2,575.5 113.2,576.5 115.3,576.8 117.2,575.6 119.2,575.6 121.2,575.7 123.2,575.7 125.3,577.3 127.2,574.5 129.2,577.4 131.2,576.5 133.2,575.3 135.2,577.1 137.2,574.3 139.2,575.2 141.2,574.5 143.2,576.2 145.2,577.5 147.2,576.6 149.2,574.4 151.2,574.3 153.2,575.2 155.2,576.6 157.3,577.1 159.2,574.1 161.3,576.4 163.2,575.8 165.2,576.7 167.2,576.1 169.3,575 171.2,576.9 173.2,576.6 175.2,575.1 177.2,577.1 179.2,575.4 181.2,575.7 183.2,576.9 185.2,575.9 187.2,576.4 189.2,576.5 191.2,575.7 193.3,574.9 195.4,574.7 197.1,577.8 199.4,574.9 201,578.5 203.5,575.4 205.3,576.8 207.1,578.5 209.3,577.7 211.5,577 213.5,577.4 215.4,578.3 217.5,577.8 219,581.7 221.2,580.6 223.1,581.9 225.3,580.6 227.4,579.5 229.3,580.7 231.1,583 233.3,581.2 235.3,580.9 237.5,580.4 239.1,582.9 241.3,582.3 243.2,583.1 245.1,584.2 247.1,584.4 249.1,584.8 251.1,585.5 253.3,583.5 255.2,584.8 257.2,585.5 259.2,585.1 261.2,585.8 263,586.7 265.3,585.2 267.5,584.7 269.3,585.9 271.2,586.5 273.2,586.6 275.2,587.1 277.4,585.2 279.2,587.9 281.1,589.1 283.1,588.5 285.4,586.4 287.3,586.6 289.2,589.2 291.3,587.2 293.2,589.6 295.3,588 297.3,587.8 299.2,589.2 301.2,589.2 303.3,587.6" stroke="#5cb85c" stroke-width="0.5" stroke-opacity="0.8" fill="none"/><path d="M42.3 545.8V671.8" stroke="#5a5a5a" stroke-width="0.9"/><path d="M305.1 540.2V671.8" stroke="#5a5a5a" stroke-width="0.9"/><path d="M42.3 671.8H305.1" stroke="#5a5a5a" stroke-width="0.9"/><path d="M42.3 663.4h1M42.3 655h1M42.3 646.6h1M42.3 638.2h1M42.3 629.8h1M42.3 621.4h1M42.3 613h1M42.3 604.6h1M42.3 596.2h1M42.3 587.8h1M42.3 579.4h1M42.3 571h1M42.3 562.6h1M42.3 554.2h1M42.3 545.8h1M51.06 671.8v1M59.82 671.8v1M68.58 671.8v1M77.34 671.8v1M86.1 671.8v1M94.86 671.8v1M103.62 671.8v1M112.38 671.8v1M121.14 671.8v1M129.9 671.8v1M138.66 671.8v1M147.42 671.8v1M156.18 671.8v1M164.94 671.8v1M173.7 671.8v1M182.46 671.8v1M191.22 671.8v1M199.98 671.8v1M208.74 671.8v1M217.5 671.8v1M226.26 671.8v1M235.02 671.8v1M243.78 671.8v1M252.54 671.8v1M261.3 671.8v1M270.06 671.8v1M278.82 671.8v1M287.58 671.8v1M296.34 671.8v1M306.3 660.8h1M306.3 648.02h1M306.3 635.24h1M306.3 622.47h1M306.3 609.69h1M306.3 596.91h1M306.3 584.13h1M306.3 571.36h1M306.3 558.58h1M306.3 545.8h1" stroke="#555" stroke-width="0.8" fill="none"/><rect x="135.86" y="668.5" width="12.26" height="4.6" fill="#fff"/><text transform="translate(40.8 664.61) scale(1.266 1)" font-size="3.36" text-anchor="end" fill="#4a4452" stroke="#4a4452" stroke-width="0.15">0.1</text><text transform="translate(40.8 656.21) scale(1.266 1)" font-size="3.36" text-anchor="end" fill="#4a4452" stroke="#4a4452" stroke-width="0.15">0.2</text><text transform="translate(40.8 647.81) scale(1.266 1)" font-size="3.36" text-anchor="end" fill="#4a4452" stroke="#4a4452" stroke-width="0.15">0.3</text><text transform="translate(40.8 639.41) scale(1.266 1)" font-size="3.36" text-anchor="end" fill="#4a4452" stroke="#4a4452" stroke-width="0.15">0.4</text><text transform="translate(40.8 631.01) scale(1.266 1)" font-size="3.36" text-anchor="end" fill="#4a4452" stroke="#4a4452" stroke-width="0.15">0.5</text><text transform="translate(40.8 622.61) scale(1.266 1)" font-size="3.36" text-anchor="end" fill="#4a4452" stroke="#4a4452" stroke-width="0.15">0.6</text><text transform="translate(40.8 614.21) scale(1.266 1)" font-size="3.36" text-anchor="end" fill="#4a4452" stroke="#4a4452" stroke-width="0.15">0.7</text><text transform="translate(40.8 605.81) scale(1.266 1)" font-size="3.36" text-anchor="end" fill="#4a4452" stroke="#4a4452" stroke-width="0.15">0.8</text><text transform="translate(40.8 597.41) scale(1.266 1)" font-size="3.36" text-anchor="end" fill="#4a4452" stroke="#4a4452" stroke-width="0.15">0.9</text><text transform="translate(40.8 589.01) scale(1.266 1)" font-size="3.36" text-anchor="end" fill="#4a4452" stroke="#4a4452" stroke-width="0.15">1</text><text transform="translate(40.8 580.61) scale(1.266 1)" font-size="3.36" text-anchor="end" fill="#4a4452" stroke="#4a4452" stroke-width="0.15">1.1</text><text transform="translate(40.8 572.21) scale(1.266 1)" font-size="3.36" text-anchor="end" fill="#4a4452" stroke="#4a4452" stroke-width="0.15">1.2</text><text transform="translate(40.8 563.81) scale(1.266 1)" font-size="3.36" text-anchor="end" fill="#4a4452" stroke="#4a4452" stroke-width="0.15">1.3</text><text transform="translate(40.8 555.41) scale(1.266 1)" font-size="3.36" text-anchor="end" fill="#4a4452" stroke="#4a4452" stroke-width="0.15">1.4</text><text transform="translate(40.8 547.01) scale(1.266 1)" font-size="3.36" text-anchor="end" fill="#4a4452" stroke="#4a4452" stroke-width="0.15">1.5</text><text transform="translate(51.06 677.23) scale(1.133 1)" font-size="3.15" text-anchor="middle" fill="#4a4452" stroke="#4a4452" stroke-width="0.15">1</text><text transform="translate(59.82 677.23) scale(1.133 1)" font-size="3.15" text-anchor="middle" fill="#4a4452" stroke="#4a4452" stroke-width="0.15">2</text><text transform="translate(68.58 677.23) scale(1.133 1)" font-size="3.15" text-anchor="middle" fill="#4a4452" stroke="#4a4452" stroke-width="0.15">3</text><text transform="translate(77.34 677.23) scale(1.133 1)" font-size="3.15" text-anchor="middle" fill="#4a4452" stroke="#4a4452" stroke-width="0.15">4</text><text transform="translate(86.1 677.23) scale(1.133 1)" font-size="3.15" text-anchor="middle" fill="#4a4452" stroke="#4a4452" stroke-width="0.15">5</text><text transform="translate(94.86 677.23) scale(1.133 1)" font-size="3.15" text-anchor="middle" fill="#4a4452" stroke="#4a4452" stroke-width="0.15">6</text><text transform="translate(103.62 677.23) scale(1.133 1)" font-size="3.15" text-anchor="middle" fill="#4a4452" stroke="#4a4452" stroke-width="0.15">7</text><text transform="translate(112.38 677.23) scale(1.133 1)" font-size="3.15" text-anchor="middle" fill="#4a4452" stroke="#4a4452" stroke-width="0.15">8</text><text transform="translate(121.14 677.23) scale(1.133 1)" font-size="3.15" text-anchor="middle" fill="#4a4452" stroke="#4a4452" stroke-width="0.15">9</text><text transform="translate(129.9 677.23) scale(1.133 1)" font-size="3.15" text-anchor="middle" fill="#4a4452" stroke="#4a4452" stroke-width="0.15">10</text><text transform="translate(138.66 677.23) scale(1.133 1)" font-size="3.15" text-anchor="middle" fill="#4a4452" stroke="#4a4452" stroke-width="0.15">11</text><text transform="translate(147.42 677.23) scale(1.133 1)" font-size="3.15" text-anchor="middle" fill="#4a4452" stroke="#4a4452" stroke-width="0.15">12</text><text transform="translate(156.18 677.23) scale(1.133 1)" font-size="3.15" text-anchor="middle" fill="#4a4452" stroke="#4a4452" stroke-width="0.15">13</text><text transform="translate(164.94 677.23) scale(1.133 1)" font-size="3.15" text-anchor="middle" fill="#4a4452" stroke="#4a4452" stroke-width="0.15">14</text><text transform="translate(173.7 677.23) scale(1.133 1)" font-size="3.15" text-anchor="middle" fill="#4a4452" stroke="#4a4452" stroke-width="0.15">15</text><text transform="translate(182.46 677.23) scale(1.133 1)" font-size="3.15" text-anchor="middle" fill="#4a4452" stroke="#4a4452" stroke-width="0.15">16</text><text transform="translate(191.22 677.23) scale(1.133 1)" font-size="3.15" text-anchor="middle" fill="#4a4452" stroke="#4a4452" stroke-width="0.15">17</text><text transform="translate(199.98 677.23) scale(1.133 1)" font-size="3.15" text-anchor="middle" fill="#4a4452" stroke="#4a4452" stroke-width="0.15">18</text><text transform="translate(208.74 677.23) scale(1.133 1)" font-size="3.15" text-anchor="middle" fill="#4a4452" stroke="#4a4452" stroke-width="0.15">19</text><text transform="translate(217.5 677.23) scale(1.133 1)" font-size="3.15" text-anchor="middle" fill="#4a4452" stroke="#4a4452" stroke-width="0.15">20</text><text transform="translate(226.26 677.23) scale(1.133 1)" font-size="3.15" text-anchor="middle" fill="#4a4452" stroke="#4a4452" stroke-width="0.15">21</text><text transform="translate(235.02 677.23) scale(1.133 1)" font-size="3.15" text-anchor="middle" fill="#4a4452" stroke="#4a4452" stroke-width="0.15">22</text><text transform="translate(243.78 677.23) scale(1.133 1)" font-size="3.15" text-anchor="middle" fill="#4a4452" stroke="#4a4452" stroke-width="0.15">23</text><text transform="translate(252.54 677.23) scale(1.133 1)" font-size="3.15" text-anchor="middle" fill="#4a4452" stroke="#4a4452" stroke-width="0.15">24</text><text transform="translate(261.3 677.23) scale(1.133 1)" font-size="3.15" text-anchor="middle" fill="#4a4452" stroke="#4a4452" stroke-width="0.15">25</text><text transform="translate(270.06 677.23) scale(1.133 1)" font-size="3.15" text-anchor="middle" fill="#4a4452" stroke="#4a4452" stroke-width="0.15">26</text><text transform="translate(278.82 677.23) scale(1.133 1)" font-size="3.15" text-anchor="middle" fill="#4a4452" stroke="#4a4452" stroke-width="0.15">27</text><text transform="translate(287.58 677.23) scale(1.133 1)" font-size="3.15" text-anchor="middle" fill="#4a4452" stroke="#4a4452" stroke-width="0.15">28</text><text transform="translate(296.34 677.23) scale(1.133 1)" font-size="3.15" text-anchor="middle" fill="#4a4452" stroke="#4a4452" stroke-width="0.15">29</text><text transform="translate(315.61 661.93) scale(1.200 1)" font-size="3.15" text-anchor="end" fill="#333" stroke="#333" stroke-width="0.15">10</text><text transform="translate(315.61 649.16) scale(1.200 1)" font-size="3.15" text-anchor="end" fill="#333" stroke="#333" stroke-width="0.15">20</text><text transform="translate(315.61 636.38) scale(1.200 1)" font-size="3.15" text-anchor="end" fill="#333" stroke="#333" stroke-width="0.15">30</text><text transform="translate(315.61 623.6) scale(1.200 1)" font-size="3.15" text-anchor="end" fill="#333" stroke="#333" stroke-width="0.15">40</text><text transform="translate(315.61 610.82) scale(1.200 1)" font-size="3.15" text-anchor="end" fill="#333" stroke="#333" stroke-width="0.15">50</text><text transform="translate(315.61 598.05) scale(1.200 1)" font-size="3.15" text-anchor="end" fill="#333" stroke="#333" stroke-width="0.15">60</text><text transform="translate(315.61 585.27) scale(1.200 1)" font-size="3.15" text-anchor="end" fill="#333" stroke="#333" stroke-width="0.15">70</text><text transform="translate(315.61 572.49) scale(1.200 1)" font-size="3.15" text-anchor="end" fill="#333" stroke="#333" stroke-width="0.15">80</text><text transform="translate(315.61 559.71) scale(1.200 1)" font-size="3.15" text-anchor="end" fill="#333" stroke="#333" stroke-width="0.15">90</text><text transform="translate(315.61 546.93) scale(1.200 1)" font-size="3.15" text-anchor="end" fill="#333" stroke="#333" stroke-width="0.15">100</text><text transform="translate(31.83 608.8) rotate(-90) scale(0.726 1)" font-size="4.5" text-anchor="middle" fill="#555" stroke="#555" stroke-width="0.15">Torque(Nm)</text><text transform="translate(321.01 606.5) rotate(90) scale(0.707 1)" font-size="5.8" text-anchor="middle" fill="#333" stroke="#333" stroke-width="0.1">Temperature     (°C)</text><text transform="translate(172.82 683.19) scale(1.152 1)" font-size="3.3" text-anchor="middle" fill="#333" stroke="#333" stroke-width="0.15">Time (min)</text><path d="M28.28 684.8H305.1V671.8" stroke="#dcf3dc" stroke-width="0.9" fill="none"/><text transform="translate(28.72 688.9) scale(1.306 1)" font-size="3.6" fill="#1a1a1a" stroke="#1a1a1a" stroke-width="0.15">amara</text><text transform="translate(116.76 688.9) scale(1.306 1)" font-size="3.6" fill="#1a1a1a" stroke="#1a1a1a" stroke-width="0.15">Mixing</text><text transform="translate(162.31 688.9) scale(1.306 1)" font-size="3.6" fill="#1a1a1a" stroke="#1a1a1a" stroke-width="0.15">1/2</text><text transform="translate(192.97 688.9) scale(1.306 1)" font-size="3.6" fill="#1a1a1a" stroke="#1a1a1a" stroke-width="0.15">Device N°</text><text transform="translate(229.76 688.9) scale(1.306 1)" font-size="3.6" fill="#1a1a1a" stroke="#1a1a1a" stroke-width="0.15">499</text><text transform="translate(250.35 688.9) scale(1.306 1)" font-size="3.6" fill="#1a1a1a" stroke="#1a1a1a" stroke-width="0.15">Version4.0.8r4.1i</text><text transform="translate(308.6 688.9) scale(1.306 1)" font-size="3.6" fill="#1a1a1a" stroke="#1a1a1a" stroke-width="0.15">TNC</text><text x="57" y="563.3" font-family='"Liberation Serif", serif' font-weight="bold" font-size="12" fill="#000">D10</text></g><g><path d="M350.2 665.81H596.2M350.2 657.52H596.2M350.2 649.23H596.2M350.2 640.94H596.2M350.2 632.65H596.2M350.2 624.36H596.2M350.2 616.07H596.2M350.2 607.78H596.2M350.2 599.49H596.2M350.2 591.2H596.2M350.2 582.91H596.2M350.2 574.62H596.2M350.2 566.33H596.2M350.2 558.04H596.2M350.2 549.75H596.2" stroke="#e4e4e4" stroke-width="0.9" fill="none"/><path d="M358.4 549.75V674.1M366.6 549.75V674.1M374.8 549.75V674.1M383 549.75V674.1M391.2 549.75V674.1M399.4 549.75V674.1M407.6 549.75V674.1M415.8 549.75V674.1M424 549.75V674.1M432.2 549.75V674.1M440.4 549.75V674.1M448.6 549.75V674.1M456.8 549.75V674.1M465 549.75V674.1M473.2 549.75V674.1M481.4 549.75V674.1M489.6 549.75V674.1M497.8 549.75V674.1M506 549.75V674.1M514.2 549.75V674.1M522.4 549.75V674.1M530.6 549.75V674.1M538.8 549.75V674.1M547 549.75V674.1M555.2 549.75V674.1M563.4 549.75V674.1M571.6 549.75V674.1M579.8 549.75V674.1M588 549.75V674.1" stroke="#dfdfdf" stroke-width="0.9" fill="none"/><path d="M350.2 582.91H596.2" stroke="#c990d4" stroke-width="1"/><path d="M350.2 578.76H596.2M350.2 587.06H596.2" stroke="#c58ad2" stroke-width="0.9" stroke-dasharray="0.9 1.5"/><polyline points="350.2,629.33 354.3,629.08 358.4,628.85 362.5,628.64 366.6,628.44 370.7,628.25 374.8,628.07 378.9,627.91 383,627.76 387.1,627.62 391.2,627.49 395.3,627.37 399.4,627.25 403.5,627.15 407.6,627.05 411.7,626.96 415.8,626.87 419.9,626.79 424,626.72 428.1,626.65 432.2,626.59 436.3,626.53 440.4,626.47 444.5,626.42 448.6,626.37 452.7,626.33 456.8,626.28 460.9,626.24 465,626.21 469.1,626.17 473.2,626.14 477.3,626.11 481.4,626.09 485.5,626.06 489.6,626.04 493.7,626.02 497.8,626 501.9,625.98 506,625.96 510.1,625.94 514.2,625.93 518.3,625.91 522.4,625.9 526.5,625.89 530.6,625.88 534.7,625.86 538.8,625.85 542.9,625.85 547,625.84 551.1,625.83 555.2,625.82 559.3,625.81 563.4,625.81 567.5,625.8 571.6,625.8 575.7,625.79 579.8,625.79 583.9,625.78 588,625.78 592.1,625.77 596.2,625.77" stroke="#f27af2" stroke-width="1" fill="none"/><path d="M350.2 637.38H595.3V674.1" stroke="#f47c7c" stroke-width="1" fill="none"/><polyline points="350.2,674.1 350.7,673.05 351.2,667 351.7,659.06 352.2,652.25 352.7,647.69 353.2,644.29 353.7,641.71 354.2,639.41 354.7,636.78 355.2,633.38 355.7,629.94 356.2,627.43 356.7,625.54 357.2,623.3 357.7,620.56 358.2,618.39 358.7,616.54 359.2,614.98 359.7,613.6 360.2,612.38 360.7,611.34 361.2,610.45 361.7,609.68 362.2,608.98" stroke="#eea860" stroke-width="1.1" fill="none" transform="translate(0.9,0.9)"/><polyline points="350.2,674.1 350.7,673.05 351.2,667 351.7,659.06 352.2,652.25 352.7,647.69 353.2,644.29 353.7,641.71 354.2,639.41 354.7,636.78 355.2,633.38 355.7,629.94 356.2,627.43 356.7,625.54 357.2,623.3 357.7,620.56 358.2,618.39 358.7,616.54 359.2,614.98 359.7,613.6 360.2,612.38 360.7,611.34 361.2,610.45 361.7,609.68 362.2,608.98" stroke="#8cc88c" stroke-width="0.8" fill="none" transform="translate(-0.9,0)"/><polyline points="350.2,674.1 350.7,673.05 351.2,667 351.7,659.06 352.2,652.25 352.7,647.69 353.2,644.29 353.7,641.71 354.2,639.41 354.7,636.78 355.2,633.38 355.7,629.94 356.2,627.43 356.7,625.54 357.2,623.3 357.7,620.56 358.2,618.39 358.7,616.54 359.2,614.98 359.7,613.6 360.2,612.38 360.7,611.34 361.2,610.45 361.7,609.68 362.2,608.98" stroke="#3a5fcd" stroke-width="0.9" fill="none"/><polyline points="360.3,619.3 358.2,615.6 361.1,614.1 360.9,611.9 360.4,609.7 364,610.5 364.5,609.3 363.2,606.6 366.4,608.1 364.2,604.3 367.3,605.9 367.6,604.7 367.6,603.1 366.9,600.5 370.6,603.8 370.3,601.8 370.6,600.4 371.3,599.7 373,600.6 372.9,598.6 374.1,598.9 374.6,597.8 374.6,595.7 375.9,596.3 378.1,599.1 378.9,598.6 379.4,597.4 379.6,595.9 382,597.7 382.4,596.6 381.4,593.2 383.1,594.4 384.6,596.3 385,595.1 385.1,592.5 386.1,592.9 386.9,593 388.1,595.1 388.7,593.9 389.2,591.9 390.1,592.2 390.8,590 391.7,592.3 392.6,590.8 393.5,590 394.3,590.1 395,590.9 395.6,593.8 396.7,590.8 397.3,593.1 398.1,593.4 398.8,595.6 399.7,592.6 400.5,594.5 401.4,590.2 402.1,593.8 402.8,595.8 403.8,590.3 404.5,595.4 405.3,591 406.1,594 406.9,590.2 407.7,590.4 408.5,590.9 409.4,595.4 410.2,594.6 411,593.9 411.8,593.8 412.5,591.6 413.3,593 414.1,592.7 415,595.4 415.7,592.5 416.5,594.2 417.3,592 418,595.4 418.8,595 419.5,595.9 420.6,591.4 421.2,595.3 422.1,593 422.9,593.2 423.7,593.4 424.4,590.8 425.5,595.4 426.2,593.7 426.6,590.6 427.9,594.2 428.2,590.5 429.2,591.9 430.2,593.5 430.9,592.2 431.6,589.8 432.5,593.1 433.4,591.6 434.2,591.7 435.1,590.5 435.9,590.8 436.1,595.6 437.2,593.4 438,593.4 438.7,594.7 439.8,592.4 440.7,591.2 441.3,593.9 442.2,592.8 443,592.8 443.9,591 444.5,593 445.5,590.9 446,596 447,592.9 447.6,595 448.5,594.3 449.3,593.5 450.2,592.9 451.1,591.2 451.7,594.9 452.7,591.7 453.4,592.5 454,596.8 455,593.4 455.8,593.4 456.4,595.4 457.4,592.9 458.2,593.6 459,593.2 459.6,595.6 460.6,592 461.3,593.8 462,597.5 462.9,595.4 463.7,594.5 464.6,593.4 465.4,591.9 466,597.1 466.8,597.2 467.6,597.6 468.5,594.7 469.3,595.4 470.2,593.6 470.8,596.8 471.7,595.4 472.6,593.8 473.4,593.8 474.2,594.2 474.8,596.2 475.5,596.9 476.9,593.1 476.9,598 477.9,597.2 478.6,597.6 480,594.2 480.8,594 481.2,597.5 481.9,598.8 483,595.4 483.9,594 484.6,595.4 485.2,598.4 486,598.4 487,595 487.9,594.6 488.5,596.6 489.4,595.7 489.9,598.9 490.9,596.7 491.9,595.4 492.6,596.7 493.6,595.7 493.9,598.6 494.4,600.3 495.6,598.3 496.7,596.3 497.1,599.8 498.2,597.2 499.2,595.7 499.9,596.2 500.6,597.6 501.1,600.4 502.3,596.9 502.7,600.2 504,596.2 504.3,600.7 505.2,600.1 506.4,596.5 507.3,596.4 507.9,597.7 508.8,597.4 509.2,600.2 510.1,599.3 510.9,600 511.9,598.4 512.2,602.6 513.6,597.6 514,600.9 514.9,600.2 515.5,603 516.3,602.9 517.3,600.1 518.1,600 519,599.5 519.9,598.5 520.4,601.6 521.1,602.8 522.1,600.5 522.6,603.2 523.9,599.3 524.7,599.5 524.9,603.7 525.8,603.6 526.9,601.3 527.7,601.6 528.6,600.6 529.7,598.8 530.2,600.9 530.6,604.6 531.7,601.9 532.3,603.7 533.5,600 534,603.5 534.9,602.7 535.4,605.1 536.6,601.2 537.3,602.2 538.2,601.2 538.8,604 539.9,600.1 540.4,604.1 541.2,604.7 542.2,601.3 543,602 543.8,602 544.4,605.2 545.4,601 546,605.5 547.1,600.7 547.9,600.5 548.4,605.1 549.4,600.7 550.1,603.7 550.9,603.4 551.6,605.7 552.5,604.4 553.2,606.3 554.1,604.6 555,602.6 555.6,606.2 556.7,601.2 557.2,604.8 558.3,601.4 559,601.9 559.8,603.2 560.5,603.9 561.5,601.3 562.1,603.4 562.9,604.2 563.8,602.8 564.5,603.5 565.3,605.8 566.2,602.3 566.9,603 567.7,602.9 568.5,602.7 569.4,601.5 570,606.9 570.9,604.3 571.7,603.3 572.4,606.6 573.4,601.6 574.2,602.1 575.1,601.6 575.9,601.7 576.7,601.6 577.3,605.2 578,605.9 579,603.8 579.6,607.2 580.4,606.3 581.1,607.7 582,606.4 582.9,605 583.9,602.4 584.7,602.8 585.4,604.1 586.3,603 586.8,606 587.9,602.7 588.5,605.6 589.4,604.6 590.2,604.8 591.1,603.1 591.6,606.9 592.4,607.2 593.4,604.7 594.2,605.1 594.8,607 595.9,603.8" stroke="#eaa862" stroke-width="0.7" fill="none"/><polyline points="356.1,618.3 359.4,616 361.6,614.3 359.4,611.2 362.3,610.9 361.9,609 364.9,609.7 364,607.4 366.9,608.5 364.1,604.2 364.3,602.7 366.2,603.1 368.9,604.7 368.7,602.8 371,604.4 372,604.2 372.5,603.3 370.4,598.4 372.8,600.4 374.1,600.7 375.5,601.4 373.7,596.3 376,598.7 375.2,594.8 378,598.9 378.3,597.4 377.6,594.3 378.2,593.8 380.6,595.6 381.3,594.9 382.2,594.7 384.2,597.1 384.8,596.9 384.1,592.1 384.5,590.4 385.8,591.6 387.3,595.1 387.4,591.1 388.1,590.1 389.4,593.2 390.2,593.8 390.8,590 391.8,589.2 392.6,590 393.4,590.6 394.2,591.5 394.9,593 395.5,595.5 396.6,591.6 397.2,593.7 398,594 399,591.3 399.7,593.3 400.4,596.3 401.2,596.4 402.1,592.4 402.9,595.3 403.7,591.8 404.5,595.1 405.3,592.1 406.1,595 406.9,590 407.7,590.9 408.5,593.9 409.2,591 410.1,591.5 411,594.2 411.6,591.4 412.5,591.6 413.4,595.1 414,590.1 414.9,589.5 415.7,595.1 416.4,595.6 417.3,594.1 418.1,593.8 418.7,595.7 419.7,593.2 420.7,590.3 421.4,592.2 422.1,592.7 422.8,595.7 423.7,594 424.4,590.1 425.4,594.3 426.4,595.5 426.5,590 428.1,595.8 428.1,589.7 429.5,593.9 430,591.6 430.9,592.4 431.6,590.1 432.5,590 433.4,590.9 433.9,594.6 434.7,594.9 435.5,594.7 436.7,591.6 437.5,591.7 438.2,592.6 439.2,590.6 439.8,592.3 440.5,593.5 441.4,591.8 442.3,591 443.1,590.5 443.7,593.1 444.5,593.7 445.4,592.2 446.3,590.1 446.9,593.5 447.5,596.9 448.5,594.3 449.3,593.7 450.1,593.5 451,592.7 451.7,594.6 452.6,591.8 453.1,596.8 454.1,593.8 454.8,595.3 455.9,591.1 456.6,593.3 457.4,591.8 458.2,592.1 458.9,595.4 459.7,595.5 460.5,595.4 461.4,593.3 462,597.1 462.8,596.6 463.7,595.3 464.6,593.8 465.2,596.4 466.2,593.1 467,592.9 467.8,591.4 468.5,596.5 469.4,592.4 470.2,593.7 470.9,594.8 471.7,594.8 472.4,597.1 473.5,592.4 474,596 474.9,595.3 476,593.4 476.7,594.1 477.4,594.8 478.6,593.1 479.4,592.7 480.1,593.5 480.6,595.4 481.1,598.7 482.2,594.8 482.7,598.6 483.5,599 484.6,594.5 485.2,598.7 486.1,596.3 486.9,596.7 487.6,598.6 488.5,596.6 489.2,597.7 490.4,594.3 491.3,593.8 491.3,599.4 492.5,597.3 493.8,594.1 493.8,599.2 494.6,599.4 496,596 496.3,599.2 496.9,601.2 498,598.6 498.6,600.8 500,595.5 500.8,595.4 501.4,597.5 502.4,595.9 502.5,602 504,596.3 504.5,598.7 505.7,595.8 506.5,595.7 506.7,600.8 507.5,600.3 508.6,598.5 509,601.7 509.9,601.1 510.9,599.7 511.5,601.6 512.4,600.6 513.6,597 514.3,598.2 514.9,600.3 515.8,598.7 516.5,600.6 517.2,601.4 518.2,598.9 518.9,601 519.8,598.9 520.4,601.7 521.6,597.1 521.8,603.9 522.9,600.9 523.8,599.9 524.6,600.5 525.6,598.7 525.7,604.1 526.9,601.1 527.7,601.3 528.9,598.8 529.3,601.6 530.3,600.1 531,601.4 531.6,603.3 532.3,603.5 533.5,600.3 534.1,602.1 534.6,604.9 535.6,602.9 536.7,600.7 537.5,600 538.3,600.2 539,601.5 539.9,600.2 540.4,604.7 541.1,605.9 541.9,606.3 542.8,604.3 543.7,603 544.4,605.1 545.3,602.6 546.3,599.8 546.7,606.5 547.9,600.3 548.7,600 549.2,605.1 550.1,603.6 550.9,604.3 551.7,604.4 552.5,603 553.5,600.4 554.1,603.7 554.7,607 555.7,603.8 556.3,606.3 557.1,606.4 558,605.1 559.1,601.7 559.5,606.9 560.4,606.1 561.2,606 562.3,601 562.8,606.7 563.7,605 564.5,604.8 565.4,601.2 566.1,606.2 566.9,606 567.8,602.5 568.6,601.6 569.3,605.5 570.2,602.1 570.9,603.7 571.6,606 572.5,604.3 573.2,606.3 574.2,602.1 574.8,606.9 575.7,604.9 576.5,604.8 577.5,601.8 578.1,605 579,603.9 579.5,607.6 580.7,602.2 581.3,605.1 582.1,604.6 582.7,608.1 583.5,607.5 584.5,604.9 585.1,607.7 586.1,605.6 587.1,602.5 587.9,602.4 588.6,604.7 589.1,608.4 590,607.3 590.7,608.4 591.4,608.8 592.4,607.4 593.4,605 594.3,604.2 594.7,607.9 595.5,608.1" stroke="#70c070" stroke-width="0.7" fill="none"/><polygon points="357.7,619 358.7,615 359.7,612.1 360.7,609.8 361.7,608.1 362.7,606.8 363.7,605.6 364.7,604.5 365.7,603.5 366.7,602.6 367.7,601.7 368.7,600.9 369.7,600.2 370.7,599.5 371.7,598.8 372.7,598.2 373.7,597.6 374.7,597 375.7,596.5 376.7,596 377.7,595.6 378.7,595.1 379.7,594.5 380.7,593.8 381.7,593.1 382.7,592.6 383.7,592.2 384.7,591.9 385.7,591.6 386.7,591.4 387.7,591.2 388.7,591 389.7,590.9 390.7,590.8 391.7,590.8 392.7,590.8 393.7,590.9 394.7,591 395.7,591.1 396.7,591.1 397.7,591.2 398.7,591.3 399.7,591.3 400.7,591.3 401.7,591.4 402.7,591.4 403.7,591.4 404.7,591.4 405.7,591.5 406.7,591.5 407.7,591.5 408.7,591.5 409.7,591.4 410.7,591.4 411.7,591.3 412.7,591.3 413.7,591.3 414.7,591.2 415.7,591.2 416.7,591.2 417.7,591.3 418.7,591.3 419.7,591.4 420.7,591.5 421.7,591.6 422.7,591.6 423.7,591.6 424.7,591.6 425.7,591.5 426.7,591.4 427.7,591.3 428.7,591.1 429.7,591 430.7,590.9 431.7,590.8 432.7,590.8 433.7,590.9 434.7,591 435.7,591.1 436.7,591.2 437.7,591.3 438.7,591.5 439.7,591.6 440.7,591.7 441.7,591.7 442.7,591.8 443.7,591.9 444.7,592 445.7,592 446.7,592.1 447.7,592.2 448.7,592.2 449.7,592.3 450.7,592.4 451.7,592.4 452.7,592.5 453.7,592.5 454.7,592.6 455.7,592.7 456.7,592.7 457.7,592.8 458.7,592.8 459.7,592.9 460.7,592.9 461.7,593 462.7,593 463.7,593.1 464.7,593.1 465.7,593.2 466.7,593.2 467.7,593.2 468.7,593.3 469.7,593.3 470.7,593.3 471.7,593.4 472.7,593.4 473.7,593.5 474.7,593.6 475.7,593.7 476.7,593.9 477.7,594.1 478.7,594.3 479.7,594.4 480.7,594.5 481.7,594.7 482.7,594.7 483.7,594.8 484.7,594.9 485.7,594.9 486.7,595 487.7,595 488.7,595.1 489.7,595.2 490.7,595.3 491.7,595.5 492.7,595.6 493.7,595.8 494.7,596 495.7,596.1 496.7,596.3 497.7,596.4 498.7,596.6 499.7,596.7 500.7,596.8 501.7,596.9 502.7,597 503.7,597.1 504.7,597.2 505.7,597.3 506.7,597.4 507.7,597.6 508.7,597.7 509.7,597.9 510.7,598 511.7,598.1 512.7,598.3 513.7,598.4 514.7,598.5 515.7,598.6 516.7,598.7 517.7,598.7 518.7,598.8 519.7,598.9 520.7,598.9 521.7,599 522.7,599.1 523.7,599.2 524.7,599.4 525.7,599.5 526.7,599.7 527.7,599.8 528.7,599.9 529.7,600.1 530.7,600.2 531.7,600.3 532.7,600.4 533.7,600.5 534.7,600.6 535.7,600.7 536.7,600.8 537.7,600.9 538.7,601 539.7,601.1 540.7,601.2 541.7,601.2 542.7,601.3 543.7,601.4 544.7,601.4 545.7,601.5 546.7,601.6 547.7,601.6 548.7,601.7 549.7,601.7 550.7,601.8 551.7,601.8 552.7,601.9 553.7,601.9 554.7,602 555.7,602 556.7,602.1 557.7,602.2 558.7,602.2 559.7,602.3 560.7,602.4 561.7,602.4 562.7,602.5 563.7,602.5 564.7,602.5 565.7,602.6 566.7,602.6 567.7,602.6 568.7,602.7 569.7,602.7 570.7,602.7 571.7,602.8 572.7,602.8 573.7,602.8 574.7,602.9 575.7,602.9 576.7,603 577.7,603 578.7,603.1 579.7,603.2 580.7,603.2 581.7,603.3 582.7,603.3 583.7,603.4 584.7,603.5 585.7,603.6 586.7,603.6 587.7,603.7 588.7,603.8 589.7,603.9 590.7,604 591.7,604.1 592.7,604.1 593.7,604.2 594.7,604.3 595.7,604.4 596.2,607.6 595.2,607.5 594.2,607.4 593.2,607.3 592.2,607.2 591.2,607.1 590.2,607 589.2,606.9 588.2,606.9 587.2,606.8 586.2,606.7 585.2,606.6 584.2,606.6 583.2,606.5 582.2,606.4 581.2,606.3 580.2,606.3 579.2,606.2 578.2,606.2 577.2,606.1 576.2,606.1 575.2,606 574.2,606 573.2,605.9 572.2,605.9 571.2,605.8 570.2,605.8 569.2,605.8 568.2,605.7 567.2,605.7 566.2,605.7 565.2,605.7 564.2,605.6 563.2,605.6 562.2,605.5 561.2,605.5 560.2,605.4 559.2,605.4 558.2,605.3 557.2,605.2 556.2,605.2 555.2,605.1 554.2,605 553.2,605 552.2,605 551.2,604.9 550.2,604.9 549.2,604.8 548.2,604.8 547.2,604.7 546.2,604.6 545.2,604.6 544.2,604.5 543.2,604.4 542.2,604.4 541.2,604.3 540.2,604.2 539.2,604.1 538.2,604.1 537.2,604 536.2,603.9 535.2,603.8 534.2,603.7 533.2,603.6 532.2,603.5 531.2,603.3 530.2,603.2 529.2,603.1 528.2,603 527.2,602.8 526.2,602.7 525.2,602.5 524.2,602.4 523.2,602.3 522.2,602.2 521.2,602.1 520.2,602 519.2,601.9 518.2,601.9 517.2,601.8 516.2,601.7 515.2,601.6 514.2,601.5 513.2,601.4 512.2,601.3 511.2,601.2 510.2,601 509.2,600.9 508.2,600.7 507.2,600.6 506.2,600.5 505.2,600.4 504.2,600.3 503.2,600.1 502.2,600 501.2,599.9 500.2,599.8 499.2,599.7 498.2,599.6 497.2,599.5 496.2,599.3 495.2,599.2 494.2,599 493.2,598.8 492.2,598.6 491.2,598.5 490.2,598.4 489.2,598.3 488.2,598.2 487.2,598.1 486.2,598.1 485.2,598 484.2,597.9 483.2,597.9 482.2,597.8 481.2,597.7 480.2,597.6 479.2,597.4 478.2,597.3 477.2,597.1 476.2,596.9 475.2,596.8 474.2,596.6 473.2,596.6 472.2,596.5 471.2,596.5 470.2,596.4 469.2,596.4 468.2,596.3 467.2,596.3 466.2,596.3 465.2,596.2 464.2,596.2 463.2,596.1 462.2,596.1 461.2,596.1 460.2,596 459.2,595.9 458.2,595.9 457.2,595.8 456.2,595.8 455.2,595.7 454.2,595.7 453.2,595.6 452.2,595.5 451.2,595.5 450.2,595.4 449.2,595.4 448.2,595.3 447.2,595.2 446.2,595.2 445.2,595.1 444.2,595 443.2,595 442.2,594.9 441.2,594.8 440.2,594.7 439.2,594.6 438.2,594.5 437.2,594.4 436.2,594.2 435.2,594.1 434.2,594 433.2,593.9 432.2,593.9 431.2,593.9 430.2,594 429.2,594.2 428.2,594.3 427.2,594.5 426.2,594.6 425.2,594.7 424.2,594.7 423.2,594.7 422.2,594.7 421.2,594.6 420.2,594.6 419.2,594.5 418.2,594.4 417.2,594.4 416.2,594.3 415.2,594.3 414.2,594.3 413.2,594.4 412.2,594.4 411.2,594.5 410.2,594.5 409.2,594.5 408.2,594.6 407.2,594.6 406.2,594.6 405.2,594.6 404.2,594.5 403.2,594.5 402.2,594.5 401.2,594.5 400.2,594.4 399.2,594.4 398.2,594.4 397.2,594.3 396.2,594.2 395.2,594.1 394.2,594 393.2,594 392.2,593.9 391.2,593.9 390.2,594 389.2,594.1 388.2,594.2 387.2,594.4 386.2,594.6 385.2,594.8 384.2,595.1 383.2,595.5 382.2,595.9 381.2,596.6 380.2,597.3 379.2,597.9 378.2,598.5 377.2,598.9 376.2,599.4 375.2,599.8 374.2,600.4 373.2,601 372.2,601.6 371.2,602.3 370.2,602.9 369.2,603.6 368.2,604.4 367.2,605.2 366.2,606.1 365.2,607.1 364.2,608.1 363.2,609.3 362.2,610.5 361.2,612 360.2,613.9 359.2,616.5 358.2,619.9" fill="#1e961e"/><polyline points="357.7,620.6 358.7,616.5 359.7,613.6 360.7,611.3 361.7,609.7 362.7,608.3 363.7,607.1 364.7,606.1 365.7,605 366.7,604.1 367.7,603.3 368.7,602.5 369.7,601.7 370.7,601 371.7,600.4 372.7,599.7 373.7,599.1 374.7,598.6 375.7,598 376.7,597.6 377.7,597.1 378.7,596.6 379.7,596 380.7,595.4 381.7,594.7 382.7,594.1 383.7,593.8 384.7,593.4 385.7,593.2 386.7,592.9 387.7,592.8 388.7,592.6 389.7,592.5 390.7,592.4 391.7,592.4 392.7,592.4 393.7,592.5 394.7,592.5 395.7,592.6 396.7,592.7 397.7,592.8 398.7,592.8 399.7,592.9 400.7,592.9 401.7,592.9 402.7,593 403.7,593 404.7,593 405.7,593 406.7,593 407.7,593 408.7,593 409.7,593 410.7,592.9 411.7,592.9 412.7,592.9 413.7,592.8 414.7,592.8 415.7,592.8 416.7,592.8 417.7,592.8 418.7,592.9 419.7,593 420.7,593 421.7,593.1 422.7,593.2 423.7,593.2 424.7,593.2 425.7,593.1 426.7,593 427.7,592.8 428.7,592.7 429.7,592.5 430.7,592.4 431.7,592.4 432.7,592.4 433.7,592.4 434.7,592.5 435.7,592.6 436.7,592.7 437.7,592.9 438.7,593 439.7,593.1 440.7,593.2 441.7,593.3 442.7,593.4 443.7,593.4 444.7,593.5 445.7,593.6 446.7,593.6 447.7,593.7 448.7,593.8 449.7,593.8 450.7,593.9 451.7,594 452.7,594 453.7,594.1 454.7,594.1 455.7,594.2 456.7,594.3 457.7,594.3 458.7,594.4 459.7,594.4 460.7,594.5 461.7,594.5 462.7,594.6 463.7,594.6 464.7,594.7 465.7,594.7 466.7,594.7 467.7,594.8 468.7,594.8 469.7,594.8 470.7,594.9 471.7,594.9 472.7,595 473.7,595.1 474.7,595.2 475.7,595.3 476.7,595.5 477.7,595.6 478.7,595.8 479.7,596 480.7,596.1 481.7,596.2 482.7,596.3 483.7,596.4 484.7,596.4 485.7,596.5 486.7,596.5 487.7,596.6 488.7,596.7 489.7,596.8 490.7,596.9 491.7,597 492.7,597.2 493.7,597.3 494.7,597.5 495.7,597.7 496.7,597.8 497.7,598 498.7,598.1 499.7,598.2 500.7,598.3 501.7,598.4 502.7,598.5 503.7,598.7 504.7,598.8 505.7,598.9 506.7,599 507.7,599.1 508.7,599.3 509.7,599.4 510.7,599.6 511.7,599.7 512.7,599.8 513.7,599.9 514.7,600 515.7,600.1 516.7,600.2 517.7,600.3 518.7,600.3 519.7,600.4 520.7,600.5 521.7,600.6 522.7,600.7 523.7,600.8 524.7,600.9 525.7,601.1 526.7,601.2 527.7,601.3 528.7,601.5 529.7,601.6 530.7,601.7 531.7,601.9 532.7,602 533.7,602.1 534.7,602.2 535.7,602.3 536.7,602.4 537.7,602.5 538.7,602.5 539.7,602.6 540.7,602.7 541.7,602.8 542.7,602.9 543.7,602.9 544.7,603 545.7,603.1 546.7,603.1 547.7,603.2 548.7,603.2 549.7,603.3 550.7,603.3 551.7,603.4 552.7,603.4 553.7,603.5 554.7,603.5 555.7,603.6 556.7,603.6 557.7,603.7 558.7,603.8 559.7,603.8 560.7,603.9 561.7,604 562.7,604 563.7,604.1 564.7,604.1 565.7,604.1 566.7,604.2 567.7,604.2 568.7,604.2 569.7,604.2 570.7,604.3 571.7,604.3 572.7,604.3 573.7,604.4 574.7,604.4 575.7,604.5 576.7,604.5 577.7,604.6 578.7,604.6 579.7,604.7 580.7,604.8 581.7,604.8 582.7,604.9 583.7,605 584.7,605 585.7,605.1 586.7,605.2 587.7,605.3 588.7,605.3 589.7,605.4 590.7,605.5 591.7,605.6 592.7,605.7 593.7,605.8 594.7,605.9 595.7,606" stroke="#1e961e" stroke-width="2.2" fill="none" stroke-linejoin="round"/><polyline points="357.4,618.6 357.8,615.9 358.4,613.7 361.5,612.9 362.1,611.6 360.3,608.9 361.6,608.3 363.5,608.3 364.3,607.7 364.2,606.2 365.1,605.6 366.5,605.6 366.3,604.1 368.4,605.1 367.4,602.5 367.6,601.3 368.7,601.2 369,600 371.7,602.5 371.8,601.1 371.4,599 371.8,598 374.3,600.5 373.9,598.4 374.3,597.4 375.4,597.7 375.7,596.5 376.3,595.8 376.9,595.3 377.5,595 379.4,596.8 379.4,595.4 379.9,594.7 381.1,594.9 382.2,595 382.1,593.2 382.8,592.4 384.2,594.3 384.4,592.5 385.8,594.7 386.1,593.1 387.2,594.9 387.3,591.4 387.9,591.1 388.7,591.1 389.8,594.5 390.4,593.2 391,592.8 391.7,591.7 392.5,590.9 393.2,590.4 393.7,593.8 394.5,592.4 395,594.7 396.1,590.6 396.5,594.2 397.4,591.3 397.9,594.9 398.8,591.3 399.4,591.7 400.1,592.7 400.8,593 401.6,591.5 402.2,593.9 402.9,594.7 403.7,591.2 404.3,591.6 405,594.2 405.7,591.1 406.4,593.8 407.1,594.1 407.8,594.7 408.5,593.2 409.2,592.4 409.8,591.2 410.6,592 411.2,591.4 412,592.9 412.6,590.8 413.5,593.9 414.2,594.9 414.8,591.3 415.5,593.4 416.2,594.5 417,591.6 417.5,594.6 418.2,593.8 418.9,594 419.8,591.9 420.3,593.9 421,594.3 421.7,594.8 422.5,593.4 423.3,591.5 423.9,593.8 424.6,592.7 425.4,594.8 425.9,592.4 426.8,593.4 427.4,593.1 427.9,591.2 429,593.7 429.5,592.4 430.2,592.6 430.9,592.1 431.5,590.3 432.3,590.7 433,592.4 433.7,592 434.4,592.1 435.2,591.3 435.8,592.9 436.5,592.5 437.2,592.9 437.8,593.4 438.4,595 439.2,594 440,593.7 440.6,594.1 441.5,592.3 442,594.4 442.9,592.3 443.5,594.2 444.3,592.3 444.8,594.8 445.7,592.9 446.2,595.4 446.9,594.9 447.6,595.6 448.3,594.9 449.1,593.2 449.9,592.5 450.4,595.6 451.3,592 451.8,595.9 452.7,592.6 453.3,594.5 454,594.2 454.7,595 455.5,592.7 456.1,593.7 456.8,594.6 457.4,595.6 458.2,594.7 458.9,595.1 459.7,593.4 460.3,594.1 461,595 461.7,593.9 462.3,595.8 463,596.1 463.9,592.5 464.5,594.4 465.3,593.5 465.9,595.3 466.5,596.5 467.3,593.9 468,594.1 468.7,594.5 469.4,594.8 470.1,594.8 470.8,594.9 471.4,596.3 472.2,594.2 472.9,595.1 473.7,593.7 474.4,594.5 475,595 475.4,597.2 476.2,596.5 477.3,594.5 477.5,597.5 478.3,597.1 479,597.4 479.8,597.1 480.8,594.6 481.4,595.4 482.2,594.6 482.7,596.9 483.3,597.5 484.2,595.3 484.8,596.6 485.6,594.5 486.2,596.2 487,594.5 487.7,595.3 488.3,597.2 488.8,598.6 489.6,598.1 490.3,597.6 491.2,596.5 492.1,595.4 492.3,598.6 493,598.3 493.8,598.2 494.8,596.4 495.3,597.6 496.1,596.9 496.8,597.2 497.3,598.6 498,598.8 498.9,597.4 499.4,599.2 500.3,597 500.7,600 501.6,598.5 502.5,596.8 503.1,597.6 503.7,598.6 504.5,598 505,599.4 505.8,599.1 506.5,598.8 507.1,600 508.1,598 508.8,598.2 509.1,600.9 510.1,599.1 510.5,601.4 511.1,601.6 512,600.9 513,597.9 513.6,599.1 514.1,601.3 515,598.7 515.4,602.1 516.5,598.1 516.9,601.8 517.8,599.5 518.4,600.3 519.1,600.4 520,598.5 520.5,601.1 521.2,600.9 521.7,602.3 522.7,600.1 523.1,602.8 524.3,598.9 524.4,603 525.1,602.9 526.1,601.1 526.5,603 527.6,600.4 528.2,601.2 529,600.6 529.4,603.5 530.5,600.3 531.2,600 531.9,599.8 532.4,602.3 533,603.1 533.8,601.7 534.7,600.7 535,603.9 535.7,604.2 536.8,600.5 537.5,600.7 538,603.1 538.8,602 539.6,600.9 540.1,603.2 540.7,604.4 541.6,601.9 542.2,603.2 542.8,604.1 543.6,603.2 544.3,602.6 545,603.4 545.8,601.6 546.3,604.5 547.2,602.1 547.9,602.2 548.6,602.1 549.1,604.7 549.9,604.1 550.7,602.1 551.2,605.3 552,603.7 552.8,602.5 553.4,603.1 554.1,603 554.9,602.4 555.5,604.5 556.2,604.5 556.8,605 557.6,603.5 558.2,605.8 559,604.4 559.8,602 560.5,602.4 561.1,603.4 561.8,604.3 562.6,602.5 563.2,604.1 563.8,606.2 564.6,604.9 565.3,604.8 566,603.2 566.8,602.6 567.4,604.5 568.1,604.2 568.8,605.2 569.4,606.4 570.2,604.1 571,602.4 571.6,605.4 572.4,602.4 573.1,603.1 573.6,605.8 574.3,606.5 575.2,603.1 575.9,603.5 576.4,606.4 577.2,604.9 577.8,606.1 578.5,606.1 579.4,603 580,605.3 580.6,606.2 581.4,605.5 582.1,605.4 582.8,604.6 583.5,604.5 584.2,605.6 585,603.4 585.5,606.2 586.3,605.4 587.1,603.4 587.7,605.2 588.4,604.9 589.2,603.9 589.8,606 590.5,605.6 591,607.6 592,604.2 592.6,606 593.5,604 593.8,607.7 594.6,606.8 595.3,607.2 596.2,605.5" stroke="#007c00" stroke-width="0.8" fill="none"/><polyline points="359.5,619.1 361.1,612.5 361.5,607.8 363.5,604.8 366.5,603.5 369.8,603.1 371.9,601.6 373.3,598.9 376,598.7 378.6,598.5 379,594.1 382.4,594.5 384.9,594.7 387,594.5 388.7,591.2 391.1,592.3 393.3,591.8 395.6,591.5 397.6,594.2 399.9,593.2 402.1,593.2 404.3,591.8 406.5,594 408.7,590.9 411,595.2 413.1,592.8 415.3,591.3 417.5,592.6 419.6,594 421.8,594.7 424.1,595 426.5,594.3 428.4,592.1 430.6,591.4 432.9,593.3 435.1,592.3 437.3,593 439.3,594.9 441.9,591.4 444.1,591.2 446.2,592.4 448.3,593.3 450.6,592.9 452.6,596 454.9,593.9 457.1,593.6 459.3,593.8 461.5,595.1 463.7,594.5 466,592.9 468.1,594.8 470.3,596.1 472.4,596.3 474.4,597.5 477,595 478.8,597.5 481.2,596.9 483.6,594.3 485.7,597.4 487.7,599 490.2,595.7 492.4,596.6 494.7,596.5 496.5,598.9 498.7,600.1 501.2,597.2 503.4,598.1 505.3,600.3 507.5,601 509.6,601.7 511.9,601.1 514.2,601.1 516.6,599.2 518.8,599.2 521,599.9 523,601.9 525.3,601.2 527.6,601 529.8,601.2 531.8,602.5 534,602.9 536.3,602.6 538.3,604.9 540.6,604.7 542.9,602.8 545.2,602.1 547.3,602.9 549.6,601.2 551.7,603.4 554,601.7 556,605.3 558.3,603.3 560.6,602.7 562.7,603.7 564.9,603 567.2,602.3 569.3,604.3 571.5,604 573.8,603.2 575.9,603.8 578.2,603.7 580.2,606.6 582.6,604.2 584.8,604.3 587,604 589,606.8 591.2,606.3 593.4,607 595.8,605.1" stroke="#d9a35a" stroke-width="0.5" stroke-opacity="0.8" fill="none"/><polyline points="358.5,618.9 361.6,613.2 361,608.3 364.1,606.7 365.9,604.4 367.5,602.1 370.9,602.6 372.2,600.2 374.3,599.2 375.8,597.1 378.2,597.1 380.6,596.5 381.6,593.5 383.8,592.8 386,592.4 388.1,592.7 390.1,592.2 392.1,592.4 394.1,592.9 396,593.7 398.1,593.7 400.1,593.3 402.1,594.1 404.1,592.5 406.1,592.5 408.1,592 410.1,593.8 412.1,592.4 414.1,592.3 416.1,593.3 418.1,592.3 420.1,593.7 422.1,593.5 424.1,593.2 426.2,593.6 428.2,593.3 430,591.9 432.1,592.9 434.2,591.4 436.2,591.8 438.1,593.1 440.2,591.9 442.1,593.7 444,594.8 446,594.9 448.2,593.1 450.2,592.6 452.2,593.1 454.1,594.8 456.1,594.5 458.1,594.5 460.1,595.6 462.2,592.8 464,596.1 466.1,594.7 468.1,594.5 470.1,595.7 472.2,594 474,596.6 476,595.8 477.9,596.9 480.3,594.5 482.2,594.9 484,597.9 486.2,595 488,597.5 490.3,595 492.2,596.2 494.3,596.6 495.9,599 498.2,597.3 500.2,597.2 502.3,596.7 504.2,597.9 505.9,600.3 508.1,599.3 510.4,597.8 512.3,598.2 514.2,599.1 516,601.2 518.2,599.2 520.2,598.7 521.9,602.4 523.9,602.5 526,601.6 528.3,600.3 530.1,602 532.2,600.9 534,602.7 536.3,600.6 538,603.4 540,604.1 542,603.9 544.2,602 546.2,601.6 548,604.9 550.1,603.1 552.1,604.3 554,605.1 556.2,602.7 558,605.6 560.1,603.3 562.1,604.5 564.1,605.1 566.1,604.3 568.1,604.9 570.1,605.7 572,605.9 574.1,604 576.2,602.7 578.1,604.4 580,606.1 582.2,603.1 584,605.9 586.2,604.4 588,606.2 590.1,605.3 592,606.6 594.1,606.4 596.2,604.7" stroke="#5cb85c" stroke-width="0.5" stroke-opacity="0.8" fill="none"/><path d="M350.2 549.75V674.1" stroke="#5a5a5a" stroke-width="0.9"/><path d="M596.2 544V674.1" stroke="#5a5a5a" stroke-width="0.9"/><path d="M350.2 674.1H596.2" stroke="#5a5a5a" stroke-width="0.9"/><path d="M350.2 665.81h1M350.2 657.52h1M350.2 649.23h1M350.2 640.94h1M350.2 632.65h1M350.2 624.36h1M350.2 616.07h1M350.2 607.78h1M350.2 599.49h1M350.2 591.2h1M350.2 582.91h1M350.2 574.62h1M350.2 566.33h1M350.2 558.04h1M350.2 549.75h1M358.4 674.1v1M366.6 674.1v1M374.8 674.1v1M383 674.1v1M391.2 674.1v1M399.4 674.1v1M407.6 674.1v1M415.8 674.1v1M424 674.1v1M432.2 674.1v1M440.4 674.1v1M448.6 674.1v1M456.8 674.1v1M465 674.1v1M473.2 674.1v1M481.4 674.1v1M489.6 674.1v1M497.8 674.1v1M506 674.1v1M514.2 674.1v1M522.4 674.1v1M530.6 674.1v1M538.8 674.1v1M547 674.1v1M555.2 674.1v1M563.4 674.1v1M571.6 674.1v1M579.8 674.1v1M588 674.1v1M597.32 662.7h1M597.32 650.13h1M597.32 637.57h1M597.32 625h1M597.32 612.43h1M597.32 599.87h1M597.32 587.3h1M597.32 574.73h1M597.32 562.17h1M597.32 549.6h1" stroke="#555" stroke-width="0.8" fill="none"/><rect x="437.78" y="670.8" width="11.48" height="4.6" fill="#fff"/><text transform="translate(348.7 667) scale(1.201 1)" font-size="3.32" text-anchor="end" fill="#4a4452" stroke="#4a4452" stroke-width="0.15">0.1</text><text transform="translate(348.7 658.71) scale(1.201 1)" font-size="3.32" text-anchor="end" fill="#4a4452" stroke="#4a4452" stroke-width="0.15">0.2</text><text transform="translate(348.7 650.42) scale(1.201 1)" font-size="3.32" text-anchor="end" fill="#4a4452" stroke="#4a4452" stroke-width="0.15">0.3</text><text transform="translate(348.7 642.13) scale(1.201 1)" font-size="3.32" text-anchor="end" fill="#4a4452" stroke="#4a4452" stroke-width="0.15">0.4</text><text transform="translate(348.7 633.84) scale(1.201 1)" font-size="3.32" text-anchor="end" fill="#4a4452" stroke="#4a4452" stroke-width="0.15">0.5</text><text transform="translate(348.7 625.55) scale(1.201 1)" font-size="3.32" text-anchor="end" fill="#4a4452" stroke="#4a4452" stroke-width="0.15">0.6</text><text transform="translate(348.7 617.26) scale(1.201 1)" font-size="3.32" text-anchor="end" fill="#4a4452" stroke="#4a4452" stroke-width="0.15">0.7</text><text transform="translate(348.7 608.97) scale(1.201 1)" font-size="3.32" text-anchor="end" fill="#4a4452" stroke="#4a4452" stroke-width="0.15">0.8</text><text transform="translate(348.7 600.68) scale(1.201 1)" font-size="3.32" text-anchor="end" fill="#4a4452" stroke="#4a4452" stroke-width="0.15">0.9</text><text transform="translate(348.7 592.39) scale(1.201 1)" font-size="3.32" text-anchor="end" fill="#4a4452" stroke="#4a4452" stroke-width="0.15">1</text><text transform="translate(348.7 584.1) scale(1.201 1)" font-size="3.32" text-anchor="end" fill="#4a4452" stroke="#4a4452" stroke-width="0.15">1.1</text><text transform="translate(348.7 575.81) scale(1.201 1)" font-size="3.32" text-anchor="end" fill="#4a4452" stroke="#4a4452" stroke-width="0.15">1.2</text><text transform="translate(348.7 567.52) scale(1.201 1)" font-size="3.32" text-anchor="end" fill="#4a4452" stroke="#4a4452" stroke-width="0.15">1.3</text><text transform="translate(348.7 559.23) scale(1.201 1)" font-size="3.32" text-anchor="end" fill="#4a4452" stroke="#4a4452" stroke-width="0.15">1.4</text><text transform="translate(348.7 550.94) scale(1.201 1)" font-size="3.32" text-anchor="end" fill="#4a4452" stroke="#4a4452" stroke-width="0.15">1.5</text><text transform="translate(358.4 678.72) scale(1.075 1)" font-size="3.11" text-anchor="middle" fill="#4a4452" stroke="#4a4452" stroke-width="0.15">1</text><text transform="translate(366.6 678.72) scale(1.075 1)" font-size="3.11" text-anchor="middle" fill="#4a4452" stroke="#4a4452" stroke-width="0.15">2</text><text transform="translate(374.8 678.72) scale(1.075 1)" font-size="3.11" text-anchor="middle" fill="#4a4452" stroke="#4a4452" stroke-width="0.15">3</text><text transform="translate(383 678.72) scale(1.075 1)" font-size="3.11" text-anchor="middle" fill="#4a4452" stroke="#4a4452" stroke-width="0.15">4</text><text transform="translate(391.2 678.72) scale(1.075 1)" font-size="3.11" text-anchor="middle" fill="#4a4452" stroke="#4a4452" stroke-width="0.15">5</text><text transform="translate(399.4 678.72) scale(1.075 1)" font-size="3.11" text-anchor="middle" fill="#4a4452" stroke="#4a4452" stroke-width="0.15">6</text><text transform="translate(407.6 678.72) scale(1.075 1)" font-size="3.11" text-anchor="middle" fill="#4a4452" stroke="#4a4452" stroke-width="0.15">7</text><text transform="translate(415.8 678.72) scale(1.075 1)" font-size="3.11" text-anchor="middle" fill="#4a4452" stroke="#4a4452" stroke-width="0.15">8</text><text transform="translate(424 678.72) scale(1.075 1)" font-size="3.11" text-anchor="middle" fill="#4a4452" stroke="#4a4452" stroke-width="0.15">9</text><text transform="translate(432.2 678.72) scale(1.075 1)" font-size="3.11" text-anchor="middle" fill="#4a4452" stroke="#4a4452" stroke-width="0.15">10</text><text transform="translate(440.4 678.72) scale(1.075 1)" font-size="3.11" text-anchor="middle" fill="#4a4452" stroke="#4a4452" stroke-width="0.15">11</text><text transform="translate(448.6 678.72) scale(1.075 1)" font-size="3.11" text-anchor="middle" fill="#4a4452" stroke="#4a4452" stroke-width="0.15">12</text><text transform="translate(456.8 678.72) scale(1.075 1)" font-size="3.11" text-anchor="middle" fill="#4a4452" stroke="#4a4452" stroke-width="0.15">13</text><text transform="translate(465 678.72) scale(1.075 1)" font-size="3.11" text-anchor="middle" fill="#4a4452" stroke="#4a4452" stroke-width="0.15">14</text><text transform="translate(473.2 678.72) scale(1.075 1)" font-size="3.11" text-anchor="middle" fill="#4a4452" stroke="#4a4452" stroke-width="0.15">15</text><text transform="translate(481.4 678.72) scale(1.075 1)" font-size="3.11" text-anchor="middle" fill="#4a4452" stroke="#4a4452" stroke-width="0.15">16</text><text transform="translate(489.6 678.72) scale(1.075 1)" font-size="3.11" text-anchor="middle" fill="#4a4452" stroke="#4a4452" stroke-width="0.15">17</text><text transform="translate(497.8 678.72) scale(1.075 1)" font-size="3.11" text-anchor="middle" fill="#4a4452" stroke="#4a4452" stroke-width="0.15">18</text><text transform="translate(506 678.72) scale(1.075 1)" font-size="3.11" text-anchor="middle" fill="#4a4452" stroke="#4a4452" stroke-width="0.15">19</text><text transform="translate(514.2 678.72) scale(1.075 1)" font-size="3.11" text-anchor="middle" fill="#4a4452" stroke="#4a4452" stroke-width="0.15">20</text><text transform="translate(522.4 678.72) scale(1.075 1)" font-size="3.11" text-anchor="middle" fill="#4a4452" stroke="#4a4452" stroke-width="0.15">21</text><text transform="translate(530.6 678.72) scale(1.075 1)" font-size="3.11" text-anchor="middle" fill="#4a4452" stroke="#4a4452" stroke-width="0.15">22</text><text transform="translate(538.8 678.72) scale(1.075 1)" font-size="3.11" text-anchor="middle" fill="#4a4452" stroke="#4a4452" stroke-width="0.15">23</text><text transform="translate(547 678.72) scale(1.075 1)" font-size="3.11" text-anchor="middle" fill="#4a4452" stroke="#4a4452" stroke-width="0.15">24</text><text transform="translate(555.2 678.72) scale(1.075 1)" font-size="3.11" text-anchor="middle" fill="#4a4452" stroke="#4a4452" stroke-width="0.15">25</text><text transform="translate(563.4 678.72) scale(1.075 1)" font-size="3.11" text-anchor="middle" fill="#4a4452" stroke="#4a4452" stroke-width="0.15">26</text><text transform="translate(571.6 678.72) scale(1.075 1)" font-size="3.11" text-anchor="middle" fill="#4a4452" stroke="#4a4452" stroke-width="0.15">27</text><text transform="translate(579.8 678.72) scale(1.075 1)" font-size="3.11" text-anchor="middle" fill="#4a4452" stroke="#4a4452" stroke-width="0.15">28</text><text transform="translate(588 678.72) scale(1.075 1)" font-size="3.11" text-anchor="middle" fill="#4a4452" stroke="#4a4452" stroke-width="0.15">29</text><text transform="translate(606.04 663.82) scale(1.138 1)" font-size="3.11" text-anchor="end" fill="#333" stroke="#333" stroke-width="0.15">10</text><text transform="translate(606.04 651.25) scale(1.138 1)" font-size="3.11" text-anchor="end" fill="#333" stroke="#333" stroke-width="0.15">20</text><text transform="translate(606.04 638.69) scale(1.138 1)" font-size="3.11" text-anchor="end" fill="#333" stroke="#333" stroke-width="0.15">30</text><text transform="translate(606.04 626.12) scale(1.138 1)" font-size="3.11" text-anchor="end" fill="#333" stroke="#333" stroke-width="0.15">40</text><text transform="translate(606.04 613.55) scale(1.138 1)" font-size="3.11" text-anchor="end" fill="#333" stroke="#333" stroke-width="0.15">50</text><text transform="translate(606.04 600.99) scale(1.138 1)" font-size="3.11" text-anchor="end" fill="#333" stroke="#333" stroke-width="0.15">60</text><text transform="translate(606.04 588.42) scale(1.138 1)" font-size="3.11" text-anchor="end" fill="#333" stroke="#333" stroke-width="0.15">70</text><text transform="translate(606.04 575.85) scale(1.138 1)" font-size="3.11" text-anchor="end" fill="#333" stroke="#333" stroke-width="0.15">80</text><text transform="translate(606.04 563.29) scale(1.138 1)" font-size="3.11" text-anchor="end" fill="#333" stroke="#333" stroke-width="0.15">90</text><text transform="translate(606.04 550.72) scale(1.138 1)" font-size="3.11" text-anchor="end" fill="#333" stroke="#333" stroke-width="0.15">100</text><text transform="translate(340.4 611.92) rotate(-90) scale(0.765 1)" font-size="4.21" text-anchor="middle" fill="#555" stroke="#555" stroke-width="0.15">Torque(Nm)</text><text transform="translate(611.05 609.62) rotate(90) scale(0.745 1)" font-size="5.43" text-anchor="middle" fill="#333" stroke="#333" stroke-width="0.1">Temperature     (°C)</text><text transform="translate(472.38 684.67) scale(1.092 1)" font-size="3.26" text-anchor="middle" fill="#333" stroke="#333" stroke-width="0.15">Time (min)</text><path d="M337.08 685.3H596.2V674.1" stroke="#dcf3dc" stroke-width="0.9" fill="none"/><text transform="translate(337.49 690.58) scale(1.238 1)" font-size="3.55" fill="#1a1a1a" stroke="#1a1a1a" stroke-width="0.15">amara</text><text transform="translate(419.9 690.58) scale(1.238 1)" font-size="3.55" fill="#1a1a1a" stroke="#1a1a1a" stroke-width="0.15">Mixing</text><text transform="translate(462.54 690.58) scale(1.238 1)" font-size="3.55" fill="#1a1a1a" stroke="#1a1a1a" stroke-width="0.15">1/2</text><text transform="translate(491.24 690.58) scale(1.238 1)" font-size="3.55" fill="#1a1a1a" stroke="#1a1a1a" stroke-width="0.15">Device N°</text><text transform="translate(525.68 690.58) scale(1.238 1)" font-size="3.55" fill="#1a1a1a" stroke="#1a1a1a" stroke-width="0.15">499</text><text transform="translate(544.95 690.58) scale(1.238 1)" font-size="3.55" fill="#1a1a1a" stroke="#1a1a1a" stroke-width="0.15">Version4.0.8r4.1i</text><text transform="translate(599.48 690.58) scale(1.238 1)" font-size="3.55" fill="#1a1a1a" stroke="#1a1a1a" stroke-width="0.15">TNC</text><text x="363.5" y="566.3" font-family='"Liberation Serif", serif' font-weight="bold" font-size="12" fill="#000">D11</text></g></svg></body></html>
